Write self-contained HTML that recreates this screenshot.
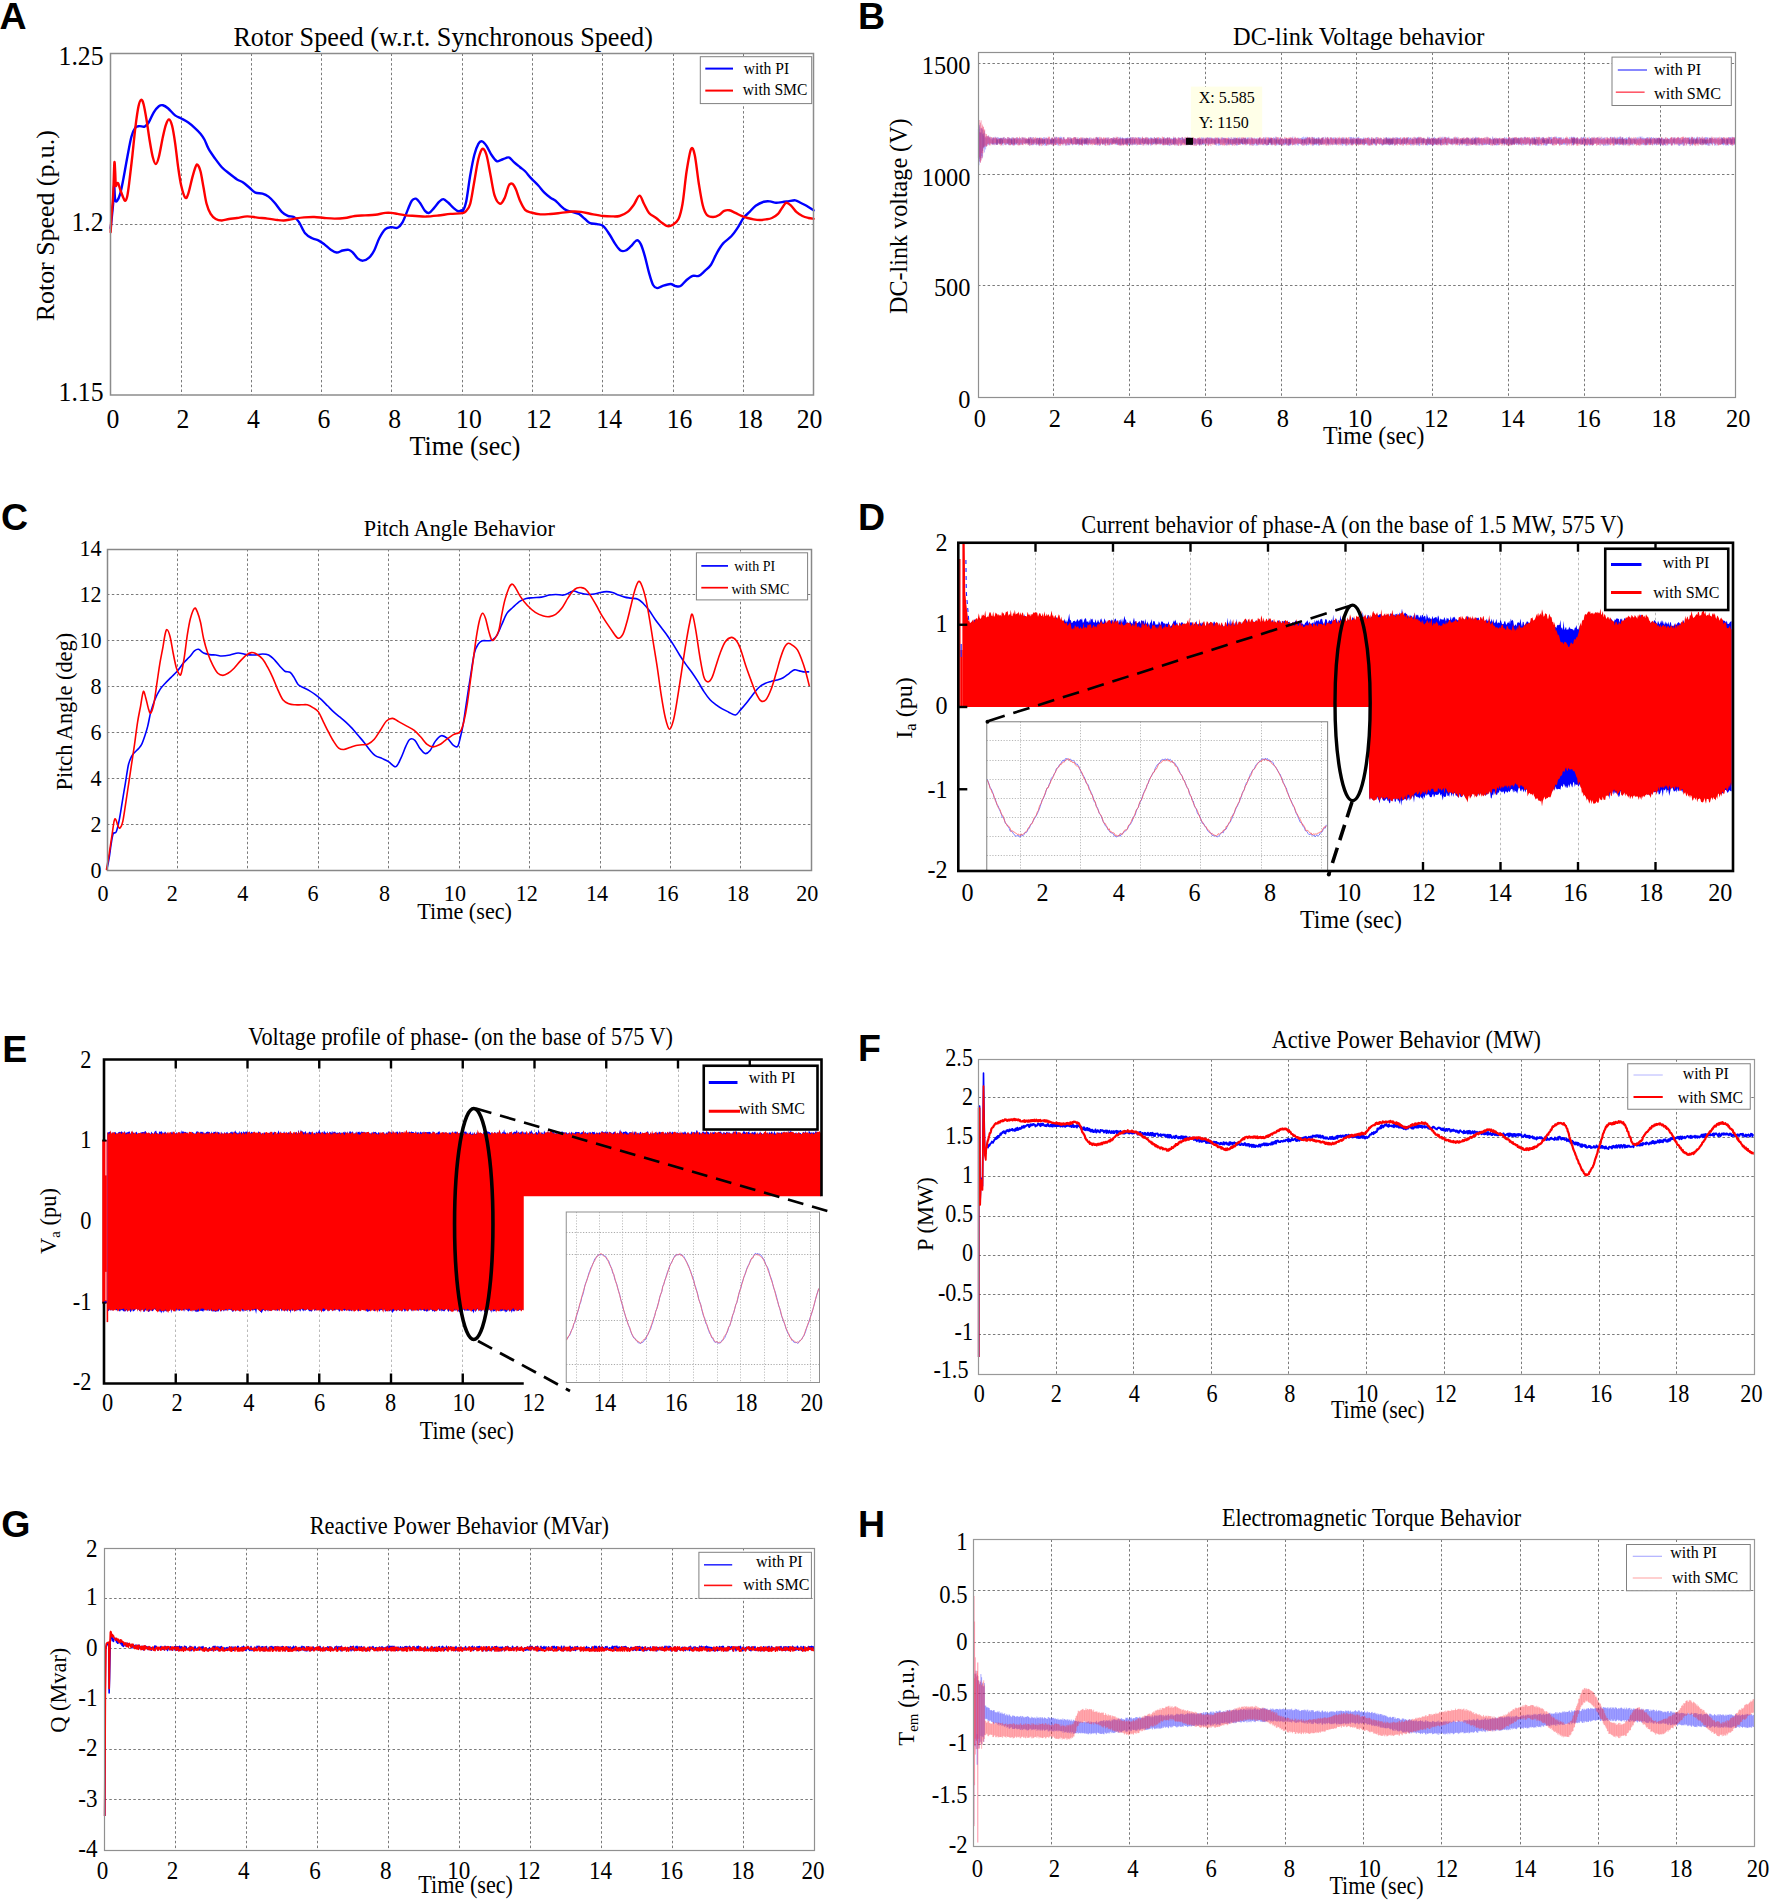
<!DOCTYPE html>
<html><head><meta charset="utf-8"><title>Figure</title><style>html,body{margin:0;padding:0;background:#fff;}svg{display:block;}</style></head><body>
<svg width="1772" height="1902" viewBox="0 0 1772 1902" font-family="Liberation Serif,Times New Roman,serif">
<rect width="1772" height="1902" fill="#fff"/>
<line x1="181.5" y1="53.5" x2="181.5" y2="395" stroke="#7a7a7a" stroke-width="1" stroke-dasharray="2.5,2.3"/>
<line x1="251.5" y1="53.5" x2="251.5" y2="395" stroke="#7a7a7a" stroke-width="1" stroke-dasharray="2.5,2.3"/>
<line x1="321.5" y1="53.5" x2="321.5" y2="395" stroke="#7a7a7a" stroke-width="1" stroke-dasharray="2.5,2.3"/>
<line x1="391.5" y1="53.5" x2="391.5" y2="395" stroke="#7a7a7a" stroke-width="1" stroke-dasharray="2.5,2.3"/>
<line x1="462.5" y1="53.5" x2="462.5" y2="395" stroke="#7a7a7a" stroke-width="1" stroke-dasharray="2.5,2.3"/>
<line x1="532.5" y1="53.5" x2="532.5" y2="395" stroke="#7a7a7a" stroke-width="1" stroke-dasharray="2.5,2.3"/>
<line x1="602.5" y1="53.5" x2="602.5" y2="395" stroke="#7a7a7a" stroke-width="1" stroke-dasharray="2.5,2.3"/>
<line x1="673.5" y1="53.5" x2="673.5" y2="395" stroke="#7a7a7a" stroke-width="1" stroke-dasharray="2.5,2.3"/>
<line x1="743.5" y1="53.5" x2="743.5" y2="395" stroke="#7a7a7a" stroke-width="1" stroke-dasharray="2.5,2.3"/>
<line x1="110.8" y1="224.5" x2="813.7" y2="224.5" stroke="#7a7a7a" stroke-width="1" stroke-dasharray="2.5,2.3"/>
<path d="M110.69 228.16C111.1 224.09 112.55 210.89 113.13 203.77C113.7 196.66 113.8 186.17 114.14 185.49C114.48 184.81 114.65 197.17 115.16 199.71C115.67 202.25 116.34 201.74 117.19 200.73C118.04 199.71 119.22 197.17 120.24 193.62C121.25 190.06 122.1 185.49 123.29 179.39C124.47 173.3 125.99 164.16 127.35 157.05C128.7 149.93 130.06 141.64 131.41 136.73C132.77 131.82 134.12 129.35 135.48 127.59C136.83 125.83 138.02 126.33 139.54 126.16C141.06 125.99 143.09 127.18 144.62 126.57C146.14 125.96 147.16 124.88 148.68 122.51C150.21 120.14 152.07 115.06 153.76 112.35C155.45 109.64 157.32 107.44 158.84 106.25C160.36 105.07 161.38 104.9 162.9 105.24C164.43 105.58 165.95 106.59 167.98 108.29C170.01 109.98 172.89 113.7 175.09 115.4C177.29 117.09 178.99 117.26 181.19 118.44C183.39 119.63 186.1 120.98 188.3 122.51C190.5 124.03 192.36 125.72 194.39 127.59C196.43 129.45 198.8 131.65 200.49 133.68C202.18 135.71 203.2 137.24 204.55 139.78C205.91 142.32 206.92 145.87 208.62 148.92C210.31 151.97 212.51 155.01 214.71 158.06C216.91 161.11 219.45 164.66 221.82 167.2C224.19 169.74 226.39 171.27 228.93 173.3C231.47 175.33 234.69 177.87 237.06 179.39C239.43 180.92 241.12 181.09 243.16 182.44C245.19 183.8 247.22 185.83 249.25 187.52C251.28 189.21 253.14 191.58 255.35 192.6C257.55 193.62 260.26 192.94 262.46 193.62C264.66 194.29 266.52 195.14 268.55 196.66C270.58 198.19 272.45 200.22 274.65 202.76C276.85 205.3 279.56 209.7 281.76 211.9C283.96 214.1 285.82 215.12 287.85 215.97C289.88 216.81 292.09 215.97 293.95 216.98C295.81 218 297.16 219.35 299.03 222.06C300.89 224.77 302.92 230.53 305.12 233.23C307.32 235.94 310.03 237.13 312.23 238.31C314.43 239.5 316.3 239.33 318.33 240.35C320.36 241.36 322.39 242.89 324.42 244.41C326.45 245.93 328.49 248.13 330.52 249.49C332.55 250.84 334.58 252.37 336.61 252.54C338.64 252.7 340.68 250.94 342.71 250.5C344.74 250.06 347.11 249.56 348.8 249.89C350.5 250.23 351.34 251.08 352.87 252.54C354.39 253.99 356.25 257.28 357.95 258.63C359.64 259.99 361.16 260.83 363.03 260.66C364.89 260.49 367.26 259.31 369.12 257.61C370.98 255.92 372.51 253.72 374.2 250.5C375.89 247.29 377.42 241.87 379.28 238.31C381.14 234.76 383.34 231.03 385.37 229.17C387.41 227.31 389.44 227.38 391.47 227.14C393.5 226.9 395.7 228.6 397.56 227.75C399.43 226.9 400.95 225.04 402.64 222.06C404.34 219.08 406.2 213.43 407.72 209.87C409.25 206.31 410.43 202.59 411.79 200.73C413.14 198.86 414.49 198.36 415.85 198.7C417.2 199.03 418.39 200.73 419.91 202.76C421.44 204.79 423.47 209.19 424.99 210.89C426.52 212.58 427.53 213.43 429.06 212.92C430.58 212.41 432.44 209.7 434.13 207.84C435.83 205.98 437.69 203.2 439.21 201.74C440.74 200.29 441.75 198.93 443.28 199.1C444.8 199.27 446.66 201.3 448.36 202.76C450.05 204.22 451.74 206.42 453.44 207.84C455.13 209.26 456.99 210.95 458.51 211.29C460.04 211.63 461.88 209.84 462.58 209.87C463.28 209.9 462.12 212.85 462.72 211.5C463.32 210.14 464.92 207.77 466.17 201.74C467.43 195.72 468.88 183.12 470.24 175.33C471.59 167.54 472.95 160.26 474.3 155.01C475.66 149.77 477.08 146.11 478.36 143.84C479.65 141.57 480.67 141.06 482.02 141.4C483.38 141.74 484.9 143.6 486.49 145.87C488.08 148.14 489.88 152.47 491.57 155.01C493.26 157.55 495.13 160.26 496.65 161.11C498.17 161.96 499.19 160.6 500.71 160.09C502.24 159.59 504.34 158.47 505.79 158.06C507.25 157.66 508.09 156.98 509.45 157.66C510.8 158.33 512.16 160.53 513.92 162.13C515.68 163.72 518.15 165.68 520.01 167.2C521.88 168.73 523.23 169.41 525.09 171.27C526.96 173.13 528.99 176.01 531.19 178.38C533.39 180.75 536.1 183.12 538.3 185.49C540.5 187.86 542.36 190.57 544.39 192.6C546.43 194.63 548.63 196.33 550.49 197.68C552.35 199.03 553.88 199.37 555.57 200.73C557.26 202.08 558.96 204.28 560.65 205.81C562.34 207.33 563.86 208.85 565.73 209.87C567.59 210.89 569.62 211.22 571.82 211.9C574.02 212.58 576.73 212.75 578.93 213.93C581.13 215.12 583.17 217.49 585.03 219.01C586.89 220.54 588.08 222.23 590.11 223.08C592.14 223.92 595.02 223.58 597.22 224.09C599.42 224.6 601.28 224.43 603.31 226.12C605.35 227.82 607.38 231.2 609.41 234.25C611.44 237.3 613.64 241.7 615.5 244.41C617.37 247.12 618.89 249.49 620.58 250.5C622.28 251.52 623.97 251.18 625.66 250.5C627.36 249.83 628.88 248.13 630.74 246.44C632.6 244.75 635.14 240.68 636.84 240.35C638.53 240.01 639.55 241.7 640.9 244.41C642.25 247.12 643.61 251.86 644.96 256.6C646.32 261.34 647.67 268.11 649.03 272.85C650.38 277.59 651.74 282.5 653.09 285.04C654.44 287.58 655.63 287.92 657.15 288.09C658.68 288.26 660.03 286.74 662.23 286.06C664.43 285.38 668.16 284.03 670.36 284.03C672.56 284.03 673.75 285.72 675.44 286.06C677.13 286.4 678.66 287.07 680.52 286.06C682.38 285.04 684.58 281.66 686.61 279.96C688.64 278.27 690.68 276.58 692.71 275.9C694.74 275.22 696.77 276.75 698.8 275.9C700.84 275.05 702.87 272.68 704.9 270.82C706.93 268.96 708.96 267.77 710.99 264.73C713.03 261.68 715.06 256.09 717.09 252.54C719.12 248.98 720.81 246.1 723.18 243.39C725.55 240.68 728.94 238.82 731.31 236.28C733.68 233.74 735.37 231.2 737.41 228.16C739.44 225.11 741.47 220.71 743.5 218C745.53 215.29 747.56 213.93 749.6 211.9C751.63 209.87 753.32 207.5 755.69 205.81C758.06 204.11 761.45 202.49 763.82 201.74C766.19 201 767.88 201.17 769.91 201.34C771.94 201.51 773.98 202.62 776.01 202.76C778.04 202.89 780.07 202.39 782.1 202.15C784.13 201.91 786 201.64 788.2 201.34C790.4 201.03 793.28 200.08 795.31 200.32C797.34 200.56 798.53 201.84 800.39 202.76C802.25 203.67 804.28 204.55 806.48 205.81C808.68 207.06 812.41 209.53 813.59 210.28" fill="none" stroke="#0000ff" stroke-width="2.4" stroke-linejoin="round" stroke-linecap="round"/>
<path d="M110.69 232.22C110.82 229.51 111.1 222.06 111.5 215.97C111.91 209.87 112.65 204.45 113.13 195.65C113.6 186.84 114.01 167.2 114.35 163.14C114.68 159.08 114.92 167.54 115.16 171.27C115.4 174.99 115.5 183.46 115.77 185.49C116.04 187.52 116.38 183.8 116.78 183.46C117.19 183.12 117.63 182.44 118.21 183.46C118.78 184.47 119.39 187.18 120.24 189.55C121.08 191.92 122.44 195.82 123.29 197.68C124.13 199.54 124.64 201.07 125.32 200.73C125.99 200.39 126.67 198.86 127.35 195.65C128.03 192.43 128.53 188.2 129.38 181.43C130.23 174.65 131.41 164.16 132.43 155.01C133.44 145.87 134.46 134.7 135.48 126.57C136.49 118.44 137.57 110.72 138.52 106.25C139.47 101.78 140.32 100.09 141.16 99.75C142.01 99.41 142.69 100.77 143.6 104.22C144.52 107.68 145.63 114.38 146.65 120.48C147.67 126.57 148.68 134.7 149.7 140.79C150.71 146.89 151.73 153.15 152.74 157.05C153.76 160.94 154.78 164.16 155.79 164.16C156.81 164.16 157.65 161.62 158.84 157.05C160.03 152.47 161.72 142.15 162.9 136.73C164.09 131.31 164.93 127.42 165.95 124.54C166.97 121.66 167.98 119.29 169 119.46C170.01 119.63 171.03 121.66 172.05 125.55C173.06 129.45 174.08 135.88 175.09 142.82C176.11 149.77 177.13 160.09 178.14 167.2C179.16 174.32 180 180.41 181.19 185.49C182.37 190.57 184.07 196.33 185.25 197.68C186.44 199.03 187.11 197 188.3 193.62C189.48 190.23 191.18 181.76 192.36 177.36C193.55 172.96 194.56 169.3 195.41 167.2C196.26 165.1 196.6 164.09 197.44 164.77C198.29 165.44 199.47 167.48 200.49 171.27C201.51 175.06 202.52 182.1 203.54 187.52C204.55 192.94 205.4 199.37 206.58 203.77C207.77 208.18 209.12 211.39 210.65 213.93C212.17 216.47 213.86 217.93 215.73 219.01C217.59 220.1 219.62 220.43 221.82 220.43C224.02 220.43 226.39 219.42 228.93 219.01C231.47 218.61 234.01 218.44 237.06 218C240.11 217.56 243.83 216.44 247.22 216.37C250.6 216.3 253.99 217.22 257.38 217.59C260.76 217.96 264.15 218.2 267.54 218.61C270.92 219.01 274.99 219.72 277.69 220.03C280.4 220.33 281.76 220.5 283.79 220.43C285.82 220.37 287.85 219.96 289.88 219.62C291.92 219.28 293.61 218.78 295.98 218.4C298.35 218.03 301.06 217.62 304.11 217.39C307.15 217.15 310.88 216.88 314.26 216.98C317.65 217.08 321.04 217.73 324.42 218C327.81 218.27 331.2 218.61 334.58 218.61C337.97 218.61 341.35 218.44 344.74 218C348.13 217.56 351.51 216.41 354.9 215.97C358.28 215.52 361.67 215.56 365.06 215.36C368.44 215.15 371.83 215.15 375.22 214.75C378.6 214.34 382.66 213.22 385.37 212.92C388.08 212.61 389.44 212.75 391.47 212.92C393.5 213.09 395.19 213.53 397.56 213.93C399.93 214.34 402.64 215.02 405.69 215.36C408.74 215.69 412.46 215.76 415.85 215.97C419.24 216.17 422.28 216.64 426.01 216.57C429.73 216.51 434.13 216 438.2 215.56C442.26 215.12 446.32 214.34 450.39 213.93C454.45 213.53 459.95 213.63 462.58 213.12C465.21 212.61 464.9 212.44 466.17 210.89C467.45 209.33 468.88 208.68 470.24 203.77C471.59 198.86 472.95 188.88 474.3 181.43C475.66 173.98 477.01 164.5 478.36 159.08C479.72 153.66 481.07 149.6 482.43 148.92C483.78 148.24 485.14 150.61 486.49 155.01C487.85 159.42 489.2 168.56 490.55 175.33C491.91 182.1 493.03 190.91 494.62 195.65C496.21 200.39 498.41 203.44 500.1 203.77C501.8 204.11 503.32 200.73 504.78 197.68C506.23 194.63 507.55 187.79 508.84 185.49C510.13 183.19 511.31 183.19 512.5 183.86C513.68 184.54 514.7 186.74 515.95 189.55C517.2 192.36 518.49 197.34 520.01 200.73C521.54 204.11 523.23 207.91 525.09 209.87C526.96 211.83 528.65 211.77 531.19 212.51C533.73 213.26 537.11 214.1 540.33 214.34C543.55 214.58 547.1 214.17 550.49 213.93C553.88 213.7 556.92 213.32 560.65 212.92C564.37 212.51 569.45 211.66 572.84 211.5C576.22 211.33 577.58 211.43 580.97 211.9C584.35 212.38 589.43 213.66 593.16 214.34C596.88 215.02 600.27 215.63 603.31 215.97C606.36 216.3 608.73 216.37 611.44 216.37C614.15 216.37 616.86 216.71 619.57 215.97C622.28 215.22 625.32 213.76 627.69 211.9C630.06 210.04 631.83 207.5 633.79 204.79C635.75 202.08 637.78 195.82 639.48 195.65C641.17 195.48 642.36 200.9 643.95 203.77C645.54 206.65 647 210.55 649.03 212.92C651.06 215.29 653.94 216.3 656.14 218C658.34 219.69 660.37 221.72 662.23 223.08C664.1 224.43 665.62 225.78 667.31 226.12C669.01 226.46 670.53 226.29 672.39 225.11C674.25 223.92 676.79 222.57 678.49 219.01C680.18 215.46 681.2 211.73 682.55 203.77C683.9 195.82 685.19 180.41 686.61 171.27C688.04 162.13 689.73 151.63 691.08 148.92C692.44 146.21 693.45 149.26 694.74 155.01C696.03 160.77 697.45 174.99 698.8 183.46C700.16 191.92 701.51 200.56 702.87 205.81C704.22 211.06 705.24 213.09 706.93 214.95C708.62 216.81 710.99 216.98 713.03 216.98C715.06 216.98 717.26 215.97 719.12 214.95C720.98 213.93 722.51 211.66 724.2 210.89C725.89 210.11 727.42 209.94 729.28 210.28C731.14 210.61 733.34 211.97 735.37 212.92C737.41 213.87 739.44 215.12 741.47 215.97C743.5 216.81 745.53 217.42 747.56 218C749.6 218.57 751.63 219.08 753.66 219.42C755.69 219.76 757.72 220.03 759.75 220.03C761.79 220.03 763.82 219.76 765.85 219.42C767.88 219.08 769.91 218.91 771.94 218C773.98 217.08 776.35 215.63 778.04 213.93C779.73 212.24 780.75 209.7 782.1 207.84C783.46 205.98 784.64 203.1 786.17 202.76C787.69 202.42 789.55 204.28 791.25 205.81C792.94 207.33 794.46 210.21 796.32 211.9C798.19 213.59 800.39 214.95 802.42 215.97C804.45 216.98 806.65 217.52 808.51 218C810.38 218.47 812.75 218.67 813.59 218.81" fill="none" stroke="#ff0000" stroke-width="2.4" stroke-linejoin="round" stroke-linecap="round"/>
<rect x="110.5" y="53.5" width="703" height="341.5" fill="none" stroke="#8c8c8c" stroke-width="1.5"/>
<rect x="700.3" y="56.7" width="111.4" height="46.9" fill="#fff" stroke="#808080" stroke-width="1"/>
<line x1="705.3" y1="68.6" x2="733" y2="68.6" stroke="#0000ff" stroke-width="2"/>
<line x1="705.3" y1="90.6" x2="733" y2="90.6" stroke="#ff0000" stroke-width="2"/>
<text transform="translate(743.7 74) scale(1 1.07)" font-size="15.6">with PI</text>
<text transform="translate(742.8 94.8) scale(1 1.07)" font-size="15.6">with SMC</text>
<text transform="translate(103.5 65) scale(1 1.06)" font-size="25.7" text-anchor="end">1.25</text>
<text transform="translate(103.5 231) scale(1 1.06)" font-size="25.7" text-anchor="end">1.2</text>
<text transform="translate(103.5 401.3) scale(1 1.06)" font-size="25.7" text-anchor="end">1.15</text>
<text transform="translate(113 427.5) scale(1 1.06)" font-size="25.7" text-anchor="middle">0</text>
<text transform="translate(183 427.5) scale(1 1.06)" font-size="25.7" text-anchor="middle">2</text>
<text transform="translate(253.4 427.5) scale(1 1.06)" font-size="25.7" text-anchor="middle">4</text>
<text transform="translate(323.8 427.5) scale(1 1.06)" font-size="25.7" text-anchor="middle">6</text>
<text transform="translate(394.6 427.5) scale(1 1.06)" font-size="25.7" text-anchor="middle">8</text>
<text transform="translate(468.9 427.5) scale(1 1.06)" font-size="25.7" text-anchor="middle">10</text>
<text transform="translate(538.8 427.5) scale(1 1.06)" font-size="25.7" text-anchor="middle">12</text>
<text transform="translate(609.2 427.5) scale(1 1.06)" font-size="25.7" text-anchor="middle">14</text>
<text transform="translate(679.6 427.5) scale(1 1.06)" font-size="25.7" text-anchor="middle">16</text>
<text transform="translate(750 427.5) scale(1 1.06)" font-size="25.7" text-anchor="middle">18</text>
<text transform="translate(809.5 427.5) scale(1 1.06)" font-size="25.7" text-anchor="middle">20</text>
<text transform="translate(409.5 455.4) scale(1 1.06)" font-size="25.7" textLength="111" lengthAdjust="spacingAndGlyphs">Time (sec)</text>
<text transform="translate(233.4 45.8) scale(1 1.06)" font-size="25.7" textLength="419.5" lengthAdjust="spacingAndGlyphs">Rotor Speed (w.r.t. Synchronous Speed)</text>
<text transform="translate(53.8,225.7) rotate(-90)" text-anchor="middle" font-size="25.7" textLength="191" lengthAdjust="spacingAndGlyphs">Rotor Speed (p.u.)</text>
<line x1="1053.5" y1="52.5" x2="1053.5" y2="397" stroke="#7a7a7a" stroke-width="1" stroke-dasharray="2.5,2.3"/>
<line x1="1129.5" y1="52.5" x2="1129.5" y2="397" stroke="#7a7a7a" stroke-width="1" stroke-dasharray="2.5,2.3"/>
<line x1="1205.5" y1="52.5" x2="1205.5" y2="397" stroke="#7a7a7a" stroke-width="1" stroke-dasharray="2.5,2.3"/>
<line x1="1281.5" y1="52.5" x2="1281.5" y2="397" stroke="#7a7a7a" stroke-width="1" stroke-dasharray="2.5,2.3"/>
<line x1="1356.5" y1="52.5" x2="1356.5" y2="397" stroke="#7a7a7a" stroke-width="1" stroke-dasharray="2.5,2.3"/>
<line x1="1432.5" y1="52.5" x2="1432.5" y2="397" stroke="#7a7a7a" stroke-width="1" stroke-dasharray="2.5,2.3"/>
<line x1="1508.5" y1="52.5" x2="1508.5" y2="397" stroke="#7a7a7a" stroke-width="1" stroke-dasharray="2.5,2.3"/>
<line x1="1584.5" y1="52.5" x2="1584.5" y2="397" stroke="#7a7a7a" stroke-width="1" stroke-dasharray="2.5,2.3"/>
<line x1="1660.5" y1="52.5" x2="1660.5" y2="397" stroke="#7a7a7a" stroke-width="1" stroke-dasharray="2.5,2.3"/>
<line x1="978" y1="63.5" x2="1735.8" y2="63.5" stroke="#7a7a7a" stroke-width="1" stroke-dasharray="2.5,2.3"/>
<line x1="978" y1="174.5" x2="1735.8" y2="174.5" stroke="#7a7a7a" stroke-width="1" stroke-dasharray="2.5,2.3"/>
<line x1="978" y1="285.5" x2="1735.8" y2="285.5" stroke="#7a7a7a" stroke-width="1" stroke-dasharray="2.5,2.3"/>
<path d="M978.4 129.06 V158.06 M979 129.21 V165.2 M979.6 124.91 V161.43 M980.2 132.71 V162.39 M980.8 128.23 V159.92 M981.4 128.58 V156.07 M982 128.29 V158.43 M982.6 134.29 V156.66 M983.2 133.79 V147.4 M983.8 135.74 V148.61 M984.4 130.87 V152.48 M985 137.64 V145.81 M985.6 137.27 V149.47 M986.2 135.85 V146.82 M986.8 138.18 V145.67 M987.4 136.53 V143.85 M988 136.52 V145.15 M988.6 135.52 V144.27 M989.2 137.88 V145.12 M989.8 136.86 V143.8 M990.4 137.42 V143.04 M991 139.53 V143.83 M991.6 138.55 V143.69 M992.2 137.77 V144.99 M992.8 138.69 V143.95 M993.4 137.39 V144.53 M994 137.65 V144.11 M994.6 138.48 V144.7 M995.2 136.7 V144 M995.8 138.7 V144.46 M996.4 138.25 V144.93 M997 136.96 V144.7 M997.6 138.83 V144.47 M998.2 137.32 V143.09 M998.8 137.77 V143.56 M999.4 138.35 V142.75 M1000 138.52 V143.9 M1000.6 137.7 V142.97 M1001.2 138.63 V143.79 M1001.8 137.91 V145 M1002.4 139.88 V143.5 M1003 137.45 V145.64 M1003.6 137.96 V143.39 M1004.2 137.07 V143.21 M1004.8 138.56 V143.82 M1005.4 138.24 V144.64 M1006 138.77 V145.08 M1006.6 138.5 V144.33 M1007.2 139.05 V143.7 M1007.8 137.09 V144.28 M1008.4 138.48 V144.7 M1009 137.43 V145.25 M1009.6 138.16 V143.23 M1010.2 138.83 V143.14 M1010.8 138.84 V145.13 M1011.4 138.92 V144.68 M1012 137.07 V144 M1012.6 139.36 V145.41 M1013.2 137.65 V144.91 M1013.8 139.29 V144.1 M1014.4 139.4 V145.54 M1015 138.13 V144.65 M1015.6 137.84 V144.63 M1016.2 139.39 V144.03 M1016.8 138.06 V144.9 M1017.4 137.37 V143.06 M1018 137.97 V143.16 M1018.6 138.57 V144.61 M1019.2 138.31 V144.64 M1019.8 138.6 V144.79 M1020.4 137.96 V143.85 M1021 138.95 V144.92 M1021.6 139.35 V143.6 M1022.2 136.9 V144.46 M1022.8 137.95 V144.13 M1023.4 137.92 V142.69 M1024 137.68 V144.3 M1024.6 139.01 V143.76 M1025.2 137.56 V142.98 M1025.8 138.87 V143.11 M1026.4 139.54 V142.85 M1027 139.09 V143.38 M1027.6 139.63 V143.22 M1028.2 138.67 V143.32 M1028.8 137.6 V142.38 M1029.4 139.16 V145.6 M1030 136.85 V142.88 M1030.6 137.49 V145.17 M1031.2 137.03 V143.79 M1031.8 139.38 V145.01 M1032.4 138.6 V145.19 M1033 137.2 V145.28 M1033.6 140.01 V144.44 M1034.2 139.76 V143.42 M1034.8 139.05 V144.37 M1035.4 138.8 V142.93 M1036 138.78 V144.98 M1036.6 138.3 V145.39 M1037.2 137.47 V143.47 M1037.8 138.43 V143.1 M1038.4 139.64 V144.34 M1039 138.17 V145.83 M1039.6 137.32 V144.5 M1040.2 139.28 V144.7 M1040.8 138.82 V143.92 M1041.4 139.8 V143.54 M1042 138.51 V143.11 M1042.6 138.74 V145.68 M1043.2 137.78 V142.86 M1043.8 137.05 V145.18 M1044.4 139.24 V143.48 M1045 138.14 V145.76 M1045.6 138.36 V145.27 M1046.2 137.16 V145.4 M1046.8 138.25 V143.99 M1047.4 138.55 V143.8 M1048 138.91 V145.6 M1048.6 137.97 V144.01 M1049.2 139.09 V144.71 M1049.8 139.57 V144.26 M1050.4 138.63 V143.74 M1051 139.78 V144.59 M1051.6 139.54 V143.59 M1052.2 137.66 V143.84 M1052.8 139.59 V145.57 M1053.4 139.94 V144.44 M1054 139.98 V143.83 M1054.6 137.27 V143.26 M1055.2 138.38 V144.32 M1055.8 136.77 V144.95 M1056.4 137.33 V144.38 M1057 136.95 V144.83 M1057.6 139.16 V144.38 M1058.2 138.48 V146.08 M1058.8 138.99 V143.19 M1059.4 136.97 V144.11 M1060 138.07 V144.18 M1060.6 136.67 V143.6 M1061.2 137.53 V143.67 M1061.8 136.9 V144.16 M1062.4 139.31 V143.54 M1063 137.99 V145.55 M1063.6 137.22 V143.9 M1064.2 137.58 V142.61 M1064.8 138.99 V143.96 M1065.4 139.67 V145.83 M1066 139.55 V142.85 M1066.6 138.95 V144.89 M1067.2 139.71 V145.54 M1067.8 137.09 V144.17 M1068.4 138.54 V145.05 M1069 137.4 V145.53 M1069.6 138.92 V145.05 M1070.2 138.31 V143.13 M1070.8 137.28 V142.9 M1071.4 139.38 V143.41 M1072 139.15 V144.88 M1072.6 139.96 V145.45 M1073.2 138.12 V143.79 M1073.8 139.09 V144.73 M1074.4 137.37 V144.25 M1075 137 V143.01 M1075.6 137.72 V144.88 M1076.2 138.82 V144.28 M1076.8 139.27 V144.24 M1077.4 139.44 V142.98 M1078 137.17 V144.21 M1078.6 139.4 V145.53 M1079.2 139.67 V143.96 M1079.8 139.59 V144.62 M1080.4 138.86 V144.17 M1081 138.29 V144.9 M1081.6 139.16 V145.01 M1082.2 137.33 V145.18 M1082.8 138.31 V144.86 M1083.4 138.95 V142.44 M1084 138.21 V143.79 M1084.6 138.42 V145.22 M1085.2 139.42 V144.43 M1085.8 137.99 V144.34 M1086.4 137.74 V144.72 M1087 138.76 V143.55 M1087.6 138.33 V145.32 M1088.2 138.55 V142.85 M1088.8 139.43 V144.58 M1089.4 137.47 V143.43 M1090 137.69 V144.42 M1090.6 139.92 V143.21 M1091.2 138.74 V144.27 M1091.8 138.26 V143.43 M1092.4 138.74 V143.36 M1093 138.92 V142.8 M1093.6 138.33 V143.61 M1094.2 138.71 V143.2 M1094.8 139.44 V145.01 M1095.4 138.85 V144.9 M1096 137.36 V145.28 M1096.6 137.41 V144.03 M1097.2 137.2 V143.86 M1097.8 138.44 V145.41 M1098.4 136.99 V143.6 M1099 138.65 V144.03 M1099.6 139.72 V146.01 M1100.2 139.36 V145.19 M1100.8 138.48 V144.35 M1101.4 137.69 V143.18 M1102 138.89 V143.39 M1102.6 139.21 V144.51 M1103.2 138.4 V143.95 M1103.8 139.71 V144.38 M1104.4 138.84 V145.26 M1105 139.88 V144.73 M1105.6 137.84 V144.38 M1106.2 138.58 V143.46 M1106.8 137.58 V142.63 M1107.4 139.39 V145.1 M1108 137.07 V143.55 M1108.6 138.07 V143.46 M1109.2 139.23 V145.35 M1109.8 139.07 V145.31 M1110.4 138.52 V144.46 M1111 138.49 V144.33 M1111.6 138.02 V144.28 M1112.2 138.48 V144.84 M1112.8 137.65 V143.99 M1113.4 138.3 V143.83 M1114 137.29 V143.55 M1114.6 137.84 V143.39 M1115.2 139.66 V143.46 M1115.8 139.31 V144.72 M1116.4 138.03 V143.19 M1117 137.21 V144.96 M1117.6 139.38 V144.86 M1118.2 139.51 V143.47 M1118.8 136.96 V144.69 M1119.4 138.61 V144.87 M1120 138.79 V145.98 M1120.6 136.82 V144.9 M1121.2 137.97 V145.06 M1121.8 138.3 V144.23 M1122.4 137.28 V143.33 M1123 138.64 V144.47 M1123.6 138.23 V144.85 M1124.2 138.5 V144.24 M1124.8 138.29 V144.88 M1125.4 137.91 V143.4 M1126 138.29 V144.05 M1126.6 138.65 V144.66 M1127.2 137.93 V144.46 M1127.8 137.16 V143.08 M1128.4 139.08 V145 M1129 138.59 V144.92 M1129.6 138.07 V143.02 M1130.2 136.98 V143.42 M1130.8 137.37 V145.29 M1131.4 139.44 V142.85 M1132 137.37 V145.12 M1132.6 137.58 V144.11 M1133.2 139.04 V145.02 M1133.8 137.23 V144.38 M1134.4 138.51 V143.46 M1135 137.29 V145 M1135.6 139.02 V144.11 M1136.2 137.72 V143.04 M1136.8 138.76 V145.7 M1137.4 139.28 V144.4 M1138 137.64 V143.45 M1138.6 137.18 V144.11 M1139.2 137.23 V144.66 M1139.8 137.71 V143.54 M1140.4 137.39 V144.98 M1141 138.99 V145.03 M1141.6 139.2 V142.94 M1142.2 137.02 V142.79 M1142.8 138.55 V144.63 M1143.4 138.11 V143.87 M1144 139.65 V145.36 M1144.6 139.07 V144.15 M1145.2 139.02 V143.65 M1145.8 138.89 V144.17 M1146.4 136.97 V143.21 M1147 138.29 V143.39 M1147.6 139.51 V144.55 M1148.2 137.48 V145.47 M1148.8 138.6 V143.63 M1149.4 137.95 V143.41 M1150 140.03 V144.54 M1150.6 137.26 V145.65 M1151.2 138.18 V144.27 M1151.8 137.48 V143.46 M1152.4 138.57 V145.08 M1153 138.43 V144.09 M1153.6 138.62 V144.07 M1154.2 137.09 V143.43 M1154.8 139.15 V143.99 M1155.4 139.47 V143.4 M1156 138.75 V142.69 M1156.6 137.4 V143.35 M1157.2 138.01 V144.09 M1157.8 138.9 V144.28 M1158.4 139.24 V144.24 M1159 138.26 V142.86 M1159.6 137.63 V143.02 M1160.2 137.77 V145.1 M1160.8 139.61 V144.31 M1161.4 138.12 V143.83 M1162 139.31 V144.34 M1162.6 139.15 V143.53 M1163.2 138.32 V144.93 M1163.8 139.1 V145.65 M1164.4 136.95 V144.41 M1165 139.41 V145.27 M1165.6 138.45 V143.7 M1166.2 138.46 V144.74 M1166.8 138.68 V144.43 M1167.4 137.08 V144.76 M1168 139.82 V145.49 M1168.6 137.93 V143.82 M1169.2 137.31 V145.36 M1169.8 137.64 V146 M1170.4 139.18 V143.25 M1171 138.73 V144.97 M1171.6 138.27 V145.03 M1172.2 138.41 V144.77 M1172.8 139.38 V143.92 M1173.4 137.84 V144.08 M1174 137.73 V144.33 M1174.6 137.64 V143.58 M1175.2 137.51 V145.04 M1175.8 139.46 V142.84 M1176.4 138.54 V144.19 M1177 139.48 V145.82 M1177.6 139.95 V144.8 M1178.2 137.27 V143.33 M1178.8 138.53 V145.4 M1179.4 137.81 V142.56 M1180 137.78 V143.3 M1180.6 137.92 V145.23 M1181.2 138.04 V145.51 M1181.8 137.4 V145.29 M1182.4 137.06 V143.77 M1183 138.01 V142.76 M1183.6 138.63 V142.89 M1184.2 138.84 V144.12 M1184.8 137.7 V142.94 M1185.4 139.01 V145.16 M1186 137.99 V143.64 M1186.6 138.07 V145.15 M1187.2 138.74 V144.19 M1187.8 139.96 V143.49 M1188.4 137.33 V145.22 M1189 140.02 V143.35 M1189.6 138.01 V144.9 M1190.2 137.36 V143.47 M1190.8 139 V145.35 M1191.4 138.31 V144.7 M1192 138.25 V145.22 M1192.6 138.43 V144.33 M1193.2 137.95 V143.82 M1193.8 138.8 V144.22 M1194.4 138.03 V145.16 M1195 138.32 V144.31 M1195.6 139.05 V144.27 M1196.2 138.55 V145.59 M1196.8 138.74 V143.28 M1197.4 139.02 V143.33 M1198 137.84 V144.35 M1198.6 138.47 V143.96 M1199.2 139.28 V145.27 M1199.8 137.9 V145.91 M1200.4 138.92 V144.51 M1201 138.99 V142.89 M1201.6 136.88 V144.98 M1202.2 139.76 V144.18 M1202.8 137.21 V144.35 M1203.4 138.64 V144.92 M1204 137.56 V143.23 M1204.6 139.42 V144.59 M1205.2 138.18 V144.01 M1205.8 139.43 V143.77 M1206.4 138.38 V143.28 M1207 137.31 V144.48 M1207.6 136.94 V143.61 M1208.2 137.33 V144.66 M1208.8 138.12 V144.19 M1209.4 137.49 V144.55 M1210 137.31 V143.71 M1210.6 137.27 V143.96 M1211.2 138.71 V143.4 M1211.8 137.5 V143.37 M1212.4 138.41 V142.63 M1213 138.45 V142.87 M1213.6 138.63 V143.42 M1214.2 137.64 V143.5 M1214.8 138.22 V143.72 M1215.4 138.98 V145.14 M1216 138.08 V144.07 M1216.6 137.65 V145.63 M1217.2 138.45 V144.19 M1217.8 139.43 V142.78 M1218.4 137.53 V145.77 M1219 137.3 V144.54 M1219.6 139.27 V145.33 M1220.2 139.88 V145.4 M1220.8 138.29 V142.81 M1221.4 139.09 V144.85 M1222 137.43 V142.51 M1222.6 137.08 V144.64 M1223.2 137.66 V143.22 M1223.8 138.01 V143.76 M1224.4 138.57 V144.01 M1225 137.73 V142.71 M1225.6 139.05 V144.79 M1226.2 139.36 V145.43 M1226.8 138.89 V145.36 M1227.4 139.05 V144.51 M1228 139.1 V143.32 M1228.6 136.92 V144.2 M1229.2 137.68 V143.65 M1229.8 138.85 V144.4 M1230.4 139.03 V143.09 M1231 136.81 V144.86 M1231.6 138.94 V145.19 M1232.2 137.65 V143.38 M1232.8 139.17 V145.24 M1233.4 138.96 V143.09 M1234 137.05 V144.53 M1234.6 138.13 V144.03 M1235.2 136.87 V143.25 M1235.8 139.57 V144.98 M1236.4 138.66 V145.15 M1237 138.46 V145.58 M1237.6 138.8 V145.22 M1238.2 138.11 V143.35 M1238.8 137.03 V144.94 M1239.4 138.89 V144.56 M1240 136.89 V142.9 M1240.6 139.67 V143.51 M1241.2 138.8 V144.11 M1241.8 138.08 V144.03 M1242.4 138.94 V144.32 M1243 137.73 V144.87 M1243.6 137.8 V144.49 M1244.2 138.73 V143.88 M1244.8 138.69 V144.13 M1245.4 137.79 V142.52 M1246 138.48 V144.51 M1246.6 139.38 V145.19 M1247.2 136.93 V143.42 M1247.8 138.73 V143.51 M1248.4 137.15 V143.54 M1249 139.2 V143.49 M1249.6 138.82 V145.51 M1250.2 137.13 V143.43 M1250.8 139.4 V144.83 M1251.4 137.41 V144.97 M1252 138.47 V142.66 M1252.6 138.17 V145.37 M1253.2 138.34 V144.08 M1253.8 139.35 V145.48 M1254.4 137.51 V145 M1255 139.66 V143.75 M1255.6 138.31 V143.35 M1256.2 139.6 V145.88 M1256.8 139.83 V144.43 M1257.4 137.69 V145.65 M1258 139.11 V144.11 M1258.6 139.29 V144.76 M1259.2 137.47 V144.95 M1259.8 136.86 V143.65 M1260.4 139.15 V143.93 M1261 138.35 V144.89 M1261.6 138.78 V143.32 M1262.2 138.54 V143.74 M1262.8 139.07 V145.25 M1263.4 137.37 V144.9 M1264 139.25 V145.54 M1264.6 139.3 V144 M1265.2 137.88 V142.87 M1265.8 136.86 V144.7 M1266.4 139.56 V145.14 M1267 140.06 V145.89 M1267.6 139.55 V145.18 M1268.2 139.36 V144.85 M1268.8 137.35 V144.89 M1269.4 137.7 V143.06 M1270 137.61 V142.84 M1270.6 138.78 V145.1 M1271.2 138.11 V143.91 M1271.8 138.14 V144.44 M1272.4 138.33 V145.38 M1273 138.19 V142.92 M1273.6 137.18 V144.62 M1274.2 138.77 V144.69 M1274.8 138.45 V144.48 M1275.4 136.7 V144.14 M1276 138.59 V143.52 M1276.6 137.27 V145.42 M1277.2 137.56 V145.17 M1277.8 140 V143.55 M1278.4 138.33 V144.77 M1279 139.93 V145.23 M1279.6 137.87 V144.55 M1280.2 137.94 V144.26 M1280.8 137.54 V145.28 M1281.4 139.22 V145.08 M1282 139.53 V144.37 M1282.6 138.34 V145.25 M1283.2 138.95 V143.06 M1283.8 139.23 V145.27 M1284.4 138.62 V144.85 M1285 138.63 V144.36 M1285.6 138.74 V144.69 M1286.2 138.75 V144.25 M1286.8 140.22 V143.67 M1287.4 139.3 V145.34 M1288 138.85 V145.1 M1288.6 139.17 V145.86 M1289.2 138.57 V145.51 M1289.8 138.98 V145.69 M1290.4 138.59 V145.09 M1291 137.44 V144.78 M1291.6 138.83 V142.68 M1292.2 138.33 V144.67 M1292.8 136.55 V142.85 M1293.4 138.9 V144.53 M1294 138.83 V144.94 M1294.6 138.05 V144.03 M1295.2 137.8 V145.51 M1295.8 139.07 V143.03 M1296.4 138.69 V143.45 M1297 138.03 V143.45 M1297.6 139.73 V145.03 M1298.2 138.17 V145.7 M1298.8 137.57 V144.05 M1299.4 138.82 V143.87 M1300 138.5 V143.44 M1300.6 139.97 V144.08 M1301.2 138.06 V144.2 M1301.8 137.78 V144.85 M1302.4 137.14 V145.74 M1303 138.62 V143.3 M1303.6 136.62 V145.12 M1304.2 139.98 V145.13 M1304.8 137.72 V143.43 M1305.4 136.91 V144.02 M1306 139.14 V145.27 M1306.6 137.49 V145.97 M1307.2 136.66 V142.77 M1307.8 137.41 V144.67 M1308.4 138.44 V145.3 M1309 138.43 V144.9 M1309.6 137.13 V143.08 M1310.2 139.65 V143.36 M1310.8 139.42 V143.21 M1311.4 138.99 V143.68 M1312 136.81 V144.46 M1312.6 137.46 V146.07 M1313.2 137.21 V143.77 M1313.8 138.3 V145.36 M1314.4 137.06 V144.92 M1315 138.81 V144.13 M1315.6 139.2 V144.39 M1316.2 138.37 V144.68 M1316.8 137.69 V145.49 M1317.4 139.57 V144.22 M1318 137.57 V143.11 M1318.6 137.32 V145.78 M1319.2 137.85 V145.23 M1319.8 138.76 V143.06 M1320.4 139.98 V143.3 M1321 139.38 V143.87 M1321.6 137.79 V145.12 M1322.2 138.7 V144.71 M1322.8 137.28 V143.88 M1323.4 137.41 V144.26 M1324 138.8 V143.93 M1324.6 139.89 V144.62 M1325.2 136.72 V143.42 M1325.8 139.6 V143.07 M1326.4 138.18 V145.21 M1327 137.72 V143.62 M1327.6 136.86 V143.53 M1328.2 139.56 V144.16 M1328.8 139.16 V145.16 M1329.4 139.24 V144.06 M1330 137.34 V145.28 M1330.6 137.38 V143.56 M1331.2 138.77 V144.11 M1331.8 137.79 V144.5 M1332.4 138.58 V145.39 M1333 137.59 V143.62 M1333.6 137.65 V142.53 M1334.2 137.65 V144.91 M1334.8 139.17 V143.43 M1335.4 138.45 V143.65 M1336 137.75 V144.76 M1336.6 138.45 V145.36 M1337.2 139.11 V143.11 M1337.8 137.38 V143.75 M1338.4 138.53 V143.97 M1339 138.72 V143.81 M1339.6 138.06 V144.54 M1340.2 138.96 V142.71 M1340.8 139.46 V145.24 M1341.4 137.49 V143.64 M1342 138.47 V144.69 M1342.6 138.67 V145.86 M1343.2 137.36 V143.83 M1343.8 138.37 V144.9 M1344.4 137.49 V143.34 M1345 138.95 V144.24 M1345.6 138.82 V145.5 M1346.2 139.5 V146.13 M1346.8 137.84 V143.46 M1347.4 139.19 V143.08 M1348 139.12 V144.63 M1348.6 139.78 V144.39 M1349.2 139.96 V145.32 M1349.8 136.92 V143.26 M1350.4 137.29 V143.53 M1351 137.11 V145.07 M1351.6 137.06 V144.73 M1352.2 140.06 V144.12 M1352.8 137.87 V144.88 M1353.4 136.95 V143.7 M1354 138.07 V144.56 M1354.6 137.77 V143.56 M1355.2 139.41 V143.77 M1355.8 137.48 V143.16 M1356.4 139.18 V143.61 M1357 137.35 V144.09 M1357.6 138.6 V144.44 M1358.2 137.33 V143.21 M1358.8 136.62 V144.45 M1359.4 138.83 V144.47 M1360 139.83 V143.23 M1360.6 138.19 V144 M1361.2 138.16 V143.06 M1361.8 138.93 V144.15 M1362.4 138.43 V144.02 M1363 138.99 V143.88 M1363.6 137.37 V145.36 M1364.2 138.52 V145.04 M1364.8 139.52 V143.72 M1365.4 138.1 V144 M1366 139.24 V144.2 M1366.6 139.78 V144.14 M1367.2 137.56 V145.41 M1367.8 137.41 V143.5 M1368.4 139.14 V144.17 M1369 138.05 V145.5 M1369.6 137.9 V145.07 M1370.2 139.59 V144.9 M1370.8 138.65 V145.63 M1371.4 137.37 V144.37 M1372 139.18 V143.95 M1372.6 139.29 V143.17 M1373.2 137.81 V143.39 M1373.8 138.65 V143.88 M1374.4 139.55 V144.45 M1375 139.26 V144.75 M1375.6 139.43 V145.69 M1376.2 137.17 V145.23 M1376.8 136.94 V144.74 M1377.4 139.43 V143.53 M1378 138.21 V142.88 M1378.6 138.64 V143.79 M1379.2 138.81 V143.83 M1379.8 138.03 V144.08 M1380.4 138.66 V144.41 M1381 138.49 V143.94 M1381.6 137.9 V145.17 M1382.2 139.23 V145.4 M1382.8 139.98 V145.58 M1383.4 139.44 V144.58 M1384 139.71 V143.47 M1384.6 137.82 V144.37 M1385.2 139.42 V144.45 M1385.8 137.16 V144.11 M1386.4 137.05 V144.37 M1387 138.65 V143.14 M1387.6 138.4 V144.84 M1388.2 139.09 V144.05 M1388.8 137.25 V145.09 M1389.4 138.45 V145.56 M1390 137.96 V145.27 M1390.6 139.38 V144.49 M1391.2 139.76 V143.83 M1391.8 139.11 V144.67 M1392.4 138.95 V145.19 M1393 136.94 V143.08 M1393.6 138.5 V144.04 M1394.2 137.96 V145.51 M1394.8 137.64 V144.29 M1395.4 138.73 V145.49 M1396 138.38 V144.26 M1396.6 137.29 V144.31 M1397.2 137.19 V143.5 M1397.8 138.94 V143.87 M1398.4 138.02 V143.94 M1399 137.56 V143.93 M1399.6 137.91 V145.04 M1400.2 138.22 V144.11 M1400.8 139.55 V144.56 M1401.4 139.43 V143.57 M1402 137.43 V144.71 M1402.6 138.19 V143.47 M1403.2 139.24 V144.34 M1403.8 138.42 V144.45 M1404.4 137.84 V143.42 M1405 137.84 V144.15 M1405.6 139.23 V145.06 M1406.2 138.43 V143.36 M1406.8 137.76 V144.45 M1407.4 138.49 V142.89 M1408 137.47 V143.91 M1408.6 137.08 V143.19 M1409.2 139.41 V144.31 M1409.8 137.75 V144.04 M1410.4 137.97 V144.91 M1411 137.49 V145.89 M1411.6 138.79 V143.81 M1412.2 138.72 V144.98 M1412.8 139.51 V144.29 M1413.4 138.86 V144.34 M1414 137.36 V145.02 M1414.6 138.31 V144.25 M1415.2 137.65 V143.14 M1415.8 138.24 V143.38 M1416.4 138.61 V145.41 M1417 137.31 V143.62 M1417.6 137.12 V145.19 M1418.2 138.02 V144.78 M1418.8 136.61 V143.79 M1419.4 138.58 V146.06 M1420 137.65 V145.35 M1420.6 137.4 V143.2 M1421.2 138.45 V142.85 M1421.8 138.33 V142.6 M1422.4 137.93 V144.74 M1423 139.79 V145.33 M1423.6 138.78 V143.5 M1424.2 137.99 V142.69 M1424.8 139.28 V143.74 M1425.4 138.85 V145.1 M1426 139.06 V145.02 M1426.6 139.28 V144.16 M1427.2 139.76 V145.78 M1427.8 136.67 V145.19 M1428.4 138.82 V144.37 M1429 137.78 V144.79 M1429.6 137.14 V144.74 M1430.2 139.51 V144.79 M1430.8 138.72 V144.15 M1431.4 138.32 V144.86 M1432 137.66 V145.07 M1432.6 139.14 V145.54 M1433.2 137.73 V145.61 M1433.8 138.69 V144.03 M1434.4 136.88 V144.82 M1435 137.79 V144.93 M1435.6 139.39 V143.66 M1436.2 139.38 V143.86 M1436.8 138.66 V144.38 M1437.4 139.27 V144.81 M1438 137.6 V144.71 M1438.6 138.11 V144.07 M1439.2 137.78 V143.54 M1439.8 138.66 V144.72 M1440.4 138.29 V144.16 M1441 137.52 V145.06 M1441.6 138.07 V145.66 M1442.2 136.67 V143.21 M1442.8 139.14 V144.41 M1443.4 138.62 V144.44 M1444 136.68 V144.32 M1444.6 137.74 V144.07 M1445.2 137.39 V143.43 M1445.8 138.57 V144.61 M1446.4 137.04 V143.11 M1447 138.19 V145.06 M1447.6 137.74 V143.44 M1448.2 138.18 V143.3 M1448.8 136.59 V144.45 M1449.4 138.89 V143.42 M1450 138.41 V143.95 M1450.6 138.67 V144.58 M1451.2 138.84 V143.59 M1451.8 138.54 V144.01 M1452.4 138.72 V145.33 M1453 139.2 V142.64 M1453.6 137.34 V144.57 M1454.2 139.17 V144.38 M1454.8 139.14 V144.13 M1455.4 137.49 V143.77 M1456 139.68 V143.94 M1456.6 137.59 V144.2 M1457.2 136.77 V143.9 M1457.8 138.56 V143.84 M1458.4 139.05 V143.01 M1459 138.28 V145.15 M1459.6 139.5 V145.79 M1460.2 139.09 V143.71 M1460.8 138.33 V143.99 M1461.4 139.89 V143.5 M1462 139.66 V145.44 M1462.6 138.41 V144.61 M1463.2 137.4 V143.36 M1463.8 139.23 V144.04 M1464.4 139.39 V143.81 M1465 139.13 V145.29 M1465.6 138.49 V142.43 M1466.2 139.24 V146.11 M1466.8 137.4 V145.54 M1467.4 137.58 V143.8 M1468 138.46 V145.87 M1468.6 137.99 V143.89 M1469.2 138.82 V142.95 M1469.8 139.98 V145.28 M1470.4 139.92 V143.71 M1471 139.43 V144.08 M1471.6 137.99 V144.25 M1472.2 137.64 V144.79 M1472.8 138.01 V144.69 M1473.4 138.76 V144 M1474 138.84 V145.17 M1474.6 138.64 V143.52 M1475.2 137.29 V144.24 M1475.8 136.73 V144.57 M1476.4 138.37 V145.3 M1477 137.57 V145.03 M1477.6 137.31 V143.59 M1478.2 138.06 V143.16 M1478.8 138.18 V145.25 M1479.4 139.14 V145.63 M1480 138.17 V143.71 M1480.6 138.48 V143.75 M1481.2 139.32 V145.59 M1481.8 138.04 V144.17 M1482.4 139.51 V144.58 M1483 139.28 V145.14 M1483.6 138.03 V144.67 M1484.2 138.84 V144.79 M1484.8 138.68 V145.08 M1485.4 139.71 V144.51 M1486 137.55 V145.17 M1486.6 139.86 V144.14 M1487.2 136.73 V144.85 M1487.8 138.4 V143.85 M1488.4 139.36 V144.4 M1489 139.36 V145 M1489.6 138.25 V145.01 M1490.2 137.69 V143.09 M1490.8 138.44 V143.52 M1491.4 139.43 V143.92 M1492 139.32 V145.75 M1492.6 136.5 V143.92 M1493.2 138.25 V143.53 M1493.8 139.03 V144.47 M1494.4 137.94 V145.38 M1495 138.43 V145.09 M1495.6 138.92 V144.84 M1496.2 138.41 V145.36 M1496.8 138.03 V145.29 M1497.4 138.38 V145.19 M1498 138.51 V144.59 M1498.6 139.14 V145.1 M1499.2 138.53 V144.46 M1499.8 137.51 V143.55 M1500.4 138.91 V143.06 M1501 139.63 V142.88 M1501.6 139.15 V142.58 M1502.2 139.8 V143.32 M1502.8 138.4 V144.37 M1503.4 139.23 V142.53 M1504 139.23 V145.14 M1504.6 136.94 V143.96 M1505.2 139.14 V144.39 M1505.8 137.95 V143.95 M1506.4 137.32 V144.22 M1507 139.73 V145.5 M1507.6 138.26 V143.08 M1508.2 138.3 V144.21 M1508.8 137.92 V145 M1509.4 137.01 V144.69 M1510 138.58 V144.29 M1510.6 138.77 V143.51 M1511.2 138.24 V144.45 M1511.8 140.19 V145.24 M1512.4 137.94 V145.11 M1513 137.44 V144.79 M1513.6 138 V143.76 M1514.2 137.96 V144.32 M1514.8 138.8 V144.49 M1515.4 137.57 V143.96 M1516 137.17 V143.05 M1516.6 139.27 V144.94 M1517.2 138.11 V144.72 M1517.8 139.67 V143.28 M1518.4 138.11 V144.84 M1519 137.34 V143.99 M1519.6 139.93 V143.6 M1520.2 138.55 V144.44 M1520.8 137.38 V144.87 M1521.4 138.67 V143.57 M1522 137.47 V145.48 M1522.6 138.46 V143.14 M1523.2 137.7 V145.35 M1523.8 139.52 V144.8 M1524.4 137.25 V143.21 M1525 136.96 V144.44 M1525.6 136.89 V144.99 M1526.2 138.34 V143.81 M1526.8 138.79 V144.39 M1527.4 137.55 V143.64 M1528 137.6 V144.7 M1528.6 138.02 V143.19 M1529.2 138.5 V143.84 M1529.8 138.75 V145.66 M1530.4 139.49 V145.69 M1531 137.73 V143.48 M1531.6 138.79 V144.51 M1532.2 137.67 V143.68 M1532.8 137.62 V143.52 M1533.4 138.9 V143.92 M1534 136.77 V143.46 M1534.6 137.01 V144.39 M1535.2 139.54 V143.92 M1535.8 139.18 V145.67 M1536.4 136.89 V143.4 M1537 139.3 V144.69 M1537.6 140.01 V145.75 M1538.2 136.97 V145.22 M1538.8 140.1 V145.57 M1539.4 137.74 V143.19 M1540 138.95 V145.83 M1540.6 137.85 V144.07 M1541.2 138.81 V144.29 M1541.8 137.49 V143.91 M1542.4 137.35 V142.5 M1543 137.67 V142.69 M1543.6 136.91 V145.47 M1544.2 137.99 V144.42 M1544.8 138.69 V145.13 M1545.4 139.87 V145.77 M1546 138.16 V144.33 M1546.6 139.9 V145.79 M1547.2 138.21 V145.2 M1547.8 137.75 V144.02 M1548.4 139.46 V143.48 M1549 136.95 V143.16 M1549.6 137.53 V143.43 M1550.2 137.32 V144.43 M1550.8 137.27 V143.95 M1551.4 136.83 V143.64 M1552 139.49 V144.79 M1552.6 138.95 V145.15 M1553.2 137.7 V145.04 M1553.8 137.06 V144.03 M1554.4 137.7 V143.04 M1555 136.75 V143.79 M1555.6 139.92 V143.47 M1556.2 136.55 V144.4 M1556.8 136.86 V143.99 M1557.4 139.39 V142.93 M1558 139.74 V143.31 M1558.6 137.21 V144.26 M1559.2 137.16 V144.53 M1559.8 137.39 V144.39 M1560.4 137.84 V144.41 M1561 137.75 V145 M1561.6 137.45 V144.94 M1562.2 139.35 V143.31 M1562.8 139.59 V144.45 M1563.4 137.51 V144.42 M1564 139.22 V144.48 M1564.6 140.17 V144.73 M1565.2 138.36 V144.1 M1565.8 138.2 V142.96 M1566.4 138.01 V145.55 M1567 138.82 V144.58 M1567.6 138.49 V143.17 M1568.2 139.21 V144.28 M1568.8 139.86 V144.61 M1569.4 137.11 V143.54 M1570 138.59 V143.51 M1570.6 139.79 V143.38 M1571.2 136.76 V142.68 M1571.8 136.8 V143.45 M1572.4 137.07 V145.1 M1573 138.4 V145.15 M1573.6 136.78 V145.24 M1574.2 136.92 V144.74 M1574.8 137.41 V142.73 M1575.4 138.8 V142.89 M1576 139.11 V144.56 M1576.6 137.81 V143.65 M1577.2 137.25 V143.1 M1577.8 138.3 V144.09 M1578.4 139.25 V144.25 M1579 138.54 V143.14 M1579.6 138.65 V143.41 M1580.2 139.14 V143.45 M1580.8 138.3 V144.68 M1581.4 136.92 V144.72 M1582 138.12 V144.2 M1582.6 137.73 V144.25 M1583.2 137.04 V143.51 M1583.8 136.52 V142.46 M1584.4 139.23 V146.13 M1585 139.96 V145.17 M1585.6 137.08 V143.35 M1586.2 138.38 V144.69 M1586.8 139.1 V143.83 M1587.4 138.28 V144.98 M1588 138.93 V144.54 M1588.6 140.01 V144.45 M1589.2 136.82 V144.98 M1589.8 138.95 V145.98 M1590.4 137.96 V144.79 M1591 138.12 V143.8 M1591.6 139.98 V144.1 M1592.2 137.43 V145.66 M1592.8 139.55 V145.53 M1593.4 137.96 V145.04 M1594 136.78 V143.16 M1594.6 138.16 V143.68 M1595.2 139.39 V143.01 M1595.8 139.5 V143.76 M1596.4 138.01 V143.01 M1597 137.62 V144.61 M1597.6 137.21 V142.83 M1598.2 137.6 V144.84 M1598.8 138.36 V144.01 M1599.4 138.64 V143.21 M1600 137.99 V145.61 M1600.6 138.11 V143.75 M1601.2 139.26 V142.99 M1601.8 136.8 V144.8 M1602.4 139.42 V144.51 M1603 138.48 V142.82 M1603.6 137.8 V145.98 M1604.2 137.64 V145.57 M1604.8 137.59 V142.88 M1605.4 139.49 V145.12 M1606 140.17 V146.01 M1606.6 139.85 V143.29 M1607.2 136.86 V143.97 M1607.8 139.56 V145.82 M1608.4 138.4 V144.62 M1609 139.06 V145.31 M1609.6 139.07 V143.82 M1610.2 137.28 V142.77 M1610.8 136.69 V143.53 M1611.4 139.11 V142.99 M1612 136.95 V142.54 M1612.6 137.35 V144.03 M1613.2 138.37 V142.98 M1613.8 139.13 V145.68 M1614.4 136.66 V144.54 M1615 137.02 V144.13 M1615.6 138.83 V145.03 M1616.2 138.28 V143.98 M1616.8 138.48 V143.79 M1617.4 137.87 V143.1 M1618 137.52 V144.33 M1618.6 137.52 V144.67 M1619.2 137.37 V145.52 M1619.8 136.59 V144.19 M1620.4 136.62 V145.03 M1621 138.44 V143.9 M1621.6 137.6 V144.47 M1622.2 137.29 V144.03 M1622.8 137.08 V144.71 M1623.4 139.06 V145.61 M1624 139.11 V143.58 M1624.6 138.57 V144.34 M1625.2 138.16 V144.69 M1625.8 138.22 V145.54 M1626.4 137.28 V143.94 M1627 138.58 V144.19 M1627.6 138.87 V144.39 M1628.2 137.33 V144.19 M1628.8 137.97 V144.95 M1629.4 136.56 V144.18 M1630 137.73 V145.49 M1630.6 139.2 V144.7 M1631.2 139.66 V145.15 M1631.8 139.19 V143.77 M1632.4 138.56 V144.61 M1633 138.99 V145.58 M1633.6 138.66 V142.95 M1634.2 137.98 V144.59 M1634.8 138.28 V143.19 M1635.4 139.42 V143.75 M1636 137.97 V143.98 M1636.6 139.08 V144.37 M1637.2 136.96 V142.88 M1637.8 138.09 V143.41 M1638.4 139.81 V144.7 M1639 136.76 V145.47 M1639.6 139.36 V143.28 M1640.2 136.48 V143.82 M1640.8 136.93 V144.09 M1641.4 138.39 V145.16 M1642 136.5 V142.63 M1642.6 138.11 V144.09 M1643.2 138.24 V145.1 M1643.8 137.51 V144.86 M1644.4 138.27 V143.82 M1645 138.44 V145.58 M1645.6 138.66 V145.06 M1646.2 138.23 V145.23 M1646.8 137.42 V144.95 M1647.4 137.09 V145.19 M1648 139.96 V143.15 M1648.6 137.34 V142.89 M1649.2 140.06 V143.94 M1649.8 138.82 V143.21 M1650.4 138.45 V143.84 M1651 137.07 V143.16 M1651.6 137.12 V144.97 M1652.2 138.38 V143.11 M1652.8 139.39 V145.46 M1653.4 137.14 V143.6 M1654 138.35 V143.68 M1654.6 138.04 V145.1 M1655.2 137.88 V143.35 M1655.8 139.67 V144.21 M1656.4 138.05 V145.27 M1657 138.13 V145.15 M1657.6 138.34 V142.86 M1658.2 137.7 V143.34 M1658.8 137.92 V143.43 M1659.4 138.23 V144.1 M1660 137.85 V144.23 M1660.6 139.93 V145.6 M1661.2 138.26 V143.76 M1661.8 138.45 V144.4 M1662.4 137.93 V145.05 M1663 139.55 V145.66 M1663.6 139.11 V144.5 M1664.2 138.99 V144.89 M1664.8 139.31 V144.82 M1665.4 137.63 V145.72 M1666 139.02 V143.13 M1666.6 139.51 V143.85 M1667.2 139.38 V142.83 M1667.8 137.73 V145.4 M1668.4 138.72 V144.48 M1669 139.43 V143.55 M1669.6 138.31 V144.31 M1670.2 139.73 V143.69 M1670.8 138.22 V143.61 M1671.4 138.02 V145.65 M1672 137.25 V145.09 M1672.6 139.19 V144.59 M1673.2 139.03 V143.45 M1673.8 137.09 V142.92 M1674.4 138.34 V145.22 M1675 137.19 V144.23 M1675.6 138.83 V142.65 M1676.2 138.65 V144.02 M1676.8 139.22 V143.63 M1677.4 137.69 V143.84 M1678 137.91 V144.64 M1678.6 137.33 V145.33 M1679.2 138.15 V145.93 M1679.8 138.03 V145.62 M1680.4 138.24 V144.43 M1681 139.99 V144.99 M1681.6 139.77 V143.89 M1682.2 139.24 V144.67 M1682.8 138.2 V144.08 M1683.4 138.57 V146.08 M1684 137.61 V145.69 M1684.6 137.95 V144.48 M1685.2 138.3 V142.92 M1685.8 137.73 V143.14 M1686.4 139.69 V144.95 M1687 137.29 V143.82 M1687.6 137.87 V143.35 M1688.2 139.64 V143.75 M1688.8 137.64 V144.4 M1689.4 137.1 V144.16 M1690 139.31 V146.07 M1690.6 138.47 V143.91 M1691.2 136.75 V143.34 M1691.8 139.78 V145 M1692.4 137.05 V145.73 M1693 138.86 V144.61 M1693.6 138.37 V143.51 M1694.2 137.05 V142.98 M1694.8 138.21 V143.74 M1695.4 139.56 V143.96 M1696 138.04 V143.64 M1696.6 136.9 V143.01 M1697.2 138.91 V143.77 M1697.8 137.47 V144.57 M1698.4 137.31 V142.83 M1699 139.57 V143.38 M1699.6 136.96 V144.25 M1700.2 138.95 V144.17 M1700.8 139.05 V144.38 M1701.4 138.09 V143.48 M1702 137 V145.38 M1702.6 138.97 V143 M1703.2 139.49 V144.5 M1703.8 137.48 V143.6 M1704.4 138.34 V143.49 M1705 138.1 V142.84 M1705.6 136.95 V145.15 M1706.2 137.56 V143.44 M1706.8 137.02 V144.78 M1707.4 138.24 V145.52 M1708 137.19 V144.78 M1708.6 139.79 V145.69 M1709.2 138.38 V144.06 M1709.8 138.01 V145.79 M1710.4 138.41 V143.65 M1711 136.89 V143.35 M1711.6 139.28 V143.97 M1712.2 138.22 V145.1 M1712.8 138.3 V142.84 M1713.4 139.4 V143.71 M1714 138.89 V143.71 M1714.6 137.6 V145.61 M1715.2 138.58 V145.38 M1715.8 138.59 V143.37 M1716.4 137.29 V142.74 M1717 139.24 V145.75 M1717.6 139.43 V144.22 M1718.2 137.19 V142.87 M1718.8 139.69 V144.82 M1719.4 138.36 V144.49 M1720 138.61 V144.15 M1720.6 139.2 V144.67 M1721.2 137.26 V143.71 M1721.8 137.47 V143.84 M1722.4 137.86 V144.58 M1723 138.49 V144.6 M1723.6 139.15 V145.4 M1724.2 137.66 V144.99 M1724.8 139.07 V143.92 M1725.4 139.84 V143.84 M1726 137.74 V145.85 M1726.6 138.08 V144.53 M1727.2 139.06 V145.26 M1727.8 138.79 V144.49 M1728.4 137.59 V145.63 M1729 137.18 V142.85 M1729.6 137.37 V143.02 M1730.2 137.59 V144.66 M1730.8 137.2 V145.07 M1731.4 139.51 V144.72 M1732 136.84 V144.1 M1732.6 137.46 V145.9 M1733.2 138.32 V143.02 M1733.8 137.59 V143.79 M1734.4 137.43 V144.72 M1735 138.57 V144.93" fill="none" stroke="#4848ff" stroke-width="0.7" stroke-opacity="0.55"/>
<path d="M978.7 123.04 V159.03 M979.3 119.99 V157.27 M979.9 131.99 V161.62 M980.5 122.6 V162.83 M981.1 120.34 V160.66 M981.7 127.72 V153.02 M982.3 124.55 V158.18 M982.9 126.15 V153.31 M983.5 127 V147.59 M984.1 129.48 V146.34 M984.7 129.57 V147.12 M985.3 133.65 V145.19 M985.9 136.56 V146.5 M986.5 133.96 V146.37 M987.1 135.89 V145.86 M987.7 136.32 V144.04 M988.3 135.64 V143.15 M988.9 136.85 V144.44 M989.5 137.58 V145.47 M990.1 136.6 V143.53 M990.7 138.63 V145.35 M991.3 137.15 V143.72 M991.9 137.14 V143.14 M992.5 139.68 V143.97 M993.1 138.24 V145.13 M993.7 137.35 V143.72 M994.3 138.35 V143.06 M994.9 137.6 V145.25 M995.5 137.43 V143.13 M996.1 137.76 V143.57 M996.7 139.51 V144.69 M997.3 137.51 V144.86 M997.9 139.38 V142.62 M998.5 138.71 V143.59 M999.1 138.88 V143.25 M999.7 138.98 V144.85 M1000.3 137.94 V144.24 M1000.9 138.98 V145.79 M1001.5 137.82 V145.12 M1002.1 138.97 V144.03 M1002.7 139.59 V143.25 M1003.3 137.74 V143.21 M1003.9 136.91 V142.84 M1004.5 139.3 V144.86 M1005.1 138.56 V143.08 M1005.7 137.96 V145.18 M1006.3 139.58 V143.36 M1006.9 138.93 V143.3 M1007.5 137.24 V143.89 M1008.1 139.12 V142.89 M1008.7 137.02 V144.31 M1009.3 138.74 V145.26 M1009.9 138.17 V145.23 M1010.5 139.58 V145.21 M1011.1 138.14 V144.51 M1011.7 139.68 V143.73 M1012.3 139.58 V143.79 M1012.9 137.35 V144.8 M1013.5 137.78 V145.76 M1014.1 137.77 V144.85 M1014.7 139.05 V145.15 M1015.3 138.44 V142.91 M1015.9 138.62 V143.48 M1016.5 137.39 V143.69 M1017.1 137.11 V142.93 M1017.7 138.88 V145.28 M1018.3 139.27 V144.42 M1018.9 137.91 V145.84 M1019.5 136.77 V144.6 M1020.1 139.92 V145.21 M1020.7 138.25 V142.95 M1021.3 137.5 V143.52 M1021.9 139.97 V144.81 M1022.5 137.73 V144.99 M1023.1 137.03 V145.24 M1023.7 139.2 V143.07 M1024.3 137.87 V143.68 M1024.9 137.57 V143.76 M1025.5 138.81 V144.72 M1026.1 138.13 V142.85 M1026.7 138.14 V144.4 M1027.3 139.11 V143.08 M1027.9 138.94 V145.06 M1028.5 137.27 V144.48 M1029.1 139.04 V142.86 M1029.7 137.9 V145.9 M1030.3 137.22 V143.06 M1030.9 137.98 V145.27 M1031.5 139.08 V145.05 M1032.1 137.71 V143.93 M1032.7 139.83 V143.86 M1033.3 137.03 V144.77 M1033.9 139.07 V144.08 M1034.5 137.82 V142.6 M1035.1 137.81 V144.86 M1035.7 136.92 V142.69 M1036.3 138.76 V143.81 M1036.9 138.72 V144.51 M1037.5 138.01 V144.5 M1038.1 137.81 V144.2 M1038.7 138.39 V143.66 M1039.3 138.04 V145.54 M1039.9 139.02 V146.11 M1040.5 137.81 V144.21 M1041.1 137.42 V144.76 M1041.7 138.24 V146.11 M1042.3 138.48 V144.39 M1042.9 139.22 V143.84 M1043.5 139.14 V145.01 M1044.1 139.16 V142.81 M1044.7 137.23 V143.8 M1045.3 139.31 V143.49 M1045.9 138.48 V142.84 M1046.5 138.17 V145.81 M1047.1 139.73 V145.29 M1047.7 137.92 V144.59 M1048.3 136.63 V144.12 M1048.9 137.33 V145.05 M1049.5 136.71 V144.38 M1050.1 139.31 V144.06 M1050.7 139.86 V144.04 M1051.3 137.68 V144.96 M1051.9 138.54 V143.95 M1052.5 137.47 V144.33 M1053.1 139.66 V145.62 M1053.7 138.6 V142.86 M1054.3 136.65 V145.39 M1054.9 139.05 V145.26 M1055.5 137.93 V144.92 M1056.1 136.67 V144.91 M1056.7 139.8 V143.25 M1057.3 137.61 V143.15 M1057.9 138.13 V143.73 M1058.5 137.08 V145.02 M1059.1 137.81 V143.96 M1059.7 138.73 V145.83 M1060.3 138.82 V145.54 M1060.9 138.12 V145.3 M1061.5 138.19 V143.85 M1062.1 139.25 V144.02 M1062.7 140.1 V144.8 M1063.3 137.33 V144.28 M1063.9 136.9 V143.35 M1064.5 139.09 V143.19 M1065.1 138.68 V144.8 M1065.7 139.77 V144.36 M1066.3 138.88 V145.72 M1066.9 138.77 V143.55 M1067.5 137.85 V142.82 M1068.1 136.98 V144.76 M1068.7 138.09 V144.47 M1069.3 139.11 V142.94 M1069.9 137.03 V145.14 M1070.5 139.54 V144.15 M1071.1 138.4 V143.1 M1071.7 138.34 V143.74 M1072.3 138.35 V144.68 M1072.9 138.13 V144.26 M1073.5 137.44 V144.32 M1074.1 137.27 V144.12 M1074.7 137.28 V144.11 M1075.3 137.39 V144.22 M1075.9 137.16 V144.77 M1076.5 139.11 V144.9 M1077.1 137.58 V143.23 M1077.7 138.85 V143.95 M1078.3 139.39 V143.44 M1078.9 138.98 V144.05 M1079.5 137.9 V145.34 M1080.1 138.49 V144.69 M1080.7 137.28 V144.97 M1081.3 138.09 V144.4 M1081.9 137.26 V145.49 M1082.5 139.55 V145.88 M1083.1 139.42 V143.36 M1083.7 137.47 V143.91 M1084.3 139.95 V143.84 M1084.9 137.77 V144.26 M1085.5 138.69 V143.41 M1086.1 139.53 V142.75 M1086.7 137.58 V144.26 M1087.3 138.03 V144.56 M1087.9 138.08 V143.96 M1088.5 140.12 V145.24 M1089.1 138.21 V143.5 M1089.7 139.46 V143.32 M1090.3 139.54 V144.78 M1090.9 137.32 V144.26 M1091.5 139.92 V143.95 M1092.1 138.36 V145.42 M1092.7 139.19 V144.62 M1093.3 138.71 V143.95 M1093.9 137.53 V144.85 M1094.5 139.34 V144.71 M1095.1 138.61 V144.21 M1095.7 137.53 V143.79 M1096.3 137.16 V145.03 M1096.9 136.81 V143.73 M1097.5 138.25 V145.25 M1098.1 139.26 V145.12 M1098.7 139.2 V144.45 M1099.3 137.41 V145.31 M1099.9 136.76 V144.05 M1100.5 138.64 V145.25 M1101.1 137.04 V143.83 M1101.7 138.49 V143.28 M1102.3 138.76 V144.3 M1102.9 138.49 V145.02 M1103.5 137.2 V143.78 M1104.1 138.31 V144.1 M1104.7 137.58 V143.64 M1105.3 137.82 V145.83 M1105.9 137.66 V145.87 M1106.5 139.83 V143.42 M1107.1 137.72 V142.96 M1107.7 138.19 V145.23 M1108.3 139.34 V145.21 M1108.9 137.25 V145.08 M1109.5 138.84 V144.53 M1110.1 139.34 V143.48 M1110.7 138.13 V143.06 M1111.3 138.06 V144.31 M1111.9 138.05 V144.91 M1112.5 138.58 V144.32 M1113.1 139.71 V143.87 M1113.7 136.94 V144.26 M1114.3 137.97 V144.51 M1114.9 138.22 V143.92 M1115.5 138.31 V143.73 M1116.1 136.69 V143.03 M1116.7 138.17 V143.43 M1117.3 136.78 V143.41 M1117.9 137.44 V145.2 M1118.5 138.91 V145.14 M1119.1 138.62 V145.3 M1119.7 137.6 V143.92 M1120.3 138.47 V145.72 M1120.9 138.88 V144.42 M1121.5 139.06 V145.59 M1122.1 138.76 V144.14 M1122.7 137.82 V145.34 M1123.3 138.39 V145.47 M1123.9 139.79 V145.23 M1124.5 138.69 V144.01 M1125.1 138.62 V143.66 M1125.7 139.71 V144.44 M1126.3 138.64 V145.31 M1126.9 138.29 V145.39 M1127.5 139.07 V146.15 M1128.1 138.05 V143.8 M1128.7 139.33 V143.17 M1129.3 138.34 V142.94 M1129.9 138.3 V144.02 M1130.5 138.79 V144.16 M1131.1 137.31 V144.89 M1131.7 138.91 V143.66 M1132.3 136.99 V145.35 M1132.9 139.35 V143.43 M1133.5 137.31 V143.84 M1134.1 138.53 V144.83 M1134.7 138.62 V142.79 M1135.3 137.29 V144.77 M1135.9 137.72 V143.84 M1136.5 137.96 V143.62 M1137.1 137.31 V144.6 M1137.7 138.84 V145.14 M1138.3 137.47 V145.03 M1138.9 138.01 V143.92 M1139.5 139 V144.98 M1140.1 137.98 V143.55 M1140.7 139.45 V143.92 M1141.3 138.51 V144.67 M1141.9 138.15 V144.47 M1142.5 136.62 V143.62 M1143.1 138.18 V145.85 M1143.7 137.89 V144.51 M1144.3 140.14 V144.05 M1144.9 137.75 V144.13 M1145.5 137.17 V142.69 M1146.1 138.42 V145.39 M1146.7 137.76 V144.14 M1147.3 137.1 V143.95 M1147.9 138.17 V144.17 M1148.5 138.74 V145.15 M1149.1 139.8 V144.31 M1149.7 138.9 V143.16 M1150.3 139.09 V143.99 M1150.9 137.93 V143.58 M1151.5 139.06 V145.32 M1152.1 138.58 V145 M1152.7 138.14 V142.86 M1153.3 139.27 V144.16 M1153.9 138.97 V142.75 M1154.5 136.99 V142.58 M1155.1 137.99 V145.23 M1155.7 138.47 V143.78 M1156.3 139.06 V145.28 M1156.9 138.16 V143.43 M1157.5 137.53 V144.32 M1158.1 137.12 V143.37 M1158.7 137.37 V144.14 M1159.3 140.02 V144.48 M1159.9 139.32 V144.04 M1160.5 137.99 V143.57 M1161.1 139.56 V143.88 M1161.7 138.84 V143.46 M1162.3 136.59 V145.15 M1162.9 137.3 V145.23 M1163.5 137.11 V145.09 M1164.1 137.99 V144.57 M1164.7 139.18 V144.52 M1165.3 138.61 V145.06 M1165.9 138.65 V144.82 M1166.5 138.35 V144.54 M1167.1 137.72 V144.02 M1167.7 137.33 V145.27 M1168.3 138.8 V144.87 M1168.9 137.68 V144.63 M1169.5 137.5 V143.11 M1170.1 138.14 V145.44 M1170.7 138.76 V144.3 M1171.3 139.14 V143.15 M1171.9 139.59 V145.26 M1172.5 139.19 V143.78 M1173.1 139.04 V144.88 M1173.7 136.59 V143.88 M1174.3 139.93 V145.05 M1174.9 138.04 V145.87 M1175.5 137.3 V143.64 M1176.1 138.85 V144.62 M1176.7 138.68 V144.47 M1177.3 138.32 V144.38 M1177.9 139.35 V145.52 M1178.5 137.52 V145.95 M1179.1 137.7 V143.99 M1179.7 138.32 V144.47 M1180.3 138.13 V145.86 M1180.9 139.79 V143.59 M1181.5 139.94 V145.11 M1182.1 136.89 V144.01 M1182.7 137.55 V145.09 M1183.3 139.33 V144.4 M1183.9 139.21 V145.39 M1184.5 139.11 V144.45 M1185.1 136.91 V145.15 M1185.7 137.53 V144.57 M1186.3 137.75 V145.36 M1186.9 138 V143.89 M1187.5 136.66 V145.33 M1188.1 137.91 V143.68 M1188.7 137.81 V143.41 M1189.3 137.19 V145.02 M1189.9 138.64 V144.75 M1190.5 139.51 V143.74 M1191.1 139.22 V145.27 M1191.7 137.93 V143.77 M1192.3 138.29 V144.57 M1192.9 137.04 V145.39 M1193.5 137.08 V143.27 M1194.1 138.03 V145.94 M1194.7 138.88 V143.65 M1195.3 137.99 V145.88 M1195.9 138.92 V142.7 M1196.5 139.72 V145.66 M1197.1 138.87 V143.76 M1197.7 137.87 V144.88 M1198.3 137.53 V143.48 M1198.9 138.32 V144.39 M1199.5 136.73 V145.38 M1200.1 138.59 V144.91 M1200.7 137.41 V144.11 M1201.3 138.68 V145.37 M1201.9 138.85 V144.11 M1202.5 139.28 V143.52 M1203.1 139.48 V143.46 M1203.7 137.45 V143.36 M1204.3 138.61 V143.31 M1204.9 139.8 V144.36 M1205.5 137.36 V143.95 M1206.1 138.71 V143.36 M1206.7 137.5 V145.36 M1207.3 137.14 V142.82 M1207.9 139.89 V145.33 M1208.5 138 V146.01 M1209.1 137.4 V144.63 M1209.7 138.96 V143.3 M1210.3 138.19 V144.5 M1210.9 138.91 V146.11 M1211.5 137.68 V143.69 M1212.1 137.8 V143.77 M1212.7 138.93 V144.75 M1213.3 138.64 V144.6 M1213.9 138.72 V143.18 M1214.5 139.94 V144.75 M1215.1 137.53 V144.71 M1215.7 137 V142.97 M1216.3 138.56 V144.32 M1216.9 137.54 V143.25 M1217.5 137.26 V143.66 M1218.1 138.38 V143.05 M1218.7 139.5 V143.83 M1219.3 138.48 V143.82 M1219.9 138.85 V143.17 M1220.5 139.42 V144.79 M1221.1 136.89 V144.84 M1221.7 137.35 V143.95 M1222.3 139.47 V145.38 M1222.9 138.47 V145.24 M1223.5 138.47 V144.66 M1224.1 137.57 V145.64 M1224.7 138.85 V145.42 M1225.3 137.96 V144.99 M1225.9 138.53 V143.32 M1226.5 137.83 V143.8 M1227.1 137.67 V145.5 M1227.7 137.69 V142.64 M1228.3 138.69 V145.29 M1228.9 138.11 V143.45 M1229.5 139.76 V145.32 M1230.1 138.47 V142.68 M1230.7 139.66 V144.33 M1231.3 136.63 V144.09 M1231.9 139.65 V144.3 M1232.5 138.97 V145.7 M1233.1 139.45 V144.32 M1233.7 137.43 V144.49 M1234.3 139.85 V145.87 M1234.9 138.49 V143.76 M1235.5 138.89 V144.86 M1236.1 137.66 V145.55 M1236.7 138.02 V143.59 M1237.3 136.88 V143.63 M1237.9 138.54 V144.43 M1238.5 139.17 V144.96 M1239.1 138.54 V144.96 M1239.7 137.49 V144.15 M1240.3 138.58 V145.03 M1240.9 139.45 V142.76 M1241.5 136.9 V142.65 M1242.1 139.22 V143.42 M1242.7 136.78 V144.32 M1243.3 137.13 V144.03 M1243.9 137.45 V143.58 M1244.5 140.03 V144.07 M1245.1 136.86 V145.38 M1245.7 137.76 V144.77 M1246.3 138.95 V143.64 M1246.9 139.43 V143.56 M1247.5 138.93 V144.3 M1248.1 139.47 V144.36 M1248.7 138.26 V143.75 M1249.3 137.34 V143.81 M1249.9 139.17 V145.08 M1250.5 139.41 V144.37 M1251.1 137.62 V145.71 M1251.7 137.04 V143.63 M1252.3 138.62 V144.16 M1252.9 137.63 V145.97 M1253.5 138.97 V144.26 M1254.1 138.44 V143.89 M1254.7 138.55 V144.03 M1255.3 138.95 V142.9 M1255.9 138.95 V143.35 M1256.5 138.27 V143.95 M1257.1 139.49 V144.28 M1257.7 139.57 V144.78 M1258.3 138.33 V145.3 M1258.9 138.27 V143.84 M1259.5 137.28 V142.82 M1260.1 137.83 V145.19 M1260.7 136.81 V143.73 M1261.3 139.14 V144.58 M1261.9 138.72 V144.29 M1262.5 138.25 V144.71 M1263.1 138.76 V144.62 M1263.7 137.49 V143.63 M1264.3 137.38 V144.19 M1264.9 139.74 V144.31 M1265.5 140.21 V144.25 M1266.1 138.96 V145.37 M1266.7 137.36 V144.36 M1267.3 138.14 V144.93 M1267.9 136.94 V144.79 M1268.5 137.91 V144.44 M1269.1 138.64 V142.43 M1269.7 139.35 V142.51 M1270.3 137.68 V143.77 M1270.9 137.55 V143.05 M1271.5 137.5 V145.29 M1272.1 138.05 V144.85 M1272.7 137.92 V144.24 M1273.3 138.93 V143.59 M1273.9 139.76 V144.87 M1274.5 137.85 V144.41 M1275.1 138.71 V146.05 M1275.7 140.01 V145.54 M1276.3 136.71 V144.19 M1276.9 138.61 V142.77 M1277.5 137.19 V143.44 M1278.1 138.68 V144.28 M1278.7 137.1 V143.91 M1279.3 139.02 V145.08 M1279.9 139.33 V144.82 M1280.5 137.05 V144.37 M1281.1 138.31 V144.24 M1281.7 139.31 V145.09 M1282.3 137.8 V145.95 M1282.9 138.72 V144.32 M1283.5 138.85 V143.84 M1284.1 139.85 V145.34 M1284.7 136.82 V142.9 M1285.3 140.12 V143.35 M1285.9 137.34 V143.21 M1286.5 137.82 V145.5 M1287.1 138.17 V143.19 M1287.7 138.3 V144.86 M1288.3 137.55 V145.97 M1288.9 138.75 V144.94 M1289.5 137.89 V144.1 M1290.1 136.94 V144.46 M1290.7 137.93 V143.85 M1291.3 137.55 V143.25 M1291.9 138.05 V144.41 M1292.5 137.63 V145.49 M1293.1 138.34 V144.94 M1293.7 139.15 V144.31 M1294.3 138.4 V144.75 M1294.9 136.72 V143.47 M1295.5 137.41 V143.87 M1296.1 138.78 V144.46 M1296.7 138.27 V144.33 M1297.3 137.51 V143 M1297.9 138.02 V143.65 M1298.5 139.21 V143.44 M1299.1 138.56 V144.06 M1299.7 139.08 V143.11 M1300.3 138.07 V143.64 M1300.9 138.73 V144.56 M1301.5 139.83 V144.41 M1302.1 139.29 V145.08 M1302.7 139 V143.45 M1303.3 139.21 V145.9 M1303.9 139.66 V143.83 M1304.5 139.38 V145.4 M1305.1 139.66 V142.87 M1305.7 138.4 V145.02 M1306.3 138.36 V143.83 M1306.9 138.87 V144.78 M1307.5 137.62 V144.02 M1308.1 137.02 V144.92 M1308.7 137.98 V142.55 M1309.3 137.33 V143.98 M1309.9 136.91 V144.58 M1310.5 140.13 V144.11 M1311.1 138.45 V145.35 M1311.7 137.44 V143.88 M1312.3 136.98 V144.97 M1312.9 138.76 V143.7 M1313.5 137.83 V145.42 M1314.1 139.37 V143.95 M1314.7 138.63 V143.89 M1315.3 139.19 V143.23 M1315.9 138.73 V143.6 M1316.5 138.61 V143.4 M1317.1 138.88 V143.52 M1317.7 139.38 V143.88 M1318.3 138.75 V143.45 M1318.9 137.35 V144.71 M1319.5 139.17 V145.53 M1320.1 138.95 V143.42 M1320.7 138.49 V144.8 M1321.3 138.23 V144.23 M1321.9 137.74 V144.45 M1322.5 137.92 V144.62 M1323.1 137.06 V143.67 M1323.7 139.53 V145.19 M1324.3 138.72 V144.23 M1324.9 139.49 V144.03 M1325.5 137.66 V145.35 M1326.1 137.62 V143.71 M1326.7 139.19 V145.75 M1327.3 137.5 V145.24 M1327.9 137.02 V142.96 M1328.5 138.02 V145.58 M1329.1 138.77 V143.49 M1329.7 139.72 V144.11 M1330.3 138.08 V145.2 M1330.9 137.17 V142.8 M1331.5 137.49 V144.77 M1332.1 138.66 V143.96 M1332.7 138.58 V144.85 M1333.3 139.21 V144.63 M1333.9 138.83 V144.48 M1334.5 139.1 V143.17 M1335.1 137.12 V144.69 M1335.7 137.8 V142.93 M1336.3 137.84 V144.49 M1336.9 139.38 V143.88 M1337.5 139.37 V144.96 M1338.1 137.71 V144.06 M1338.7 138.03 V145.51 M1339.3 136.79 V143.32 M1339.9 138.66 V144.64 M1340.5 137.79 V143.93 M1341.1 139.82 V145.27 M1341.7 139.04 V143.05 M1342.3 137.78 V143.84 M1342.9 136.95 V143.6 M1343.5 138.52 V143.66 M1344.1 138.72 V144.08 M1344.7 139.39 V144.31 M1345.3 139.34 V143.31 M1345.9 137.23 V144.63 M1346.5 137.44 V144.77 M1347.1 138.07 V145.7 M1347.7 138.99 V143.8 M1348.3 137.33 V144.99 M1348.9 137.37 V144.01 M1349.5 139.29 V143.69 M1350.1 139.12 V142.71 M1350.7 138.28 V144.47 M1351.3 139.79 V145.56 M1351.9 137.81 V143.57 M1352.5 138.83 V145.64 M1353.1 139.22 V144.98 M1353.7 137.86 V142.79 M1354.3 139.37 V143.61 M1354.9 138.22 V143.37 M1355.5 138.86 V145.15 M1356.1 139.21 V145.25 M1356.7 138.07 V142.62 M1357.3 137.55 V144.41 M1357.9 139.5 V143.83 M1358.5 137.93 V145.7 M1359.1 138.49 V144.05 M1359.7 138.29 V144.64 M1360.3 139.49 V145.02 M1360.9 138.31 V144.35 M1361.5 139.67 V144.27 M1362.1 139.62 V145.16 M1362.7 139.09 V142.96 M1363.3 138.74 V142.97 M1363.9 138.91 V145.09 M1364.5 138.74 V145.25 M1365.1 137.38 V143.39 M1365.7 138.25 V143.7 M1366.3 138.36 V142.61 M1366.9 138.05 V143.05 M1367.5 137.99 V144.5 M1368.1 138.24 V145.22 M1368.7 136.97 V145.43 M1369.3 138.94 V145.44 M1369.9 139.46 V145.81 M1370.5 139.82 V144.22 M1371.1 138.74 V143.84 M1371.7 137.26 V145.13 M1372.3 137.54 V145.11 M1372.9 138.91 V145.17 M1373.5 138.66 V142.79 M1374.1 139.11 V142.91 M1374.7 139.1 V143.86 M1375.3 137.82 V144.27 M1375.9 137.59 V144.23 M1376.5 139.59 V145.75 M1377.1 139.42 V144.27 M1377.7 137.09 V142.73 M1378.3 137.41 V143.7 M1378.9 138.61 V144.12 M1379.5 139.16 V144.86 M1380.1 137.71 V143.08 M1380.7 137.62 V143.87 M1381.3 138.33 V144.25 M1381.9 139.63 V143.71 M1382.5 139.23 V145.22 M1383.1 139.46 V144.93 M1383.7 137.35 V144.3 M1384.3 139.96 V143.61 M1384.9 138.23 V144.34 M1385.5 138.16 V143.98 M1386.1 138.54 V143.67 M1386.7 137.33 V144.56 M1387.3 139.32 V143.73 M1387.9 139.23 V144.15 M1388.5 139.2 V144.63 M1389.1 138.33 V144.32 M1389.7 139.27 V144.92 M1390.3 137.64 V143.8 M1390.9 138.88 V144.65 M1391.5 138.32 V143.48 M1392.1 137.82 V144.17 M1392.7 139.63 V144.4 M1393.3 137.74 V143.45 M1393.9 137.78 V143.53 M1394.5 138.66 V145.53 M1395.1 139.13 V144.78 M1395.7 137.07 V144.54 M1396.3 139.34 V144.82 M1396.9 138.54 V143.5 M1397.5 137.77 V145.65 M1398.1 138.79 V143.98 M1398.7 138.62 V143.31 M1399.3 138.99 V144.41 M1399.9 138.5 V143.7 M1400.5 137.14 V145.17 M1401.1 138.7 V144.67 M1401.7 139.54 V143.35 M1402.3 139.24 V145.73 M1402.9 138.3 V144.26 M1403.5 137.46 V145.71 M1404.1 137.01 V144.04 M1404.7 137.4 V144.06 M1405.3 138.43 V143.13 M1405.9 138.52 V143.71 M1406.5 137.32 V145.53 M1407.1 138.53 V142.58 M1407.7 136.97 V145.09 M1408.3 140.09 V145.11 M1408.9 139.02 V143.86 M1409.5 138.59 V145.02 M1410.1 140.16 V143.53 M1410.7 137.64 V144 M1411.3 139.76 V144.57 M1411.9 139.05 V144.03 M1412.5 138.17 V144.33 M1413.1 137.36 V145.86 M1413.7 139.3 V144.09 M1414.3 136.74 V145.25 M1414.9 139.24 V143.32 M1415.5 137.4 V144.8 M1416.1 138.81 V143.37 M1416.7 138.51 V145.06 M1417.3 137.92 V144.26 M1417.9 139.05 V143.1 M1418.5 137.36 V145.53 M1419.1 137.08 V142.96 M1419.7 137.65 V143.8 M1420.3 136.82 V142.84 M1420.9 139.32 V144.84 M1421.5 137.21 V145.04 M1422.1 138.72 V142.73 M1422.7 138.09 V143.71 M1423.3 138.01 V145.14 M1423.9 137.65 V143 M1424.5 138.97 V143.28 M1425.1 138.26 V144.75 M1425.7 139.68 V145.34 M1426.3 139.3 V145.07 M1426.9 139.47 V144.96 M1427.5 137.73 V142.74 M1428.1 137.44 V144.07 M1428.7 138.73 V143.36 M1429.3 138.71 V143.64 M1429.9 139.13 V144.66 M1430.5 138.78 V144.12 M1431.1 138.23 V144.79 M1431.7 138.07 V143.94 M1432.3 139.36 V145.3 M1432.9 137.51 V145.37 M1433.5 138.08 V145.13 M1434.1 139.05 V143.89 M1434.7 138.88 V143.16 M1435.3 138.04 V144.47 M1435.9 138.72 V144.32 M1436.5 138.49 V144.93 M1437.1 139.65 V145.42 M1437.7 138.07 V144.04 M1438.3 138.1 V145.4 M1438.9 137.18 V143.88 M1439.5 139.63 V143.42 M1440.1 136.61 V145.27 M1440.7 140.03 V145.54 M1441.3 139.87 V144.37 M1441.9 137.31 V142.95 M1442.5 138.61 V145.13 M1443.1 138.26 V145.09 M1443.7 138.94 V143.71 M1444.3 137.3 V145.36 M1444.9 137.1 V142.9 M1445.5 136.84 V142.53 M1446.1 138.57 V144.97 M1446.7 138.95 V145.44 M1447.3 138.17 V144.46 M1447.9 137.37 V145.34 M1448.5 137.76 V142.49 M1449.1 139.53 V143.11 M1449.7 137.89 V143.7 M1450.3 139.2 V143.85 M1450.9 139.9 V144.35 M1451.5 138.62 V144.8 M1452.1 138.96 V143.08 M1452.7 138.48 V144.82 M1453.3 139.51 V143.95 M1453.9 138.19 V143.17 M1454.5 137.26 V144.05 M1455.1 136.52 V142.85 M1455.7 138.72 V145.39 M1456.3 137.44 V144.67 M1456.9 137.99 V144.79 M1457.5 138.73 V145.32 M1458.1 139.1 V144.83 M1458.7 137.16 V142.81 M1459.3 139.53 V144.77 M1459.9 138.68 V143.5 M1460.5 138.14 V144.33 M1461.1 139.12 V144.92 M1461.7 137.81 V143.22 M1462.3 138.32 V145.28 M1462.9 138.11 V143.31 M1463.5 138.26 V144.24 M1464.1 137.24 V144.56 M1464.7 138.76 V144.03 M1465.3 138.83 V143.92 M1465.9 138.19 V143.95 M1466.5 137.6 V144.41 M1467.1 137.66 V145.63 M1467.7 137.61 V144.42 M1468.3 137.56 V145.61 M1468.9 139.2 V143.53 M1469.5 139.43 V144.17 M1470.1 137.6 V145.45 M1470.7 138.84 V144.39 M1471.3 138.64 V145.16 M1471.9 138.27 V144.75 M1472.5 139.73 V145.02 M1473.1 136.93 V144.26 M1473.7 140.02 V144.12 M1474.3 138.39 V144.76 M1474.9 138.09 V144.31 M1475.5 139.38 V145.48 M1476.1 137.38 V144.08 M1476.7 138.38 V145.55 M1477.3 137.94 V143.54 M1477.9 138.48 V145.55 M1478.5 137.37 V142.86 M1479.1 137.21 V144.47 M1479.7 138.24 V144.22 M1480.3 138.58 V144.5 M1480.9 138.4 V143.12 M1481.5 137.81 V144.52 M1482.1 137.92 V145.08 M1482.7 138.58 V145.51 M1483.3 137.98 V142.66 M1483.9 137.79 V144.55 M1484.5 137.41 V143.95 M1485.1 139.3 V143.43 M1485.7 137.32 V143.41 M1486.3 138.6 V145.09 M1486.9 136.82 V143.87 M1487.5 138.57 V143.79 M1488.1 137.06 V143.62 M1488.7 137.75 V144.89 M1489.3 138.25 V144.31 M1489.9 138.21 V143.4 M1490.5 138.75 V145.36 M1491.1 138.88 V143.33 M1491.7 139.49 V144.97 M1492.3 139.75 V145.7 M1492.9 137.65 V145.27 M1493.5 139.44 V143.95 M1494.1 139.1 V145.24 M1494.7 137.86 V144.87 M1495.3 138.8 V144.53 M1495.9 137.42 V145.18 M1496.5 138.9 V143.16 M1497.1 138.4 V143.97 M1497.7 139.45 V143.78 M1498.3 138.12 V145.27 M1498.9 138.54 V143.05 M1499.5 138.01 V145.12 M1500.1 138.58 V144.54 M1500.7 138.63 V144.24 M1501.3 139.01 V144.17 M1501.9 137.95 V145.87 M1502.5 138.16 V144.57 M1503.1 138.04 V143.48 M1503.7 138.47 V143.37 M1504.3 137.73 V145.81 M1504.9 139.15 V143.02 M1505.5 138.84 V143.31 M1506.1 138.43 V144.82 M1506.7 139.25 V144.96 M1507.3 139.02 V145.34 M1507.9 139.78 V145.32 M1508.5 136.59 V142.86 M1509.1 137.63 V146.06 M1509.7 137.06 V145.29 M1510.3 138.82 V143.92 M1510.9 137.9 V145.62 M1511.5 139.23 V144.91 M1512.1 137.59 V144.8 M1512.7 139.56 V144.31 M1513.3 139.12 V143.53 M1513.9 137.39 V145.03 M1514.5 137.42 V145.05 M1515.1 137.12 V143.47 M1515.7 138.42 V142.99 M1516.3 136.93 V144.42 M1516.9 137.76 V142.82 M1517.5 138.03 V143.3 M1518.1 137.62 V143.9 M1518.7 138.79 V145.35 M1519.3 138.6 V143.78 M1519.9 138.62 V143.81 M1520.5 137.97 V143.06 M1521.1 137.06 V144.87 M1521.7 137.75 V145.33 M1522.3 138.75 V143.66 M1522.9 137.83 V143.59 M1523.5 139.77 V143.91 M1524.1 137.65 V143.43 M1524.7 136.79 V144.92 M1525.3 138.22 V143.82 M1525.9 137.51 V145.12 M1526.5 137.9 V144.27 M1527.1 137.61 V142.86 M1527.7 137.16 V144.18 M1528.3 137.37 V142.93 M1528.9 138.73 V144.58 M1529.5 137.05 V145.58 M1530.1 138.62 V144.31 M1530.7 138.85 V144.3 M1531.3 138.67 V143.58 M1531.9 137.3 V143.34 M1532.5 137.75 V145.33 M1533.1 139.73 V144.98 M1533.7 137.87 V143.86 M1534.3 138.64 V144.56 M1534.9 138.71 V144.85 M1535.5 139.53 V145.18 M1536.1 136.89 V144.61 M1536.7 139.03 V145.2 M1537.3 137.27 V143.65 M1537.9 137.31 V143.89 M1538.5 137.82 V145.67 M1539.1 136.75 V144.5 M1539.7 137.1 V144.41 M1540.3 139.39 V144.03 M1540.9 139.41 V144.05 M1541.5 138.14 V145.4 M1542.1 138.86 V145.16 M1542.7 137.35 V143.42 M1543.3 137.51 V144.95 M1543.9 138.18 V144.41 M1544.5 139.27 V143.31 M1545.1 137.92 V143.48 M1545.7 138.1 V143.62 M1546.3 137.94 V145.23 M1546.9 137.32 V143.56 M1547.5 139.11 V143.67 M1548.1 139.6 V143.88 M1548.7 136.68 V143.11 M1549.3 137.6 V143.62 M1549.9 137.28 V144.03 M1550.5 139.77 V143.94 M1551.1 139.18 V143.03 M1551.7 139.28 V143.32 M1552.3 138.43 V145.13 M1552.9 137.12 V145.52 M1553.5 137.27 V143.58 M1554.1 138.34 V145.76 M1554.7 136.67 V144.38 M1555.3 136.89 V144.78 M1555.9 138.04 V145.27 M1556.5 138.41 V145.03 M1557.1 138.03 V143.56 M1557.7 138.47 V143.76 M1558.3 138.82 V143.63 M1558.9 138.05 V143.14 M1559.5 138.28 V145.63 M1560.1 138.13 V145.69 M1560.7 137.18 V143.45 M1561.3 140.01 V144.15 M1561.9 138.94 V144.71 M1562.5 139.33 V144.34 M1563.1 138.69 V143.08 M1563.7 139.17 V143.37 M1564.3 139.31 V143.15 M1564.9 138.2 V143.17 M1565.5 137.43 V144.66 M1566.1 138.04 V143.26 M1566.7 136.51 V143.43 M1567.3 137.22 V145.92 M1567.9 138.31 V144.75 M1568.5 138.79 V143.01 M1569.1 139.15 V143.96 M1569.7 139.14 V145.56 M1570.3 139.54 V143.35 M1570.9 137.7 V144.16 M1571.5 137.58 V145.57 M1572.1 138 V142.95 M1572.7 138.13 V142.81 M1573.3 137.36 V145.58 M1573.9 137.33 V144.65 M1574.5 138.07 V144.26 M1575.1 139.2 V143.7 M1575.7 138.41 V143.76 M1576.3 137.75 V144.52 M1576.9 138.8 V145.96 M1577.5 137.13 V145.43 M1578.1 138.02 V145.66 M1578.7 139.77 V144.04 M1579.3 138.93 V143.68 M1579.9 139.4 V145.36 M1580.5 138.4 V144.33 M1581.1 137.07 V143.37 M1581.7 139.15 V144.97 M1582.3 139.79 V144.17 M1582.9 137.98 V144.58 M1583.5 138.12 V144.75 M1584.1 137.92 V143.49 M1584.7 137.49 V144.32 M1585.3 139.49 V144.97 M1585.9 139.17 V145.61 M1586.5 139.14 V144.87 M1587.1 137.45 V145.59 M1587.7 137.77 V145.49 M1588.3 137.74 V143.74 M1588.9 139.46 V143.58 M1589.5 139.32 V143.97 M1590.1 138.7 V144.84 M1590.7 139.07 V145.01 M1591.3 138.56 V145.13 M1591.9 137.03 V144.74 M1592.5 138.13 V145.49 M1593.1 137.41 V144.24 M1593.7 137.96 V144.92 M1594.3 138.73 V143.95 M1594.9 137.15 V143.65 M1595.5 138.04 V143.55 M1596.1 138.08 V144.06 M1596.7 137.44 V145.96 M1597.3 137.83 V145.03 M1597.9 137.34 V143.72 M1598.5 139.21 V144.99 M1599.1 136.65 V144.81 M1599.7 138.4 V143.29 M1600.3 139.9 V145.57 M1600.9 136.83 V143.26 M1601.5 139.43 V144.17 M1602.1 139.09 V144.17 M1602.7 138.15 V144.75 M1603.3 138.59 V143.57 M1603.9 140.06 V145.22 M1604.5 138.94 V144.19 M1605.1 137.43 V144.66 M1605.7 138.94 V143.63 M1606.3 137.34 V144.54 M1606.9 138.63 V143.1 M1607.5 137.51 V144.78 M1608.1 137.97 V143.4 M1608.7 138.61 V144.45 M1609.3 137.92 V144.12 M1609.9 139.72 V145.11 M1610.5 136.99 V145.17 M1611.1 137.77 V144.73 M1611.7 138.65 V144.03 M1612.3 139.11 V143.73 M1612.9 137.23 V145.58 M1613.5 137.39 V145 M1614.1 137.91 V145.69 M1614.7 138.96 V143.54 M1615.3 139.15 V142.67 M1615.9 137.71 V143.58 M1616.5 139.73 V144.86 M1617.1 136.75 V143.61 M1617.7 138.88 V144.27 M1618.3 139.06 V143.42 M1618.9 139.1 V143.02 M1619.5 138.6 V143.99 M1620.1 138.88 V144.99 M1620.7 136.62 V144.07 M1621.3 138.77 V144.11 M1621.9 139.21 V145.05 M1622.5 137.41 V145.14 M1623.1 139.67 V144.13 M1623.7 138.76 V142.73 M1624.3 138.81 V145.29 M1624.9 138.5 V143.34 M1625.5 139.89 V144.46 M1626.1 139.37 V145.08 M1626.7 139.81 V143.17 M1627.3 139.61 V143.16 M1627.9 139.34 V145.7 M1628.5 137.2 V143.29 M1629.1 137.84 V146.11 M1629.7 137.74 V144.35 M1630.3 138.53 V144.8 M1630.9 139.16 V143.4 M1631.5 137.56 V143.83 M1632.1 139.71 V144.9 M1632.7 137.91 V143.87 M1633.3 138.78 V143.45 M1633.9 136.95 V143.47 M1634.5 139.21 V144.42 M1635.1 139.76 V144.51 M1635.7 137.03 V144.22 M1636.3 138.54 V145.63 M1636.9 138.41 V145.41 M1637.5 139.56 V144.77 M1638.1 139.28 V144.83 M1638.7 137.84 V145.13 M1639.3 138.48 V145.78 M1639.9 138.77 V144.4 M1640.5 137.57 V145.4 M1641.1 137.97 V144.42 M1641.7 138.98 V144.02 M1642.3 139.42 V144.79 M1642.9 138.31 V142.61 M1643.5 139.26 V143.14 M1644.1 139.7 V144.17 M1644.7 138.96 V144.77 M1645.3 138.24 V145.02 M1645.9 138.94 V145.43 M1646.5 138.43 V145.17 M1647.1 137.7 V143.54 M1647.7 137.9 V142.73 M1648.3 138.71 V143.97 M1648.9 139.2 V145.25 M1649.5 137.32 V145.07 M1650.1 138.69 V144.75 M1650.7 137.81 V145.17 M1651.3 139.35 V143.48 M1651.9 139.39 V144.13 M1652.5 138.15 V145.3 M1653.1 138.21 V144.53 M1653.7 138.89 V143.56 M1654.3 137.9 V143.7 M1654.9 138.72 V143.59 M1655.5 139.21 V143.55 M1656.1 137.35 V143.41 M1656.7 139.16 V144.67 M1657.3 139.18 V143.32 M1657.9 137.96 V144.99 M1658.5 137.98 V144.36 M1659.1 137.51 V144.6 M1659.7 138.35 V143.23 M1660.3 139.24 V143.12 M1660.9 139.17 V144.38 M1661.5 137.01 V143.52 M1662.1 137.53 V145.2 M1662.7 139.21 V145.14 M1663.3 139.3 V145.45 M1663.9 139.72 V144.28 M1664.5 138.75 V143.89 M1665.1 139.24 V143.14 M1665.7 137.32 V144.46 M1666.3 137.46 V145.6 M1666.9 138.82 V143.73 M1667.5 138.02 V145.11 M1668.1 139.01 V143.63 M1668.7 139.04 V143.44 M1669.3 139.47 V143.26 M1669.9 138.83 V144.04 M1670.5 138.02 V142.73 M1671.1 136.94 V145.02 M1671.7 137.06 V145.64 M1672.3 137.71 V145.48 M1672.9 139.48 V143.45 M1673.5 137.8 V142.71 M1674.1 138.25 V144.17 M1674.7 137.32 V143.38 M1675.3 138.54 V144.11 M1675.9 138.59 V144.92 M1676.5 138.01 V143.49 M1677.1 137.68 V145.14 M1677.7 137.17 V143.54 M1678.3 136.9 V143.22 M1678.9 138.18 V145.47 M1679.5 139.64 V143.78 M1680.1 137.59 V143.73 M1680.7 138.58 V143.9 M1681.3 137.1 V144.34 M1681.9 137.46 V143.46 M1682.5 136.79 V142.39 M1683.1 136.83 V145.19 M1683.7 136.65 V142.62 M1684.3 138.11 V144.7 M1684.9 139.64 V145.77 M1685.5 136.94 V143.15 M1686.1 138.05 V143.99 M1686.7 137.77 V145.57 M1687.3 138.16 V143.85 M1687.9 137.56 V142.87 M1688.5 137.65 V142.35 M1689.1 139.55 V143.92 M1689.7 139.88 V143.94 M1690.3 139.72 V145.77 M1690.9 138.65 V144.32 M1691.5 137.44 V144.41 M1692.1 136.7 V144.18 M1692.7 137.14 V143.02 M1693.3 138.66 V144.14 M1693.9 139.84 V143.97 M1694.5 138.61 V145.36 M1695.1 139.68 V145.05 M1695.7 139.65 V146.13 M1696.3 138.67 V144.42 M1696.9 138.13 V144.41 M1697.5 136.61 V144.13 M1698.1 138.75 V145.88 M1698.7 140.18 V144.38 M1699.3 138.32 V144.1 M1699.9 137.1 V143.01 M1700.5 137.85 V144.84 M1701.1 138.99 V143.25 M1701.7 138.11 V145.15 M1702.3 136.49 V143.37 M1702.9 138.24 V145.25 M1703.5 138.43 V144.46 M1704.1 138.5 V143.46 M1704.7 137.14 V143.24 M1705.3 139.77 V144.53 M1705.9 138.96 V143.05 M1706.5 139.6 V144.15 M1707.1 138.39 V143.31 M1707.7 137.74 V143.13 M1708.3 139.68 V143.61 M1708.9 139.09 V145.77 M1709.5 137.51 V143.15 M1710.1 138.73 V142.96 M1710.7 138.15 V142.72 M1711.3 138.35 V143.75 M1711.9 136.62 V142.84 M1712.5 138.2 V145.49 M1713.1 137.1 V142.48 M1713.7 138.99 V142.71 M1714.3 137.58 V143.94 M1714.9 139.08 V143.7 M1715.5 137.44 V145.1 M1716.1 139.51 V142.71 M1716.7 138.58 V144.18 M1717.3 137.74 V143.85 M1717.9 137.79 V145.07 M1718.5 137.81 V145.46 M1719.1 139.66 V145.25 M1719.7 136.75 V144.24 M1720.3 139.05 V145.03 M1720.9 137.69 V144.9 M1721.5 139.18 V143.9 M1722.1 137.82 V143.88 M1722.7 139.07 V143.43 M1723.3 137.14 V142.71 M1723.9 137.08 V143.05 M1724.5 137.76 V143.44 M1725.1 137.73 V144.24 M1725.7 138.44 V145.09 M1726.3 138.91 V144.11 M1726.9 137.26 V145.07 M1727.5 137.82 V145.13 M1728.1 138.18 V143.61 M1728.7 137.06 V143.95 M1729.3 138.32 V144.1 M1729.9 138.49 V144.46 M1730.5 137.8 V144.39 M1731.1 137.93 V144.74 M1731.7 138.55 V145.63 M1732.3 136.89 V144.3 M1732.9 137.61 V144.9 M1733.5 137.08 V145.15 M1734.1 138.39 V144 M1734.7 137.3 V143.5 M1735.3 136.89 V145.3" fill="none" stroke="#f03060" stroke-width="0.7" stroke-opacity="0.6"/>
<path d="M978.55 124.05 V151.61 M979.15 126.48 V158.92 M980.95 132.54 V158.09 M982.75 129.57 V150.91 M983.95 132.73 V147.35 M992.95 137.9 V144.56 M996.55 138.24 V144.65 M997.15 139.39 V143.78 M997.75 139.83 V144.76 M999.55 138.22 V143.99 M1000.15 139.44 V143.8 M1000.75 138 V144.36 M1001.95 138.28 V142.72 M1002.55 138.12 V144.1 M1007.95 139.6 V143.41 M1009.15 138.37 V144.73 M1010.95 138.15 V143.26 M1011.55 139.52 V143.91 M1012.15 138.03 V144.62 M1013.95 138.56 V144.01 M1014.55 138.39 V143.93 M1016.95 139.73 V144.33 M1025.95 139.61 V143.7 M1027.15 138.61 V143.38 M1028.35 138.48 V144.75 M1028.95 138.54 V144.6 M1029.55 139.31 V143.96 M1031.95 138.42 V142.67 M1033.75 138.55 V143.15 M1036.75 138.14 V143.93 M1038.55 139.62 V144.67 M1039.15 137.89 V144.61 M1039.75 137.92 V143.03 M1040.95 139.32 V143.52 M1042.15 138.1 V143.25 M1042.75 139.69 V143.79 M1043.95 139.87 V143.82 M1044.55 139.03 V144 M1047.55 139.29 V143.77 M1050.55 139.47 V143.06 M1051.15 139.36 V144.73 M1051.75 137.87 V142.94 M1052.35 138.31 V143.01 M1053.55 139.2 V144.63 M1054.15 137.89 V143.69 M1055.95 139.53 V142.74 M1060.15 138.1 V143.46 M1070.95 138.45 V143.37 M1071.55 138.5 V143.96 M1075.75 138.49 V144.24 M1076.95 139.08 V143.89 M1077.55 138.8 V144.65 M1078.75 138.72 V143.74 M1079.35 138.43 V144.27 M1081.15 139.61 V144.03 M1081.75 139.88 V143.84 M1082.35 138.36 V142.95 M1084.15 139.91 V143.76 M1084.75 138.51 V143.34 M1085.35 139.29 V143.88 M1085.95 138.73 V143.2 M1086.55 139.84 V144.37 M1087.15 137.78 V142.99 M1088.95 138.6 V142.81 M1097.35 137.89 V143.32 M1097.95 137.92 V143.12 M1099.15 139.43 V143.07 M1102.75 139.61 V144.48 M1105.15 139.15 V142.86 M1107.55 139.56 V143.8 M1112.35 139.4 V142.91 M1113.55 138.9 V142.72 M1114.75 139.96 V142.7 M1115.95 138.08 V144.42 M1117.15 139.58 V144.38 M1118.95 139.2 V143.97 M1120.15 138.16 V144.45 M1122.55 138.4 V143.77 M1123.15 138.72 V144.7 M1125.55 139.05 V144.57 M1126.15 137.84 V142.78 M1126.75 138.31 V144.44 M1127.35 139.55 V143.12 M1127.95 138 V144.42 M1129.75 138.07 V143.99 M1130.35 138.26 V144.55 M1132.15 138.22 V144.58 M1134.55 139.36 V144.18 M1139.95 139.47 V144.46 M1142.35 138.44 V143.01 M1144.15 138.18 V143.9 M1145.35 138.09 V143.16 M1147.15 139.48 V144.54 M1148.35 138.6 V144.45 M1151.35 137.83 V143.74 M1153.15 139.06 V144.5 M1154.95 138.61 V144.16 M1155.55 137.99 V143.39 M1156.15 137.87 V144.75 M1156.75 139.45 V144.27 M1157.95 139.01 V143.44 M1159.75 138.9 V143.56 M1160.95 139.56 V143.25 M1163.35 138.78 V143.92 M1163.95 138.2 V142.9 M1165.75 138.11 V143.44 M1167.55 137.93 V144.74 M1168.75 139.78 V143.19 M1170.55 139.77 V143.41 M1173.55 138.31 V144.53 M1174.15 138.64 V144.49 M1175.35 138.39 V144.28 M1183.15 138.58 V142.84 M1184.95 139.39 V144.29 M1186.15 138.86 V143.93 M1187.35 137.89 V142.8 M1188.55 139.65 V143.43 M1189.75 139.97 V143.51 M1190.35 138.98 V143.91 M1192.15 138.51 V142.88 M1193.35 139.47 V143.26 M1195.15 138.46 V144.34 M1198.15 138.4 V144.27 M1199.35 139.66 V144.62 M1199.95 139.04 V144.16 M1200.55 138.97 V144.23 M1202.35 138 V143.97 M1202.95 139.8 V144.67 M1206.55 138.53 V143.15 M1208.95 139.59 V143.5 M1211.95 139.16 V144.18 M1214.35 139.45 V144.27 M1215.55 139.72 V144.57 M1218.55 138.26 V143.23 M1219.15 139.05 V143.12 M1225.15 137.85 V142.65 M1228.15 139.05 V144.44 M1228.75 139.94 V144.67 M1230.55 139.05 V144.67 M1232.95 138.94 V143.95 M1234.15 138.35 V143.9 M1235.35 138.12 V143.58 M1236.55 138.09 V143.01 M1238.35 138.68 V143.37 M1239.55 139.34 V143.13 M1240.15 139.12 V144.2 M1241.35 138.57 V142.91 M1241.95 139.63 V143.97 M1242.55 138.92 V144.32 M1244.35 138.21 V142.63 M1244.95 137.96 V144.37 M1245.55 139.37 V143.44 M1246.75 139.72 V142.82 M1247.35 138.11 V144.15 M1252.15 139.1 V144.19 M1256.35 138.85 V144.7 M1258.75 139.07 V143.04 M1259.35 138.04 V143.69 M1261.75 139.85 V142.65 M1264.75 139.27 V143.68 M1265.35 138.32 V144.05 M1268.35 139.4 V144.78 M1268.95 139.53 V144.78 M1269.55 139.64 V143.12 M1270.15 138.45 V142.64 M1270.75 138.97 V142.7 M1271.35 138.28 V144.29 M1271.95 139.83 V144.52 M1274.95 138.47 V142.85 M1276.15 139.79 V144.52 M1276.75 139.12 V143.37 M1278.55 139.83 V143.48 M1279.75 139.48 V144.71 M1283.35 139.56 V144.2 M1285.75 138.78 V144.42 M1286.35 138.46 V143.69 M1288.75 138.94 V144.6 M1289.35 138.87 V142.8 M1289.95 138.91 V144.62 M1290.55 139.8 V143.88 M1301.95 138.82 V143.54 M1302.55 139.5 V143.07 M1304.35 138.53 V143.66 M1304.95 139.03 V143.08 M1306.15 138.25 V144.07 M1309.15 138.58 V142.96 M1309.75 138.43 V143.52 M1310.35 138.11 V142.68 M1312.75 138.65 V143.48 M1313.35 139.69 V144.11 M1314.55 138.55 V144.2 M1315.15 138.49 V144.66 M1316.35 139.11 V144.41 M1316.95 138.21 V143.55 M1318.15 139.36 V142.98 M1318.75 138.52 V144.48 M1319.35 139.62 V142.64 M1320.55 139.9 V144.65 M1321.15 138.79 V144.78 M1322.35 138.13 V143.04 M1327.75 138.8 V144.34 M1328.35 139.2 V143.64 M1335.55 139.67 V144.29 M1336.15 139.77 V144.27 M1341.55 138.31 V143.39 M1342.75 139 V143.84 M1343.95 139.55 V143.74 M1345.75 138.23 V143.27 M1346.95 138.69 V143.36 M1350.55 139.38 V142.87 M1351.75 139.01 V144.54 M1352.35 138.9 V143.4 M1353.55 139.6 V143.89 M1355.95 139.2 V143.36 M1356.55 138.95 V144.04 M1357.15 138.48 V144.22 M1357.75 139.43 V144.74 M1358.95 138.6 V144.17 M1360.15 139.08 V144.48 M1360.75 139.35 V142.88 M1362.55 139.69 V144.6 M1363.75 138.54 V143.51 M1364.95 139.84 V144.12 M1371.55 138.98 V144.52 M1373.35 139.43 V143.72 M1373.95 138.05 V142.96 M1374.55 138.86 V143.15 M1377.55 139.03 V142.66 M1383.55 139.11 V144.39 M1384.15 138.89 V144.68 M1385.95 139.39 V144.82 M1386.55 138.22 V142.76 M1387.15 137.84 V143.13 M1387.75 139.42 V142.76 M1388.35 138.4 V144.29 M1388.95 139.18 V142.9 M1389.55 138.93 V142.67 M1390.15 138.6 V144.45 M1390.75 139.53 V144.71 M1391.35 138.78 V143.6 M1391.95 138.56 V144.76 M1392.55 138.21 V144.15 M1393.15 139.03 V143.7 M1396.15 139.05 V144.64 M1397.35 138.48 V143.38 M1401.55 139.69 V144.17 M1402.75 138.77 V142.92 M1404.55 139.22 V144.22 M1406.35 138.61 V143.89 M1407.55 138.22 V142.63 M1412.95 139.04 V143.43 M1416.55 138.74 V143.37 M1417.15 138.3 V143.17 M1418.95 138.1 V143.94 M1421.95 139.08 V143.53 M1423.15 138.75 V143.47 M1423.75 137.79 V143.14 M1426.75 138.63 V144.69 M1427.35 138.85 V143.07 M1428.55 138.59 V143.83 M1429.75 138.69 V142.79 M1430.35 139.34 V144.12 M1432.75 138.53 V142.89 M1433.35 138.14 V144.36 M1434.55 138.74 V143.54 M1435.75 138.21 V144.22 M1436.35 139.58 V144.8 M1437.55 139.24 V143.11 M1438.75 138.09 V143.87 M1440.55 139.39 V144.78 M1441.15 139.25 V142.94 M1445.95 138.69 V144.77 M1451.95 138.82 V144 M1454.95 138.1 V142.77 M1456.75 139.62 V143.54 M1457.35 138.96 V142.73 M1460.95 139.98 V143.16 M1461.55 139.73 V143.2 M1462.15 138.39 V143.78 M1462.75 138.83 V143.39 M1463.95 139.87 V143.29 M1465.15 138.24 V142.74 M1466.95 138.48 V143.15 M1468.75 138.12 V143.39 M1471.15 139.09 V143.72 M1472.35 139.59 V144.59 M1474.15 139.09 V143.73 M1474.75 138.28 V144.01 M1475.35 138.33 V143.11 M1475.95 139.62 V143.76 M1478.95 139.36 V143 M1489.75 138.96 V144.8 M1493.35 139.27 V144.21 M1493.95 138.62 V143.76 M1495.75 139.3 V142.72 M1497.55 139.29 V143.11 M1498.15 139.44 V142.89 M1501.75 138.29 V143.89 M1502.35 139.5 V143.73 M1502.95 139.07 V143.21 M1503.55 138.05 V143.15 M1504.15 138.87 V144.09 M1504.75 139.67 V144.46 M1506.55 139.25 V144.41 M1507.75 139.54 V143.59 M1508.95 137.81 V143.89 M1510.75 139.71 V144.69 M1511.35 138.14 V144.49 M1512.55 139.3 V143.71 M1513.15 138.06 V143.37 M1513.75 138.62 V144.34 M1514.35 138.66 V144.09 M1516.15 138.21 V143.33 M1517.35 138.97 V143.14 M1518.55 137.99 V143.61 M1519.75 138.03 V144.78 M1530.55 139.79 V143.68 M1532.95 138.74 V144.6 M1534.15 138.12 V144.4 M1534.75 138.2 V144.5 M1535.35 139.62 V143.84 M1535.95 138.82 V143.62 M1537.75 138.65 V142.95 M1542.55 138.96 V143.15 M1543.15 139.96 V142.9 M1543.75 138.08 V142.69 M1544.35 139.58 V142.95 M1544.95 139.97 V142.73 M1546.75 138.99 V144.14 M1547.95 138.52 V143.14 M1548.55 139.12 V143.81 M1551.55 138.71 V143.52 M1558.15 139.47 V143.69 M1571.95 138.22 V142.69 M1572.55 139.04 V142.95 M1573.15 138.37 V144.48 M1573.75 138.68 V144.17 M1574.35 137.78 V143.13 M1574.95 137.91 V143.42 M1576.75 138.13 V143.8 M1577.35 139.43 V143.44 M1579.75 139.73 V143.86 M1582.15 139.43 V143.86 M1582.75 139.87 V144.44 M1585.15 139.19 V144.46 M1585.75 138.82 V143.47 M1588.15 139.08 V142.73 M1590.55 138.4 V144.13 M1591.15 138.48 V144.42 M1592.95 138.92 V144.65 M1607.35 139.24 V143.22 M1612.75 138 V142.83 M1615.15 138.1 V143.3 M1615.75 139.49 V144.29 M1616.95 139.24 V144.3 M1617.55 139.12 V144.36 M1619.95 139 V143.4 M1621.15 139.16 V143.56 M1622.35 138.17 V142.95 M1622.95 137.79 V143.86 M1623.55 139.05 V144.82 M1625.95 139.45 V143.09 M1626.55 138.95 V144.01 M1630.75 137.91 V143.34 M1634.95 139.27 V143.94 M1645.75 138.81 V143.9 M1646.95 139.6 V144.28 M1648.15 138.86 V144.66 M1649.35 138.53 V142.63 M1650.55 138.32 V144.81 M1651.15 139.78 V143.11 M1654.75 138.44 V144.54 M1655.95 139.7 V142.86 M1657.15 138.79 V144.13 M1657.75 137.85 V142.62 M1658.95 139.02 V144.58 M1659.55 137.83 V143.11 M1660.15 138.42 V144.67 M1660.75 139.22 V144.72 M1661.35 138.11 V142.93 M1663.75 137.89 V143.53 M1664.35 139.38 V144.67 M1666.15 139.8 V142.93 M1667.95 139.13 V143.5 M1673.95 138.49 V143.23 M1682.95 139.65 V143.1 M1688.95 137.99 V144.32 M1689.55 138.85 V143.52 M1691.35 138.11 V143.11 M1692.55 139.57 V144.38 M1693.15 138.21 V142.87 M1693.75 139.58 V144.59 M1695.55 139.09 V143.74 M1696.15 138.85 V142.94 M1696.75 138.51 V143.56 M1697.95 139.72 V143.17 M1700.35 138.71 V144.61 M1702.15 139.22 V144.65 M1702.75 139.43 V143.07 M1703.35 139.8 V144.61 M1704.55 139.39 V144.68 M1705.15 139.8 V143.11 M1705.75 139.84 V143.97 M1706.35 139.74 V144.67 M1707.55 139.91 V143.26 M1709.95 137.95 V143.19 M1711.15 137.93 V144.52 M1721.95 138.11 V144.66 M1722.55 138.4 V143.98 M1723.75 138.61 V144.12 M1724.35 139.66 V142.64 M1726.75 138.94 V143.3 M1727.35 139.82 V144.79 M1727.95 138.89 V143.34 M1730.35 138.95 V143.09 M1731.55 139.42 V143.96 M1732.15 138.68 V144.29 M1734.55 138.51 V143.5 M1735.15 139.04 V143.16" fill="none" stroke="#602090" stroke-width="0.7" stroke-opacity="0.45"/>
<rect x="978.5" y="52.5" width="757" height="345" fill="none" stroke="#909090" stroke-width="1.2"/>
<rect x="1612" y="57.1" width="119.3" height="48.4" fill="#fff" stroke="#808080" stroke-width="1"/>
<line x1="1617.8" y1="70" x2="1647" y2="70" stroke="#6a6aff" stroke-width="1.6"/>
<line x1="1615.8" y1="92.2" x2="1644.6" y2="92.2" stroke="#ff5a6a" stroke-width="1.6"/>
<text transform="translate(1654 74.8) scale(1 1.04)" font-size="16.2">with PI</text>
<text transform="translate(1654 98.8) scale(1 1.04)" font-size="16.2">with SMC</text>
<rect x="1190.9" y="86.6" width="71.3" height="50.7" fill="#ffffe8" stroke="none" stroke-width="0"/>
<text x="1198.7" y="102.8" font-size="16">X: 5.585</text>
<text x="1198.7" y="128.2" font-size="16">Y: 1150</text>
<rect x="1186" y="137.8" width="7" height="7" fill="#000" stroke="none" stroke-width="0"/>
<text transform="translate(970.5 74.3) scale(1 1.07)" font-size="24.4" text-anchor="end">1500</text>
<text transform="translate(970.5 185.5) scale(1 1.07)" font-size="24.4" text-anchor="end">1000</text>
<text transform="translate(970.5 296) scale(1 1.07)" font-size="24.4" text-anchor="end">500</text>
<text transform="translate(970.5 407.5) scale(1 1.07)" font-size="24.4" text-anchor="end">0</text>
<text transform="translate(979.8 427.4) scale(1 1.07)" font-size="24.4" text-anchor="middle">0</text>
<text transform="translate(1054.8 427.4) scale(1 1.07)" font-size="24.4" text-anchor="middle">2</text>
<text transform="translate(1129.5 427.4) scale(1 1.07)" font-size="24.4" text-anchor="middle">4</text>
<text transform="translate(1206.7 427.4) scale(1 1.07)" font-size="24.4" text-anchor="middle">6</text>
<text transform="translate(1282.8 427.4) scale(1 1.07)" font-size="24.4" text-anchor="middle">8</text>
<text transform="translate(1360 427.4) scale(1 1.07)" font-size="24.4" text-anchor="middle">10</text>
<text transform="translate(1436.2 427.4) scale(1 1.07)" font-size="24.4" text-anchor="middle">12</text>
<text transform="translate(1512.4 427.4) scale(1 1.07)" font-size="24.4" text-anchor="middle">14</text>
<text transform="translate(1588.5 427.4) scale(1 1.07)" font-size="24.4" text-anchor="middle">16</text>
<text transform="translate(1663.7 427.4) scale(1 1.07)" font-size="24.4" text-anchor="middle">18</text>
<text transform="translate(1738.3 427.4) scale(1 1.07)" font-size="24.4" text-anchor="middle">20</text>
<text transform="translate(1323 444.4) scale(1 1.07)" font-size="24.4" textLength="101.5" lengthAdjust="spacingAndGlyphs">Time (sec)</text>
<text transform="translate(1233.1 44.5) scale(1 1.07)" font-size="24.4" textLength="251.2" lengthAdjust="spacingAndGlyphs">DC-link Voltage behavior</text>
<text transform="translate(906.5,216.2) rotate(-90)" text-anchor="middle" font-size="24.4" textLength="195.6" lengthAdjust="spacingAndGlyphs">DC-link voltage (V)</text>
<line x1="177.5" y1="549" x2="177.5" y2="870" stroke="#7a7a7a" stroke-width="1" stroke-dasharray="2.5,2.3"/>
<line x1="247.5" y1="549" x2="247.5" y2="870" stroke="#7a7a7a" stroke-width="1" stroke-dasharray="2.5,2.3"/>
<line x1="318.5" y1="549" x2="318.5" y2="870" stroke="#7a7a7a" stroke-width="1" stroke-dasharray="2.5,2.3"/>
<line x1="388.5" y1="549" x2="388.5" y2="870" stroke="#7a7a7a" stroke-width="1" stroke-dasharray="2.5,2.3"/>
<line x1="459.5" y1="549" x2="459.5" y2="870" stroke="#7a7a7a" stroke-width="1" stroke-dasharray="2.5,2.3"/>
<line x1="529.5" y1="549" x2="529.5" y2="870" stroke="#7a7a7a" stroke-width="1" stroke-dasharray="2.5,2.3"/>
<line x1="600.5" y1="549" x2="600.5" y2="870" stroke="#7a7a7a" stroke-width="1" stroke-dasharray="2.5,2.3"/>
<line x1="670.5" y1="549" x2="670.5" y2="870" stroke="#7a7a7a" stroke-width="1" stroke-dasharray="2.5,2.3"/>
<line x1="740.5" y1="549" x2="740.5" y2="870" stroke="#7a7a7a" stroke-width="1" stroke-dasharray="2.5,2.3"/>
<line x1="107" y1="824.5" x2="811.3" y2="824.5" stroke="#7a7a7a" stroke-width="1" stroke-dasharray="2.5,2.3"/>
<line x1="107" y1="778.5" x2="811.3" y2="778.5" stroke="#7a7a7a" stroke-width="1" stroke-dasharray="2.5,2.3"/>
<line x1="107" y1="732.5" x2="811.3" y2="732.5" stroke="#7a7a7a" stroke-width="1" stroke-dasharray="2.5,2.3"/>
<line x1="107" y1="686.5" x2="811.3" y2="686.5" stroke="#7a7a7a" stroke-width="1" stroke-dasharray="2.5,2.3"/>
<line x1="107" y1="640.5" x2="811.3" y2="640.5" stroke="#7a7a7a" stroke-width="1" stroke-dasharray="2.5,2.3"/>
<line x1="107" y1="594.5" x2="811.3" y2="594.5" stroke="#7a7a7a" stroke-width="1" stroke-dasharray="2.5,2.3"/>
<path d="M107.11 868.34C107.45 866.65 108.47 862.25 109.14 858.18C109.82 854.12 110.5 848.03 111.17 843.96C111.85 839.9 112.36 835.84 113.21 833.8C114.05 831.77 115.24 834.14 116.25 831.77C117.27 829.4 118.29 824.66 119.3 819.58C120.32 814.5 121.33 807.39 122.35 801.3C123.36 795.2 124.38 789.11 125.4 783.01C126.41 776.92 127.43 769.13 128.44 764.73C129.46 760.32 130.48 758.63 131.49 756.6C132.51 754.57 133.35 753.89 134.54 752.54C135.72 751.18 137.42 749.83 138.6 748.47C139.79 747.12 140.63 746.44 141.65 744.41C142.67 742.38 143.68 739.33 144.7 736.28C145.71 733.23 146.73 730.19 147.74 726.12C148.76 722.06 149.61 716.3 150.79 711.9C151.98 707.5 153.33 703.44 154.86 699.71C156.38 695.99 158.24 692.26 159.93 689.55C161.63 686.84 163.15 685.49 165.01 683.46C166.88 681.43 169.08 679.39 171.11 677.36C173.14 675.33 175.17 673.64 177.2 671.27C179.24 668.9 181.27 665.51 183.3 663.14C185.33 660.77 187.53 659.08 189.39 657.05C191.26 655.01 192.95 652.24 194.47 650.95C196 649.66 197.01 648.99 198.54 649.33C200.06 649.66 201.75 652.1 203.62 652.98C205.48 653.86 207.68 654.27 209.71 654.61C211.74 654.95 213.77 654.78 215.81 655.01C217.84 655.25 219.53 656.03 221.9 656.03C224.27 656.03 227.32 655.52 230.03 655.01C232.74 654.51 235.45 653.05 238.16 652.98C240.86 652.91 243.57 654.27 246.28 654.61C248.99 654.95 251.7 655.12 254.41 655.01C257.12 654.91 260.17 654 262.54 654C264.91 654 266.6 654 268.63 655.01C270.66 656.03 272.69 658.06 274.73 660.09C276.76 662.13 279.13 665.34 280.82 667.2C282.51 669.07 283.36 670.42 284.88 671.27C286.41 672.11 288.44 671.27 289.96 672.28C291.49 673.3 292.67 675.33 294.03 677.36C295.38 679.39 296.57 682.78 298.09 684.47C299.61 686.17 301.31 686.51 303.17 687.52C305.03 688.54 307.23 689.38 309.26 690.57C311.3 691.75 313.33 693.11 315.36 694.63C317.39 696.16 319.42 697.85 321.45 699.71C323.49 701.57 325.52 703.77 327.55 705.81C329.58 707.84 331.61 710.04 333.64 711.9C335.68 713.76 337.71 715.29 339.74 716.98C341.77 718.67 343.8 720.2 345.84 722.06C347.87 723.92 349.9 725.95 351.93 728.16C353.96 730.36 355.99 732.9 358.03 735.27C360.06 737.64 362.09 739.84 364.12 742.38C366.15 744.92 368.35 748.3 370.22 750.5C372.08 752.7 373.26 754.23 375.29 755.58C377.33 756.94 380.2 757.61 382.41 758.63C384.61 759.65 386.3 760.32 388.5 761.68C390.7 763.03 393.58 767.27 395.61 766.76C397.64 766.25 399 762.02 400.69 758.63C402.38 755.24 404.25 749.66 405.77 746.44C407.29 743.22 408.31 740.35 409.83 739.33C411.36 738.31 413.22 738.82 414.91 740.35C416.61 741.87 418.3 746.27 419.99 748.47C421.68 750.67 423.38 753.21 425.07 753.55C426.76 753.89 428.46 752.54 430.15 750.5C431.84 748.47 433.37 743.83 435.23 741.36C437.09 738.89 439.29 736.18 441.32 735.67C443.36 735.16 445.39 736.69 447.42 738.31C449.45 739.94 451.82 744.07 453.51 745.42C455.21 746.78 456.47 747.63 457.58 746.44C458.69 745.26 459.22 742.04 460.16 738.31C461.1 734.59 462.19 729.85 463.21 724.09C464.22 718.34 465.07 711.56 466.25 703.77C467.44 695.99 468.96 685.83 470.32 677.36C471.67 668.9 473.03 658.57 474.38 652.98C475.73 647.4 477.09 645.87 478.44 643.84C479.8 641.81 480.81 641.3 482.51 640.79C484.2 640.28 486.91 640.96 488.6 640.79C490.3 640.62 491.31 640.62 492.67 639.78C494.02 638.93 495.21 638.25 496.73 635.71C498.25 633.17 500.12 628.26 501.81 624.54C503.5 620.81 505.03 616.24 506.89 613.36C508.75 610.49 510.78 609.3 512.98 607.27C515.18 605.24 517.89 602.63 520.09 601.17C522.29 599.72 523.99 599.11 526.19 598.53C528.39 597.96 530.76 597.96 533.3 597.72C535.84 597.48 538.72 597.55 541.43 597.11C544.14 596.67 547.18 595.52 549.55 595.08C551.92 594.64 553.28 594.47 555.65 594.47C558.02 594.47 561.4 595.42 563.77 595.08C566.15 594.74 568.18 593.12 569.87 592.44C571.56 591.76 572.24 590.91 573.93 591.02C575.63 591.12 577.66 592.47 580.03 593.05C582.4 593.62 585.78 594.3 588.16 594.47C590.53 594.64 592.22 594.4 594.25 594.06C596.28 593.72 598.31 592.84 600.35 592.44C602.38 592.03 604.41 591.63 606.44 591.63C608.47 591.63 610.5 591.86 612.54 592.44C614.57 593.01 616.6 594.3 618.63 595.08C620.66 595.86 622.69 596.6 624.73 597.11C626.76 597.62 628.62 597.79 630.82 598.13C633.02 598.47 635.9 598.3 637.93 599.14C639.96 599.99 641.15 601.34 643.01 603.21C644.87 605.07 647.07 607.61 649.11 610.32C651.14 613.03 653.17 616.58 655.2 619.46C657.23 622.34 659.26 624.88 661.3 627.59C663.33 630.3 665.36 632.83 667.39 635.71C669.42 638.59 671.45 641.64 673.49 644.86C675.52 648.07 677.55 651.8 679.58 655.01C681.61 658.23 683.64 661.28 685.68 664.16C687.71 667.04 689.74 669.41 691.77 672.28C693.8 675.16 695.84 678.21 697.87 681.43C699.9 684.64 701.93 688.54 703.96 691.58C705.99 694.63 708.03 697.51 710.06 699.71C712.09 701.91 714.12 703.27 716.15 704.79C718.18 706.31 720.22 707.67 722.25 708.85C724.28 710.04 726.14 710.89 728.34 711.9C730.54 712.92 733.42 715.29 735.45 714.95C737.48 714.61 738.67 711.9 740.53 709.87C742.39 707.84 744.6 705.3 746.63 702.76C748.66 700.22 750.69 697.17 752.72 694.63C754.75 692.09 756.79 689.38 758.82 687.52C760.85 685.66 762.88 684.47 764.91 683.46C766.94 682.44 768.98 682 771.01 681.43C773.04 680.85 775.07 680.61 777.1 680C779.13 679.39 781.17 678.89 783.2 677.77C785.23 676.65 787.43 674.62 789.29 673.3C791.16 671.98 792.68 670.25 794.37 669.85C796.07 669.44 797.93 670.52 799.45 670.86C800.98 671.2 801.99 671.71 803.51 671.88C805.04 672.05 807.75 671.88 808.59 671.88" fill="none" stroke="#0000ff" stroke-width="1.6" stroke-linejoin="round" stroke-linecap="round"/>
<path d="M106.5 869.36C106.94 866.82 108.19 860.05 109.14 854.12C110.09 848.19 111.34 839.39 112.19 833.8C113.04 828.22 113.61 822.97 114.22 820.6C114.83 818.23 115.17 818.57 115.85 819.58C116.52 820.6 117.54 825.34 118.29 826.69C119.03 828.05 119.57 828.55 120.32 827.71C121.06 826.86 121.91 825.34 122.75 821.61C123.6 817.89 124.45 811.45 125.4 805.36C126.34 799.26 127.43 791.81 128.44 785.04C129.46 778.27 130.48 771.5 131.49 764.73C132.51 757.95 133.52 751.52 134.54 744.41C135.55 737.3 136.57 728.49 137.59 722.06C138.6 715.63 139.69 710.89 140.63 705.81C141.58 700.73 142.43 692.94 143.28 691.58C144.12 690.23 144.8 694.63 145.71 697.68C146.63 700.73 147.91 707.33 148.76 709.87C149.61 712.41 149.95 713.93 150.79 712.92C151.64 711.9 152.82 708.68 153.84 703.77C154.86 698.86 155.87 690.23 156.89 683.46C157.9 676.69 158.92 669.24 159.93 663.14C160.95 657.05 162.14 651.63 162.98 646.89C163.83 642.15 164.34 637.58 165.01 634.7C165.69 631.82 166.2 629.28 167.05 629.62C167.89 629.96 169.08 632.83 170.09 636.73C171.11 640.62 172.13 647.9 173.14 652.98C174.16 658.06 175.17 663.65 176.19 667.2C177.2 670.76 178.39 673.3 179.24 674.32C180.08 675.33 180.42 676.18 181.27 673.3C182.11 670.42 183.3 663.48 184.32 657.05C185.33 650.61 186.35 641.13 187.36 634.7C188.38 628.26 189.23 622.85 190.41 618.44C191.6 614.04 193.29 609.3 194.47 608.29C195.66 607.27 196.51 609.98 197.52 612.35C198.54 614.72 199.55 618.11 200.57 622.51C201.58 626.91 202.43 633.68 203.62 638.76C204.8 643.84 206.16 648.58 207.68 652.98C209.2 657.38 211.07 661.79 212.76 665.17C214.45 668.56 216.15 671.61 217.84 673.3C219.53 674.99 221.22 675.33 222.92 675.33C224.61 675.33 226.13 674.48 228 673.3C229.86 672.11 232.06 670.25 234.09 668.22C236.12 666.19 238.16 663.31 240.19 661.11C242.22 658.91 244.42 656.44 246.28 655.01C248.14 653.59 249.67 652.75 251.36 652.58C253.05 652.41 254.58 652.91 256.44 654C258.3 655.08 260.67 656.88 262.54 659.08C264.4 661.28 265.92 664.16 267.61 667.2C269.31 670.25 271 673.64 272.69 677.36C274.39 681.09 276.08 685.83 277.77 689.55C279.47 693.28 280.99 697.34 282.85 699.71C284.71 702.08 286.92 702.93 288.95 703.77C290.98 704.62 293.01 704.62 295.04 704.79C297.07 704.96 299.11 704.79 301.14 704.79C303.17 704.79 305.2 704.28 307.23 704.79C309.26 705.3 311.47 706.65 313.33 707.84C315.19 709.02 316.71 709.53 318.41 711.9C320.1 714.27 321.79 718.67 323.49 722.06C325.18 725.45 326.87 729 328.57 732.22C330.26 735.44 331.95 738.72 333.64 741.36C335.34 744 337.03 746.71 338.72 748.07C340.42 749.42 341.94 749.59 343.8 749.49C345.67 749.39 347.87 748.13 349.9 747.46C351.93 746.78 353.96 745.86 355.99 745.42C358.03 744.98 360.06 745.05 362.09 744.82C364.12 744.58 366.15 744.92 368.18 744C370.22 743.09 372.25 741.63 374.28 739.33C376.31 737.03 378.34 733.23 380.37 730.19C382.41 727.14 384.44 723.01 386.47 721.04C388.5 719.08 390.53 718.3 392.56 718.4C394.6 718.5 396.29 720.37 398.66 721.65C401.03 722.94 404.25 724.7 406.79 726.12C409.33 727.55 411.53 728.32 413.9 730.19C416.27 732.05 418.81 734.93 421.01 737.3C423.21 739.67 425.07 742.82 427.1 744.41C429.13 746 431.17 746.78 433.2 746.85C435.23 746.91 437.26 745.9 439.29 744.82C441.32 743.73 443.02 742.04 445.39 740.35C447.76 738.65 451.48 735.84 453.51 734.66C455.55 733.47 456.81 733.47 457.58 733.23C458.35 733 457.53 733.74 458.13 733.23C458.73 732.73 460.16 732.39 461.17 730.19C462.19 727.99 463.21 724.43 464.22 720.03C465.24 715.63 466.25 710.21 467.27 703.77C468.29 697.34 469.3 688.88 470.32 681.43C471.33 673.98 472.35 666.53 473.36 659.08C474.38 651.63 475.4 643.16 476.41 636.73C477.43 630.3 478.44 624.37 479.46 620.48C480.48 616.58 481.49 613.7 482.51 613.36C483.52 613.03 484.54 615.57 485.55 618.44C486.57 621.32 487.59 627.08 488.6 630.63C489.62 634.19 490.63 638.42 491.65 639.78C492.67 641.13 493.51 640.28 494.7 638.76C495.88 637.24 497.58 634.7 498.76 630.63C499.95 626.57 500.79 619.46 501.81 614.38C502.82 609.3 503.67 604.56 504.86 600.16C506.04 595.76 507.73 590.64 508.92 587.97C510.1 585.29 510.95 584.28 511.97 584.11C512.98 583.94 513.66 584.95 515.01 586.95C516.37 588.95 518.06 593.05 520.09 596.1C522.13 599.14 524.66 602.53 527.2 605.24C529.74 607.95 532.62 610.55 535.33 612.35C538.04 614.14 541.09 615.29 543.46 616.01C545.83 616.72 547.52 616.89 549.55 616.62C551.58 616.34 553.62 615.77 555.65 614.38C557.68 612.99 559.71 610.99 561.74 608.29C563.77 605.58 565.98 601.01 567.84 598.13C569.7 595.25 571.39 592.71 572.92 591.02C574.44 589.32 575.63 588.54 576.98 587.97C578.34 587.39 579.69 587.39 581.04 587.56C582.4 587.73 583.58 587.73 585.11 588.98C586.63 590.24 588.32 592.37 590.19 595.08C592.05 597.79 594.25 601.68 596.28 605.24C598.31 608.79 600.01 612.52 602.38 616.41C604.75 620.31 607.96 625.01 610.5 628.6C613.04 632.19 615.58 636.93 617.61 637.95C619.65 638.96 621.17 637.27 622.69 634.7C624.22 632.12 625.4 627.25 626.76 622.51C628.11 617.77 629.47 611.67 630.82 606.25C632.18 600.84 633.6 594.13 634.88 590C636.17 585.87 637.36 582.14 638.54 581.47C639.73 580.79 640.74 582.82 642 585.94C643.25 589.05 644.7 594.06 646.06 600.16C647.41 606.25 648.94 615.57 650.12 622.51C651.31 629.45 651.98 634.36 653.17 641.81C654.35 649.26 655.88 658.23 657.23 667.2C658.59 676.18 659.94 687.18 661.3 695.65C662.65 704.11 664.01 712.41 665.36 718C666.71 723.58 668.07 728.83 669.42 729.17C670.78 729.51 672.13 725.28 673.49 720.03C674.84 714.78 676.2 705.81 677.55 697.68C678.9 689.55 680.26 680.07 681.61 671.27C682.97 662.46 684.32 652.98 685.68 644.86C687.03 636.73 688.62 627.59 689.74 622.51C690.86 617.43 691.37 613.03 692.38 614.38C693.4 615.73 694.58 623.52 695.84 630.63C697.09 637.74 698.54 649.26 699.9 657.05C701.25 664.83 702.61 673.23 703.96 677.36C705.32 681.49 706.67 681.83 708.03 681.83C709.38 681.83 710.73 680.14 712.09 677.36C713.44 674.59 714.8 669.24 716.15 665.17C717.51 661.11 718.69 656.88 720.22 652.98C721.74 649.09 723.43 644.42 725.29 641.81C727.16 639.2 729.53 637.51 731.39 637.34C733.25 637.17 734.95 638.86 736.47 640.79C737.99 642.72 739.01 644.86 740.53 648.92C742.06 652.98 743.92 660.09 745.61 665.17C747.3 670.25 749 674.82 750.69 679.39C752.38 683.97 754.08 689.05 755.77 692.6C757.46 696.16 759.16 699.54 760.85 700.73C762.54 701.91 764.24 701.57 765.93 699.71C767.62 697.85 769.31 693.96 771.01 689.55C772.7 685.15 774.56 678.38 776.09 673.3C777.61 668.22 778.8 663.31 780.15 659.08C781.5 654.84 782.86 650.54 784.21 647.9C785.57 645.26 786.75 643.57 788.28 643.23C789.8 642.89 791.83 644.75 793.36 645.87C794.88 646.99 796.07 647.73 797.42 649.93C798.77 652.14 800.13 655.52 801.48 659.08C802.84 662.63 804.26 666.87 805.55 671.27C806.83 675.67 808.59 683.12 809.2 685.49" fill="none" stroke="#ff0000" stroke-width="1.6" stroke-linejoin="round" stroke-linecap="round"/>
<rect x="107.5" y="549.5" width="704" height="321" fill="none" stroke="#888" stroke-width="1.5"/>
<rect x="696.4" y="552.8" width="111.2" height="47.1" fill="#fff" stroke="#808080" stroke-width="1"/>
<line x1="701.3" y1="565.9" x2="728" y2="565.9" stroke="#0000ff" stroke-width="1.7"/>
<line x1="701.3" y1="587.7" x2="728" y2="587.7" stroke="#ff0000" stroke-width="1.7"/>
<text transform="translate(734.3 571.2) scale(1 1.05)" font-size="14">with PI</text>
<text transform="translate(731.4 594) scale(1 1.05)" font-size="14">with SMC</text>
<text transform="translate(101.5 877.6) scale(1 1.09)" font-size="22.1" text-anchor="end">0</text>
<text transform="translate(101.5 831.74) scale(1 1.09)" font-size="22.1" text-anchor="end">2</text>
<text transform="translate(101.5 785.89) scale(1 1.09)" font-size="22.1" text-anchor="end">4</text>
<text transform="translate(101.5 740.03) scale(1 1.09)" font-size="22.1" text-anchor="end">6</text>
<text transform="translate(101.5 694.17) scale(1 1.09)" font-size="22.1" text-anchor="end">8</text>
<text transform="translate(101.5 648.31) scale(1 1.09)" font-size="22.1" text-anchor="end">10</text>
<text transform="translate(101.5 602.46) scale(1 1.09)" font-size="22.1" text-anchor="end">12</text>
<text transform="translate(101.5 556.3) scale(1 1.09)" font-size="22.1" text-anchor="end">14</text>
<text transform="translate(103 901.3) scale(1 1.09)" font-size="22.1" text-anchor="middle">0</text>
<text transform="translate(172.3 901.3) scale(1 1.09)" font-size="22.1" text-anchor="middle">2</text>
<text transform="translate(242.7 901.3) scale(1 1.09)" font-size="22.1" text-anchor="middle">4</text>
<text transform="translate(313.1 901.3) scale(1 1.09)" font-size="22.1" text-anchor="middle">6</text>
<text transform="translate(384.5 901.3) scale(1 1.09)" font-size="22.1" text-anchor="middle">8</text>
<text transform="translate(454.9 901.3) scale(1 1.09)" font-size="22.1" text-anchor="middle">10</text>
<text transform="translate(526.7 901.3) scale(1 1.09)" font-size="22.1" text-anchor="middle">12</text>
<text transform="translate(597.1 901.3) scale(1 1.09)" font-size="22.1" text-anchor="middle">14</text>
<text transform="translate(667.5 901.3) scale(1 1.09)" font-size="22.1" text-anchor="middle">16</text>
<text transform="translate(737.9 901.3) scale(1 1.09)" font-size="22.1" text-anchor="middle">18</text>
<text transform="translate(807.3 901.3) scale(1 1.09)" font-size="22.1" text-anchor="middle">20</text>
<text transform="translate(417.2 918.6) scale(1 1.09)" font-size="22.1" textLength="94.8" lengthAdjust="spacingAndGlyphs">Time (sec)</text>
<text transform="translate(363.8 535.8) scale(1 1.09)" font-size="22.1" textLength="191" lengthAdjust="spacingAndGlyphs">Pitch Angle Behavior</text>
<text transform="translate(72,711.7) rotate(-90)" text-anchor="middle" font-size="22.1" textLength="157.7" lengthAdjust="spacingAndGlyphs">Pitch Angle (deg)</text>
<line x1="1035.5" y1="542.75" x2="1035.5" y2="871" stroke="#a8a8a8" stroke-width="0.8" stroke-dasharray="2.5,2.5"/>
<line x1="1113.5" y1="542.75" x2="1113.5" y2="871" stroke="#a8a8a8" stroke-width="0.8" stroke-dasharray="2.5,2.5"/>
<line x1="1190.5" y1="542.75" x2="1190.5" y2="871" stroke="#a8a8a8" stroke-width="0.8" stroke-dasharray="2.5,2.5"/>
<line x1="1268.5" y1="542.75" x2="1268.5" y2="871" stroke="#a8a8a8" stroke-width="0.8" stroke-dasharray="2.5,2.5"/>
<line x1="1345.5" y1="542.75" x2="1345.5" y2="871" stroke="#a8a8a8" stroke-width="0.8" stroke-dasharray="2.5,2.5"/>
<line x1="1423.5" y1="542.75" x2="1423.5" y2="871" stroke="#a8a8a8" stroke-width="0.8" stroke-dasharray="2.5,2.5"/>
<line x1="1500.5" y1="542.75" x2="1500.5" y2="871" stroke="#a8a8a8" stroke-width="0.8" stroke-dasharray="2.5,2.5"/>
<line x1="1578.5" y1="542.75" x2="1578.5" y2="871" stroke="#a8a8a8" stroke-width="0.8" stroke-dasharray="2.5,2.5"/>
<line x1="1655.5" y1="542.75" x2="1655.5" y2="871" stroke="#a8a8a8" stroke-width="0.8" stroke-dasharray="2.5,2.5"/>
<path d="M966 626.75 L966.8 626.47 L967.6 624.93 L968.4 620.58 L969.2 627.4 L970 622.46 L970.8 624.82 L971.6 621.2 L972.4 622.91 L973.2 623.59 L974 619.45 L974.8 619.78 L975.6 622.15 L976.4 620.94 L977.2 620.18 L978 620 L978.8 621.41 L979.6 621.58 L980.4 620.65 L981.2 618.1 L982 618.79 L982.8 617.07 L983.6 619.69 L984.4 617.44 L985.2 616.49 L986 619.62 L986.8 618.17 L987.6 619.31 L988.4 617.61 L989.2 619.78 L990 619.17 L990.8 613.96 L991.6 618.84 L992.4 617.09 L993.2 619.52 L994 621.2 L994.8 620.68 L995.6 618.04 L996.4 617.14 L997.2 621.45 L998 620.41 L998.8 620.09 L999.6 618.79 L1000.4 618.99 L1001.2 617.95 L1002 616.46 L1002.8 620.73 L1003.6 619.25 L1004.4 619.27 L1005.2 618.28 L1006 617.25 L1006.8 619.54 L1007.6 621.14 L1008.4 616.83 L1009.2 618.01 L1010 620.26 L1010.8 617.16 L1011.6 619.9 L1012.4 621.13 L1013.2 614.36 L1014 619.76 L1014.8 616.46 L1015.6 620.73 L1016.4 620.06 L1017.2 619.21 L1018 619.49 L1018.8 621.36 L1019.6 621.45 L1020.4 617.8 L1021.2 621.05 L1022 619.58 L1022.8 617.8 L1023.6 620.36 L1024.4 613.97 L1025.2 617.58 L1026 618.33 L1026.8 619.77 L1027.6 618.24 L1028.4 617.97 L1029.2 618.95 L1030 621.05 L1030.8 617.92 L1031.6 618.74 L1032.4 620.7 L1033.2 617.09 L1034 620.48 L1034.8 616.8 L1035.6 616.65 L1036.4 618.39 L1037.2 620.82 L1038 620.58 L1038.8 617.74 L1039.6 620.75 L1040.4 618.93 L1041.2 616.02 L1042 618.99 L1042.8 618.32 L1043.6 620.4 L1044.4 620.34 L1045.2 618.64 L1046 616.47 L1046.8 618.68 L1047.6 620.58 L1048.4 621.51 L1049.2 619.35 L1050 618.12 L1050.8 620.49 L1051.6 620.78 L1052.4 618.46 L1053.2 618.21 L1054 619.2 L1054.8 620.08 L1055.6 617.69 L1056.4 617.2 L1057.2 618.77 L1058 619.99 L1058.8 620.2 L1059.6 619.37 L1060.4 619.76 L1061.2 621.8 L1062 620.6 L1062.8 621.63 L1063.6 621.94 L1064.4 618.56 L1065.2 622.27 L1066 619.73 L1066.8 622.86 L1067.6 621.09 L1068.4 618.32 L1069.2 613.46 L1070 620.41 L1070.8 619.81 L1071.6 622.9 L1072.4 622.63 L1073.2 621.11 L1074 621.24 L1074.8 620.56 L1075.6 621.92 L1076.4 621.29 L1077.2 618.94 L1078 620.11 L1078.8 621.59 L1079.6 619.91 L1080.4 619.09 L1081.2 620 L1082 618.29 L1082.8 622.72 L1083.6 622.19 L1084.4 619.39 L1085.2 618.37 L1086 618.42 L1086.8 622.01 L1087.6 621.32 L1088.4 622.98 L1089.2 619.76 L1090 622.93 L1090.8 618.3 L1091.6 619.78 L1092.4 618.51 L1093.2 622.02 L1094 622.6 L1094.8 622.55 L1095.6 618.94 L1096.4 622.94 L1097.2 622.29 L1098 619.45 L1098.8 621.8 L1099.6 622.97 L1100.4 619.71 L1101.2 618.16 L1102 620.8 L1102.8 622.75 L1103.6 622.64 L1104.4 618.23 L1105.2 620.15 L1106 622.4 L1106.8 623.03 L1107.6 621.73 L1108.4 622.8 L1109.2 622.14 L1110 619.92 L1110.8 621.77 L1111.6 619.45 L1112.4 619.91 L1113.2 623.02 L1114 621.29 L1114.8 618.95 L1115.6 618.44 L1116.4 620.92 L1117.2 622.42 L1118 620.12 L1118.8 623.69 L1119.6 620.23 L1120.4 619.27 L1121.2 623.59 L1122 618.32 L1122.8 623.01 L1123.6 619.94 L1124.4 615.79 L1125.2 619.57 L1126 619.83 L1126.8 623.28 L1127.6 622.18 L1128.4 623.3 L1129.2 623.84 L1130 620.26 L1130.8 622.43 L1131.6 623.3 L1132.4 624.16 L1133.2 620.69 L1134 617.46 L1134.8 622.36 L1135.6 620.77 L1136.4 623.18 L1137.2 623.13 L1138 622.74 L1138.8 621.64 L1139.6 621.02 L1140.4 623.92 L1141.2 620.39 L1142 620.25 L1142.8 621.45 L1143.6 620.35 L1144.4 624.37 L1145.2 618.77 L1146 622.65 L1146.8 624.29 L1147.6 621.32 L1148.4 623.98 L1149.2 625.73 L1150 622.95 L1150.8 622.15 L1151.6 618.95 L1152.4 625.31 L1153.2 621.51 L1154 620.84 L1154.8 621.86 L1155.6 624.79 L1156.4 624.86 L1157.2 623.63 L1158 625.33 L1158.8 621.33 L1159.6 622.74 L1160.4 625.2 L1161.2 621.67 L1162 621.21 L1162.8 621.96 L1163.6 623.42 L1164.4 622.97 L1165.2 624.71 L1166 623.34 L1166.8 624 L1167.6 624.11 L1168.4 621.31 L1169.2 624.19 L1170 626.38 L1170.8 626.13 L1171.6 625.57 L1172.4 623.93 L1173.2 622.18 L1174 620.16 L1174.8 621.96 L1175.6 619.45 L1176.4 623.79 L1177.2 622.33 L1178 626.6 L1178.8 625.71 L1179.6 622.91 L1180.4 624.51 L1181.2 621.88 L1182 622.99 L1182.8 622.13 L1183.6 624.84 L1184.4 623.34 L1185.2 624.8 L1186 623.73 L1186.8 624.41 L1187.6 623.34 L1188.4 622.47 L1189.2 626.3 L1190 622.72 L1190.8 622.28 L1191.6 622.2 L1192.4 624.99 L1193.2 625.8 L1194 623.68 L1194.8 623.9 L1195.6 624.62 L1196.4 620.6 L1197.2 625.25 L1198 624.69 L1198.8 623.54 L1199.6 623.77 L1200.4 622.85 L1201.2 624.75 L1202 622.05 L1202.8 623.59 L1203.6 623.11 L1204.4 624.41 L1205.2 626.11 L1206 625.39 L1206.8 622.42 L1207.6 626.03 L1208.4 625.01 L1209.2 623.04 L1210 623.54 L1210.8 627.29 L1211.6 623.06 L1212.4 626.28 L1213.2 623.42 L1214 621.21 L1214.8 622.32 L1215.6 624.68 L1216.4 622.81 L1217.2 623.87 L1218 622.53 L1218.8 627.46 L1219.6 626.33 L1220.4 627.49 L1221.2 626.04 L1222 625.37 L1222.8 624.37 L1223.6 627.2 L1224.4 627.23 L1225.2 625.59 L1226 625.41 L1226.8 625.24 L1227.6 617.6 L1228.4 627.21 L1229.2 620.48 L1230 626.02 L1230.8 618.71 L1231.6 624.32 L1232.4 622.95 L1233.2 622.72 L1234 625.63 L1234.8 622.66 L1235.6 626.93 L1236.4 618.57 L1237.2 626.02 L1238 621.87 L1238.8 626.2 L1239.6 622.73 L1240.4 622.87 L1241.2 622.31 L1242 626.41 L1242.8 626.78 L1243.6 625.42 L1244.4 623.09 L1245.2 621.05 L1246 621.53 L1246.8 619.24 L1247.6 624.45 L1248.4 623.6 L1249.2 623.79 L1250 624.77 L1250.8 622.17 L1251.6 623.7 L1252.4 621.26 L1253.2 622.46 L1254 620.76 L1254.8 625.47 L1255.6 620.83 L1256.4 620.13 L1257.2 624.85 L1258 624.85 L1258.8 624.83 L1259.6 622.36 L1260.4 623.19 L1261.2 625.32 L1262 621.6 L1262.8 621.18 L1263.6 621.1 L1264.4 623.14 L1265.2 623.36 L1266 620.72 L1266.8 622.33 L1267.6 624.82 L1268.4 621.57 L1269.2 618.55 L1270 620.92 L1270.8 623.01 L1271.6 620.69 L1272.4 619.96 L1273.2 621.14 L1274 624.46 L1274.8 622.27 L1275.6 621.31 L1276.4 623.95 L1277.2 622.58 L1278 620.42 L1278.8 620.43 L1279.6 624.99 L1280.4 621.03 L1281.2 624.75 L1282 620.77 L1282.8 621.29 L1283.6 622.33 L1284.4 620.64 L1285.2 620.83 L1286 623.65 L1286.8 623.61 L1287.6 621.41 L1288.4 622.3 L1289.2 621.41 L1290 624.18 L1290.8 623.54 L1291.6 623.57 L1292.4 622.32 L1293.2 622.28 L1294 624.91 L1294.8 621.86 L1295.6 620.29 L1296.4 622.26 L1297.2 623.08 L1298 622.64 L1298.8 620.64 L1299.6 622.58 L1300.4 620.98 L1301.2 621.99 L1302 624.05 L1302.8 623.49 L1303.6 624.79 L1304.4 624.63 L1305.2 622.78 L1306 622.38 L1306.8 621.35 L1307.6 620.36 L1308.4 623.98 L1309.2 621.62 L1310 622.96 L1310.8 624 L1311.6 623.51 L1312.4 623 L1313.2 622.09 L1314 624.61 L1314.8 619.75 L1315.6 622.75 L1316.4 620.53 L1317.2 620.62 L1318 621.49 L1318.8 619.49 L1319.6 622.82 L1320.4 619.25 L1321.2 619.33 L1322 618.52 L1322.8 621.96 L1323.6 624.01 L1324.4 623.9 L1325.2 619.36 L1326 619.36 L1326.8 619.82 L1327.6 623.89 L1328.4 621.85 L1329.2 620.01 L1330 620.81 L1330.8 621.15 L1331.6 618.99 L1332.4 622.8 L1333.2 614.55 L1334 623.25 L1334.8 620.89 L1335.6 620 L1336.4 618.56 L1337.2 621.72 L1338 622.67 L1338.8 619.78 L1339.6 621.26 L1340.4 615.08 L1341.2 621 L1342 618.59 L1342.8 621.73 L1343.6 621.43 L1344.4 618.29 L1345.2 619.82 L1346 621.49 L1346.8 620.86 L1347.6 622.25 L1348.4 619.82 L1349.2 619.43 L1350 620.72 L1350.8 620.15 L1351.6 620.55 L1352.4 616.95 L1353.2 618.12 L1354 618.7 L1354.8 620.9 L1355.6 619.7 L1356.4 616.98 L1357.2 618.11 L1358 617.06 L1358.8 619.55 L1359.6 620.66 L1360.4 617.94 L1361.2 617.83 L1362 618.98 L1362.8 611.68 L1363.6 618.48 L1364.4 617.27 L1365.2 616.19 L1366 619 L1366.8 618.19 L1367.6 615.09 L1368.4 615.35 L1369.2 615.69 L1370 619 L1370.8 617.48 L1371.6 616.51 L1372.4 617.24 L1373.2 614.76 L1374 618.89 L1374.8 613.95 L1375.6 616.45 L1376.4 615.94 L1377.2 614.06 L1378 615.68 L1378.8 615.07 L1379.6 614.3 L1380.4 614.03 L1381.2 614.8 L1382 616.22 L1382.8 617.18 L1383.6 616.86 L1384.4 614.06 L1385.2 615.86 L1386 615.09 L1386.8 616.85 L1387.6 616.4 L1388.4 614.26 L1389.2 617.41 L1390 613.38 L1390.8 613.82 L1391.6 614.75 L1392.4 612.96 L1393.2 615.51 L1394 613.5 L1394.8 617.34 L1395.6 613.72 L1396.4 614.38 L1397.2 613.28 L1398 617.39 L1398.8 616.43 L1399.6 612.21 L1400.4 615.24 L1401.2 614.17 L1402 608.59 L1402.8 615.37 L1403.6 615.23 L1404.4 613.21 L1405.2 612.61 L1406 613.64 L1406.8 613.95 L1407.6 615.3 L1408.4 618.08 L1409.2 617.19 L1410 614.42 L1410.8 616.19 L1411.6 615.45 L1412.4 618.18 L1413.2 614.68 L1414 617.81 L1414.8 612.28 L1415.6 618.57 L1416.4 614.58 L1417.2 615.49 L1418 614.41 L1418.8 617.38 L1419.6 617.66 L1420.4 614.77 L1421.2 617.64 L1422 614.78 L1422.8 614.96 L1423.6 617.61 L1424.4 615.69 L1425.2 615.9 L1426 620.32 L1426.8 613.44 L1427.6 616.53 L1428.4 618.84 L1429.2 616.7 L1430 619.07 L1430.8 618.17 L1431.6 619.74 L1432.4 615.64 L1433.2 618.68 L1434 618.33 L1434.8 617.56 L1435.6 617.14 L1436.4 617.01 L1437.2 619.44 L1438 615.25 L1438.8 617.11 L1439.6 621.66 L1440.4 618.32 L1441.2 619.67 L1442 618.87 L1442.8 620.08 L1443.6 619.44 L1444.4 617.1 L1445.2 619.21 L1446 621.57 L1446.8 617.44 L1447.6 618.68 L1448.4 618.27 L1449.2 620.88 L1450 619.69 L1450.8 616.25 L1451.6 620.44 L1452.4 618.49 L1453.2 616.75 L1454 618.02 L1454.8 616.59 L1455.6 620.08 L1456.4 618.65 L1457.2 620.5 L1458 619.87 L1458.8 620.66 L1459.6 618.2 L1460.4 620.04 L1461.2 618.47 L1462 621.7 L1462.8 621.75 L1463.6 618.98 L1464.4 619.75 L1465.2 618.62 L1466 620.48 L1466.8 618.66 L1467.6 615.61 L1468.4 618.06 L1469.2 620.41 L1470 620.49 L1470.8 620.34 L1471.6 618.48 L1472.4 617.89 L1473.2 618.53 L1474 619.99 L1474.8 621.79 L1475.6 620.29 L1476.4 617.71 L1477.2 617.8 L1478 618.48 L1478.8 617.37 L1479.6 622.74 L1480.4 620.06 L1481.2 618.46 L1482 618.68 L1482.8 620.57 L1483.6 619.58 L1484.4 620.88 L1485.2 621.65 L1486 621.08 L1486.8 618.48 L1487.6 621.19 L1488.4 620.9 L1489.2 618.5 L1490 620.83 L1490.8 622.06 L1491.6 618.38 L1492.4 622.93 L1493.2 619.03 L1494 622.17 L1494.8 623.21 L1495.6 621.97 L1496.4 618.69 L1497.2 623.79 L1498 622.18 L1498.8 622.67 L1499.6 623.2 L1500.4 619.42 L1501.2 621.56 L1502 623.91 L1502.8 624.33 L1503.6 623.94 L1504.4 621.22 L1505.2 621.17 L1506 624.4 L1506.8 624.57 L1507.6 622.56 L1508.4 623.02 L1509.2 620.82 L1510 624.33 L1510.8 618.6 L1511.6 621.25 L1512.4 619.87 L1513.2 621 L1514 626.33 L1514.8 625.22 L1515.6 624.18 L1516.4 626.51 L1517.2 622.99 L1518 622.28 L1518.8 622.6 L1519.6 623.35 L1520.4 618.6 L1521.2 623.87 L1522 626.64 L1522.8 621.85 L1523.6 621.95 L1524.4 626.39 L1525.2 624.34 L1526 623.23 L1526.8 621.58 L1527.6 621.56 L1528.4 622.37 L1529.2 624.25 L1530 621.91 L1530.8 621.55 L1531.6 618.4 L1532.4 620.58 L1533.2 624.52 L1534 623.3 L1534.8 619.24 L1535.6 623.18 L1536.4 622.91 L1537.2 621.73 L1538 621.91 L1538.8 621.56 L1539.6 622.92 L1540.4 623.04 L1541.2 624.17 L1542 624.41 L1542.8 619.35 L1543.6 620.68 L1544.4 622.06 L1545.2 624.39 L1546 619.04 L1546.8 621.12 L1547.6 625.71 L1548.4 621.27 L1549.2 624.24 L1550 624.01 L1550.8 625.53 L1551.6 621.68 L1552.4 625.19 L1553.2 625.88 L1554 626.82 L1554.8 627.22 L1555.6 626.95 L1556.4 627.89 L1557.2 624.76 L1558 625.61 L1558.8 624.77 L1559.6 624.92 L1560.4 619.7 L1561.2 628.39 L1562 627.21 L1562.8 630.08 L1563.6 620.85 L1564.4 630.1 L1565.2 628.62 L1566 626.72 L1566.8 630.32 L1567.6 629.31 L1568.4 629.49 L1569.2 626.49 L1570 628.6 L1570.8 628.65 L1571.6 629.1 L1572.4 629.21 L1573.2 629.41 L1574 630.82 L1574.8 627.81 L1575.6 627.87 L1576.4 624.89 L1577.2 629.42 L1578 628.74 L1578.8 629.7 L1579.6 626.21 L1580.4 624.46 L1581.2 629.66 L1582 627.22 L1582.8 626.65 L1583.6 625.52 L1584.4 629.94 L1585.2 626.96 L1586 629.69 L1586.8 628.59 L1587.6 628.8 L1588.4 624.8 L1589.2 624.11 L1590 629.32 L1590.8 627.8 L1591.6 628.36 L1592.4 624.94 L1593.2 628.59 L1594 624.9 L1594.8 623.83 L1595.6 625.93 L1596.4 627.02 L1597.2 622.7 L1598 624.81 L1598.8 624.27 L1599.6 625.24 L1600.4 623.98 L1601.2 625.03 L1602 622.98 L1602.8 622.28 L1603.6 621.33 L1604.4 620.56 L1605.2 623.99 L1606 621 L1606.8 624.24 L1607.6 620.6 L1608.4 623.34 L1609.2 623.22 L1610 620.8 L1610.8 618.27 L1611.6 619.46 L1612.4 620.39 L1613.2 623.85 L1614 622.1 L1614.8 619.17 L1615.6 619.94 L1616.4 618.48 L1617.2 618.25 L1618 619.1 L1618.8 618.65 L1619.6 622.66 L1620.4 618.42 L1621.2 619.65 L1622 618.3 L1622.8 622.97 L1623.6 620.72 L1624.4 617.84 L1625.2 619.13 L1626 618.13 L1626.8 620.93 L1627.6 622.4 L1628.4 619.43 L1629.2 616.66 L1630 620.23 L1630.8 618.17 L1631.6 620.93 L1632.4 621.15 L1633.2 622.91 L1634 620.37 L1634.8 620.62 L1635.6 618.87 L1636.4 618.45 L1637.2 620.33 L1638 620.46 L1638.8 619.35 L1639.6 623.04 L1640.4 614.8 L1641.2 614.99 L1642 623.09 L1642.8 619.46 L1643.6 621.02 L1644.4 621.54 L1645.2 619.74 L1646 618.71 L1646.8 623.09 L1647.6 621.35 L1648.4 622.94 L1649.2 622.89 L1650 623.16 L1650.8 622.7 L1651.6 621.83 L1652.4 623.72 L1653.2 622.8 L1654 620.56 L1654.8 620.31 L1655.6 621.39 L1656.4 623.02 L1657.2 624.4 L1658 620.73 L1658.8 622.83 L1659.6 624.55 L1660.4 622.72 L1661.2 620.13 L1662 623.2 L1662.8 620.19 L1663.6 623.78 L1664.4 624.73 L1665.2 621.3 L1666 624.18 L1666.8 622.34 L1667.6 624.73 L1668.4 621.53 L1669.2 626.04 L1670 622.97 L1670.8 621.74 L1671.6 626.42 L1672.4 625.61 L1673.2 626.24 L1674 625.67 L1674.8 623.45 L1675.6 625.24 L1676.4 624.65 L1677.2 623.57 L1678 622.63 L1678.8 621.98 L1679.6 623.44 L1680.4 623.13 L1681.2 625.25 L1682 625.17 L1682.8 622.81 L1683.6 619.71 L1684.4 624.08 L1685.2 625.29 L1686 620.68 L1686.8 620.22 L1687.6 623.94 L1688.4 621.61 L1689.2 618.57 L1690 620.84 L1690.8 620.43 L1691.6 620.15 L1692.4 621.35 L1693.2 624.28 L1694 622.45 L1694.8 620.36 L1695.6 620.88 L1696.4 619.34 L1697.2 621.01 L1698 623.87 L1698.8 621.99 L1699.6 620.22 L1700.4 621.19 L1701.2 623.34 L1702 623.1 L1702.8 623.46 L1703.6 622.09 L1704.4 621.29 L1705.2 620.1 L1706 621.19 L1706.8 622.76 L1707.6 621.82 L1708.4 621.89 L1709.2 619.87 L1710 622.37 L1710.8 619.51 L1711.6 620.5 L1712.4 618.85 L1713.2 623.52 L1714 619.19 L1714.8 620.71 L1715.6 622.24 L1716.4 620.1 L1717.2 621.2 L1718 620.8 L1718.8 619.93 L1719.6 622.56 L1720.4 621.34 L1721.2 620.96 L1722 620.95 L1722.8 619.83 L1723.6 620.76 L1724.4 620.79 L1725.2 621.16 L1726 622.66 L1726.8 620.58 L1727.6 623.99 L1728.4 623.95 L1729.2 623.55 L1730 621.88 L1730.8 621.39 L1731.6 621.24 L1731.6 791.17 L1730.8 791.32 L1730 790.51 L1729.2 790.23 L1728.4 792 L1727.6 792.95 L1726.8 791.36 L1726 790.05 L1725.2 789.99 L1724.4 791.22 L1723.6 792.38 L1722.8 793.57 L1722 792.85 L1721.2 794.68 L1720.4 792.93 L1719.6 795.07 L1718.8 792.27 L1718 793.43 L1717.2 794.72 L1716.4 794.79 L1715.6 790.24 L1714.8 792.42 L1714 790.55 L1713.2 794.18 L1712.4 792.19 L1711.6 794.24 L1710.8 794.16 L1710 795.23 L1709.2 793.16 L1708.4 790.24 L1707.6 790.1 L1706.8 790.66 L1706 795.15 L1705.2 793.29 L1704.4 795.17 L1703.6 793.57 L1702.8 794.43 L1702 790.34 L1701.2 791.66 L1700.4 792.66 L1699.6 795.7 L1698.8 790 L1698 792.08 L1697.2 790.56 L1696.4 795.53 L1695.6 791.94 L1694.8 794.44 L1694 792.4 L1693.2 791.31 L1692.4 793.48 L1691.6 793.19 L1690.8 791.26 L1690 792.06 L1689.2 792.69 L1688.4 789.07 L1687.6 790.01 L1686.8 789.3 L1686 791.11 L1685.2 789.43 L1684.4 790.2 L1683.6 792.39 L1682.8 792.52 L1682 789.62 L1681.2 791.6 L1680.4 789.22 L1679.6 788.69 L1678.8 790.47 L1678 791.55 L1677.2 788.08 L1676.4 792.47 L1675.6 790.28 L1674.8 790.99 L1674 791.65 L1673.2 789.82 L1672.4 787.39 L1671.6 787.82 L1670.8 788.93 L1670 792.46 L1669.2 796.03 L1668.4 790.21 L1667.6 789.94 L1666.8 793.3 L1666 788.29 L1665.2 789.71 L1664.4 790.62 L1663.6 789.23 L1662.8 797.08 L1662 791.18 L1661.2 789.18 L1660.4 792.79 L1659.6 794.2 L1658.8 794.55 L1658 790.16 L1657.2 792.66 L1656.4 791.99 L1655.6 791.8 L1654.8 792.42 L1654 791.76 L1653.2 790.27 L1652.4 792.57 L1651.6 794.77 L1650.8 791.62 L1650 791.37 L1649.2 790.66 L1648.4 794.88 L1647.6 794.66 L1646.8 791.39 L1646 792.32 L1645.2 791.47 L1644.4 794.62 L1643.6 793.01 L1642.8 791.58 L1642 795.57 L1641.2 790.69 L1640.4 793.81 L1639.6 795.7 L1638.8 794.22 L1638 794.34 L1637.2 794.6 L1636.4 792.18 L1635.6 795.27 L1634.8 792.63 L1634 794.08 L1633.2 794.82 L1632.4 792.97 L1631.6 794.29 L1630.8 793.26 L1630 794.52 L1629.2 796.12 L1628.4 796.06 L1627.6 794.34 L1626.8 793.97 L1626 792.61 L1625.2 791.42 L1624.4 792.75 L1623.6 794.34 L1622.8 792.35 L1622 795.94 L1621.2 790.85 L1620.4 791.54 L1619.6 795.73 L1618.8 797.25 L1618 794.38 L1617.2 791.16 L1616.4 794.08 L1615.6 792.03 L1614.8 793.67 L1614 790.67 L1613.2 795.08 L1612.4 790.46 L1611.6 790.08 L1610.8 792.74 L1610 793.17 L1609.2 799.38 L1608.4 791.33 L1607.6 791.14 L1606.8 791.87 L1606 791.01 L1605.2 791.07 L1604.4 788.89 L1603.6 794.37 L1602.8 793.08 L1602 792.47 L1601.2 791.77 L1600.4 787.8 L1599.6 788.47 L1598.8 788.83 L1598 790.65 L1597.2 789.47 L1596.4 790.47 L1595.6 790.74 L1594.8 786.18 L1594 790.78 L1593.2 789.01 L1592.4 790.79 L1591.6 787.07 L1590.8 788.53 L1590 789.23 L1589.2 785.13 L1588.4 789.17 L1587.6 789.1 L1586.8 787.87 L1586 786.63 L1585.2 787.14 L1584.4 783.9 L1583.6 787.17 L1582.8 786.86 L1582 785.79 L1581.2 782.75 L1580.4 786.5 L1579.6 783.94 L1578.8 786.77 L1578 785.54 L1577.2 784.29 L1576.4 784.96 L1575.6 783.99 L1574.8 786.99 L1574 782.23 L1573.2 782.35 L1572.4 787.5 L1571.6 786.35 L1570.8 783.14 L1570 784.74 L1569.2 787.78 L1568.4 784.33 L1567.6 787.69 L1566.8 787.95 L1566 785.59 L1565.2 787.74 L1564.4 784.7 L1563.6 783.82 L1562.8 787.58 L1562 786.08 L1561.2 785.4 L1560.4 789.83 L1559.6 789.1 L1558.8 788.99 L1558 788.69 L1557.2 789.38 L1556.4 789.04 L1555.6 786.28 L1554.8 790.69 L1554 788.19 L1553.2 787.92 L1552.4 791.83 L1551.6 789.41 L1550.8 791.04 L1550 787.5 L1549.2 791.28 L1548.4 789.87 L1547.6 792.21 L1546.8 788.75 L1546 796.46 L1545.2 789.81 L1544.4 790.31 L1543.6 793.78 L1542.8 789.68 L1542 790.63 L1541.2 794.09 L1540.4 792.59 L1539.6 794.91 L1538.8 791.17 L1538 792.86 L1537.2 793.16 L1536.4 793.87 L1535.6 796.14 L1534.8 793.39 L1534 794.42 L1533.2 791.92 L1532.4 794 L1531.6 792.41 L1530.8 789.22 L1530 790.6 L1529.2 789.97 L1528.4 793.37 L1527.6 790.84 L1526.8 789.36 L1526 790.21 L1525.2 792.73 L1524.4 788.59 L1523.6 792.52 L1522.8 789.91 L1522 788.71 L1521.2 791.45 L1520.4 790.65 L1519.6 787.33 L1518.8 787.81 L1518 790.04 L1517.2 793.72 L1516.4 791.68 L1515.6 790.8 L1514.8 792.27 L1514 789.41 L1513.2 792.65 L1512.4 789.28 L1511.6 788.88 L1510.8 789.43 L1510 791.2 L1509.2 792.36 L1508.4 790.44 L1507.6 792.68 L1506.8 792.24 L1506 791.05 L1505.2 791.91 L1504.4 794.5 L1503.6 791.11 L1502.8 792.51 L1502 791.33 L1501.2 792.5 L1500.4 791.11 L1499.6 789.95 L1498.8 793.23 L1498 791.96 L1497.2 794.61 L1496.4 795.21 L1495.6 792.42 L1494.8 794.69 L1494 790.82 L1493.2 795.45 L1492.4 794.31 L1491.6 798.49 L1490.8 797.92 L1490 791.03 L1489.2 791.58 L1488.4 793.76 L1487.6 793.51 L1486.8 795.07 L1486 794.01 L1485.2 796.14 L1484.4 794.34 L1483.6 794.09 L1482.8 794.59 L1482 792.95 L1481.2 793.45 L1480.4 793.46 L1479.6 793.52 L1478.8 795.51 L1478 792.36 L1477.2 796.46 L1476.4 793.39 L1475.6 796.18 L1474.8 793.85 L1474 794.2 L1473.2 792.67 L1472.4 792.87 L1471.6 796.45 L1470.8 796 L1470 794.32 L1469.2 792.08 L1468.4 793.51 L1467.6 796.7 L1466.8 796.43 L1466 793.1 L1465.2 797.04 L1464.4 795.84 L1463.6 794.06 L1462.8 795.05 L1462 797.31 L1461.2 797.04 L1460.4 796.64 L1459.6 793.61 L1458.8 797.88 L1458 796.78 L1457.2 796.14 L1456.4 795.77 L1455.6 793.55 L1454.8 793 L1454 793.47 L1453.2 797.03 L1452.4 792.29 L1451.6 796.76 L1450.8 793.04 L1450 792.1 L1449.2 797.07 L1448.4 795.36 L1447.6 796.2 L1446.8 792.15 L1446 796.25 L1445.2 796.94 L1444.4 797.05 L1443.6 795.52 L1442.8 800.47 L1442 796.45 L1441.2 793.67 L1440.4 795.63 L1439.6 792.36 L1438.8 794.02 L1438 794.65 L1437.2 794.7 L1436.4 794.89 L1435.6 794.25 L1434.8 795.86 L1434 797.46 L1433.2 794.05 L1432.4 794.84 L1431.6 797.34 L1430.8 797.03 L1430 797.22 L1429.2 794.94 L1428.4 794.31 L1427.6 794.32 L1426.8 796.09 L1426 793.79 L1425.2 795.49 L1424.4 798.55 L1423.6 795.56 L1422.8 799.81 L1422 796.95 L1421.2 798.13 L1420.4 796.03 L1419.6 798.82 L1418.8 796.95 L1418 797.68 L1417.2 796.58 L1416.4 797.1 L1415.6 795.86 L1414.8 795.03 L1414 802.72 L1413.2 796.64 L1412.4 795.49 L1411.6 799.19 L1410.8 795.59 L1410 796.05 L1409.2 800.92 L1408.4 797.36 L1407.6 799 L1406.8 801.11 L1406 799.41 L1405.2 798.89 L1404.4 799.39 L1403.6 797.18 L1402.8 801.25 L1402 799.63 L1401.2 805.87 L1400.4 799.1 L1399.6 804.36 L1398.8 800.09 L1398 801.48 L1397.2 797.98 L1396.4 799.01 L1395.6 801.78 L1394.8 801.77 L1394 796.71 L1393.2 799.41 L1392.4 801.35 L1391.6 798.32 L1390.8 799.11 L1390 803.41 L1389.2 802.74 L1388.4 800.3 L1387.6 800.9 L1386.8 798.61 L1386 798.71 L1385.2 800.24 L1384.4 800.72 L1383.6 800.85 L1382.8 799.78 L1382 796.99 L1381.2 797.95 L1380.4 798.77 L1379.6 803.53 L1378.8 800.19 L1378 799.02 L1377.2 796.67 L1376.4 798.91 L1375.6 796.89 L1374.8 798.26 L1374 798.64 L1373.2 800.26 L1372.4 799.8 L1371.6 797.46 L1370.8 796.68 L1370 799.74 L1369.2 798.01 L1368.75 707 L966 707Z" fill="#0000ff"/>
<path d="M966 622.51 L966.8 626.64 L967.6 622.87 L968.4 624.41 L969.2 619.49 L970 626.24 L970.8 622.28 L971.6 622.26 L972.4 620.44 L973.2 619.3 L974 622.67 L974.8 619.85 L975.6 619.33 L976.4 617.84 L977.2 619.83 L978 617.83 L978.8 613.14 L979.6 617.57 L980.4 618.99 L981.2 617.88 L982 614.32 L982.8 615.88 L983.6 614.4 L984.4 616.32 L985.2 610.55 L986 617.01 L986.8 617.58 L987.6 616.33 L988.4 617.07 L989.2 613.57 L990 611.87 L990.8 613.33 L991.6 616.04 L992.4 616.37 L993.2 611.52 L994 617.08 L994.8 615.8 L995.6 612.38 L996.4 613.53 L997.2 613.96 L998 615.86 L998.8 614.1 L999.6 615.77 L1000.4 614.69 L1001.2 616.46 L1002 611.51 L1002.8 613.47 L1003.6 612.98 L1004.4 615.67 L1005.2 614.4 L1006 611.4 L1006.8 612.29 L1007.6 610.71 L1008.4 615.99 L1009.2 613.99 L1010 614.89 L1010.8 609.83 L1011.6 615.83 L1012.4 616.25 L1013.2 612.23 L1014 614.48 L1014.8 609.76 L1015.6 614.59 L1016.4 614.1 L1017.2 613.13 L1018 613.41 L1018.8 611.56 L1019.6 615.63 L1020.4 612.17 L1021.2 615.38 L1022 613.38 L1022.8 612.35 L1023.6 615.41 L1024.4 616.4 L1025.2 615.99 L1026 615.99 L1026.8 616.66 L1027.6 611.69 L1028.4 614.2 L1029.2 615.4 L1030 613.7 L1030.8 616.54 L1031.6 613.93 L1032.4 614.55 L1033.2 613 L1034 612.05 L1034.8 613.23 L1035.6 612.02 L1036.4 612.39 L1037.2 612.75 L1038 616.8 L1038.8 614.62 L1039.6 613.04 L1040.4 613.57 L1041.2 615.98 L1042 615.71 L1042.8 612.93 L1043.6 617.18 L1044.4 611.21 L1045.2 615.55 L1046 616.2 L1046.8 613.48 L1047.6 616.07 L1048.4 613.95 L1049.2 615.71 L1050 617.07 L1050.8 614.38 L1051.6 610.44 L1052.4 615.61 L1053.2 615.57 L1054 618.15 L1054.8 615.88 L1055.6 615.1 L1056.4 618.78 L1057.2 618.6 L1058 616.79 L1058.8 614.27 L1059.6 615.69 L1060.4 620.18 L1061.2 616.4 L1062 620.16 L1062.8 620.73 L1063.6 620.28 L1064.4 622.68 L1065.2 623.86 L1066 622.96 L1066.8 622.55 L1067.6 626.06 L1068.4 624.82 L1069.2 623.84 L1070 621.93 L1070.8 624.96 L1071.6 628.67 L1072.4 629.47 L1073.2 627.28 L1074 629.68 L1074.8 625.49 L1075.6 625.5 L1076.4 627.36 L1077.2 627.02 L1078 625.79 L1078.8 628.13 L1079.6 628.8 L1080.4 626.61 L1081.2 627.75 L1082 629.34 L1082.8 627.38 L1083.6 623.1 L1084.4 628.26 L1085.2 627.28 L1086 627.08 L1086.8 628.5 L1087.6 624.3 L1088.4 625.4 L1089.2 623.83 L1090 625.48 L1090.8 623.6 L1091.6 628.14 L1092.4 627.69 L1093.2 624.68 L1094 625.56 L1094.8 627.4 L1095.6 626.03 L1096.4 627.84 L1097.2 623.9 L1098 625.52 L1098.8 623.02 L1099.6 624.57 L1100.4 622.29 L1101.2 620.85 L1102 622.64 L1102.8 624.02 L1103.6 623.7 L1104.4 623.53 L1105.2 622.68 L1106 620.62 L1106.8 623.67 L1107.6 620.83 L1108.4 620.53 L1109.2 620.06 L1110 620.21 L1110.8 622.72 L1111.6 624.35 L1112.4 621.34 L1113.2 619.85 L1114 624.23 L1114.8 620.65 L1115.6 620.88 L1116.4 622.61 L1117.2 620.41 L1118 620.74 L1118.8 624.39 L1119.6 624.22 L1120.4 624.9 L1121.2 620.86 L1122 623.4 L1122.8 624.45 L1123.6 625.83 L1124.4 625.03 L1125.2 625.08 L1126 622.54 L1126.8 623.97 L1127.6 622.33 L1128.4 623.12 L1129.2 622.81 L1130 623.63 L1130.8 623.89 L1131.6 626.64 L1132.4 623.56 L1133.2 626.37 L1134 623.34 L1134.8 626.49 L1135.6 621.78 L1136.4 620.82 L1137.2 626.23 L1138 627.6 L1138.8 625.34 L1139.6 627.62 L1140.4 627.17 L1141.2 628.29 L1142 620.55 L1142.8 625.44 L1143.6 623.13 L1144.4 625.95 L1145.2 623.68 L1146 623.47 L1146.8 624.67 L1147.6 627.14 L1148.4 624.09 L1149.2 625.62 L1150 628.18 L1150.8 629.09 L1151.6 628.49 L1152.4 624.44 L1153.2 625.6 L1154 625.45 L1154.8 624.96 L1155.6 627.52 L1156.4 627.33 L1157.2 629.23 L1158 625.29 L1158.8 628.35 L1159.6 624.29 L1160.4 625.64 L1161.2 623.96 L1162 628.31 L1162.8 628.88 L1163.6 626.79 L1164.4 627.83 L1165.2 624.1 L1166 626.65 L1166.8 627.04 L1167.6 627.19 L1168.4 623.93 L1169.2 624.6 L1170 625.02 L1170.8 628.14 L1171.6 627.21 L1172.4 625.2 L1173.2 623.14 L1174 624.13 L1174.8 625.71 L1175.6 625.28 L1176.4 624.09 L1177.2 623.93 L1178 625.58 L1178.8 625.66 L1179.6 622.34 L1180.4 623.93 L1181.2 625.96 L1182 624.32 L1182.8 623.5 L1183.6 624.04 L1184.4 623.41 L1185.2 624.51 L1186 622.95 L1186.8 623.73 L1187.6 620.11 L1188.4 623.61 L1189.2 617.44 L1190 626.7 L1190.8 624.47 L1191.6 625.28 L1192.4 622.13 L1193.2 622.34 L1194 626.27 L1194.8 622.73 L1195.6 621.77 L1196.4 624.06 L1197.2 624.38 L1198 623.75 L1198.8 626.63 L1199.6 618.74 L1200.4 624.99 L1201.2 626.01 L1202 625.2 L1202.8 623.62 L1203.6 621.62 L1204.4 621.51 L1205.2 625.74 L1206 625.72 L1206.8 621.3 L1207.6 621.69 L1208.4 623.28 L1209.2 625.04 L1210 622.17 L1210.8 621.84 L1211.6 622.37 L1212.4 622.8 L1213.2 624 L1214 626.83 L1214.8 623.53 L1215.6 623.32 L1216.4 621.95 L1217.2 622.47 L1218 623.5 L1218.8 625.77 L1219.6 622.57 L1220.4 626.01 L1221.2 623.33 L1222 622.26 L1222.8 626.48 L1223.6 626.13 L1224.4 626.25 L1225.2 622.07 L1226 622.45 L1226.8 624.7 L1227.6 626.75 L1228.4 622.18 L1229.2 625.2 L1230 623.48 L1230.8 626.3 L1231.6 623.64 L1232.4 622.17 L1233.2 619.31 L1234 626.15 L1234.8 624.69 L1235.6 622.03 L1236.4 621.09 L1237.2 625.35 L1238 623.68 L1238.8 621.53 L1239.6 621.66 L1240.4 621.76 L1241.2 624 L1242 623.46 L1242.8 621.69 L1243.6 621.31 L1244.4 619.77 L1245.2 618.8 L1246 618.82 L1246.8 623.3 L1247.6 621.18 L1248.4 619.46 L1249.2 618.43 L1250 622.52 L1250.8 620.53 L1251.6 619.27 L1252.4 618.64 L1253.2 621.97 L1254 621.9 L1254.8 621.95 L1255.6 621.01 L1256.4 620.2 L1257.2 621.52 L1258 617.45 L1258.8 619.19 L1259.6 618.64 L1260.4 622.36 L1261.2 615.13 L1262 617.95 L1262.8 622.3 L1263.6 617.51 L1264.4 621.54 L1265.2 621.74 L1266 619.48 L1266.8 618.52 L1267.6 621.19 L1268.4 619.81 L1269.2 619.14 L1270 617.98 L1270.8 619.36 L1271.6 622.22 L1272.4 621.1 L1273.2 622.59 L1274 618.78 L1274.8 621.78 L1275.6 622.18 L1276.4 622.65 L1277.2 620.71 L1278 620.48 L1278.8 622.89 L1279.6 619.74 L1280.4 621.44 L1281.2 623.19 L1282 622.95 L1282.8 621.02 L1283.6 621.21 L1284.4 623.84 L1285.2 619.9 L1286 620.55 L1286.8 621.52 L1287.6 620.34 L1288.4 623.85 L1289.2 622.18 L1290 622.32 L1290.8 626.07 L1291.6 625.08 L1292.4 623.2 L1293.2 621.42 L1294 626.27 L1294.8 625.58 L1295.6 623.17 L1296.4 619.11 L1297.2 622.73 L1298 626.01 L1298.8 625.33 L1299.6 622.97 L1300.4 622.6 L1301.2 626.67 L1302 622.89 L1302.8 626.11 L1303.6 627.36 L1304.4 626.88 L1305.2 624.94 L1306 626.06 L1306.8 624.53 L1307.6 625.47 L1308.4 625.5 L1309.2 622.98 L1310 623.5 L1310.8 624.1 L1311.6 624.84 L1312.4 627.24 L1313.2 623.74 L1314 624.32 L1314.8 624.12 L1315.6 626.34 L1316.4 622.78 L1317.2 626.84 L1318 624.83 L1318.8 623.32 L1319.6 623.9 L1320.4 624.02 L1321.2 623.97 L1322 624.25 L1322.8 625.2 L1323.6 623.82 L1324.4 621.95 L1325.2 626.01 L1326 624.98 L1326.8 623.07 L1327.6 622.71 L1328.4 623.46 L1329.2 622.44 L1330 624.01 L1330.8 624.25 L1331.6 623.86 L1332.4 621.22 L1333.2 620.45 L1334 620.03 L1334.8 619.9 L1335.6 617.8 L1336.4 622.25 L1337.2 623.83 L1338 619.52 L1338.8 621.86 L1339.6 623.26 L1340.4 619.89 L1341.2 620.76 L1342 622.04 L1342.8 615.52 L1343.6 620.3 L1344.4 620.77 L1345.2 618.83 L1346 619.63 L1346.8 622.02 L1347.6 617.17 L1348.4 619.64 L1349.2 620.46 L1350 614.34 L1350.8 617.09 L1351.6 620.85 L1352.4 619.57 L1353.2 620.04 L1354 615.89 L1354.8 619.27 L1355.6 620.11 L1356.4 615.49 L1357.2 616.82 L1358 616.8 L1358.8 616.27 L1359.6 619.28 L1360.4 614.82 L1361.2 610.58 L1362 618.53 L1362.8 616.81 L1363.6 617.04 L1364.4 616.3 L1365.2 614.13 L1366 616.64 L1366.8 618.85 L1367.6 618.86 L1368.4 615.37 L1369.2 616.44 L1370 618.64 L1370.8 614.61 L1371.6 617.99 L1372.4 613.26 L1373.2 610.81 L1374 613.17 L1374.8 613.48 L1375.6 615.18 L1376.4 613.84 L1377.2 612.2 L1378 617.08 L1378.8 617.37 L1379.6 616.9 L1380.4 617.82 L1381.2 609.14 L1382 615.15 L1382.8 615.93 L1383.6 615.55 L1384.4 613.17 L1385.2 616.55 L1386 612.93 L1386.8 615.35 L1387.6 613.85 L1388.4 613.45 L1389.2 616.09 L1390 616.45 L1390.8 613.07 L1391.6 614.22 L1392.4 609.84 L1393.2 615.72 L1394 615.4 L1394.8 614.67 L1395.6 617.33 L1396.4 614.87 L1397.2 614.94 L1398 614.57 L1398.8 613.92 L1399.6 615.98 L1400.4 613.15 L1401.2 613.05 L1402 613.22 L1402.8 611.08 L1403.6 614.42 L1404.4 615.01 L1405.2 617.27 L1406 615.39 L1406.8 614.27 L1407.6 618.9 L1408.4 614.99 L1409.2 616.7 L1410 618.15 L1410.8 616.85 L1411.6 616.03 L1412.4 617.38 L1413.2 619.77 L1414 617.43 L1414.8 612.46 L1415.6 619.62 L1416.4 618.66 L1417.2 619.92 L1418 618.24 L1418.8 620.96 L1419.6 620.28 L1420.4 622.56 L1421.2 620.77 L1422 623.52 L1422.8 619.67 L1423.6 623.91 L1424.4 624.62 L1425.2 623.34 L1426 622.91 L1426.8 620.54 L1427.6 620.36 L1428.4 623.56 L1429.2 620.47 L1430 624.04 L1430.8 621.22 L1431.6 618.17 L1432.4 626.15 L1433.2 624.02 L1434 622.41 L1434.8 624.62 L1435.6 622.9 L1436.4 621.58 L1437.2 622.69 L1438 623.74 L1438.8 626.34 L1439.6 624.77 L1440.4 626.13 L1441.2 624.88 L1442 626.58 L1442.8 623.19 L1443.6 623.44 L1444.4 623.8 L1445.2 624.75 L1446 621.32 L1446.8 624.3 L1447.6 622.84 L1448.4 622.07 L1449.2 620.08 L1450 619.76 L1450.8 622.21 L1451.6 622.38 L1452.4 622.13 L1453.2 622.57 L1454 620.54 L1454.8 621.43 L1455.6 619.03 L1456.4 620.63 L1457.2 621.65 L1458 621.67 L1458.8 617.3 L1459.6 617.32 L1460.4 616.36 L1461.2 619.67 L1462 615.86 L1462.8 617.76 L1463.6 618.41 L1464.4 619.97 L1465.2 618.63 L1466 616.21 L1466.8 616.29 L1467.6 620.34 L1468.4 616.5 L1469.2 616.9 L1470 618.64 L1470.8 616.2 L1471.6 619.94 L1472.4 615.51 L1473.2 620.56 L1474 617.11 L1474.8 618.89 L1475.6 617.04 L1476.4 618.35 L1477.2 620.52 L1478 619.75 L1478.8 619.7 L1479.6 620.42 L1480.4 616.85 L1481.2 617.29 L1482 620.27 L1482.8 617.17 L1483.6 615.66 L1484.4 621 L1485.2 620.56 L1486 619.68 L1486.8 623.57 L1487.6 622.7 L1488.4 621.37 L1489.2 614.95 L1490 622.87 L1490.8 624.7 L1491.6 623.19 L1492.4 621.25 L1493.2 624.93 L1494 625.83 L1494.8 625.9 L1495.6 627.62 L1496.4 627.43 L1497.2 626.96 L1498 628.39 L1498.8 628.19 L1499.6 627.01 L1500.4 628.38 L1501.2 626.07 L1502 624.87 L1502.8 624.67 L1503.6 628.38 L1504.4 628 L1505.2 629.22 L1506 630.17 L1506.8 626.08 L1507.6 626.33 L1508.4 628.3 L1509.2 629.81 L1510 628.79 L1510.8 629.99 L1511.6 630.51 L1512.4 627.61 L1513.2 623.44 L1514 630.86 L1514.8 628.2 L1515.6 630.67 L1516.4 629.59 L1517.2 626.47 L1518 629.74 L1518.8 624.84 L1519.6 625.62 L1520.4 627.52 L1521.2 627.97 L1522 626.67 L1522.8 628.1 L1523.6 626.07 L1524.4 624.56 L1525.2 626.57 L1526 622.29 L1526.8 624.39 L1527.6 623.71 L1528.4 623.11 L1529.2 622.69 L1530 623.15 L1530.8 618.33 L1531.6 618.24 L1532.4 617.22 L1533.2 620.55 L1534 620.21 L1534.8 619.62 L1535.6 617.56 L1536.4 615.31 L1537.2 613.51 L1538 617.11 L1538.8 612.74 L1539.6 616.05 L1540.4 613.11 L1541.2 615.46 L1542 609.35 L1542.8 612.25 L1543.6 616.67 L1544.4 615.98 L1545.2 613.13 L1546 613.84 L1546.8 614.23 L1547.6 618.73 L1548.4 618.43 L1549.2 613.55 L1550 615.81 L1550.8 617.25 L1551.6 617.24 L1552.4 622.19 L1553.2 621.68 L1554 625.59 L1554.8 622.11 L1555.6 630.44 L1556.4 630.27 L1557.2 632.74 L1558 635.51 L1558.8 634.46 L1559.6 637.83 L1560.4 641.87 L1561.2 642.06 L1562 642.63 L1562.8 642.09 L1563.6 644.61 L1564.4 641.84 L1565.2 641.99 L1566 642.27 L1566.8 643.41 L1567.6 644.99 L1568.4 646.98 L1569.2 647.1 L1570 644.92 L1570.8 642.4 L1571.6 642.79 L1572.4 643.91 L1573.2 643.8 L1574 639.76 L1574.8 638.99 L1575.6 639.66 L1576.4 636.98 L1577.2 637.57 L1578 634.78 L1578.8 632.03 L1579.6 627.11 L1580.4 622.51 L1581.2 626.09 L1582 621.21 L1582.8 619.74 L1583.6 620.37 L1584.4 615.74 L1585.2 613.77 L1586 614.8 L1586.8 614.26 L1587.6 612.75 L1588.4 611.33 L1589.2 612.56 L1590 611.09 L1590.8 614.3 L1591.6 613.09 L1592.4 612.72 L1593.2 614.39 L1594 612.57 L1594.8 613.98 L1595.6 611.82 L1596.4 613.02 L1597.2 611.71 L1598 613.55 L1598.8 612.16 L1599.6 613.39 L1600.4 608.55 L1601.2 615 L1602 614.06 L1602.8 610.92 L1603.6 617.52 L1604.4 613.92 L1605.2 615.01 L1606 617.71 L1606.8 619.03 L1607.6 616.65 L1608.4 616.92 L1609.2 619.82 L1610 617.31 L1610.8 618.45 L1611.6 620.72 L1612.4 620.61 L1613.2 621.24 L1614 621.57 L1614.8 625.4 L1615.6 621.86 L1616.4 621.63 L1617.2 623.79 L1618 625.25 L1618.8 621.99 L1619.6 623.11 L1620.4 624.23 L1621.2 621.58 L1622 620.08 L1622.8 621.49 L1623.6 620.27 L1624.4 620.07 L1625.2 619.14 L1626 616.97 L1626.8 617.93 L1627.6 617.34 L1628.4 615.58 L1629.2 617.28 L1630 616.25 L1630.8 618.74 L1631.6 614.7 L1632.4 616.04 L1633.2 616.9 L1634 617.64 L1634.8 615.02 L1635.6 616.29 L1636.4 617.31 L1637.2 618.7 L1638 614.53 L1638.8 617.05 L1639.6 614.11 L1640.4 617.68 L1641.2 614.54 L1642 615.23 L1642.8 614.44 L1643.6 617.27 L1644.4 615.59 L1645.2 618.15 L1646 614.32 L1646.8 615.7 L1647.6 616.74 L1648.4 617.5 L1649.2 620.55 L1650 621.04 L1650.8 623.86 L1651.6 621.69 L1652.4 620.65 L1653.2 621.66 L1654 623.35 L1654.8 621.78 L1655.6 623.91 L1656.4 622.84 L1657.2 624.76 L1658 626.44 L1658.8 624.83 L1659.6 627.46 L1660.4 624.29 L1661.2 627.5 L1662 626.07 L1662.8 625.47 L1663.6 624.39 L1664.4 626.97 L1665.2 625.23 L1666 626.24 L1666.8 628.35 L1667.6 625.71 L1668.4 626.09 L1669.2 627.56 L1670 627.69 L1670.8 625.47 L1671.6 625.82 L1672.4 628.39 L1673.2 624.7 L1674 628.83 L1674.8 627.22 L1675.6 622.84 L1676.4 628.52 L1677.2 624 L1678 626.56 L1678.8 624.97 L1679.6 624.41 L1680.4 625.14 L1681.2 621.44 L1682 622.63 L1682.8 619.93 L1683.6 623.44 L1684.4 622.58 L1685.2 615.79 L1686 619.72 L1686.8 618.02 L1687.6 616.36 L1688.4 619.59 L1689.2 619.44 L1690 614.5 L1690.8 616.01 L1691.6 610.66 L1692.4 615.35 L1693.2 618.1 L1694 617.5 L1694.8 616.79 L1695.6 615.46 L1696.4 613.94 L1697.2 615.31 L1698 611.94 L1698.8 612.11 L1699.6 615.9 L1700.4 615.2 L1701.2 615.37 L1702 611.61 L1702.8 611.68 L1703.6 608.63 L1704.4 614.56 L1705.2 611.21 L1706 615.62 L1706.8 615.7 L1707.6 614.81 L1708.4 615.44 L1709.2 612.16 L1710 615.55 L1710.8 615.91 L1711.6 616.76 L1712.4 613.67 L1713.2 613.24 L1714 615.13 L1714.8 612.96 L1715.6 617.32 L1716.4 619.11 L1717.2 615.49 L1718 616.53 L1718.8 617.94 L1719.6 620.68 L1720.4 618.79 L1721.2 617.39 L1722 619.24 L1722.8 619.69 L1723.6 624.55 L1724.4 622.3 L1725.2 623.23 L1726 622.38 L1726.8 627.83 L1727.6 628.2 L1728.4 628.11 L1729.2 627.04 L1730 625.5 L1730.8 629.04 L1731.6 629.6 L1731.6 786.24 L1730.8 782.56 L1730 788.21 L1729.2 785.23 L1728.4 788.31 L1727.6 790.4 L1726.8 790.49 L1726 787.74 L1725.2 788.87 L1724.4 793.51 L1723.6 794.13 L1722.8 791.54 L1722 792.95 L1721.2 796.62 L1720.4 793.57 L1719.6 797.79 L1718.8 793.81 L1718 793.83 L1717.2 799.24 L1716.4 796.16 L1715.6 800.58 L1714.8 799.03 L1714 798.82 L1713.2 797.07 L1712.4 800.14 L1711.6 797.24 L1710.8 798.92 L1710 802.14 L1709.2 802.5 L1708.4 798.9 L1707.6 799.04 L1706.8 798.66 L1706 803.77 L1705.2 800.9 L1704.4 798.07 L1703.6 801.24 L1702.8 802.69 L1702 801.85 L1701.2 802.16 L1700.4 799.22 L1699.6 798.29 L1698.8 799.12 L1698 799.26 L1697.2 802.31 L1696.4 797.3 L1695.6 799.97 L1694.8 798.21 L1694 797.41 L1693.2 800.02 L1692.4 800.81 L1691.6 796.37 L1690.8 794.9 L1690 797.93 L1689.2 794.95 L1688.4 796.68 L1687.6 793.06 L1686.8 796.41 L1686 794.89 L1685.2 792.15 L1684.4 793.13 L1683.6 794.87 L1682.8 789.14 L1682 789.32 L1681.2 789.87 L1680.4 790.67 L1679.6 791.15 L1678.8 787.56 L1678 786.48 L1677.2 788.57 L1676.4 786.7 L1675.6 786.28 L1674.8 789.9 L1674 788.16 L1673.2 786.63 L1672.4 787.45 L1671.6 788.16 L1670.8 789.22 L1670 787.07 L1669.2 785.34 L1668.4 790.48 L1667.6 788.3 L1666.8 785.33 L1666 787.46 L1665.2 785.23 L1664.4 787.33 L1663.6 788.68 L1662.8 786.25 L1662 788.29 L1661.2 786.97 L1660.4 786.83 L1659.6 791.54 L1658.8 786.83 L1658 791.16 L1657.2 790.4 L1656.4 794.94 L1655.6 791.24 L1654.8 791.48 L1654 791.49 L1653.2 792.8 L1652.4 795.21 L1651.6 792.61 L1650.8 798.02 L1650 795.9 L1649.2 794.88 L1648.4 794.19 L1647.6 794.99 L1646.8 794.04 L1646 795.51 L1645.2 795.05 L1644.4 797.23 L1643.6 795.54 L1642.8 797.92 L1642 795.72 L1641.2 799.93 L1640.4 797.49 L1639.6 796.58 L1638.8 800.06 L1638 797.03 L1637.2 796.15 L1636.4 796.41 L1635.6 797.36 L1634.8 795.35 L1634 796.84 L1633.2 795.59 L1632.4 799.23 L1631.6 795.77 L1630.8 797.16 L1630 799.33 L1629.2 794.43 L1628.4 797.69 L1627.6 795.92 L1626.8 794.98 L1626 793.38 L1625.2 796.56 L1624.4 792.35 L1623.6 794.02 L1622.8 795.74 L1622 795.26 L1621.2 794.58 L1620.4 789.76 L1619.6 791.4 L1618.8 793.33 L1618 793.37 L1617.2 796.12 L1616.4 790.43 L1615.6 792.53 L1614.8 789.28 L1614 791.96 L1613.2 789.43 L1612.4 792.72 L1611.6 796.26 L1610.8 795.62 L1610 791.55 L1609.2 794.67 L1608.4 796.84 L1607.6 795.16 L1606.8 796.23 L1606 795.36 L1605.2 799.93 L1604.4 799.78 L1603.6 799.65 L1602.8 796.55 L1602 800.47 L1601.2 799.81 L1600.4 799.76 L1599.6 797.56 L1598.8 801.63 L1598 803.3 L1597.2 802.15 L1596.4 801.27 L1595.6 803.14 L1594.8 803.31 L1594 803.91 L1593.2 803.2 L1592.4 800.08 L1591.6 804.35 L1590.8 799.57 L1590 801.59 L1589.2 803.86 L1588.4 800.48 L1587.6 798.47 L1586.8 800.85 L1586 797.57 L1585.2 796.04 L1584.4 794.85 L1583.6 796.5 L1582.8 791.8 L1582 794.06 L1581.2 787.98 L1580.4 786.89 L1579.6 782 L1578.8 782.55 L1578 785.95 L1577.2 777.95 L1576.4 776.92 L1575.6 774.27 L1574.8 772.28 L1574 770.47 L1573.2 771.48 L1572.4 769.36 L1571.6 769.17 L1570.8 769.35 L1570 769.85 L1569.2 769.37 L1568.4 767.83 L1567.6 771.07 L1566.8 770.15 L1566 767.19 L1565.2 769.37 L1564.4 772.15 L1563.6 771.18 L1562.8 771.14 L1562 775.38 L1561.2 775.62 L1560.4 776.26 L1559.6 778.61 L1558.8 779.22 L1558 779.5 L1557.2 783.87 L1556.4 785.26 L1555.6 784.36 L1554.8 786.07 L1554 791.11 L1553.2 788.97 L1552.4 791.17 L1551.6 793.71 L1550.8 796.6 L1550 797.77 L1549.2 796.7 L1548.4 797.11 L1547.6 798.31 L1546.8 797.85 L1546 799.2 L1545.2 799.17 L1544.4 796.48 L1543.6 799.08 L1542.8 801.05 L1542 806.56 L1541.2 800.18 L1540.4 801.81 L1539.6 800.59 L1538.8 800.92 L1538 799.43 L1537.2 798.06 L1536.4 798.65 L1535.6 799.38 L1534.8 797.36 L1534 795.65 L1533.2 793.29 L1532.4 795.72 L1531.6 793.87 L1530.8 794.54 L1530 793.44 L1529.2 792.75 L1528.4 794.15 L1527.6 796.6 L1526.8 788.16 L1526 790.11 L1525.2 789.17 L1524.4 790.6 L1523.6 786.6 L1522.8 786.91 L1522 785.38 L1521.2 785.6 L1520.4 785.14 L1519.6 788.81 L1518.8 787.53 L1518 786.56 L1517.2 784.22 L1516.4 784.66 L1515.6 783.11 L1514.8 784.19 L1514 785.93 L1513.2 786.87 L1512.4 784.71 L1511.6 785.72 L1510.8 785.07 L1510 789.2 L1509.2 785.8 L1508.4 785.76 L1507.6 788.23 L1506.8 785.26 L1506 787.21 L1505.2 785.13 L1504.4 786.22 L1503.6 787.67 L1502.8 786.14 L1502 788.63 L1501.2 786.15 L1500.4 789.58 L1499.6 785.21 L1498.8 789.58 L1498 787.75 L1497.2 787.5 L1496.4 790.97 L1495.6 795.55 L1494.8 788.67 L1494 789.14 L1493.2 788.85 L1492.4 789.06 L1491.6 793.91 L1490.8 791.23 L1490 793.54 L1489.2 790.92 L1488.4 793.99 L1487.6 794.51 L1486.8 792.59 L1486 795.55 L1485.2 795.24 L1484.4 794.3 L1483.6 796.31 L1482.8 795.99 L1482 794.36 L1481.2 797.07 L1480.4 792.46 L1479.6 796.38 L1478.8 793.87 L1478 793.67 L1477.2 795.91 L1476.4 797.5 L1475.6 795.09 L1474.8 797.74 L1474 793.45 L1473.2 795.04 L1472.4 793.85 L1471.6 795.41 L1470.8 797.31 L1470 798.73 L1469.2 795.31 L1468.4 796.71 L1467.6 802.59 L1466.8 800.15 L1466 798.63 L1465.2 797.71 L1464.4 795.65 L1463.6 793.9 L1462.8 796.05 L1462 795.67 L1461.2 796.64 L1460.4 793.93 L1459.6 792.86 L1458.8 797.55 L1458 797.28 L1457.2 794.41 L1456.4 793.2 L1455.6 795.92 L1454.8 791.55 L1454 793.62 L1453.2 793.69 L1452.4 793.63 L1451.6 792.47 L1450.8 792.87 L1450 792.34 L1449.2 792.09 L1448.4 793.61 L1447.6 791.78 L1446.8 790.26 L1446 788.44 L1445.2 788.14 L1444.4 793.63 L1443.6 787.68 L1442.8 789.3 L1442 789.78 L1441.2 790.85 L1440.4 788.61 L1439.6 789.95 L1438.8 788.41 L1438 788.18 L1437.2 792.41 L1436.4 791.11 L1435.6 791.9 L1434.8 791.76 L1434 791.75 L1433.2 788.85 L1432.4 788.75 L1431.6 788.78 L1430.8 789.9 L1430 792.05 L1429.2 790.76 L1428.4 789.24 L1427.6 792.11 L1426.8 793.69 L1426 794.17 L1425.2 790.29 L1424.4 793.63 L1423.6 792.13 L1422.8 791.16 L1422 794.35 L1421.2 793.26 L1420.4 796.28 L1419.6 791.3 L1418.8 793.2 L1418 794.11 L1417.2 794.8 L1416.4 791.96 L1415.6 792.56 L1414.8 793.71 L1414 793.75 L1413.2 798.05 L1412.4 794.81 L1411.6 796.37 L1410.8 800.2 L1410 798.19 L1409.2 794.85 L1408.4 794.79 L1407.6 794.58 L1406.8 800.16 L1406 799.62 L1405.2 795.57 L1404.4 798.15 L1403.6 800.15 L1402.8 799.77 L1402 799.16 L1401.2 796.31 L1400.4 799.96 L1399.6 800.76 L1398.8 798.27 L1398 798.94 L1397.2 799.28 L1396.4 798.06 L1395.6 800.09 L1394.8 798.2 L1394 798.93 L1393.2 798.66 L1392.4 801.53 L1391.6 801.04 L1390.8 800.62 L1390 798.66 L1389.2 798.73 L1388.4 801.11 L1387.6 797.92 L1386.8 796.85 L1386 797.99 L1385.2 797.93 L1384.4 799.46 L1383.6 796.76 L1382.8 799.85 L1382 798.44 L1381.2 796.56 L1380.4 799.1 L1379.6 801.17 L1378.8 799.21 L1378 796.85 L1377.2 796.49 L1376.4 799.66 L1375.6 799.77 L1374.8 800.08 L1374 800.94 L1373.2 800.2 L1372.4 798.69 L1371.6 799.04 L1370.8 797.59 L1370 800.1 L1369.2 797.15 L1368.75 707 L966 707Z" fill="#ff0000"/>
<path d="M966.4 624.5 L968 623 L970 625.5 L971.5 623.5 L972.5 626 L973 622Z" fill="#ff0000"/>
<path d="M962.4 543.5 L964.7 543.5 L965.2 592 L966.4 605 L968.2 620 L970.5 624 L972.5 624.5 L973.5 621 L974 707 L962.4 707Z" fill="#ff0000"/>
<path d="M965.9 560 L966.3 592 L967.5 606 L968.8 621" fill="none" stroke="#2020ff" stroke-width="1.1" stroke-linejoin="round" stroke-dasharray="4,4"/>
<rect x="959.2" y="559" width="1.3" height="148" fill="#ff0000" stroke="none" stroke-width="1"/>
<rect x="960.4" y="650" width="2.2" height="57" fill="#ff0000" stroke="none" stroke-width="1"/>
<line x1="961.2" y1="644" x2="961.2" y2="657" stroke="#3030ff" stroke-width="1.2"/>
<rect x="959.5" y="707" width="409.25" height="164" fill="#fff" stroke="none" stroke-width="1"/>
<line x1="1020.5" y1="721.75" x2="1020.5" y2="871" stroke="#b0b0b0" stroke-width="0.9" stroke-dasharray="1.2,1.6"/>
<line x1="1080.5" y1="721.75" x2="1080.5" y2="871" stroke="#b0b0b0" stroke-width="0.9" stroke-dasharray="1.2,1.6"/>
<line x1="1140.5" y1="721.75" x2="1140.5" y2="871" stroke="#b0b0b0" stroke-width="0.9" stroke-dasharray="1.2,1.6"/>
<line x1="1200.5" y1="721.75" x2="1200.5" y2="871" stroke="#b0b0b0" stroke-width="0.9" stroke-dasharray="1.2,1.6"/>
<line x1="1261.5" y1="721.75" x2="1261.5" y2="871" stroke="#b0b0b0" stroke-width="0.9" stroke-dasharray="1.2,1.6"/>
<line x1="1321.5" y1="721.75" x2="1321.5" y2="871" stroke="#b0b0b0" stroke-width="0.9" stroke-dasharray="1.2,1.6"/>
<line x1="986.75" y1="740.5" x2="1327.6" y2="740.5" stroke="#b0b0b0" stroke-width="0.9" stroke-dasharray="1.2,1.6"/>
<line x1="986.75" y1="760.5" x2="1327.6" y2="760.5" stroke="#b0b0b0" stroke-width="0.9" stroke-dasharray="1.2,1.6"/>
<line x1="986.75" y1="779.5" x2="1327.6" y2="779.5" stroke="#b0b0b0" stroke-width="0.9" stroke-dasharray="1.2,1.6"/>
<line x1="986.75" y1="798.5" x2="1327.6" y2="798.5" stroke="#b0b0b0" stroke-width="0.9" stroke-dasharray="1.2,1.6"/>
<line x1="986.75" y1="817.5" x2="1327.6" y2="817.5" stroke="#b0b0b0" stroke-width="0.9" stroke-dasharray="1.2,1.6"/>
<line x1="986.75" y1="836.5" x2="1327.6" y2="836.5" stroke="#b0b0b0" stroke-width="0.9" stroke-dasharray="1.2,1.6"/>
<line x1="986.75" y1="855.5" x2="1327.6" y2="855.5" stroke="#b0b0b0" stroke-width="0.9" stroke-dasharray="1.2,1.6"/>
<path d="M987.25 779.43 L988.25 781.91 L989.25 784.88 L990.25 787.93 L991.25 789.01 L992.25 791.37 L993.25 794.1 L994.25 797.81 L995.25 798.8 L996.25 802.67 L997.25 804.91 L998.25 806.05 L999.25 809.37 L1000.25 811.47 L1001.25 813.64 L1002.25 817.23 L1003.25 817.17 L1004.25 819.03 L1005.25 823.17 L1006.25 823.72 L1007.25 824.96 L1008.25 826.89 L1009.25 828.47 L1010.25 831.25 L1011.25 830.7 L1012.25 831.81 L1013.25 833.64 L1014.25 834.36 L1015.25 835.99 L1016.25 836.22 L1017.25 835.41 L1018.25 835.25 L1019.25 836.8 L1020.25 837.05 L1021.25 834.48 L1022.25 835.74 L1023.25 835.48 L1024.25 834.22 L1025.25 832.3 L1026.25 832.67 L1027.25 831.34 L1028.25 828.76 L1029.25 828.4 L1030.25 825.83 L1031.25 823.73 L1032.25 822.65 L1033.25 820.76 L1034.25 818.93 L1035.25 817.46 L1036.25 815.76 L1037.25 813.84 L1038.25 811.59 L1039.25 809.29 L1040.25 806.42 L1041.25 802.85 L1042.25 800.1 L1043.25 798.72 L1044.25 796.08 L1045.25 793.94 L1046.25 790.11 L1047.25 787.94 L1048.25 787.32 L1049.25 784.22 L1050.25 782.18 L1051.25 778.53 L1052.25 777.13 L1053.25 776.3 L1054.25 773.72 L1055.25 772.68 L1056.25 769.01 L1057.25 767.99 L1058.25 767.29 L1059.25 765.04 L1060.25 764.6 L1061.25 762.92 L1062.25 760.87 L1063.25 759.98 L1064.25 761.41 L1065.25 758.79 L1066.25 758.58 L1067.25 758.68 L1068.25 759.51 L1069.25 759.93 L1070.25 759.25 L1071.25 759.7 L1072.25 760.94 L1073.25 760.41 L1074.25 761.48 L1075.25 763.05 L1076.25 764.23 L1077.25 764.06 L1078.25 765.64 L1079.25 767.23 L1080.25 770.28 L1081.25 771.96 L1082.25 774.49 L1083.25 775.96 L1084.25 776.78 L1085.25 780.14 L1086.25 782.87 L1087.25 783.62 L1088.25 785.13 L1089.25 788.38 L1090.25 790.56 L1091.25 792.74 L1092.25 794.87 L1093.25 797.52 L1094.25 801.75 L1095.25 802.23 L1096.25 806 L1097.25 807.4 L1098.25 809.71 L1099.25 813.5 L1100.25 814.47 L1101.25 816.34 L1102.25 819.07 L1103.25 821.63 L1104.25 823.11 L1105.25 825.7 L1106.25 826.27 L1107.25 828.12 L1108.25 830.01 L1109.25 830.7 L1110.25 832.48 L1111.25 832.9 L1112.25 832.98 L1113.25 833.69 L1114.25 835.86 L1115.25 836.19 L1116.25 836.94 L1117.25 836.45 L1118.25 836.15 L1119.25 834.96 L1120.25 836.26 L1121.25 833.99 L1122.25 834.07 L1123.25 832.58 L1124.25 832.2 L1125.25 830.93 L1126.25 829.98 L1127.25 829.3 L1128.25 827.4 L1129.25 825.07 L1130.25 824.62 L1131.25 822.68 L1132.25 820.96 L1133.25 817.03 L1134.25 816.31 L1135.25 814.8 L1136.25 811.01 L1137.25 808.57 L1138.25 807.67 L1139.25 804.19 L1140.25 801.86 L1141.25 800.41 L1142.25 796.91 L1143.25 794.02 L1144.25 791.61 L1145.25 789.51 L1146.25 787.96 L1147.25 784.82 L1148.25 783.49 L1149.25 779.56 L1150.25 777.83 L1151.25 776.63 L1152.25 774.28 L1153.25 772.41 L1154.25 771.65 L1155.25 768.37 L1156.25 766.55 L1157.25 764.74 L1158.25 764.48 L1159.25 762.84 L1160.25 762.2 L1161.25 760.16 L1162.25 759.38 L1163.25 759.67 L1164.25 760.11 L1165.25 758.7 L1166.25 760.01 L1167.25 759.21 L1168.25 758.94 L1169.25 760.15 L1170.25 759.32 L1171.25 760.83 L1172.25 762.18 L1173.25 762.36 L1174.25 762.89 L1175.25 763.55 L1176.25 766.03 L1177.25 766.57 L1178.25 768.6 L1179.25 770.71 L1180.25 773.47 L1181.25 774.74 L1182.25 776.38 L1183.25 779.29 L1184.25 780.14 L1185.25 782.57 L1186.25 785.56 L1187.25 787.62 L1188.25 789.21 L1189.25 792.08 L1190.25 795.52 L1191.25 796.57 L1192.25 800.14 L1193.25 801.01 L1194.25 805.61 L1195.25 807.36 L1196.25 808.86 L1197.25 812.75 L1198.25 814.56 L1199.25 814.98 L1200.25 817.55 L1201.25 820.16 L1202.25 823.31 L1203.25 823.09 L1204.25 824.6 L1205.25 826.85 L1206.25 827.7 L1207.25 829.94 L1208.25 831.48 L1209.25 832.34 L1210.25 832.58 L1211.25 833.1 L1212.25 835.63 L1213.25 835.27 L1214.25 835.71 L1215.25 835.9 L1216.25 836.44 L1217.25 836.84 L1218.25 836.39 L1219.25 835.72 L1220.25 834.21 L1221.25 833.07 L1222.25 832 L1223.25 832.82 L1224.25 829.73 L1225.25 829.66 L1226.25 829.04 L1227.25 826.08 L1228.25 824.57 L1229.25 822.85 L1230.25 822.23 L1231.25 819.62 L1232.25 817.92 L1233.25 813.84 L1234.25 813.28 L1235.25 810.33 L1236.25 807.87 L1237.25 806.48 L1238.25 803.88 L1239.25 801.86 L1240.25 798.99 L1241.25 796.95 L1242.25 793.34 L1243.25 791.22 L1244.25 789.36 L1245.25 786.19 L1246.25 783.11 L1247.25 781.91 L1248.25 780.39 L1249.25 778.26 L1250.25 774.42 L1251.25 773.07 L1252.25 770.84 L1253.25 769.36 L1254.25 769.2 L1255.25 766.38 L1256.25 764.72 L1257.25 763.36 L1258.25 762.63 L1259.25 762.19 L1260.25 760.56 L1261.25 759.49 L1262.25 759.05 L1263.25 758.74 L1264.25 760.05 L1265.25 758.21 L1266.25 759.69 L1267.25 758.37 L1268.25 760.39 L1269.25 759.68 L1270.25 761.61 L1271.25 761.62 L1272.25 761.76 L1273.25 762.93 L1274.25 765.89 L1275.25 766.67 L1276.25 768.06 L1277.25 769.38 L1278.25 771.96 L1279.25 773.32 L1280.25 774.27 L1281.25 777.61 L1282.25 779.06 L1283.25 782.54 L1284.25 784.1 L1285.25 786.96 L1286.25 787.77 L1287.25 791.58 L1288.25 793.78 L1289.25 796.81 L1290.25 799.34 L1291.25 801 L1292.25 803.53 L1293.25 806.37 L1294.25 807.54 L1295.25 810.55 L1296.25 813.42 L1297.25 815.18 L1298.25 817.21 L1299.25 820.03 L1300.25 822.3 L1301.25 822.47 L1302.25 823.81 L1303.25 826.78 L1304.25 827.22 L1305.25 830.62 L1306.25 830.73 L1307.25 832.04 L1308.25 833.74 L1309.25 834.75 L1310.25 833.74 L1311.25 835.06 L1312.25 834.84 L1313.25 835.78 L1314.25 835.11 L1315.25 836.86 L1316.25 835.41 L1317.25 835.14 L1318.25 835.86 L1319.25 835.02 L1320.25 833.05 L1321.25 832.49 L1322.25 831.78 L1323.25 829.41 L1324.25 827.92 L1325.25 828.16 L1326.25 824.87" fill="none" stroke="#5a5aff" stroke-width="0.9" stroke-linejoin="round" stroke-opacity="0.85"/>
<path d="M987.25 780.02 L988.25 782.53 L989.25 784.99 L990.25 788.71 L991.25 790.07 L992.25 792.96 L993.25 793.85 L994.25 797.22 L995.25 800.42 L996.25 802.03 L997.25 805.41 L998.25 807.59 L999.25 808.66 L1000.25 810.03 L1001.25 814.04 L1002.25 814.66 L1003.25 816.44 L1004.25 820.14 L1005.25 822.3 L1006.25 824.07 L1007.25 826.04 L1008.25 825.81 L1009.25 826.97 L1010.25 828.4 L1011.25 831.66 L1012.25 830.65 L1013.25 831.69 L1014.25 832.14 L1015.25 832.85 L1016.25 833.32 L1017.25 834.41 L1018.25 834.15 L1019.25 834.54 L1020.25 835.91 L1021.25 833.82 L1022.25 834.95 L1023.25 834.2 L1024.25 833.08 L1025.25 832.24 L1026.25 831.71 L1027.25 830.14 L1028.25 828.01 L1029.25 826.86 L1030.25 825.14 L1031.25 823.88 L1032.25 823.55 L1033.25 820.37 L1034.25 817.58 L1035.25 816.54 L1036.25 815.25 L1037.25 812.2 L1038.25 810.59 L1039.25 806.85 L1040.25 804.46 L1041.25 803.55 L1042.25 799.7 L1043.25 797.92 L1044.25 795.73 L1045.25 792.88 L1046.25 790.14 L1047.25 787.72 L1048.25 787.68 L1049.25 784.78 L1050.25 783.2 L1051.25 779.95 L1052.25 778.98 L1053.25 776.77 L1054.25 774.27 L1055.25 772.23 L1056.25 770.48 L1057.25 768.2 L1058.25 767.08 L1059.25 766.55 L1060.25 764.05 L1061.25 764.52 L1062.25 762.74 L1063.25 762.14 L1064.25 761.99 L1065.25 761.04 L1066.25 759.44 L1067.25 759.47 L1068.25 758.8 L1069.25 758.94 L1070.25 761.39 L1071.25 760.91 L1072.25 762.34 L1073.25 762.56 L1074.25 762.27 L1075.25 764.8 L1076.25 765.79 L1077.25 765.91 L1078.25 766.37 L1079.25 768.42 L1080.25 769.66 L1081.25 771.85 L1082.25 772.98 L1083.25 776.41 L1084.25 779.04 L1085.25 779.28 L1086.25 782.79 L1087.25 784.53 L1088.25 786.55 L1089.25 789.88 L1090.25 790.96 L1091.25 794.39 L1092.25 794.89 L1093.25 799.51 L1094.25 800.02 L1095.25 801.97 L1096.25 806.43 L1097.25 808.36 L1098.25 810.53 L1099.25 812.97 L1100.25 814.2 L1101.25 815.67 L1102.25 818.18 L1103.25 821.63 L1104.25 823.54 L1105.25 823.47 L1106.25 825.61 L1107.25 827.15 L1108.25 829.63 L1109.25 828.74 L1110.25 831.85 L1111.25 831.47 L1112.25 833.03 L1113.25 832.74 L1114.25 833.2 L1115.25 835.53 L1116.25 834.89 L1117.25 836.13 L1118.25 835.83 L1119.25 835.37 L1120.25 833.4 L1121.25 834.15 L1122.25 834.47 L1123.25 832.51 L1124.25 830.54 L1125.25 829.75 L1126.25 830.48 L1127.25 829.12 L1128.25 825.92 L1129.25 824.51 L1130.25 823.78 L1131.25 821.5 L1132.25 818.84 L1133.25 818.78 L1134.25 815.84 L1135.25 813.1 L1136.25 810.08 L1137.25 809 L1138.25 807.28 L1139.25 803.57 L1140.25 800.98 L1141.25 800.13 L1142.25 798.21 L1143.25 794.52 L1144.25 792.37 L1145.25 790.4 L1146.25 787.79 L1147.25 784.57 L1148.25 782.68 L1149.25 780.33 L1150.25 778.2 L1151.25 775.9 L1152.25 774.67 L1153.25 772.39 L1154.25 772.14 L1155.25 769.22 L1156.25 769.21 L1157.25 767.42 L1158.25 764.82 L1159.25 763.38 L1160.25 763.35 L1161.25 762.22 L1162.25 761.62 L1163.25 760.03 L1164.25 760.55 L1165.25 760.79 L1166.25 759.89 L1167.25 759.43 L1168.25 761.19 L1169.25 759.99 L1170.25 762.12 L1171.25 761.99 L1172.25 761.09 L1173.25 763.05 L1174.25 763.37 L1175.25 766.07 L1176.25 766.49 L1177.25 767.11 L1178.25 770.73 L1179.25 772.02 L1180.25 773.32 L1181.25 775.09 L1182.25 775.86 L1183.25 780.08 L1184.25 780.56 L1185.25 783.28 L1186.25 785.43 L1187.25 787.68 L1188.25 788.92 L1189.25 793.38 L1190.25 794.79 L1191.25 796.95 L1192.25 800.46 L1193.25 802.84 L1194.25 804.86 L1195.25 807.65 L1196.25 808.61 L1197.25 810.28 L1198.25 813.06 L1199.25 815.8 L1200.25 818.3 L1201.25 820.15 L1202.25 821.79 L1203.25 823.51 L1204.25 825.35 L1205.25 826.7 L1206.25 826.81 L1207.25 829.42 L1208.25 829.97 L1209.25 830.55 L1210.25 832.78 L1211.25 834.11 L1212.25 833.41 L1213.25 834.83 L1214.25 835.07 L1215.25 835.39 L1216.25 835.89 L1217.25 835.35 L1218.25 833.61 L1219.25 834.48 L1220.25 833.27 L1221.25 832.72 L1222.25 832.48 L1223.25 830.28 L1224.25 830.23 L1225.25 829.71 L1226.25 826.25 L1227.25 826.59 L1228.25 824.62 L1229.25 822.15 L1230.25 821.18 L1231.25 817.6 L1232.25 815.78 L1233.25 815.69 L1234.25 812.63 L1235.25 809.31 L1236.25 806.94 L1237.25 805.38 L1238.25 803.27 L1239.25 801.96 L1240.25 797.64 L1241.25 796.33 L1242.25 793.48 L1243.25 791.39 L1244.25 789.97 L1245.25 785.68 L1246.25 785.14 L1247.25 782.68 L1248.25 779.41 L1249.25 776.98 L1250.25 776.49 L1251.25 774.83 L1252.25 771.8 L1253.25 769.59 L1254.25 768.99 L1255.25 767.78 L1256.25 765.67 L1257.25 764.56 L1258.25 762.72 L1259.25 761.85 L1260.25 761.22 L1261.25 761.83 L1262.25 759.78 L1263.25 759.58 L1264.25 759.99 L1265.25 759.3 L1266.25 759.45 L1267.25 760.87 L1268.25 760.05 L1269.25 761.36 L1270.25 760.89 L1271.25 762.76 L1272.25 764.15 L1273.25 764.65 L1274.25 765.27 L1275.25 766.25 L1276.25 768.32 L1277.25 770.24 L1278.25 771.21 L1279.25 773.81 L1280.25 775.92 L1281.25 776.85 L1282.25 780.37 L1283.25 783.21 L1284.25 784.82 L1285.25 786.48 L1286.25 789.7 L1287.25 792.32 L1288.25 794.7 L1289.25 797.09 L1290.25 799.03 L1291.25 801.85 L1292.25 803.79 L1293.25 805.09 L1294.25 806.95 L1295.25 810.08 L1296.25 812.82 L1297.25 813.94 L1298.25 816.26 L1299.25 817.61 L1300.25 819.44 L1301.25 821.81 L1302.25 824.96 L1303.25 824.7 L1304.25 826.43 L1305.25 828.42 L1306.25 831.05 L1307.25 830.38 L1308.25 830.96 L1309.25 831.83 L1310.25 833.26 L1311.25 833.01 L1312.25 835.02 L1313.25 833.83 L1314.25 834.25 L1315.25 833.94 L1316.25 834.21 L1317.25 833.44 L1318.25 833.13 L1319.25 832.56 L1320.25 831.87 L1321.25 831.9 L1322.25 830.2 L1323.25 828.61 L1324.25 826.81 L1325.25 827.4 L1326.25 825.8" fill="none" stroke="#ff5a5a" stroke-width="0.9" stroke-linejoin="round" stroke-opacity="0.85"/>
<rect x="986.75" y="721.75" width="340.85" height="149.25" fill="none" stroke="#8a8a8a" stroke-width="1.1"/>
<rect x="958.3" y="542.75" width="774.7" height="328.25" fill="none" stroke="#000" stroke-width="2.6"/>
<line x1="1035.5" y1="542.75" x2="1035.5" y2="551.75" stroke="#000" stroke-width="2.4"/>
<line x1="1113" y1="542.75" x2="1113" y2="551.75" stroke="#000" stroke-width="2.4"/>
<line x1="1190.5" y1="542.75" x2="1190.5" y2="551.75" stroke="#000" stroke-width="2.4"/>
<line x1="1268" y1="542.75" x2="1268" y2="551.75" stroke="#000" stroke-width="2.4"/>
<line x1="1345.5" y1="542.75" x2="1345.5" y2="551.75" stroke="#000" stroke-width="2.4"/>
<line x1="1423" y1="542.75" x2="1423" y2="551.75" stroke="#000" stroke-width="2.4"/>
<line x1="1423" y1="871" x2="1423" y2="862" stroke="#000" stroke-width="2.4"/>
<line x1="1500.5" y1="542.75" x2="1500.5" y2="551.75" stroke="#000" stroke-width="2.4"/>
<line x1="1500.5" y1="871" x2="1500.5" y2="862" stroke="#000" stroke-width="2.4"/>
<line x1="1578" y1="542.75" x2="1578" y2="551.75" stroke="#000" stroke-width="2.4"/>
<line x1="1578" y1="871" x2="1578" y2="862" stroke="#000" stroke-width="2.4"/>
<line x1="1655.5" y1="542.75" x2="1655.5" y2="551.75" stroke="#000" stroke-width="2.4"/>
<line x1="1655.5" y1="871" x2="1655.5" y2="862" stroke="#000" stroke-width="2.4"/>
<line x1="958.3" y1="624.75" x2="967.3" y2="624.75" stroke="#000" stroke-width="2.4"/>
<line x1="958.3" y1="707" x2="967.3" y2="707" stroke="#000" stroke-width="2.4"/>
<line x1="958.3" y1="789.25" x2="967.3" y2="789.25" stroke="#000" stroke-width="2.4"/>
<ellipse cx="1352.6" cy="702.9" rx="17.6" ry="97.8" fill="none" stroke="#000" stroke-width="3.4"/>
<line x1="988.5" y1="721" x2="1351" y2="605.5" stroke="#000" stroke-width="2.6" stroke-dasharray="17,9"/>
<line x1="1352" y1="802" x2="1328.8" y2="874.2" stroke="#000" stroke-width="3.6" stroke-dasharray="16,8"/>
<circle cx="987.5" cy="721.7" r="2" fill="#000"/>
<circle cx="1328.8" cy="874.6" r="2" fill="#000"/>
<rect x="1605.25" y="548.75" width="123" height="61.25" fill="#fff" stroke="#000" stroke-width="2.6"/>
<line x1="1611" y1="564.5" x2="1641.5" y2="564.5" stroke="#0000ff" stroke-width="3"/>
<line x1="1611" y1="592.5" x2="1641.5" y2="592.5" stroke="#ff0000" stroke-width="3"/>
<text transform="translate(1662.75 568) scale(1 1.06)" font-size="16">with PI</text>
<text transform="translate(1653.25 597.5) scale(1 1.06)" font-size="16">with SMC</text>
<text transform="translate(947.5 550.5) scale(1 1.08)" font-size="24.1" text-anchor="end">2</text>
<text transform="translate(947.5 632.3) scale(1 1.08)" font-size="24.1" text-anchor="end">1</text>
<text transform="translate(947.5 713.8) scale(1 1.08)" font-size="24.1" text-anchor="end">0</text>
<text transform="translate(947.5 797.5) scale(1 1.08)" font-size="24.1" text-anchor="end">-1</text>
<text transform="translate(947.5 877.5) scale(1 1.08)" font-size="24.1" text-anchor="end">-2</text>
<text transform="translate(967.5 901) scale(1 1.08)" font-size="24.1" text-anchor="middle">0</text>
<text transform="translate(1042.5 901) scale(1 1.08)" font-size="24.1" text-anchor="middle">2</text>
<text transform="translate(1118.75 901) scale(1 1.08)" font-size="24.1" text-anchor="middle">4</text>
<text transform="translate(1194.5 901) scale(1 1.08)" font-size="24.1" text-anchor="middle">6</text>
<text transform="translate(1270 901) scale(1 1.08)" font-size="24.1" text-anchor="middle">8</text>
<text transform="translate(1349 901) scale(1 1.08)" font-size="24.1" text-anchor="middle">10</text>
<text transform="translate(1423.5 901) scale(1 1.08)" font-size="24.1" text-anchor="middle">12</text>
<text transform="translate(1499.75 901) scale(1 1.08)" font-size="24.1" text-anchor="middle">14</text>
<text transform="translate(1575.25 901) scale(1 1.08)" font-size="24.1" text-anchor="middle">16</text>
<text transform="translate(1651 901) scale(1 1.08)" font-size="24.1" text-anchor="middle">18</text>
<text transform="translate(1720.25 901) scale(1 1.08)" font-size="24.1" text-anchor="middle">20</text>
<text transform="translate(1300 927.5) scale(1 1.08)" font-size="24.1" textLength="102" lengthAdjust="spacingAndGlyphs">Time (sec)</text>
<text transform="translate(1081.3 532.5) scale(1 1.08)" font-size="24.1" textLength="542.5" lengthAdjust="spacingAndGlyphs">Current behavior of phase-A (on the base of 1.5 MW, 575 V)</text>
<text transform="translate(912,708) rotate(-90)" text-anchor="middle" font-size="24">I<tspan font-size="16.5" dy="4">a</tspan><tspan dy="-4"> (pu)</tspan></text>
<line x1="175.5" y1="1059.5" x2="175.5" y2="1383.5" stroke="#a8a8a8" stroke-width="0.8" stroke-dasharray="2.5,2.5"/>
<line x1="247.5" y1="1059.5" x2="247.5" y2="1383.5" stroke="#a8a8a8" stroke-width="0.8" stroke-dasharray="2.5,2.5"/>
<line x1="319.5" y1="1059.5" x2="319.5" y2="1383.5" stroke="#a8a8a8" stroke-width="0.8" stroke-dasharray="2.5,2.5"/>
<line x1="391.5" y1="1059.5" x2="391.5" y2="1383.5" stroke="#a8a8a8" stroke-width="0.8" stroke-dasharray="2.5,2.5"/>
<line x1="462.5" y1="1059.5" x2="462.5" y2="1383.5" stroke="#a8a8a8" stroke-width="0.8" stroke-dasharray="2.5,2.5"/>
<line x1="534.5" y1="1059.5" x2="534.5" y2="1383.5" stroke="#a8a8a8" stroke-width="0.8" stroke-dasharray="2.5,2.5"/>
<line x1="606.5" y1="1059.5" x2="606.5" y2="1383.5" stroke="#a8a8a8" stroke-width="0.8" stroke-dasharray="2.5,2.5"/>
<line x1="678.5" y1="1059.5" x2="678.5" y2="1383.5" stroke="#a8a8a8" stroke-width="0.8" stroke-dasharray="2.5,2.5"/>
<line x1="749.5" y1="1059.5" x2="749.5" y2="1383.5" stroke="#a8a8a8" stroke-width="0.8" stroke-dasharray="2.5,2.5"/>
<path d="M107.3 1133.23 L108.1 1132.59 L108.9 1132.09 L109.7 1131.74 L110.5 1132.12 L111.3 1134.27 L112.1 1131.73 L112.9 1134.06 L113.7 1132.23 L114.5 1132.45 L115.3 1131.72 L116.1 1133.14 L116.9 1134.39 L117.7 1133.08 L118.5 1132.34 L119.3 1131.66 L120.1 1132.32 L120.9 1132.03 L121.7 1131.34 L122.5 1132.26 L123.3 1133.57 L124.1 1131.55 L124.9 1131.59 L125.7 1133.49 L126.5 1132.62 L127.3 1132.27 L128.1 1132.15 L128.9 1131.56 L129.7 1131.41 L130.5 1133.89 L131.3 1132.53 L132.1 1131.52 L132.9 1132.48 L133.7 1132.56 L134.5 1133.69 L135.3 1133.87 L136.1 1131.41 L136.9 1132.14 L137.7 1133.83 L138.5 1133.9 L139.3 1132.79 L140.1 1134.37 L140.9 1132.1 L141.7 1132.56 L142.5 1132.12 L143.3 1132.02 L144.1 1132.15 L144.9 1131.22 L145.7 1130.98 L146.5 1133.9 L147.3 1133.44 L148.1 1133.83 L148.9 1132.22 L149.7 1133.57 L150.5 1133.92 L151.3 1131.59 L152.1 1132.73 L152.9 1133.66 L153.7 1133.83 L154.5 1131.69 L155.3 1131.23 L156.1 1130.44 L156.9 1133.12 L157.7 1134.34 L158.5 1133.9 L159.3 1131.34 L160.1 1132.1 L160.9 1131.55 L161.7 1131.35 L162.5 1132.62 L163.3 1134.35 L164.1 1131.53 L164.9 1132.94 L165.7 1131.55 L166.5 1133.52 L167.3 1133.58 L168.1 1133.94 L168.9 1133.59 L169.7 1133.89 L170.5 1134.44 L171.3 1131.44 L172.1 1133.28 L172.9 1131.39 L173.7 1132.7 L174.5 1133.11 L175.3 1133.21 L176.1 1133.52 L176.9 1131.81 L177.7 1134.1 L178.5 1133.38 L179.3 1132.75 L180.1 1131.46 L180.9 1134.14 L181.7 1130.3 L182.5 1131.75 L183.3 1131.57 L184.1 1131.75 L184.9 1132.25 L185.7 1131.75 L186.5 1132.71 L187.3 1132.29 L188.1 1133.69 L188.9 1134.3 L189.7 1131.57 L190.5 1133.65 L191.3 1134.38 L192.1 1132.17 L192.9 1132.11 L193.7 1133.18 L194.5 1134.03 L195.3 1133.86 L196.1 1131.98 L196.9 1131.24 L197.7 1131.44 L198.5 1131.81 L199.3 1133.7 L200.1 1132.53 L200.9 1131.38 L201.7 1132.01 L202.5 1131.64 L203.3 1133.01 L204.1 1132.74 L204.9 1133.76 L205.7 1132.77 L206.5 1132.02 L207.3 1131.85 L208.1 1131.38 L208.9 1132.26 L209.7 1131.69 L210.5 1134.43 L211.3 1131.25 L212.1 1133.41 L212.9 1133.37 L213.7 1131.84 L214.5 1131.88 L215.3 1131.79 L216.1 1131.51 L216.9 1133.52 L217.7 1131.46 L218.5 1132.16 L219.3 1132.22 L220.1 1134.12 L220.9 1134.2 L221.7 1131.42 L222.5 1134.11 L223.3 1134 L224.1 1132.68 L224.9 1132.19 L225.7 1133.65 L226.5 1132.18 L227.3 1131.79 L228.1 1133.78 L228.9 1133.57 L229.7 1132.94 L230.5 1132.18 L231.3 1131.54 L232.1 1132.81 L232.9 1131.58 L233.7 1133.34 L234.5 1131.8 L235.3 1130.34 L236.1 1132.74 L236.9 1132.31 L237.7 1133.6 L238.5 1133.13 L239.3 1130.79 L240.1 1133.78 L240.9 1131.91 L241.7 1131.84 L242.5 1133.77 L243.3 1131.3 L244.1 1131.99 L244.9 1132.48 L245.7 1131.45 L246.5 1131.75 L247.3 1131.29 L248.1 1134.21 L248.9 1131.79 L249.7 1131.54 L250.5 1133.53 L251.3 1131.68 L252.1 1131.91 L252.9 1132.76 L253.7 1132.9 L254.5 1131.4 L255.3 1133.31 L256.1 1133.2 L256.9 1134.18 L257.7 1133.72 L258.5 1131.34 L259.3 1131.89 L260.1 1131.92 L260.9 1133.47 L261.7 1133.51 L262.5 1132.92 L263.3 1134.2 L264.1 1132.23 L264.9 1132.65 L265.7 1134.35 L266.5 1133.17 L267.3 1133.86 L268.1 1132.65 L268.9 1133.36 L269.7 1132.48 L270.5 1132.09 L271.3 1134.32 L272.1 1134.18 L272.9 1131.84 L273.7 1133.11 L274.5 1131.42 L275.3 1132.22 L276.1 1133.89 L276.9 1133.75 L277.7 1132.67 L278.5 1130.13 L279.3 1132.79 L280.1 1134.11 L280.9 1131.26 L281.7 1133.38 L282.5 1134.38 L283.3 1133.2 L284.1 1131.29 L284.9 1132.91 L285.7 1134.12 L286.5 1134.22 L287.3 1133 L288.1 1132.51 L288.9 1132.37 L289.7 1132.94 L290.5 1131.34 L291.3 1133.05 L292.1 1132.95 L292.9 1134.2 L293.7 1133.96 L294.5 1133.74 L295.3 1132.06 L296.1 1132.93 L296.9 1132.96 L297.7 1133.48 L298.5 1129.8 L299.3 1132.98 L300.1 1132.73 L300.9 1129.51 L301.7 1131.73 L302.5 1131.33 L303.3 1132.06 L304.1 1132.85 L304.9 1132.03 L305.7 1131.03 L306.5 1133.59 L307.3 1134.07 L308.1 1133.79 L308.9 1132.31 L309.7 1131.4 L310.5 1132.52 L311.3 1131.64 L312.1 1133.91 L312.9 1133.29 L313.7 1133.72 L314.5 1132.51 L315.3 1134.33 L316.1 1131.54 L316.9 1132.5 L317.7 1132.76 L318.5 1131.49 L319.3 1129.47 L320.1 1132.44 L320.9 1132.47 L321.7 1133.75 L322.5 1131.57 L323.3 1133.28 L324.1 1130.58 L324.9 1132 L325.7 1132.64 L326.5 1133.35 L327.3 1131.22 L328.1 1133.26 L328.9 1133.35 L329.7 1131.81 L330.5 1132.08 L331.3 1133.14 L332.1 1130.64 L332.9 1132.99 L333.7 1131.63 L334.5 1131.79 L335.3 1131.82 L336.1 1133.54 L336.9 1132.58 L337.7 1132.84 L338.5 1132.92 L339.3 1132.37 L340.1 1132.35 L340.9 1133.6 L341.7 1132.63 L342.5 1133.15 L343.3 1131.78 L344.1 1133.12 L344.9 1131.27 L345.7 1132.62 L346.5 1133.87 L347.3 1131.23 L348.1 1134.07 L348.9 1133.05 L349.7 1131.34 L350.5 1131.36 L351.3 1132.67 L352.1 1131.64 L352.9 1131.44 L353.7 1133.9 L354.5 1133.22 L355.3 1133.68 L356.1 1131.25 L356.9 1134.09 L357.7 1131.81 L358.5 1132.08 L359.3 1131.4 L360.1 1133.06 L360.9 1132.09 L361.7 1131.49 L362.5 1132.03 L363.3 1131.82 L364.1 1132.8 L364.9 1133.56 L365.7 1132.02 L366.5 1132.57 L367.3 1133.86 L368.1 1131.31 L368.9 1133.95 L369.7 1132.64 L370.5 1134.1 L371.3 1132.08 L372.1 1134.37 L372.9 1132.9 L373.7 1131.46 L374.5 1132.3 L375.3 1131.73 L376.1 1132.31 L376.9 1133.16 L377.7 1133.68 L378.5 1131.81 L379.3 1133.54 L380.1 1132.58 L380.9 1134.41 L381.7 1132.53 L382.5 1134.26 L383.3 1131.91 L384.1 1132.58 L384.9 1134.14 L385.7 1134.43 L386.5 1132.11 L387.3 1133.54 L388.1 1131.32 L388.9 1131.78 L389.7 1131.88 L390.5 1132.82 L391.3 1131.89 L392.1 1132.73 L392.9 1132.86 L393.7 1131.23 L394.5 1134.41 L395.3 1132.73 L396.1 1131.53 L396.9 1132.37 L397.7 1131.32 L398.5 1134.19 L399.3 1131.4 L400.1 1131.79 L400.9 1133.39 L401.7 1132.43 L402.5 1131.9 L403.3 1132.39 L404.1 1133.34 L404.9 1133.14 L405.7 1133.53 L406.5 1133.41 L407.3 1131.46 L408.1 1134.44 L408.9 1132.3 L409.7 1131.38 L410.5 1132.83 L411.3 1131.26 L412.1 1131.96 L412.9 1131.93 L413.7 1132.09 L414.5 1134.31 L415.3 1130.81 L416.1 1134.23 L416.9 1131.67 L417.7 1132.69 L418.5 1132.11 L419.3 1134.05 L420.1 1131.47 L420.9 1131.93 L421.7 1132.68 L422.5 1132.19 L423.3 1132.74 L424.1 1131.43 L424.9 1132.68 L425.7 1132.99 L426.5 1132.07 L427.3 1132.2 L428.1 1131.69 L428.9 1132.31 L429.7 1131.8 L430.5 1132.18 L431.3 1133.13 L432.1 1134.08 L432.9 1131.01 L433.7 1132.01 L434.5 1132.13 L435.3 1134.35 L436.1 1132.89 L436.9 1133.11 L437.7 1132.55 L438.5 1131.78 L439.3 1131 L440.1 1132.93 L440.9 1134.33 L441.7 1133.6 L442.5 1134.24 L443.3 1131.85 L444.1 1133.13 L444.9 1132.45 L445.7 1132.98 L446.5 1132.62 L447.3 1133.09 L448.1 1133.84 L448.9 1133.72 L449.7 1132.06 L450.5 1132.41 L451.3 1133.93 L452.1 1131.68 L452.9 1131.44 L453.7 1134.38 L454.5 1132.01 L455.3 1131.37 L456.1 1132.54 L456.9 1131.49 L457.7 1134.37 L458.5 1132.64 L459.3 1134.08 L460.1 1131.79 L460.9 1133.95 L461.7 1131.57 L462.5 1133.08 L463.3 1134.16 L464.1 1131.92 L464.9 1131.36 L465.7 1131.77 L466.5 1131.74 L467.3 1134.16 L468.1 1134.41 L468.9 1132.4 L469.7 1133.06 L470.5 1131.3 L471.3 1133.97 L472.1 1134.33 L472.9 1132.12 L473.7 1134.44 L474.5 1131.92 L475.3 1134.09 L476.1 1134.04 L476.9 1131.91 L477.7 1133.79 L478.5 1132.43 L479.3 1133.47 L480.1 1132.59 L480.9 1134.18 L481.7 1133.9 L482.5 1134.22 L483.3 1131.96 L484.1 1132.48 L484.9 1132.93 L485.7 1132.62 L486.5 1131.58 L487.3 1131.46 L488.1 1131.47 L488.9 1131.94 L489.7 1132.09 L490.5 1133.28 L491.3 1132.88 L492.1 1132.26 L492.9 1134.28 L493.7 1133.38 L494.5 1132.09 L495.3 1132.26 L496.1 1134.29 L496.9 1132.39 L497.7 1132.43 L498.5 1132.13 L499.3 1134.26 L500.1 1132.04 L500.9 1133.96 L501.7 1133.58 L502.5 1131.99 L503.3 1132.49 L504.1 1129.28 L504.9 1132.81 L505.7 1132.26 L506.5 1134.13 L507.3 1133.31 L508.1 1133.92 L508.9 1133.4 L509.7 1132.07 L510.5 1131.95 L511.3 1133.64 L512.1 1134.07 L512.9 1132.7 L513.7 1132.32 L514.5 1131.44 L515.3 1132.1 L516.1 1131.57 L516.9 1129.63 L517.7 1133.31 L518.5 1132.12 L519.3 1132.84 L520.1 1132.45 L520.9 1132.25 L521.7 1131.37 L522.5 1132.34 L523.3 1131.84 L524.1 1133.84 L524.9 1132.02 L525.7 1132.6 L526.5 1133.02 L527.3 1134.27 L528.1 1132.93 L528.9 1133.54 L529.7 1131.6 L530.5 1131.92 L531.3 1129.96 L532.1 1131.9 L532.9 1132.89 L533.7 1133.88 L534.5 1133.51 L535.3 1133.54 L536.1 1131.87 L536.9 1132.14 L537.7 1133.38 L538.5 1129.22 L539.3 1131.65 L540.1 1134.42 L540.9 1134.1 L541.7 1131.93 L542.5 1132.84 L543.3 1134.4 L544.1 1130.62 L544.9 1132.08 L545.7 1133.48 L546.5 1133.05 L547.3 1132.3 L548.1 1131.5 L548.9 1133.62 L549.7 1132.11 L550.5 1134.2 L551.3 1132.57 L552.1 1129.86 L552.9 1132.68 L553.7 1131.72 L554.5 1133.87 L555.3 1133.47 L556.1 1133.13 L556.9 1133.26 L557.7 1134.14 L558.5 1132.03 L559.3 1132.13 L560.1 1133.83 L560.9 1133.2 L561.7 1131.26 L562.5 1131.54 L563.3 1132.55 L564.1 1132.19 L564.9 1132.38 L565.7 1133.03 L566.5 1132.07 L567.3 1134.12 L568.1 1132.87 L568.9 1133.48 L569.7 1132.42 L570.5 1133.97 L571.3 1131.47 L572.1 1132.63 L572.9 1134.1 L573.7 1132.53 L574.5 1133.44 L575.3 1132.12 L576.1 1131.63 L576.9 1132.27 L577.7 1131.88 L578.5 1131.91 L579.3 1132.03 L580.1 1133.75 L580.9 1132.75 L581.7 1132.18 L582.5 1131.74 L583.3 1132.94 L584.1 1132.3 L584.9 1132.93 L585.7 1131.67 L586.5 1133.68 L587.3 1132.99 L588.1 1131.89 L588.9 1134.44 L589.7 1131.76 L590.5 1131.96 L591.3 1134.02 L592.1 1131.98 L592.9 1131.79 L593.7 1132.14 L594.5 1131.47 L595.3 1133.99 L596.1 1132.99 L596.9 1132.25 L597.7 1133.05 L598.5 1133.63 L599.3 1132.17 L600.1 1132.62 L600.9 1133.23 L601.7 1131.28 L602.5 1131.26 L603.3 1132.35 L604.1 1132.23 L604.9 1132.36 L605.7 1131.31 L606.5 1132.39 L607.3 1131.39 L608.1 1132.36 L608.9 1134.3 L609.7 1131.61 L610.5 1132.36 L611.3 1132.56 L612.1 1133.74 L612.9 1133.01 L613.7 1131.99 L614.5 1131.56 L615.3 1132.69 L616.1 1133.69 L616.9 1133.28 L617.7 1132.76 L618.5 1134.11 L619.3 1132.34 L620.1 1129.2 L620.9 1133 L621.7 1130.92 L622.5 1133.36 L623.3 1131.78 L624.1 1132.05 L624.9 1131.66 L625.7 1131.25 L626.5 1131.85 L627.3 1132.2 L628.1 1133.79 L628.9 1132.82 L629.7 1132.08 L630.5 1132.13 L631.3 1132.12 L632.1 1133.85 L632.9 1131.62 L633.7 1134.12 L634.5 1131.58 L635.3 1131.82 L636.1 1132.07 L636.9 1133.89 L637.7 1132.57 L638.5 1134.3 L639.3 1133.45 L640.1 1131.99 L640.9 1131.65 L641.7 1133.99 L642.5 1133.89 L643.3 1133.78 L644.1 1132.8 L644.9 1133 L645.7 1134.35 L646.5 1133.85 L647.3 1131.28 L648.1 1131.38 L648.9 1134.39 L649.7 1134.09 L650.5 1132.07 L651.3 1134.34 L652.1 1133.02 L652.9 1134.13 L653.7 1132.83 L654.5 1133.3 L655.3 1133.62 L656.1 1131.36 L656.9 1133.82 L657.7 1132.24 L658.5 1133.51 L659.3 1131.65 L660.1 1131.81 L660.9 1132.67 L661.7 1132.25 L662.5 1134.46 L663.3 1133.46 L664.1 1134.37 L664.9 1132.65 L665.7 1132.23 L666.5 1133.7 L667.3 1131.94 L668.1 1132.71 L668.9 1132.89 L669.7 1131.54 L670.5 1131.78 L671.3 1133.59 L672.1 1131.4 L672.9 1132.3 L673.7 1132.87 L674.5 1132.56 L675.3 1134.44 L676.1 1133.7 L676.9 1131.71 L677.7 1132.8 L678.5 1132.64 L679.3 1133.63 L680.1 1132.6 L680.9 1133.57 L681.7 1133.84 L682.5 1132.32 L683.3 1132.59 L684.1 1132.79 L684.9 1131.31 L685.7 1132.22 L686.5 1134.11 L687.3 1132.62 L688.1 1133.06 L688.9 1133.33 L689.7 1133.68 L690.5 1133.83 L691.3 1131.86 L692.1 1131.42 L692.9 1133.54 L693.7 1132.25 L694.5 1131.65 L695.3 1133.63 L696.1 1131.45 L696.9 1129.87 L697.7 1131.87 L698.5 1134.43 L699.3 1131.9 L700.1 1132.42 L700.9 1134.34 L701.7 1132.83 L702.5 1131.74 L703.3 1131.49 L704.1 1131.75 L704.9 1133.11 L705.7 1131.88 L706.5 1131.89 L707.3 1131.55 L708.1 1132.28 L708.9 1132.25 L709.7 1134.27 L710.5 1131.51 L711.3 1133.94 L712.1 1132.12 L712.9 1133.07 L713.7 1132.03 L714.5 1131.6 L715.3 1134.45 L716.1 1132.72 L716.9 1133.82 L717.7 1134.34 L718.5 1132.22 L719.3 1131.84 L720.1 1131.94 L720.9 1131.18 L721.7 1133.29 L722.5 1133.79 L723.3 1132.37 L724.1 1132.15 L724.9 1133.06 L725.7 1133 L726.5 1131.77 L727.3 1131.65 L728.1 1133.57 L728.9 1131.52 L729.7 1132.87 L730.5 1133.79 L731.3 1133.64 L732.1 1134.1 L732.9 1132.17 L733.7 1131.32 L734.5 1132.35 L735.3 1132.62 L736.1 1131.55 L736.9 1131.6 L737.7 1134.06 L738.5 1133.7 L739.3 1133.89 L740.1 1132.89 L740.9 1133.6 L741.7 1133.66 L742.5 1133.3 L743.3 1131.32 L744.1 1131.34 L744.9 1131.73 L745.7 1132.99 L746.5 1131.72 L747.3 1132.88 L748.1 1131.92 L748.9 1131.58 L749.7 1132.94 L750.5 1134 L751.3 1133.34 L752.1 1131.84 L752.9 1132.53 L753.7 1132.69 L754.5 1131.83 L755.3 1131.49 L756.1 1134.09 L756.9 1134.36 L757.7 1133.63 L758.5 1133.85 L759.3 1133.35 L760.1 1131.28 L760.9 1133.37 L761.7 1132.86 L762.5 1134.39 L763.3 1132.85 L764.1 1134.41 L764.9 1134.32 L765.7 1133.11 L766.5 1133.75 L767.3 1132.09 L768.1 1133.98 L768.9 1133.57 L769.7 1131.59 L770.5 1133.5 L771.3 1131.87 L772.1 1131.58 L772.9 1133.93 L773.7 1133.24 L774.5 1130.86 L775.3 1133.52 L776.1 1133.45 L776.9 1134.37 L777.7 1132.35 L778.5 1132.67 L779.3 1132.26 L780.1 1134.01 L780.9 1133.2 L781.7 1131.85 L782.5 1133.47 L783.3 1132.39 L784.1 1131.26 L784.9 1133.36 L785.7 1133.94 L786.5 1131.55 L787.3 1134.37 L788.1 1133.84 L788.9 1130.38 L789.7 1132.48 L790.5 1130.72 L791.3 1131.66 L792.1 1131.74 L792.9 1132.8 L793.7 1133.18 L794.5 1133.06 L795.3 1134.2 L796.1 1131.85 L796.9 1134.26 L797.7 1132.84 L798.5 1134.42 L799.3 1132.38 L800.1 1133.02 L800.9 1133.35 L801.7 1134.2 L802.5 1133.62 L803.3 1131.8 L804.1 1132.37 L804.9 1132.96 L805.7 1130.6 L806.5 1133.84 L807.3 1132.98 L808.1 1134.4 L808.9 1130.13 L809.7 1131.65 L810.5 1132.8 L811.3 1132.87 L812.1 1132.06 L812.9 1133.57 L813.7 1131.74 L814.5 1133.38 L815.3 1131.62 L816.1 1131.07 L816.9 1132.41 L817.7 1132.53 L818.5 1133.2 L819.3 1134.39 L820.1 1133.33 L820.9 1133.05 L820.9 1308.94 L820.1 1309.17 L819.3 1311.85 L818.5 1309.38 L817.7 1310.27 L816.9 1310.74 L816.1 1309.55 L815.3 1309.15 L814.5 1311.44 L813.7 1311.68 L812.9 1310.7 L812.1 1311.16 L811.3 1310.07 L810.5 1310.53 L809.7 1311.69 L808.9 1311.9 L808.1 1309.46 L807.3 1309.48 L806.5 1310.63 L805.7 1310.33 L804.9 1310.71 L804.1 1311.38 L803.3 1311.48 L802.5 1309.66 L801.7 1310.07 L800.9 1308.77 L800.1 1310.04 L799.3 1310.4 L798.5 1311.86 L797.7 1310.52 L796.9 1309.63 L796.1 1310.4 L795.3 1310.18 L794.5 1312.31 L793.7 1310.95 L792.9 1310.17 L792.1 1308.93 L791.3 1309.59 L790.5 1311.09 L789.7 1308.88 L788.9 1311.74 L788.1 1308.79 L787.3 1312.03 L786.5 1310.5 L785.7 1309.12 L784.9 1310.2 L784.1 1310.34 L783.3 1310.92 L782.5 1310.35 L781.7 1311.36 L780.9 1311.36 L780.1 1311.83 L779.3 1308.81 L778.5 1309.97 L777.7 1309.25 L776.9 1310.77 L776.1 1310.07 L775.3 1311.07 L774.5 1310.75 L773.7 1309.86 L772.9 1310.98 L772.1 1310.68 L771.3 1311.73 L770.5 1309.71 L769.7 1308.85 L768.9 1309.85 L768.1 1312.17 L767.3 1310.48 L766.5 1308.84 L765.7 1309.61 L764.9 1309.99 L764.1 1310.2 L763.3 1308.8 L762.5 1313.11 L761.7 1311.35 L760.9 1311.59 L760.1 1308.94 L759.3 1308.93 L758.5 1310.98 L757.7 1311.16 L756.9 1311.08 L756.1 1311.93 L755.3 1311.73 L754.5 1309.3 L753.7 1309.78 L752.9 1309.74 L752.1 1310.24 L751.3 1308.91 L750.5 1313.07 L749.7 1309.07 L748.9 1311.98 L748.1 1311.86 L747.3 1311.68 L746.5 1311.51 L745.7 1311.79 L744.9 1311.41 L744.1 1309.96 L743.3 1311.74 L742.5 1311.85 L741.7 1311.8 L740.9 1311.11 L740.1 1311.25 L739.3 1311.65 L738.5 1309.72 L737.7 1308.77 L736.9 1310.42 L736.1 1309.75 L735.3 1311.43 L734.5 1309.49 L733.7 1310.52 L732.9 1310.08 L732.1 1310.76 L731.3 1310.22 L730.5 1309.97 L729.7 1309.84 L728.9 1308.87 L728.1 1310.13 L727.3 1311.83 L726.5 1311.15 L725.7 1311.83 L724.9 1310.02 L724.1 1313.4 L723.3 1309.8 L722.5 1309.05 L721.7 1310.92 L720.9 1308.78 L720.1 1311.22 L719.3 1310.19 L718.5 1310.54 L717.7 1310.78 L716.9 1310.73 L716.1 1311.58 L715.3 1310.74 L714.5 1311.63 L713.7 1310.29 L712.9 1311.15 L712.1 1311.19 L711.3 1311.36 L710.5 1309.53 L709.7 1310.56 L708.9 1310.42 L708.1 1308.78 L707.3 1311.76 L706.5 1308.99 L705.7 1309.96 L704.9 1311.63 L704.1 1311.84 L703.3 1310.08 L702.5 1310.52 L701.7 1311.76 L700.9 1311.25 L700.1 1311.19 L699.3 1311.8 L698.5 1311.94 L697.7 1311.9 L696.9 1309.84 L696.1 1312.38 L695.3 1310.53 L694.5 1310.86 L693.7 1309.81 L692.9 1309.96 L692.1 1309.56 L691.3 1309.98 L690.5 1308.99 L689.7 1309.7 L688.9 1310.8 L688.1 1309.17 L687.3 1310.07 L686.5 1311.65 L685.7 1310.77 L684.9 1310.61 L684.1 1312.64 L683.3 1310.15 L682.5 1311.55 L681.7 1310.31 L680.9 1309.23 L680.1 1311.49 L679.3 1309.04 L678.5 1311.44 L677.7 1309.05 L676.9 1311.77 L676.1 1309.03 L675.3 1310.57 L674.5 1310.98 L673.7 1308.74 L672.9 1310.27 L672.1 1309.36 L671.3 1310.68 L670.5 1311.28 L669.7 1308.74 L668.9 1311.24 L668.1 1310.07 L667.3 1310.33 L666.5 1309.53 L665.7 1309.73 L664.9 1313.08 L664.1 1309.83 L663.3 1311.01 L662.5 1310.02 L661.7 1310.71 L660.9 1309.51 L660.1 1308.88 L659.3 1310.47 L658.5 1311.76 L657.7 1310.15 L656.9 1311.46 L656.1 1310.73 L655.3 1310.78 L654.5 1310.18 L653.7 1309.79 L652.9 1311.37 L652.1 1311.68 L651.3 1310.05 L650.5 1310.12 L649.7 1309.5 L648.9 1311.7 L648.1 1310.66 L647.3 1310.12 L646.5 1310.44 L645.7 1311.39 L644.9 1309.91 L644.1 1311.6 L643.3 1310.1 L642.5 1311.38 L641.7 1311.72 L640.9 1311.79 L640.1 1309.01 L639.3 1311.98 L638.5 1311.54 L637.7 1309.66 L636.9 1309.68 L636.1 1310.31 L635.3 1311.87 L634.5 1311.87 L633.7 1311.71 L632.9 1310.01 L632.1 1310.19 L631.3 1310.42 L630.5 1311.24 L629.7 1311.87 L628.9 1308.82 L628.1 1310.8 L627.3 1309.18 L626.5 1311.1 L625.7 1310.45 L624.9 1310.48 L624.1 1310.7 L623.3 1310.47 L622.5 1309.27 L621.7 1310.47 L620.9 1309.74 L620.1 1309.59 L619.3 1310.5 L618.5 1309.32 L617.7 1311.08 L616.9 1310.85 L616.1 1311.65 L615.3 1311.78 L614.5 1310.37 L613.7 1311.4 L612.9 1311.64 L612.1 1310.16 L611.3 1308.89 L610.5 1309.11 L609.7 1311.98 L608.9 1311.64 L608.1 1311.89 L607.3 1312.77 L606.5 1309.03 L605.7 1310.08 L604.9 1311.28 L604.1 1309.21 L603.3 1309.91 L602.5 1309.56 L601.7 1311.79 L600.9 1310.42 L600.1 1308.88 L599.3 1309.38 L598.5 1310.53 L597.7 1311.72 L596.9 1311.88 L596.1 1310.81 L595.3 1309.86 L594.5 1310.65 L593.7 1310.66 L592.9 1312.74 L592.1 1309.48 L591.3 1309.63 L590.5 1310.04 L589.7 1309.8 L588.9 1310.27 L588.1 1311.02 L587.3 1309.55 L586.5 1309.42 L585.7 1308.86 L584.9 1311.18 L584.1 1311.76 L583.3 1310.3 L582.5 1310.6 L581.7 1310.75 L580.9 1309.1 L580.1 1309.04 L579.3 1310.78 L578.5 1308.86 L577.7 1311.12 L576.9 1311.35 L576.1 1311.95 L575.3 1310.97 L574.5 1311.84 L573.7 1311.03 L572.9 1309.72 L572.1 1310.87 L571.3 1309.58 L570.5 1310.39 L569.7 1309.79 L568.9 1309.48 L568.1 1309.07 L567.3 1310.02 L566.5 1311.12 L565.7 1310.99 L564.9 1311.25 L564.1 1310.15 L563.3 1311.85 L562.5 1311.21 L561.7 1309.12 L560.9 1310.15 L560.1 1311.54 L559.3 1312.27 L558.5 1309.93 L557.7 1310.61 L556.9 1311.08 L556.1 1309.18 L555.3 1311.7 L554.5 1310.8 L553.7 1311.43 L552.9 1308.95 L552.1 1311.19 L551.3 1310.72 L550.5 1310.9 L549.7 1309.08 L548.9 1309.67 L548.1 1311.44 L547.3 1309.39 L546.5 1311.83 L545.7 1311.03 L544.9 1310.03 L544.1 1309.44 L543.3 1308.8 L542.5 1309.03 L541.7 1310.56 L540.9 1308.91 L540.1 1311.71 L539.3 1312.31 L538.5 1311.86 L537.7 1310.38 L536.9 1310.47 L536.1 1310.46 L535.3 1308.77 L534.5 1309.09 L533.7 1310.63 L532.9 1311.55 L532.1 1310.28 L531.3 1311.98 L530.5 1311.02 L529.7 1311.31 L528.9 1308.9 L528.1 1309.34 L527.3 1309.64 L526.5 1310.6 L525.7 1311.86 L524.9 1311.85 L524.1 1308.81 L523.3 1310.08 L522.5 1309.75 L521.7 1309.08 L520.9 1310.39 L520.1 1309.5 L519.3 1310.3 L518.5 1310.95 L517.7 1310.15 L516.9 1310.81 L516.1 1309.09 L515.3 1310.48 L514.5 1311.55 L513.7 1310.97 L512.9 1311.81 L512.1 1310.04 L511.3 1313.34 L510.5 1308.83 L509.7 1311.4 L508.9 1310.93 L508.1 1309.27 L507.3 1311.22 L506.5 1311.75 L505.7 1312.43 L504.9 1310.15 L504.1 1311.81 L503.3 1309.27 L502.5 1311.11 L501.7 1310.85 L500.9 1311.76 L500.1 1310.35 L499.3 1311.04 L498.5 1310.8 L497.7 1310.05 L496.9 1309.21 L496.1 1309.37 L495.3 1311.39 L494.5 1310.91 L493.7 1311.13 L492.9 1311.64 L492.1 1309.06 L491.3 1312.99 L490.5 1310.55 L489.7 1310.15 L488.9 1309.27 L488.1 1309.48 L487.3 1311.13 L486.5 1311.81 L485.7 1311.74 L484.9 1312.76 L484.1 1311.77 L483.3 1308.8 L482.5 1309.91 L481.7 1310.81 L480.9 1311.88 L480.1 1309.84 L479.3 1311.25 L478.5 1308.74 L477.7 1309.08 L476.9 1309.97 L476.1 1310.89 L475.3 1311.9 L474.5 1309.79 L473.7 1313.55 L472.9 1311.54 L472.1 1311 L471.3 1308.76 L470.5 1309.98 L469.7 1310.54 L468.9 1310.23 L468.1 1311.03 L467.3 1310.52 L466.5 1310.76 L465.7 1309.44 L464.9 1311.49 L464.1 1309.94 L463.3 1309.52 L462.5 1311.83 L461.7 1310.04 L460.9 1311.46 L460.1 1312.48 L459.3 1311.98 L458.5 1311.52 L457.7 1310.54 L456.9 1309.41 L456.1 1311.26 L455.3 1309.14 L454.5 1311.09 L453.7 1309.65 L452.9 1309.31 L452.1 1311.55 L451.3 1309.64 L450.5 1311.82 L449.7 1309.13 L448.9 1311.59 L448.1 1311.78 L447.3 1308.76 L446.5 1309.09 L445.7 1309.53 L444.9 1310.73 L444.1 1311.55 L443.3 1311.1 L442.5 1310.47 L441.7 1311.81 L440.9 1308.93 L440.1 1310.96 L439.3 1310.7 L438.5 1308.94 L437.7 1310.23 L436.9 1309.63 L436.1 1310.69 L435.3 1311.3 L434.5 1311.97 L433.7 1310.41 L432.9 1311.51 L432.1 1310.88 L431.3 1309.08 L430.5 1309.84 L429.7 1310.63 L428.9 1309.75 L428.1 1310.65 L427.3 1311.52 L426.5 1311.85 L425.7 1310.57 L424.9 1310.91 L424.1 1311.3 L423.3 1310.3 L422.5 1309.62 L421.7 1310.73 L420.9 1309.39 L420.1 1311.04 L419.3 1309.48 L418.5 1310.31 L417.7 1310.85 L416.9 1310.19 L416.1 1309.36 L415.3 1309.44 L414.5 1309.21 L413.7 1311.57 L412.9 1308.84 L412.1 1309.42 L411.3 1311.49 L410.5 1309.16 L409.7 1309.02 L408.9 1310.06 L408.1 1311.02 L407.3 1310.22 L406.5 1309.95 L405.7 1310.42 L404.9 1311.94 L404.1 1310.22 L403.3 1309.36 L402.5 1311.34 L401.7 1311.51 L400.9 1309.58 L400.1 1310.64 L399.3 1310.79 L398.5 1309.97 L397.7 1309.23 L396.9 1311.5 L396.1 1310.71 L395.3 1309.1 L394.5 1310.39 L393.7 1311.36 L392.9 1311.93 L392.1 1313.28 L391.3 1309.72 L390.5 1310.72 L389.7 1310.99 L388.9 1311.79 L388.1 1309.1 L387.3 1311.31 L386.5 1308.78 L385.7 1311.71 L384.9 1311.27 L384.1 1308.88 L383.3 1309.01 L382.5 1310.64 L381.7 1310.1 L380.9 1309.84 L380.1 1310.5 L379.3 1311.83 L378.5 1309.81 L377.7 1309.84 L376.9 1308.97 L376.1 1309.03 L375.3 1309.7 L374.5 1311.44 L373.7 1310.44 L372.9 1309 L372.1 1310.44 L371.3 1309.2 L370.5 1310.58 L369.7 1310.72 L368.9 1311.43 L368.1 1311.28 L367.3 1311.98 L366.5 1310.88 L365.7 1309.93 L364.9 1309.43 L364.1 1309.21 L363.3 1310.1 L362.5 1310.01 L361.7 1309.05 L360.9 1308.78 L360.1 1311.47 L359.3 1309.54 L358.5 1311.86 L357.7 1310.62 L356.9 1308.86 L356.1 1309.27 L355.3 1310.81 L354.5 1308.78 L353.7 1310.95 L352.9 1308.81 L352.1 1311.59 L351.3 1310.9 L350.5 1310.36 L349.7 1311.43 L348.9 1309.88 L348.1 1310.98 L347.3 1309.81 L346.5 1309.62 L345.7 1309.88 L344.9 1310.73 L344.1 1310.85 L343.3 1310 L342.5 1309.25 L341.7 1311.02 L340.9 1309.46 L340.1 1310.42 L339.3 1311.93 L338.5 1310.51 L337.7 1309.07 L336.9 1309.46 L336.1 1309.68 L335.3 1309.43 L334.5 1310.64 L333.7 1309.84 L332.9 1311.48 L332.1 1309.22 L331.3 1310.21 L330.5 1309.72 L329.7 1308.8 L328.9 1309.68 L328.1 1311.72 L327.3 1310.3 L326.5 1309.14 L325.7 1309.06 L324.9 1310.8 L324.1 1311.32 L323.3 1311.39 L322.5 1311.05 L321.7 1309.96 L320.9 1310.06 L320.1 1310.86 L319.3 1310.34 L318.5 1309.09 L317.7 1310.23 L316.9 1309.39 L316.1 1310.86 L315.3 1309.89 L314.5 1311.26 L313.7 1309.01 L312.9 1308.76 L312.1 1311.05 L311.3 1311.73 L310.5 1310.97 L309.7 1311.52 L308.9 1310.44 L308.1 1310.19 L307.3 1308.75 L306.5 1309.86 L305.7 1310.47 L304.9 1310.86 L304.1 1309.84 L303.3 1311.59 L302.5 1310.24 L301.7 1308.75 L300.9 1310.32 L300.1 1311.72 L299.3 1310.01 L298.5 1310 L297.7 1310.71 L296.9 1309.55 L296.1 1311.39 L295.3 1310.77 L294.5 1311.18 L293.7 1309.51 L292.9 1310.63 L292.1 1310.67 L291.3 1309.09 L290.5 1313.52 L289.7 1309.6 L288.9 1309.73 L288.1 1309.8 L287.3 1311.97 L286.5 1309.71 L285.7 1310.12 L284.9 1311.44 L284.1 1310.83 L283.3 1310.12 L282.5 1310.01 L281.7 1311.49 L280.9 1309.42 L280.1 1308.86 L279.3 1310.62 L278.5 1309.63 L277.7 1311.26 L276.9 1309.97 L276.1 1310.25 L275.3 1310.48 L274.5 1310.35 L273.7 1309.48 L272.9 1309.46 L272.1 1310.45 L271.3 1309.22 L270.5 1311.22 L269.7 1310.49 L268.9 1309.27 L268.1 1311.85 L267.3 1310.37 L266.5 1309.79 L265.7 1311.81 L264.9 1309.83 L264.1 1310.18 L263.3 1309.97 L262.5 1311.17 L261.7 1313.22 L260.9 1311.94 L260.1 1311.84 L259.3 1310.09 L258.5 1310.17 L257.7 1308.81 L256.9 1308.91 L256.1 1313.92 L255.3 1310.57 L254.5 1309.96 L253.7 1309.55 L252.9 1311.15 L252.1 1309.8 L251.3 1309.82 L250.5 1310.81 L249.7 1311.77 L248.9 1309.41 L248.1 1309.45 L247.3 1310.23 L246.5 1310.69 L245.7 1310.04 L244.9 1311.58 L244.1 1309.24 L243.3 1311.73 L242.5 1311.28 L241.7 1309.11 L240.9 1311.76 L240.1 1310.79 L239.3 1311.4 L238.5 1310.07 L237.7 1310.45 L236.9 1310.47 L236.1 1309.51 L235.3 1311.82 L234.5 1309.17 L233.7 1311.33 L232.9 1311.82 L232.1 1311.59 L231.3 1309.88 L230.5 1309.71 L229.7 1310.01 L228.9 1309.33 L228.1 1310.63 L227.3 1308.87 L226.5 1310.87 L225.7 1309.93 L224.9 1311.14 L224.1 1309.23 L223.3 1311.65 L222.5 1309.1 L221.7 1310.89 L220.9 1311.69 L220.1 1308.95 L219.3 1310.04 L218.5 1311.45 L217.7 1311.29 L216.9 1311.4 L216.1 1311.27 L215.3 1311.94 L214.5 1311.19 L213.7 1311.58 L212.9 1310.91 L212.1 1311.61 L211.3 1310.97 L210.5 1308.78 L209.7 1310.72 L208.9 1311.19 L208.1 1309.09 L207.3 1311.25 L206.5 1309.82 L205.7 1308.84 L204.9 1310.82 L204.1 1309.61 L203.3 1311.83 L202.5 1311.2 L201.7 1310.81 L200.9 1311.01 L200.1 1310.43 L199.3 1309.9 L198.5 1311.79 L197.7 1311.56 L196.9 1312.36 L196.1 1311.25 L195.3 1311.8 L194.5 1310.72 L193.7 1309.08 L192.9 1311.95 L192.1 1308.76 L191.3 1310.04 L190.5 1310.87 L189.7 1310.24 L188.9 1311.33 L188.1 1311.56 L187.3 1310.19 L186.5 1310.1 L185.7 1308.92 L184.9 1308.85 L184.1 1311.65 L183.3 1310.03 L182.5 1310.03 L181.7 1309.54 L180.9 1310.06 L180.1 1310.37 L179.3 1310.91 L178.5 1310.41 L177.7 1309.58 L176.9 1309.49 L176.1 1311.53 L175.3 1310.31 L174.5 1310.29 L173.7 1310.69 L172.9 1309.34 L172.1 1309.21 L171.3 1313.24 L170.5 1309.01 L169.7 1309.22 L168.9 1311.34 L168.1 1309 L167.3 1309.03 L166.5 1311.93 L165.7 1310.4 L164.9 1311.84 L164.1 1310.48 L163.3 1312.99 L162.5 1310.14 L161.7 1313.54 L160.9 1310.97 L160.1 1312.39 L159.3 1310.76 L158.5 1309.03 L157.7 1309.7 L156.9 1310.2 L156.1 1309.5 L155.3 1310.05 L154.5 1309.04 L153.7 1309.65 L152.9 1311.18 L152.1 1310.98 L151.3 1309.56 L150.5 1310.27 L149.7 1311.27 L148.9 1311.7 L148.1 1311.9 L147.3 1309.75 L146.5 1309.03 L145.7 1309.88 L144.9 1311.18 L144.1 1312.03 L143.3 1311.51 L142.5 1309.33 L141.7 1310.33 L140.9 1309.34 L140.1 1311.48 L139.3 1310.86 L138.5 1309.46 L137.7 1309.79 L136.9 1308.83 L136.1 1308.92 L135.3 1308.97 L134.5 1310.67 L133.7 1311.33 L132.9 1311.56 L132.1 1309.23 L131.3 1310.95 L130.5 1312.52 L129.7 1310.4 L128.9 1308.84 L128.1 1310.35 L127.3 1311.97 L126.5 1309.81 L125.7 1311.48 L124.9 1311.11 L124.1 1311.74 L123.3 1310.96 L122.5 1310.2 L121.7 1310.16 L120.9 1310.1 L120.1 1311.62 L119.3 1311.18 L118.5 1309.29 L117.7 1310.49 L116.9 1310.23 L116.1 1310.34 L115.3 1309.21 L114.5 1309.33 L113.7 1308.91 L112.9 1309.14 L112.1 1311.09 L111.3 1308.85 L110.5 1310.86 L109.7 1309.24 L108.9 1311.27 L108.1 1310.53 L107.3 1309.28Z" fill="#0000ff"/>
<path d="M107.3 1132.12 L108.1 1132.67 L108.9 1134.77 L109.7 1132.76 L110.5 1130.28 L111.3 1134.36 L112.1 1132.12 L112.9 1133.13 L113.7 1132.18 L114.5 1132.03 L115.3 1134.54 L116.1 1133.67 L116.9 1132.76 L117.7 1134.34 L118.5 1133.06 L119.3 1133.36 L120.1 1131.81 L120.9 1133.58 L121.7 1134.07 L122.5 1131.95 L123.3 1133.1 L124.1 1132.3 L124.9 1131.64 L125.7 1134.83 L126.5 1134 L127.3 1133.39 L128.1 1133.24 L128.9 1133.9 L129.7 1132.39 L130.5 1134.86 L131.3 1132.02 L132.1 1130.61 L132.9 1132.38 L133.7 1134.01 L134.5 1133.12 L135.3 1131.64 L136.1 1134.47 L136.9 1134.12 L137.7 1134.12 L138.5 1132.7 L139.3 1133.01 L140.1 1133.2 L140.9 1132.5 L141.7 1133.77 L142.5 1133.41 L143.3 1131.87 L144.1 1134.7 L144.9 1131.86 L145.7 1134.17 L146.5 1131.67 L147.3 1133.49 L148.1 1132.54 L148.9 1132.99 L149.7 1133.24 L150.5 1134.61 L151.3 1134.1 L152.1 1132.94 L152.9 1133.17 L153.7 1134.09 L154.5 1133.84 L155.3 1131.63 L156.1 1134.01 L156.9 1133.67 L157.7 1132.88 L158.5 1133.9 L159.3 1134.49 L160.1 1132.9 L160.9 1134.01 L161.7 1134.57 L162.5 1132.8 L163.3 1133.3 L164.1 1133.1 L164.9 1134.45 L165.7 1132.08 L166.5 1134.53 L167.3 1132.85 L168.1 1131.7 L168.9 1133.79 L169.7 1132.24 L170.5 1132.04 L171.3 1133.37 L172.1 1134.79 L172.9 1131.73 L173.7 1131.68 L174.5 1131.72 L175.3 1134.51 L176.1 1132.9 L176.9 1134.04 L177.7 1133.12 L178.5 1132.07 L179.3 1132.12 L180.1 1133.54 L180.9 1133.5 L181.7 1132.87 L182.5 1133.47 L183.3 1133.43 L184.1 1132.28 L184.9 1132.81 L185.7 1132.68 L186.5 1133.33 L187.3 1132.82 L188.1 1134.07 L188.9 1132.37 L189.7 1131.76 L190.5 1132.12 L191.3 1131.66 L192.1 1132.88 L192.9 1133.09 L193.7 1134.03 L194.5 1133.18 L195.3 1133.98 L196.1 1134.12 L196.9 1133.11 L197.7 1131.93 L198.5 1132.38 L199.3 1132.42 L200.1 1132.44 L200.9 1134.15 L201.7 1132.66 L202.5 1134.45 L203.3 1131.47 L204.1 1134.7 L204.9 1132.4 L205.7 1134 L206.5 1133.73 L207.3 1132.42 L208.1 1134.46 L208.9 1132.6 L209.7 1132.44 L210.5 1133.76 L211.3 1133.58 L212.1 1132.83 L212.9 1132.92 L213.7 1133.74 L214.5 1133.76 L215.3 1131.75 L216.1 1133.45 L216.9 1132.25 L217.7 1132.5 L218.5 1134.58 L219.3 1132.89 L220.1 1134.28 L220.9 1132.01 L221.7 1134.59 L222.5 1132.63 L223.3 1134.56 L224.1 1132.98 L224.9 1132.45 L225.7 1134.05 L226.5 1133.13 L227.3 1133.3 L228.1 1133.95 L228.9 1132.99 L229.7 1133.07 L230.5 1133.27 L231.3 1133.44 L232.1 1133.32 L232.9 1134.69 L233.7 1131.64 L234.5 1132.3 L235.3 1133.43 L236.1 1132.85 L236.9 1134.19 L237.7 1134.3 L238.5 1133.92 L239.3 1133.39 L240.1 1132.84 L240.9 1133.1 L241.7 1134.63 L242.5 1133.02 L243.3 1132.6 L244.1 1133.55 L244.9 1134.57 L245.7 1131.78 L246.5 1134.74 L247.3 1131.9 L248.1 1132.43 L248.9 1132.08 L249.7 1131.8 L250.5 1133.85 L251.3 1133.2 L252.1 1133.53 L252.9 1132.84 L253.7 1131.86 L254.5 1131.71 L255.3 1133.08 L256.1 1131.91 L256.9 1133.25 L257.7 1132.16 L258.5 1133.62 L259.3 1132.06 L260.1 1131.84 L260.9 1133.9 L261.7 1134.38 L262.5 1133.1 L263.3 1132.6 L264.1 1134.72 L264.9 1133.61 L265.7 1132.04 L266.5 1132.03 L267.3 1132.52 L268.1 1133.34 L268.9 1132.76 L269.7 1133.63 L270.5 1131.87 L271.3 1131.63 L272.1 1132.04 L272.9 1134.72 L273.7 1134.39 L274.5 1132.2 L275.3 1131.91 L276.1 1132.08 L276.9 1134.35 L277.7 1132.79 L278.5 1134.22 L279.3 1133.01 L280.1 1131.69 L280.9 1132.64 L281.7 1133.26 L282.5 1132.9 L283.3 1132.67 L284.1 1132.83 L284.9 1133.44 L285.7 1132.44 L286.5 1131.72 L287.3 1134.03 L288.1 1132.45 L288.9 1134.41 L289.7 1131.69 L290.5 1131 L291.3 1132.69 L292.1 1134.51 L292.9 1133.05 L293.7 1131.92 L294.5 1131.8 L295.3 1134.43 L296.1 1131.8 L296.9 1132.33 L297.7 1134.76 L298.5 1130.42 L299.3 1133.7 L300.1 1132.12 L300.9 1131.02 L301.7 1131.17 L302.5 1132.05 L303.3 1134.86 L304.1 1134.05 L304.9 1132.3 L305.7 1134.7 L306.5 1133.32 L307.3 1133.23 L308.1 1132.05 L308.9 1134.67 L309.7 1133.28 L310.5 1134.65 L311.3 1133.81 L312.1 1131.2 L312.9 1132.37 L313.7 1134.12 L314.5 1134.56 L315.3 1134.37 L316.1 1132.77 L316.9 1132.96 L317.7 1133.72 L318.5 1132.53 L319.3 1132.99 L320.1 1134.51 L320.9 1133 L321.7 1132.21 L322.5 1132.18 L323.3 1133.86 L324.1 1133.03 L324.9 1134.77 L325.7 1133.76 L326.5 1132.9 L327.3 1132.68 L328.1 1133.43 L328.9 1133.47 L329.7 1131.74 L330.5 1134.18 L331.3 1134.84 L332.1 1132.58 L332.9 1134.63 L333.7 1132.07 L334.5 1133.51 L335.3 1132.27 L336.1 1134.58 L336.9 1133.17 L337.7 1133.79 L338.5 1133.21 L339.3 1132.21 L340.1 1134.23 L340.9 1134.29 L341.7 1132.4 L342.5 1132.81 L343.3 1133.3 L344.1 1134.68 L344.9 1134.68 L345.7 1132.09 L346.5 1133.07 L347.3 1132.24 L348.1 1134.12 L348.9 1132.55 L349.7 1133.45 L350.5 1133.66 L351.3 1132.93 L352.1 1132.67 L352.9 1131.93 L353.7 1134.41 L354.5 1133.59 L355.3 1133.64 L356.1 1132.18 L356.9 1132.77 L357.7 1134.28 L358.5 1134.13 L359.3 1134.54 L360.1 1134.74 L360.9 1133.64 L361.7 1132.24 L362.5 1132.67 L363.3 1132.44 L364.1 1132.24 L364.9 1131.79 L365.7 1133.63 L366.5 1132.27 L367.3 1132.03 L368.1 1132.11 L368.9 1131.93 L369.7 1134.15 L370.5 1133.24 L371.3 1134.77 L372.1 1132.3 L372.9 1132.61 L373.7 1134.23 L374.5 1132.51 L375.3 1132.87 L376.1 1134.51 L376.9 1134.08 L377.7 1134.09 L378.5 1134.65 L379.3 1133.07 L380.1 1131.68 L380.9 1133.75 L381.7 1132.48 L382.5 1132.23 L383.3 1132.61 L384.1 1133.38 L384.9 1134.73 L385.7 1133.11 L386.5 1133.71 L387.3 1134.46 L388.1 1131.97 L388.9 1133.25 L389.7 1131.04 L390.5 1132.22 L391.3 1133.48 L392.1 1133.72 L392.9 1130.24 L393.7 1132.66 L394.5 1132.17 L395.3 1133.62 L396.1 1131.79 L396.9 1133.15 L397.7 1134.5 L398.5 1133.04 L399.3 1131.64 L400.1 1134.47 L400.9 1131.76 L401.7 1132.42 L402.5 1132.56 L403.3 1133.22 L404.1 1130.96 L404.9 1133.08 L405.7 1131.62 L406.5 1129.83 L407.3 1132.66 L408.1 1132.79 L408.9 1131.61 L409.7 1133.82 L410.5 1131.96 L411.3 1133.08 L412.1 1133.24 L412.9 1132.73 L413.7 1133.04 L414.5 1133 L415.3 1132.79 L416.1 1131.76 L416.9 1133.76 L417.7 1134.2 L418.5 1132.49 L419.3 1133.66 L420.1 1134 L420.9 1133.62 L421.7 1134.35 L422.5 1132.39 L423.3 1131.57 L424.1 1134.17 L424.9 1132 L425.7 1132.12 L426.5 1132.39 L427.3 1134.23 L428.1 1132.39 L428.9 1134.48 L429.7 1133.77 L430.5 1133.22 L431.3 1133.79 L432.1 1133.19 L432.9 1131.65 L433.7 1132.18 L434.5 1132.22 L435.3 1132.97 L436.1 1134.78 L436.9 1132.35 L437.7 1134.31 L438.5 1134.39 L439.3 1133.75 L440.1 1133.54 L440.9 1132.14 L441.7 1132.72 L442.5 1131.91 L443.3 1132.53 L444.1 1134.24 L444.9 1131.71 L445.7 1132.58 L446.5 1132.29 L447.3 1133.63 L448.1 1132.26 L448.9 1133.74 L449.7 1134.21 L450.5 1134.42 L451.3 1132.69 L452.1 1132.54 L452.9 1131.85 L453.7 1133.32 L454.5 1132.77 L455.3 1133.13 L456.1 1134.3 L456.9 1131.63 L457.7 1131.75 L458.5 1134.52 L459.3 1133.1 L460.1 1133.35 L460.9 1133.38 L461.7 1132.3 L462.5 1132.09 L463.3 1134.58 L464.1 1133.82 L464.9 1132.42 L465.7 1134.83 L466.5 1133.87 L467.3 1132.58 L468.1 1133.91 L468.9 1134.37 L469.7 1133.08 L470.5 1134.16 L471.3 1134.6 L472.1 1134.67 L472.9 1134.38 L473.7 1134.2 L474.5 1132.24 L475.3 1134.68 L476.1 1133.58 L476.9 1134.72 L477.7 1129.56 L478.5 1132.37 L479.3 1133.5 L480.1 1131.93 L480.9 1133.12 L481.7 1133.12 L482.5 1134.13 L483.3 1133.14 L484.1 1133.97 L484.9 1132.24 L485.7 1134.82 L486.5 1130.78 L487.3 1134.16 L488.1 1133.93 L488.9 1132.93 L489.7 1134.4 L490.5 1134.67 L491.3 1132.84 L492.1 1131.81 L492.9 1133.52 L493.7 1133.33 L494.5 1132.25 L495.3 1133.06 L496.1 1132.77 L496.9 1134.25 L497.7 1132.03 L498.5 1133.05 L499.3 1129.48 L500.1 1131.62 L500.9 1134.2 L501.7 1133.63 L502.5 1133.2 L503.3 1133.34 L504.1 1133.52 L504.9 1134.02 L505.7 1134.37 L506.5 1133.25 L507.3 1132.2 L508.1 1134.32 L508.9 1133.28 L509.7 1132.62 L510.5 1132.39 L511.3 1131.34 L512.1 1132.7 L512.9 1134.84 L513.7 1133.97 L514.5 1132.68 L515.3 1134.55 L516.1 1132.22 L516.9 1133.55 L517.7 1132.65 L518.5 1131.48 L519.3 1134.31 L520.1 1133.03 L520.9 1134.73 L521.7 1133.14 L522.5 1130.78 L523.3 1132.96 L524.1 1134.62 L524.9 1133.6 L525.7 1134.41 L526.5 1130.64 L527.3 1132.37 L528.1 1134.77 L528.9 1133.71 L529.7 1131.22 L530.5 1134.6 L531.3 1132.47 L532.1 1133.7 L532.9 1133.41 L533.7 1134.56 L534.5 1133.92 L535.3 1131.93 L536.1 1133.63 L536.9 1134.66 L537.7 1134.62 L538.5 1132.94 L539.3 1131.79 L540.1 1133.8 L540.9 1131.71 L541.7 1134.21 L542.5 1133.92 L543.3 1134.08 L544.1 1134.5 L544.9 1132.66 L545.7 1132.57 L546.5 1132.21 L547.3 1132.81 L548.1 1129.9 L548.9 1133.22 L549.7 1132.3 L550.5 1130.93 L551.3 1130.38 L552.1 1132.43 L552.9 1133.21 L553.7 1133.42 L554.5 1133.24 L555.3 1133.52 L556.1 1134.41 L556.9 1133.3 L557.7 1133.83 L558.5 1132.11 L559.3 1131.68 L560.1 1133.05 L560.9 1134.27 L561.7 1134.23 L562.5 1134.2 L563.3 1132.04 L564.1 1134.02 L564.9 1132.93 L565.7 1132.12 L566.5 1133.9 L567.3 1134.48 L568.1 1133.21 L568.9 1134.26 L569.7 1131.62 L570.5 1133.85 L571.3 1134.83 L572.1 1133.23 L572.9 1132.14 L573.7 1133.92 L574.5 1133.38 L575.3 1134.5 L576.1 1133.68 L576.9 1133.09 L577.7 1132.43 L578.5 1133.74 L579.3 1132.35 L580.1 1133.73 L580.9 1134.41 L581.7 1133.95 L582.5 1133.93 L583.3 1130.32 L584.1 1131.65 L584.9 1134.06 L585.7 1132.67 L586.5 1133.52 L587.3 1134.56 L588.1 1133.67 L588.9 1132.49 L589.7 1132.4 L590.5 1134.18 L591.3 1132.99 L592.1 1132.41 L592.9 1134.46 L593.7 1134.21 L594.5 1134.35 L595.3 1134.05 L596.1 1133.58 L596.9 1132.74 L597.7 1134.44 L598.5 1132.22 L599.3 1134.64 L600.1 1133.85 L600.9 1132.42 L601.7 1131.56 L602.5 1132.83 L603.3 1131.83 L604.1 1133.62 L604.9 1132.62 L605.7 1132.34 L606.5 1133.89 L607.3 1131.72 L608.1 1134.5 L608.9 1131.7 L609.7 1132.07 L610.5 1132.39 L611.3 1133.87 L612.1 1132.83 L612.9 1134.6 L613.7 1133.86 L614.5 1133.13 L615.3 1130.96 L616.1 1133.62 L616.9 1133.86 L617.7 1132.57 L618.5 1133.17 L619.3 1134.45 L620.1 1130.4 L620.9 1131.89 L621.7 1133.03 L622.5 1133 L623.3 1134.72 L624.1 1133.62 L624.9 1133.07 L625.7 1133.82 L626.5 1134.61 L627.3 1134.28 L628.1 1134.64 L628.9 1133.8 L629.7 1133.04 L630.5 1132.95 L631.3 1131.95 L632.1 1134.11 L632.9 1130.18 L633.7 1134.53 L634.5 1134.67 L635.3 1131.96 L636.1 1131.47 L636.9 1134.62 L637.7 1134.1 L638.5 1132.59 L639.3 1134.62 L640.1 1134.36 L640.9 1133.13 L641.7 1134.01 L642.5 1132.19 L643.3 1133.2 L644.1 1132.67 L644.9 1133.4 L645.7 1132.26 L646.5 1131.68 L647.3 1132.82 L648.1 1132.07 L648.9 1134.45 L649.7 1134.73 L650.5 1132.2 L651.3 1134.31 L652.1 1130.5 L652.9 1133.53 L653.7 1134.42 L654.5 1132.82 L655.3 1132.33 L656.1 1131.91 L656.9 1133.83 L657.7 1134.68 L658.5 1131.62 L659.3 1134 L660.1 1134.15 L660.9 1132.14 L661.7 1132.25 L662.5 1131.79 L663.3 1131.66 L664.1 1132.71 L664.9 1134.86 L665.7 1132.54 L666.5 1134.79 L667.3 1132.12 L668.1 1131.81 L668.9 1134.42 L669.7 1131.75 L670.5 1132.62 L671.3 1132.96 L672.1 1134.45 L672.9 1133.6 L673.7 1131.88 L674.5 1131.83 L675.3 1131.68 L676.1 1132.79 L676.9 1133.43 L677.7 1132.49 L678.5 1133.64 L679.3 1132.06 L680.1 1134.63 L680.9 1131.37 L681.7 1133.09 L682.5 1132.88 L683.3 1134.33 L684.1 1134.2 L684.9 1132.5 L685.7 1134.7 L686.5 1133.7 L687.3 1132.92 L688.1 1131.87 L688.9 1133.28 L689.7 1134.27 L690.5 1134.01 L691.3 1134.67 L692.1 1133.11 L692.9 1132.14 L693.7 1132.05 L694.5 1134.61 L695.3 1131.95 L696.1 1134.48 L696.9 1131.71 L697.7 1131.66 L698.5 1132.16 L699.3 1134.65 L700.1 1133.97 L700.9 1132.85 L701.7 1134.39 L702.5 1131.87 L703.3 1133.13 L704.1 1133.29 L704.9 1134.4 L705.7 1133.79 L706.5 1129.97 L707.3 1133.27 L708.1 1134.43 L708.9 1133.99 L709.7 1134.18 L710.5 1132.05 L711.3 1133.86 L712.1 1131.55 L712.9 1134.06 L713.7 1133.98 L714.5 1133.56 L715.3 1132.04 L716.1 1131.97 L716.9 1133.61 L717.7 1132.09 L718.5 1131.64 L719.3 1132.77 L720.1 1132.26 L720.9 1133.49 L721.7 1133.35 L722.5 1134.53 L723.3 1133.65 L724.1 1132.11 L724.9 1134.02 L725.7 1134.38 L726.5 1132.26 L727.3 1132.53 L728.1 1133.51 L728.9 1133.01 L729.7 1133.13 L730.5 1133.22 L731.3 1133.97 L732.1 1132.39 L732.9 1134.58 L733.7 1132.31 L734.5 1132.11 L735.3 1129.64 L736.1 1133.63 L736.9 1134.42 L737.7 1131.93 L738.5 1132.34 L739.3 1132.14 L740.1 1132.39 L740.9 1132.81 L741.7 1134.74 L742.5 1132.16 L743.3 1134.06 L744.1 1133.62 L744.9 1133.9 L745.7 1133.77 L746.5 1131.94 L747.3 1131.89 L748.1 1134.44 L748.9 1133.68 L749.7 1134.04 L750.5 1132.72 L751.3 1133.51 L752.1 1134.37 L752.9 1132.72 L753.7 1134.42 L754.5 1134.48 L755.3 1134.22 L756.1 1132.58 L756.9 1134.19 L757.7 1131.93 L758.5 1134.57 L759.3 1134.04 L760.1 1132.94 L760.9 1132.27 L761.7 1134.72 L762.5 1133.71 L763.3 1134.56 L764.1 1131.75 L764.9 1132.27 L765.7 1130.32 L766.5 1132.95 L767.3 1133.63 L768.1 1132.15 L768.9 1134.5 L769.7 1133.85 L770.5 1133 L771.3 1133.77 L772.1 1134.06 L772.9 1132.15 L773.7 1134.36 L774.5 1134.62 L775.3 1134.7 L776.1 1134.1 L776.9 1132.09 L777.7 1132.75 L778.5 1133.4 L779.3 1133.22 L780.1 1133.15 L780.9 1132.86 L781.7 1134.5 L782.5 1132.17 L783.3 1132.19 L784.1 1132.53 L784.9 1131.85 L785.7 1132.54 L786.5 1132.15 L787.3 1132.73 L788.1 1130.87 L788.9 1133.22 L789.7 1132.5 L790.5 1132 L791.3 1131.9 L792.1 1131.72 L792.9 1132.6 L793.7 1132.08 L794.5 1134.21 L795.3 1132.69 L796.1 1133.23 L796.9 1133.72 L797.7 1133.51 L798.5 1132.12 L799.3 1132.69 L800.1 1133.94 L800.9 1133.91 L801.7 1134.53 L802.5 1132.46 L803.3 1132.28 L804.1 1133.61 L804.9 1132.46 L805.7 1132.04 L806.5 1132.77 L807.3 1132.35 L808.1 1132.65 L808.9 1133.64 L809.7 1132.97 L810.5 1134.36 L811.3 1132.87 L812.1 1133.7 L812.9 1133.04 L813.7 1134.57 L814.5 1133.7 L815.3 1131.63 L816.1 1133.42 L816.9 1131.76 L817.7 1131.8 L818.5 1131.91 L819.3 1131.24 L820.1 1131.79 L820.9 1133.21 L820.9 1310.84 L820.1 1311.43 L819.3 1308.96 L818.5 1309.55 L817.7 1310.09 L816.9 1309.37 L816.1 1310.32 L815.3 1313.14 L814.5 1310.77 L813.7 1309.03 L812.9 1309.68 L812.1 1309.36 L811.3 1309.92 L810.5 1311.65 L809.7 1309.41 L808.9 1310.14 L808.1 1308.9 L807.3 1309.29 L806.5 1310.11 L805.7 1311.29 L804.9 1310.35 L804.1 1311.5 L803.3 1310.49 L802.5 1309.1 L801.7 1310.73 L800.9 1308.44 L800.1 1311.06 L799.3 1310.77 L798.5 1310.38 L797.7 1311.06 L796.9 1310.18 L796.1 1309.38 L795.3 1310.44 L794.5 1309.28 L793.7 1311.37 L792.9 1309.3 L792.1 1308.77 L791.3 1309.22 L790.5 1309.58 L789.7 1309.59 L788.9 1308.91 L788.1 1311.05 L787.3 1308.77 L786.5 1310.84 L785.7 1309.68 L784.9 1309.82 L784.1 1310.31 L783.3 1308.79 L782.5 1309.28 L781.7 1309.05 L780.9 1310.46 L780.1 1309.81 L779.3 1310.51 L778.5 1310.34 L777.7 1309.67 L776.9 1308.72 L776.1 1310.93 L775.3 1310.42 L774.5 1309.12 L773.7 1311.1 L772.9 1313.1 L772.1 1310.53 L771.3 1312.21 L770.5 1311.5 L769.7 1310.53 L768.9 1308.48 L768.1 1308.76 L767.3 1308.43 L766.5 1310.53 L765.7 1308.85 L764.9 1310.92 L764.1 1309.58 L763.3 1308.93 L762.5 1310.35 L761.7 1310.49 L760.9 1312.57 L760.1 1308.46 L759.3 1311.54 L758.5 1310.68 L757.7 1310.5 L756.9 1311.04 L756.1 1308.46 L755.3 1310.03 L754.5 1308.68 L753.7 1308.67 L752.9 1309.21 L752.1 1310.38 L751.3 1310.11 L750.5 1308.4 L749.7 1308.49 L748.9 1308.46 L748.1 1310.25 L747.3 1309.07 L746.5 1308.95 L745.7 1311.56 L744.9 1310.69 L744.1 1308.88 L743.3 1309.45 L742.5 1310.53 L741.7 1310.33 L740.9 1311.46 L740.1 1312.3 L739.3 1310.8 L738.5 1310.38 L737.7 1309.36 L736.9 1309.66 L736.1 1308.51 L735.3 1309.96 L734.5 1311.14 L733.7 1309.18 L732.9 1310.75 L732.1 1310.54 L731.3 1309.17 L730.5 1311.06 L729.7 1311.27 L728.9 1310.69 L728.1 1308.45 L727.3 1311.57 L726.5 1310.48 L725.7 1311.25 L724.9 1311.23 L724.1 1310.41 L723.3 1310.31 L722.5 1310.48 L721.7 1311.01 L720.9 1309.46 L720.1 1311.47 L719.3 1308.36 L718.5 1313.04 L717.7 1310.53 L716.9 1310.19 L716.1 1310.57 L715.3 1309.47 L714.5 1310.26 L713.7 1309.97 L712.9 1311.31 L712.1 1311.03 L711.3 1308.77 L710.5 1310 L709.7 1310.74 L708.9 1310.43 L708.1 1309.77 L707.3 1308.65 L706.5 1309.32 L705.7 1310.75 L704.9 1312.75 L704.1 1308.46 L703.3 1309.67 L702.5 1308.66 L701.7 1310.79 L700.9 1309.69 L700.1 1311.17 L699.3 1309.62 L698.5 1311.29 L697.7 1311.57 L696.9 1308.74 L696.1 1308.89 L695.3 1310.53 L694.5 1310.65 L693.7 1311.19 L692.9 1309.69 L692.1 1310.25 L691.3 1311.33 L690.5 1309.07 L689.7 1309.53 L688.9 1308.63 L688.1 1309.33 L687.3 1308.42 L686.5 1309.29 L685.7 1311.06 L684.9 1309.25 L684.1 1310.59 L683.3 1308.84 L682.5 1308.43 L681.7 1308.64 L680.9 1309.55 L680.1 1309.29 L679.3 1310.56 L678.5 1308.66 L677.7 1311.2 L676.9 1309.62 L676.1 1309.78 L675.3 1312.93 L674.5 1310.75 L673.7 1309.05 L672.9 1312.93 L672.1 1311.41 L671.3 1309.33 L670.5 1310.89 L669.7 1308.9 L668.9 1311.41 L668.1 1308.66 L667.3 1311.45 L666.5 1311.31 L665.7 1311.07 L664.9 1308.99 L664.1 1309.04 L663.3 1309.93 L662.5 1310.16 L661.7 1313 L660.9 1308.91 L660.1 1310.92 L659.3 1313.73 L658.5 1308.66 L657.7 1310.05 L656.9 1311.24 L656.1 1309.59 L655.3 1310.1 L654.5 1310.91 L653.7 1311.2 L652.9 1308.53 L652.1 1309.13 L651.3 1308.94 L650.5 1308.43 L649.7 1308.88 L648.9 1311.02 L648.1 1311.26 L647.3 1310.22 L646.5 1311 L645.7 1308.37 L644.9 1309.14 L644.1 1312.53 L643.3 1309.49 L642.5 1308.46 L641.7 1308.85 L640.9 1309.01 L640.1 1309.85 L639.3 1310.86 L638.5 1309.37 L637.7 1309.36 L636.9 1309.74 L636.1 1308.77 L635.3 1310.61 L634.5 1312.88 L633.7 1309.11 L632.9 1311.09 L632.1 1311.06 L631.3 1310.13 L630.5 1310.84 L629.7 1310.35 L628.9 1308.36 L628.1 1309.25 L627.3 1311.52 L626.5 1309.96 L625.7 1310.67 L624.9 1310.74 L624.1 1311.35 L623.3 1309.13 L622.5 1309.07 L621.7 1309.16 L620.9 1309.5 L620.1 1310.95 L619.3 1309.21 L618.5 1310.67 L617.7 1308.87 L616.9 1310.74 L616.1 1309.8 L615.3 1310.7 L614.5 1310.39 L613.7 1308.99 L612.9 1310.33 L612.1 1309.68 L611.3 1310.89 L610.5 1311 L609.7 1309.52 L608.9 1311.36 L608.1 1310.26 L607.3 1311.43 L606.5 1309.99 L605.7 1311.08 L604.9 1310.28 L604.1 1309.35 L603.3 1310.77 L602.5 1309.67 L601.7 1309.76 L600.9 1311.55 L600.1 1308.78 L599.3 1310.7 L598.5 1309.7 L597.7 1312.23 L596.9 1308.34 L596.1 1310.6 L595.3 1311.26 L594.5 1309.22 L593.7 1308.76 L592.9 1312.09 L592.1 1310.88 L591.3 1309.91 L590.5 1311.02 L589.7 1309.04 L588.9 1309.82 L588.1 1311.28 L587.3 1309.24 L586.5 1310.39 L585.7 1310.21 L584.9 1311.02 L584.1 1308.75 L583.3 1310.88 L582.5 1311.12 L581.7 1309.38 L580.9 1309.86 L580.1 1310.39 L579.3 1310.96 L578.5 1309.76 L577.7 1311.57 L576.9 1308.67 L576.1 1308.47 L575.3 1310.85 L574.5 1310.82 L573.7 1310.08 L572.9 1310.45 L572.1 1310.55 L571.3 1310.98 L570.5 1308.51 L569.7 1309.92 L568.9 1310.58 L568.1 1308.78 L567.3 1308.93 L566.5 1308.61 L565.7 1310.97 L564.9 1310.24 L564.1 1310.05 L563.3 1309.39 L562.5 1311.2 L561.7 1309.59 L560.9 1311.23 L560.1 1309.09 L559.3 1308.9 L558.5 1310.53 L557.7 1310.96 L556.9 1309.75 L556.1 1309.81 L555.3 1308.71 L554.5 1308.41 L553.7 1310.84 L552.9 1310.22 L552.1 1310.36 L551.3 1310.53 L550.5 1310.47 L549.7 1311.24 L548.9 1310.58 L548.1 1309.89 L547.3 1310.47 L546.5 1309.66 L545.7 1309.28 L544.9 1311.42 L544.1 1310.25 L543.3 1310.98 L542.5 1309.93 L541.7 1311.46 L540.9 1309.37 L540.1 1310.98 L539.3 1310.35 L538.5 1308.68 L537.7 1309.13 L536.9 1309.7 L536.1 1309.31 L535.3 1310.19 L534.5 1308.61 L533.7 1309.39 L532.9 1310.52 L532.1 1308.76 L531.3 1309.43 L530.5 1310.64 L529.7 1310.92 L528.9 1309.73 L528.1 1311.55 L527.3 1309.62 L526.5 1311.05 L525.7 1310.68 L524.9 1309.41 L524.1 1309.11 L523.3 1310.65 L522.5 1309.35 L521.7 1311.34 L520.9 1311.15 L520.1 1308.64 L519.3 1309.74 L518.5 1310.15 L517.7 1310.45 L516.9 1311.54 L516.1 1309.62 L515.3 1308.96 L514.5 1311.28 L513.7 1308.39 L512.9 1308.37 L512.1 1309.9 L511.3 1309.54 L510.5 1311.07 L509.7 1311.4 L508.9 1310.09 L508.1 1308.88 L507.3 1310.41 L506.5 1310.55 L505.7 1309.57 L504.9 1310.21 L504.1 1309.05 L503.3 1311.3 L502.5 1308.65 L501.7 1309.5 L500.9 1310.12 L500.1 1309.12 L499.3 1311.45 L498.5 1311.15 L497.7 1310.8 L496.9 1310.52 L496.1 1312.84 L495.3 1309.12 L494.5 1310.16 L493.7 1309.31 L492.9 1309.55 L492.1 1310.88 L491.3 1309.94 L490.5 1311.19 L489.7 1309.05 L488.9 1309.37 L488.1 1310.71 L487.3 1308.52 L486.5 1309.64 L485.7 1310.12 L484.9 1310.82 L484.1 1310.69 L483.3 1309.14 L482.5 1310.52 L481.7 1310.69 L480.9 1309.46 L480.1 1310.55 L479.3 1309.57 L478.5 1311.51 L477.7 1308.44 L476.9 1308.54 L476.1 1310.75 L475.3 1310.95 L474.5 1310 L473.7 1308.63 L472.9 1310.02 L472.1 1309.97 L471.3 1311.99 L470.5 1310.78 L469.7 1310.08 L468.9 1310.3 L468.1 1309.04 L467.3 1308.71 L466.5 1309.96 L465.7 1310.87 L464.9 1309.31 L464.1 1309.18 L463.3 1308.93 L462.5 1311.02 L461.7 1310.79 L460.9 1308.94 L460.1 1308.7 L459.3 1311.38 L458.5 1309.26 L457.7 1312.56 L456.9 1309.94 L456.1 1308.9 L455.3 1311.37 L454.5 1308.62 L453.7 1311.46 L452.9 1311.37 L452.1 1312.17 L451.3 1311.41 L450.5 1310.24 L449.7 1311.36 L448.9 1309.17 L448.1 1309.27 L447.3 1310.99 L446.5 1308.73 L445.7 1309.47 L444.9 1309.27 L444.1 1310.14 L443.3 1310.58 L442.5 1309.48 L441.7 1309.35 L440.9 1309.01 L440.1 1311.32 L439.3 1308.83 L438.5 1308.44 L437.7 1310.34 L436.9 1310.67 L436.1 1311.47 L435.3 1310.69 L434.5 1310.52 L433.7 1310.63 L432.9 1309.3 L432.1 1310.32 L431.3 1309.82 L430.5 1308.48 L429.7 1310.78 L428.9 1309.61 L428.1 1311.54 L427.3 1308.57 L426.5 1309.63 L425.7 1311.2 L424.9 1309.86 L424.1 1308.5 L423.3 1309.97 L422.5 1310 L421.7 1310.21 L420.9 1309.14 L420.1 1308.65 L419.3 1309.37 L418.5 1311.5 L417.7 1309.35 L416.9 1309.76 L416.1 1310.94 L415.3 1310.37 L414.5 1310.82 L413.7 1309.99 L412.9 1310.3 L412.1 1311.39 L411.3 1309.32 L410.5 1309.15 L409.7 1309.46 L408.9 1308.83 L408.1 1311.47 L407.3 1311.18 L406.5 1310.42 L405.7 1310.04 L404.9 1308.61 L404.1 1309.53 L403.3 1308.99 L402.5 1310.4 L401.7 1311.22 L400.9 1311.08 L400.1 1309.8 L399.3 1311.31 L398.5 1309.18 L397.7 1309.95 L396.9 1310.44 L396.1 1310.81 L395.3 1310.3 L394.5 1310.86 L393.7 1308.8 L392.9 1309.51 L392.1 1309.22 L391.3 1311.59 L390.5 1309.33 L389.7 1311 L388.9 1310.02 L388.1 1311.49 L387.3 1311.22 L386.5 1311.14 L385.7 1310.78 L384.9 1310.01 L384.1 1308.48 L383.3 1312.85 L382.5 1310.86 L381.7 1308.48 L380.9 1310.37 L380.1 1308.39 L379.3 1309.86 L378.5 1309.98 L377.7 1312.86 L376.9 1309.73 L376.1 1311.52 L375.3 1310.91 L374.5 1308.69 L373.7 1311.04 L372.9 1310.62 L372.1 1309.26 L371.3 1311.06 L370.5 1311.56 L369.7 1309.6 L368.9 1309.75 L368.1 1310.81 L367.3 1308.67 L366.5 1309.14 L365.7 1311.47 L364.9 1309.83 L364.1 1311.04 L363.3 1310.07 L362.5 1309.77 L361.7 1309.75 L360.9 1311.03 L360.1 1310.82 L359.3 1311.04 L358.5 1308.58 L357.7 1311.41 L356.9 1309.51 L356.1 1310.56 L355.3 1310.97 L354.5 1311.38 L353.7 1311.47 L352.9 1309.42 L352.1 1310.68 L351.3 1310.66 L350.5 1309.66 L349.7 1310.03 L348.9 1308.89 L348.1 1311.25 L347.3 1309.38 L346.5 1311.24 L345.7 1309.98 L344.9 1308.58 L344.1 1309.34 L343.3 1309.32 L342.5 1311.14 L341.7 1311.33 L340.9 1309.94 L340.1 1310.8 L339.3 1309.1 L338.5 1309.47 L337.7 1309.99 L336.9 1309.34 L336.1 1309.12 L335.3 1311.03 L334.5 1308.4 L333.7 1310.19 L332.9 1310.71 L332.1 1311.04 L331.3 1308.9 L330.5 1309.16 L329.7 1311.01 L328.9 1310.53 L328.1 1310.78 L327.3 1310.48 L326.5 1308.84 L325.7 1310.67 L324.9 1309.03 L324.1 1308.79 L323.3 1308.35 L322.5 1308.92 L321.7 1312.68 L320.9 1311.07 L320.1 1309.53 L319.3 1310.46 L318.5 1310.28 L317.7 1310.77 L316.9 1309.4 L316.1 1310.97 L315.3 1308.55 L314.5 1310.49 L313.7 1309.8 L312.9 1309.03 L312.1 1311.1 L311.3 1310.05 L310.5 1310.39 L309.7 1310.05 L308.9 1309.64 L308.1 1309.82 L307.3 1308.47 L306.5 1310 L305.7 1310.04 L304.9 1309.38 L304.1 1310.51 L303.3 1308.8 L302.5 1308.81 L301.7 1309.01 L300.9 1309.12 L300.1 1310.48 L299.3 1308.95 L298.5 1310.1 L297.7 1309.77 L296.9 1309.66 L296.1 1310.74 L295.3 1310.51 L294.5 1312.09 L293.7 1309.66 L292.9 1311.06 L292.1 1308.42 L291.3 1311 L290.5 1309.81 L289.7 1310.94 L288.9 1311.12 L288.1 1308.71 L287.3 1309.9 L286.5 1311.3 L285.7 1308.76 L284.9 1311.43 L284.1 1310.43 L283.3 1310.47 L282.5 1310.4 L281.7 1309.26 L280.9 1308.49 L280.1 1309.22 L279.3 1311.55 L278.5 1309.9 L277.7 1309.15 L276.9 1309.45 L276.1 1311.26 L275.3 1309.83 L274.5 1310.34 L273.7 1310.17 L272.9 1309.29 L272.1 1310.58 L271.3 1311.28 L270.5 1310.38 L269.7 1310.66 L268.9 1311.1 L268.1 1309.43 L267.3 1310.46 L266.5 1310.04 L265.7 1310.25 L264.9 1311 L264.1 1310.62 L263.3 1309.09 L262.5 1309.38 L261.7 1309.45 L260.9 1311.57 L260.1 1310.99 L259.3 1310.9 L258.5 1309.98 L257.7 1309.12 L256.9 1309.98 L256.1 1308.72 L255.3 1308.64 L254.5 1309.11 L253.7 1310.6 L252.9 1308.99 L252.1 1309.51 L251.3 1310.47 L250.5 1311.48 L249.7 1310.12 L248.9 1310.58 L248.1 1309.41 L247.3 1310.23 L246.5 1309.86 L245.7 1310.51 L244.9 1311.04 L244.1 1309.38 L243.3 1309.96 L242.5 1308.74 L241.7 1309.33 L240.9 1311.28 L240.1 1311.36 L239.3 1311.33 L238.5 1310.63 L237.7 1309.79 L236.9 1310.48 L236.1 1310.73 L235.3 1311.54 L234.5 1310.03 L233.7 1310.81 L232.9 1310.16 L232.1 1311.16 L231.3 1308.5 L230.5 1310.2 L229.7 1308.74 L228.9 1309.22 L228.1 1308.96 L227.3 1311.5 L226.5 1308.93 L225.7 1308.96 L224.9 1310.61 L224.1 1310.06 L223.3 1310.58 L222.5 1309.93 L221.7 1309.92 L220.9 1311.54 L220.1 1310.92 L219.3 1308.43 L218.5 1309.12 L217.7 1311.1 L216.9 1309.9 L216.1 1311.46 L215.3 1311.02 L214.5 1311 L213.7 1309.54 L212.9 1311.52 L212.1 1310.84 L211.3 1308.58 L210.5 1310.53 L209.7 1310.99 L208.9 1308.88 L208.1 1310.16 L207.3 1309.35 L206.5 1310.87 L205.7 1310.08 L204.9 1310.77 L204.1 1309.02 L203.3 1308.77 L202.5 1308.42 L201.7 1308.87 L200.9 1308.43 L200.1 1310.29 L199.3 1311.43 L198.5 1308.35 L197.7 1310.59 L196.9 1309 L196.1 1311.62 L195.3 1310.09 L194.5 1309.92 L193.7 1310.4 L192.9 1310.75 L192.1 1309.97 L191.3 1311.41 L190.5 1310.93 L189.7 1308.5 L188.9 1309.71 L188.1 1308.35 L187.3 1310.59 L186.5 1308.57 L185.7 1309.58 L184.9 1310.99 L184.1 1308.61 L183.3 1309.87 L182.5 1310.46 L181.7 1310.81 L180.9 1310.53 L180.1 1309.29 L179.3 1309.31 L178.5 1309.4 L177.7 1310.74 L176.9 1308.34 L176.1 1309.58 L175.3 1310.7 L174.5 1311.46 L173.7 1311.38 L172.9 1310.41 L172.1 1309.4 L171.3 1310.91 L170.5 1309.06 L169.7 1310.89 L168.9 1310.94 L168.1 1312.98 L167.3 1311.35 L166.5 1311.2 L165.7 1309.02 L164.9 1311.25 L164.1 1310.22 L163.3 1311.2 L162.5 1310.74 L161.7 1311.11 L160.9 1311.27 L160.1 1308.99 L159.3 1310.13 L158.5 1311.38 L157.7 1312.44 L156.9 1311.04 L156.1 1311.19 L155.3 1308.57 L154.5 1308.57 L153.7 1310.51 L152.9 1309 L152.1 1309.69 L151.3 1311.22 L150.5 1310.26 L149.7 1308.84 L148.9 1312.18 L148.1 1309.3 L147.3 1311.56 L146.5 1310.88 L145.7 1308.52 L144.9 1308.87 L144.1 1311.04 L143.3 1311.13 L142.5 1309.24 L141.7 1309.14 L140.9 1312.5 L140.1 1309.71 L139.3 1310.88 L138.5 1308.76 L137.7 1311.7 L136.9 1308.56 L136.1 1309.43 L135.3 1309.75 L134.5 1308.99 L133.7 1309.71 L132.9 1309.88 L132.1 1308.56 L131.3 1311.47 L130.5 1308.4 L129.7 1310.86 L128.9 1310.31 L128.1 1311.29 L127.3 1311.17 L126.5 1308.7 L125.7 1310.54 L124.9 1311.48 L124.1 1308.54 L123.3 1308.69 L122.5 1309.05 L121.7 1309.19 L120.9 1309.82 L120.1 1309.35 L119.3 1309.2 L118.5 1311.07 L117.7 1311.54 L116.9 1308.89 L116.1 1309.2 L115.3 1310.4 L114.5 1309.84 L113.7 1311.13 L112.9 1309.56 L112.1 1310.95 L111.3 1309.66 L110.5 1310.6 L109.7 1309.05 L108.9 1310.46 L108.1 1308.62 L107.3 1309.06Z" fill="#ff0000"/>
<line x1="107.4" y1="1302.66" x2="107.4" y2="1322.11" stroke="#ff0000" stroke-width="1.6"/>
<rect x="523.75" y="1196.25" width="330" height="196" fill="#fff" stroke="none" stroke-width="1"/>
<line x1="576.5" y1="1212" x2="576.5" y2="1382.5" stroke="#b8b8b8" stroke-width="0.9" stroke-dasharray="1.2,1.6"/>
<line x1="599.5" y1="1212" x2="599.5" y2="1382.5" stroke="#b8b8b8" stroke-width="0.9" stroke-dasharray="1.2,1.6"/>
<line x1="622.5" y1="1212" x2="622.5" y2="1382.5" stroke="#b8b8b8" stroke-width="0.9" stroke-dasharray="1.2,1.6"/>
<line x1="646.5" y1="1212" x2="646.5" y2="1382.5" stroke="#b8b8b8" stroke-width="0.9" stroke-dasharray="1.2,1.6"/>
<line x1="669.5" y1="1212" x2="669.5" y2="1382.5" stroke="#b8b8b8" stroke-width="0.9" stroke-dasharray="1.2,1.6"/>
<line x1="693.5" y1="1212" x2="693.5" y2="1382.5" stroke="#b8b8b8" stroke-width="0.9" stroke-dasharray="1.2,1.6"/>
<line x1="717.5" y1="1212" x2="717.5" y2="1382.5" stroke="#b8b8b8" stroke-width="0.9" stroke-dasharray="1.2,1.6"/>
<line x1="740.5" y1="1212" x2="740.5" y2="1382.5" stroke="#b8b8b8" stroke-width="0.9" stroke-dasharray="1.2,1.6"/>
<line x1="764.5" y1="1212" x2="764.5" y2="1382.5" stroke="#b8b8b8" stroke-width="0.9" stroke-dasharray="1.2,1.6"/>
<line x1="787.5" y1="1212" x2="787.5" y2="1382.5" stroke="#b8b8b8" stroke-width="0.9" stroke-dasharray="1.2,1.6"/>
<line x1="810.5" y1="1212" x2="810.5" y2="1382.5" stroke="#b8b8b8" stroke-width="0.9" stroke-dasharray="1.2,1.6"/>
<line x1="566.25" y1="1232.5" x2="819.5" y2="1232.5" stroke="#a0a0a0" stroke-width="0.9" stroke-dasharray="1.2,1.6"/>
<line x1="566.25" y1="1254.5" x2="819.5" y2="1254.5" stroke="#a0a0a0" stroke-width="0.9" stroke-dasharray="1.2,1.6"/>
<line x1="566.25" y1="1320.5" x2="819.5" y2="1320.5" stroke="#a0a0a0" stroke-width="0.9" stroke-dasharray="1.2,1.6"/>
<line x1="566.25" y1="1364.5" x2="819.5" y2="1364.5" stroke="#a0a0a0" stroke-width="0.9" stroke-dasharray="1.2,1.6"/>
<path d="M566.75 1339.27 L567.75 1338.32 L568.75 1335.91 L569.75 1335.25 L570.75 1331.86 L571.75 1330.07 L572.75 1328.19 L573.75 1324.31 L574.75 1322.46 L575.75 1318.85 L576.75 1315.21 L577.75 1312 L578.75 1308.45 L579.75 1304.47 L580.75 1302.17 L581.75 1297.4 L582.75 1294.98 L583.75 1291.16 L584.75 1286.01 L585.75 1283.05 L586.75 1280.15 L587.75 1277.62 L588.75 1273.27 L589.75 1271.23 L590.75 1267.99 L591.75 1266.28 L592.75 1264.23 L593.75 1261.8 L594.75 1258.79 L595.75 1258.31 L596.75 1256.32 L597.75 1256.04 L598.75 1254.5 L599.75 1254.86 L600.75 1254.79 L601.75 1254.52 L602.75 1254.87 L603.75 1255.49 L604.75 1255.95 L605.75 1256.3 L606.75 1259.38 L607.75 1260.05 L608.75 1261.12 L609.75 1264.15 L610.75 1266.53 L611.75 1268.73 L612.75 1273.06 L613.75 1274.35 L614.75 1279.06 L615.75 1281.62 L616.75 1284.25 L617.75 1288.07 L618.75 1291.78 L619.75 1294.68 L620.75 1299.55 L621.75 1302.91 L622.75 1307.13 L623.75 1310.33 L624.75 1313.67 L625.75 1317.43 L626.75 1320.52 L627.75 1323.03 L628.75 1325.74 L629.75 1328.46 L630.75 1331.59 L631.75 1334.16 L632.75 1336.09 L633.75 1337.98 L634.75 1337.99 L635.75 1340.14 L636.75 1340.56 L637.75 1342.38 L638.75 1342.9 L639.75 1343.1 L640.75 1343.65 L641.75 1342.06 L642.75 1342.45 L643.75 1341.26 L644.75 1339.34 L645.75 1339.43 L646.75 1335.88 L647.75 1334.75 L648.75 1332.7 L649.75 1330.41 L650.75 1328.57 L651.75 1324.91 L652.75 1322.6 L653.75 1318.29 L654.75 1315.41 L655.75 1311.37 L656.75 1308.9 L657.75 1304.95 L658.75 1302.11 L659.75 1297.18 L660.75 1294.3 L661.75 1291.73 L662.75 1286.33 L663.75 1284.19 L664.75 1280.88 L665.75 1277.75 L666.75 1274.33 L667.75 1271.28 L668.75 1269.44 L669.75 1265.52 L670.75 1264.01 L671.75 1261.81 L672.75 1260.04 L673.75 1257.9 L674.75 1255.6 L675.75 1256.01 L676.75 1254.19 L677.75 1254.65 L678.75 1254.8 L679.75 1254.4 L680.75 1253.97 L681.75 1255.49 L682.75 1255.43 L683.75 1256.46 L684.75 1258.39 L685.75 1260.25 L686.75 1262.25 L687.75 1264.16 L688.75 1266.27 L689.75 1269.54 L690.75 1271.5 L691.75 1275.03 L692.75 1276.95 L693.75 1280.45 L694.75 1285.28 L695.75 1287.43 L696.75 1291.35 L697.75 1294.19 L698.75 1299.2 L699.75 1301.91 L700.75 1304.91 L701.75 1308.87 L702.75 1313.62 L703.75 1316.62 L704.75 1318.35 L705.75 1323.34 L706.75 1324.52 L707.75 1328.11 L708.75 1330.79 L709.75 1333.65 L710.75 1334.51 L711.75 1337.78 L712.75 1338.33 L713.75 1340.65 L714.75 1342.15 L715.75 1342.32 L716.75 1341.7 L717.75 1343.3 L718.75 1342.83 L719.75 1343.11 L720.75 1342.63 L721.75 1340.41 L722.75 1340.18 L723.75 1338.91 L724.75 1337.8 L725.75 1335.25 L726.75 1333.09 L727.75 1331.01 L728.75 1327.2 L729.75 1325.81 L730.75 1322.3 L731.75 1319.29 L732.75 1315.09 L733.75 1312.47 L734.75 1308.79 L735.75 1304.87 L736.75 1302.78 L737.75 1299 L738.75 1294.64 L739.75 1290.32 L740.75 1288.62 L741.75 1283.44 L742.75 1280.87 L743.75 1277.75 L744.75 1275.23 L745.75 1271.88 L746.75 1269 L747.75 1266.23 L748.75 1264.78 L749.75 1262.32 L750.75 1259.47 L751.75 1258.68 L752.75 1257.59 L753.75 1255.53 L754.75 1253.87 L755.75 1253.26 L756.75 1254.77 L757.75 1253.25 L758.75 1254.73 L759.75 1254.09 L760.75 1255 L761.75 1256.01 L762.75 1258.73 L763.75 1258.94 L764.75 1261.62 L765.75 1264.45 L766.75 1266.26 L767.75 1267.81 L768.75 1270.6 L769.75 1275.18 L770.75 1277.22 L771.75 1280.02 L772.75 1284.26 L773.75 1288.22 L774.75 1290.77 L775.75 1293.99 L776.75 1297.68 L777.75 1301.84 L778.75 1306.02 L779.75 1308.14 L780.75 1312.94 L781.75 1316.14 L782.75 1319.14 L783.75 1321.9 L784.75 1324.16 L785.75 1327.88 L786.75 1330.29 L787.75 1333.22 L788.75 1334.15 L789.75 1336.28 L790.75 1337.66 L791.75 1340.02 L792.75 1340.31 L793.75 1342.13 L794.75 1342.53 L795.75 1342.62 L796.75 1342.35 L797.75 1343.54 L798.75 1342.1 L799.75 1340.5 L800.75 1340.33 L801.75 1339.31 L802.75 1337.11 L803.75 1336.01 L804.75 1333.76 L805.75 1331.08 L806.75 1327.2 L807.75 1325.18 L808.75 1322.46 L809.75 1318.68 L810.75 1316.11 L811.75 1313.1 L812.75 1309.83 L813.75 1306.33 L814.75 1302.75 L815.75 1298.27 L816.75 1295.31 L817.75 1291.52 L818.75 1288.52" fill="none" stroke="#5a5aff" stroke-width="0.9" stroke-linejoin="round" stroke-opacity="0.85"/>
<path d="M566.75 1340.18 L567.75 1336.88 L568.75 1336.52 L569.75 1334.09 L570.75 1332.82 L571.75 1329.36 L572.75 1327.78 L573.75 1323.48 L574.75 1322.2 L575.75 1317.94 L576.75 1314.26 L577.75 1311.25 L578.75 1308.4 L579.75 1303.73 L580.75 1300.92 L581.75 1296.63 L582.75 1293.21 L583.75 1289.91 L584.75 1286.57 L585.75 1283.28 L586.75 1281 L587.75 1277.11 L588.75 1274.96 L589.75 1272.16 L590.75 1269.45 L591.75 1267.05 L592.75 1264 L593.75 1262.11 L594.75 1260.69 L595.75 1258.43 L596.75 1256.29 L597.75 1255.98 L598.75 1255.21 L599.75 1254 L600.75 1253.6 L601.75 1253.84 L602.75 1255.21 L603.75 1256.06 L604.75 1256.65 L605.75 1257.36 L606.75 1258 L607.75 1259.65 L608.75 1262.89 L609.75 1264.8 L610.75 1267.04 L611.75 1269.06 L612.75 1271.74 L613.75 1274.8 L614.75 1277.78 L615.75 1281.94 L616.75 1284.69 L617.75 1288.6 L618.75 1291.82 L619.75 1295.58 L620.75 1299.51 L621.75 1303.11 L622.75 1305.36 L623.75 1310.44 L624.75 1313.61 L625.75 1316.83 L626.75 1319.28 L627.75 1323.32 L628.75 1325.92 L629.75 1327.49 L630.75 1330.9 L631.75 1333.54 L632.75 1335.44 L633.75 1337.58 L634.75 1338.45 L635.75 1340.08 L636.75 1339.96 L637.75 1341.94 L638.75 1341.43 L639.75 1342.83 L640.75 1343.14 L641.75 1341.76 L642.75 1340.54 L643.75 1339.6 L644.75 1339.39 L645.75 1337.24 L646.75 1336.73 L647.75 1334.55 L648.75 1332.17 L649.75 1330.14 L650.75 1326.52 L651.75 1324.36 L652.75 1320.61 L653.75 1318.53 L654.75 1315.8 L655.75 1311.2 L656.75 1308.86 L657.75 1306 L658.75 1301.14 L659.75 1297.37 L660.75 1293.93 L661.75 1291.58 L662.75 1286.62 L663.75 1284.62 L664.75 1280.29 L665.75 1278.1 L666.75 1275.31 L667.75 1272.34 L668.75 1268.31 L669.75 1266.49 L670.75 1263.7 L671.75 1262.72 L672.75 1259.69 L673.75 1257.82 L674.75 1256.94 L675.75 1255.21 L676.75 1254.66 L677.75 1255.08 L678.75 1254.08 L679.75 1253.82 L680.75 1255.63 L681.75 1254.88 L682.75 1256.82 L683.75 1257.75 L684.75 1258.9 L685.75 1260.76 L686.75 1262.53 L687.75 1265.2 L688.75 1267.27 L689.75 1268.99 L690.75 1272.52 L691.75 1275.15 L692.75 1279.06 L693.75 1280.65 L694.75 1284.64 L695.75 1289.07 L696.75 1290.75 L697.75 1295.58 L698.75 1299.47 L699.75 1302.42 L700.75 1304.83 L701.75 1309.73 L702.75 1312.09 L703.75 1315.91 L704.75 1319.69 L705.75 1321.74 L706.75 1324.5 L707.75 1326.98 L708.75 1329.97 L709.75 1331.82 L710.75 1335.12 L711.75 1337.27 L712.75 1337.35 L713.75 1339.67 L714.75 1341.3 L715.75 1342.1 L716.75 1341.63 L717.75 1342.43 L718.75 1342.72 L719.75 1342.1 L720.75 1342.48 L721.75 1341.44 L722.75 1340.42 L723.75 1337.34 L724.75 1335.48 L725.75 1334.71 L726.75 1332.55 L727.75 1329.57 L728.75 1326.97 L729.75 1325.31 L730.75 1322.41 L731.75 1317.77 L732.75 1314.79 L733.75 1312.67 L734.75 1308.68 L735.75 1304.67 L736.75 1302.75 L737.75 1297.97 L738.75 1293.93 L739.75 1291.09 L740.75 1287.61 L741.75 1284.69 L742.75 1281.62 L743.75 1277.06 L744.75 1274.78 L745.75 1272.73 L746.75 1269.16 L747.75 1267.41 L748.75 1265.09 L749.75 1262.78 L750.75 1260.58 L751.75 1257.86 L752.75 1258.22 L753.75 1255.74 L754.75 1254.9 L755.75 1254.73 L756.75 1254.51 L757.75 1254.98 L758.75 1254.8 L759.75 1256.13 L760.75 1256.7 L761.75 1257.55 L762.75 1258.19 L763.75 1260.55 L764.75 1262.17 L765.75 1264.81 L766.75 1266.19 L767.75 1269.77 L768.75 1272.35 L769.75 1274.19 L770.75 1278.77 L771.75 1281.06 L772.75 1284.28 L773.75 1287.47 L774.75 1291.04 L775.75 1295.38 L776.75 1299.16 L777.75 1301.79 L778.75 1305.43 L779.75 1308.77 L780.75 1311.48 L781.75 1316.32 L782.75 1318.59 L783.75 1320.87 L784.75 1324.2 L785.75 1327.08 L786.75 1330.61 L787.75 1331.75 L788.75 1333.84 L789.75 1337.24 L790.75 1337.7 L791.75 1340.35 L792.75 1339.64 L793.75 1340.66 L794.75 1341.48 L795.75 1342.14 L796.75 1342.45 L797.75 1341.76 L798.75 1342.48 L799.75 1341.6 L800.75 1339.75 L801.75 1339.21 L802.75 1337.33 L803.75 1335.68 L804.75 1332.79 L805.75 1329.5 L806.75 1327.88 L807.75 1324.11 L808.75 1321.93 L809.75 1320.05 L810.75 1315.66 L811.75 1312.94 L812.75 1310.08 L813.75 1306.13 L814.75 1301.97 L815.75 1298.69 L816.75 1294.37 L817.75 1292.18 L818.75 1288.44" fill="none" stroke="#ff6a6a" stroke-width="0.9" stroke-linejoin="round" stroke-opacity="0.85"/>
<rect x="566.25" y="1212" width="253.25" height="170.5" fill="none" stroke="#909090" stroke-width="1"/>
<path d="M523.75 1383.5 L104 1383.5 L104 1059.5 L821.5 1059.5 L821.5 1196.25" fill="none" stroke="#000" stroke-width="2.6"/>
<rect x="102.3" y="1140.04" width="4.6" height="163.12" fill="#ff0000" stroke="none" stroke-width="1"/>
<line x1="105.9" y1="1141.35" x2="105.9" y2="1175.4" stroke="#ffffff" stroke-width="0.9"/>
<line x1="105.9" y1="1271.86" x2="105.9" y2="1300.23" stroke="#ffe0e0" stroke-width="0.9"/>
<line x1="102.3" y1="1140.54" x2="106.5" y2="1140.54" stroke="#000" stroke-width="2"/>
<line x1="102.3" y1="1302.66" x2="106.5" y2="1302.66" stroke="#000" stroke-width="2"/>
<line x1="104.5" y1="1301.85" x2="106.5" y2="1301.85" stroke="#0000ff" stroke-width="1.2"/>
<line x1="175.75" y1="1059.5" x2="175.75" y2="1068.5" stroke="#000" stroke-width="2.4"/>
<line x1="175.75" y1="1383.5" x2="175.75" y2="1373.5" stroke="#000" stroke-width="2.4"/>
<line x1="247.5" y1="1059.5" x2="247.5" y2="1068.5" stroke="#000" stroke-width="2.4"/>
<line x1="247.5" y1="1383.5" x2="247.5" y2="1373.5" stroke="#000" stroke-width="2.4"/>
<line x1="319.25" y1="1059.5" x2="319.25" y2="1068.5" stroke="#000" stroke-width="2.4"/>
<line x1="319.25" y1="1383.5" x2="319.25" y2="1373.5" stroke="#000" stroke-width="2.4"/>
<line x1="391" y1="1059.5" x2="391" y2="1068.5" stroke="#000" stroke-width="2.4"/>
<line x1="391" y1="1383.5" x2="391" y2="1373.5" stroke="#000" stroke-width="2.4"/>
<line x1="462.75" y1="1059.5" x2="462.75" y2="1068.5" stroke="#000" stroke-width="2.4"/>
<line x1="462.75" y1="1383.5" x2="462.75" y2="1373.5" stroke="#000" stroke-width="2.4"/>
<line x1="534.5" y1="1059.5" x2="534.5" y2="1068.5" stroke="#000" stroke-width="2.4"/>
<line x1="606.25" y1="1059.5" x2="606.25" y2="1068.5" stroke="#000" stroke-width="2.4"/>
<line x1="678" y1="1059.5" x2="678" y2="1068.5" stroke="#000" stroke-width="2.4"/>
<line x1="749.75" y1="1059.5" x2="749.75" y2="1068.5" stroke="#000" stroke-width="2.4"/>
<ellipse cx="473.75" cy="1224" rx="19.2" ry="115.5" fill="none" stroke="#000" stroke-width="3.6"/>
<line x1="476" y1="1108.5" x2="832.5" y2="1212.5" stroke="#000" stroke-width="2.6" stroke-dasharray="16,9"/>
<line x1="478" y1="1341" x2="570" y2="1391" stroke="#000" stroke-width="2.8" stroke-dasharray="16,9"/>
<rect x="703.75" y="1065.75" width="113.75" height="63.75" fill="#fff" stroke="#000" stroke-width="2.6"/>
<line x1="708.75" y1="1082.5" x2="737.5" y2="1082.5" stroke="#0000ff" stroke-width="3"/>
<line x1="708.75" y1="1111.25" x2="740" y2="1111.25" stroke="#ff0000" stroke-width="3"/>
<text transform="translate(748.75 1083) scale(1 1.06)" font-size="16">with PI</text>
<text transform="translate(738.75 1114.25) scale(1 1.06)" font-size="16">with SMC</text>
<text transform="translate(91.5 1067.5) scale(1 1.1)" font-size="22.4" text-anchor="end">2</text>
<text transform="translate(91.5 1147.5) scale(1 1.1)" font-size="22.4" text-anchor="end">1</text>
<text transform="translate(91.5 1228.5) scale(1 1.1)" font-size="22.4" text-anchor="end">0</text>
<text transform="translate(91.5 1309.5) scale(1 1.1)" font-size="22.4" text-anchor="end">-1</text>
<text transform="translate(91.5 1390) scale(1 1.1)" font-size="22.4" text-anchor="end">-2</text>
<text transform="translate(107.5 1411.3) scale(1 1.1)" font-size="22.4" text-anchor="middle">0</text>
<text transform="translate(177 1411.3) scale(1 1.1)" font-size="22.4" text-anchor="middle">2</text>
<text transform="translate(248.75 1411.3) scale(1 1.1)" font-size="22.4" text-anchor="middle">4</text>
<text transform="translate(319.5 1411.3) scale(1 1.1)" font-size="22.4" text-anchor="middle">6</text>
<text transform="translate(390.5 1411.3) scale(1 1.1)" font-size="22.4" text-anchor="middle">8</text>
<text transform="translate(463.75 1411.3) scale(1 1.1)" font-size="22.4" text-anchor="middle">10</text>
<text transform="translate(533.75 1411.3) scale(1 1.1)" font-size="22.4" text-anchor="middle">12</text>
<text transform="translate(605 1411.3) scale(1 1.1)" font-size="22.4" text-anchor="middle">14</text>
<text transform="translate(676.25 1411.3) scale(1 1.1)" font-size="22.4" text-anchor="middle">16</text>
<text transform="translate(746.25 1411.3) scale(1 1.1)" font-size="22.4" text-anchor="middle">18</text>
<text transform="translate(811.75 1411.3) scale(1 1.1)" font-size="22.4" text-anchor="middle">20</text>
<text transform="translate(419.8 1438.8) scale(1 1.1)" font-size="22.4" textLength="94" lengthAdjust="spacingAndGlyphs">Time (sec)</text>
<text transform="translate(248.3 1045) scale(1 1.1)" font-size="22.4" textLength="424.7" lengthAdjust="spacingAndGlyphs">Voltage profile of phase- (on the base of 575 V)</text>
<text transform="translate(55.5,1221) rotate(-90)" text-anchor="middle" font-size="22.4">V<tspan font-size="15" dy="4">a</tspan><tspan dy="-4"> (pu)</tspan></text>
<line x1="1056.5" y1="1059.25" x2="1056.5" y2="1374.25" stroke="#7a7a7a" stroke-width="1" stroke-dasharray="2.5,2.3"/>
<line x1="1133.5" y1="1059.25" x2="1133.5" y2="1374.25" stroke="#7a7a7a" stroke-width="1" stroke-dasharray="2.5,2.3"/>
<line x1="1211.5" y1="1059.25" x2="1211.5" y2="1374.25" stroke="#7a7a7a" stroke-width="1" stroke-dasharray="2.5,2.3"/>
<line x1="1288.5" y1="1059.25" x2="1288.5" y2="1374.25" stroke="#7a7a7a" stroke-width="1" stroke-dasharray="2.5,2.3"/>
<line x1="1366.5" y1="1059.25" x2="1366.5" y2="1374.25" stroke="#7a7a7a" stroke-width="1" stroke-dasharray="2.5,2.3"/>
<line x1="1444.5" y1="1059.25" x2="1444.5" y2="1374.25" stroke="#7a7a7a" stroke-width="1" stroke-dasharray="2.5,2.3"/>
<line x1="1521.5" y1="1059.25" x2="1521.5" y2="1374.25" stroke="#7a7a7a" stroke-width="1" stroke-dasharray="2.5,2.3"/>
<line x1="1599.5" y1="1059.25" x2="1599.5" y2="1374.25" stroke="#7a7a7a" stroke-width="1" stroke-dasharray="2.5,2.3"/>
<line x1="1676.5" y1="1059.25" x2="1676.5" y2="1374.25" stroke="#7a7a7a" stroke-width="1" stroke-dasharray="2.5,2.3"/>
<line x1="978.5" y1="1097.5" x2="1754.5" y2="1097.5" stroke="#7a7a7a" stroke-width="1" stroke-dasharray="2.5,2.3"/>
<line x1="978.5" y1="1137.5" x2="1754.5" y2="1137.5" stroke="#7a7a7a" stroke-width="1" stroke-dasharray="2.5,2.3"/>
<line x1="978.5" y1="1176.5" x2="1754.5" y2="1176.5" stroke="#7a7a7a" stroke-width="1" stroke-dasharray="2.5,2.3"/>
<line x1="978.5" y1="1216.5" x2="1754.5" y2="1216.5" stroke="#7a7a7a" stroke-width="1" stroke-dasharray="2.5,2.3"/>
<line x1="978.5" y1="1255.5" x2="1754.5" y2="1255.5" stroke="#7a7a7a" stroke-width="1" stroke-dasharray="2.5,2.3"/>
<line x1="978.5" y1="1294.5" x2="1754.5" y2="1294.5" stroke="#7a7a7a" stroke-width="1" stroke-dasharray="2.5,2.3"/>
<line x1="978.5" y1="1334.5" x2="1754.5" y2="1334.5" stroke="#7a7a7a" stroke-width="1" stroke-dasharray="2.5,2.3"/>
<path d="M978.7 1357 L978.7 1106 L979.6 1106 L980.2 1200 L981 1178 L982.5 1186 L983.5 1073 L984.2 1120 L984.8 1150 L986 1154" fill="none" stroke="#0000ff" stroke-width="1.6" stroke-linejoin="round"/>
<path d="M986.93 1147.55 L987.43 1147.23 L987.93 1147.49 L988.43 1145.52 L988.93 1145.02 L989.43 1145.64 L989.93 1144.52 L990.43 1143.64 L990.93 1143.28 L991.43 1142.55 L991.93 1141.56 L992.43 1142.46 L992.93 1142.74 L993.43 1141.63 L993.93 1140.97 L994.43 1139.57 L994.93 1139.36 L995.43 1137.97 L995.93 1139.19 L996.43 1137.34 L996.93 1136.78 L997.43 1138.31 L997.93 1135.88 L998.43 1137.32 L998.93 1135.81 L999.43 1135.87 L999.93 1135.13 L1000.43 1133.47 L1000.93 1134.77 L1001.43 1133.12 L1001.93 1133.29 L1002.43 1132.2 L1002.93 1131.74 L1003.43 1132.44 L1003.93 1131.16 L1004.43 1132.06 L1004.93 1133.26 L1005.43 1133.51 L1005.93 1131.6 L1006.43 1130.48 L1006.93 1131.03 L1007.43 1130.03 L1007.93 1130.34 L1008.43 1131.42 L1008.93 1131.28 L1009.43 1129.41 L1009.93 1130.66 L1010.43 1130.35 L1010.93 1130.17 L1011.43 1129.28 L1011.93 1129.95 L1012.43 1128.97 L1012.93 1130.61 L1013.43 1130.38 L1013.93 1130.2 L1014.43 1129.42 L1014.93 1130.93 L1015.43 1129.03 L1015.93 1128.39 L1016.43 1128.75 L1016.93 1130.21 L1017.43 1127.79 L1017.93 1129.44 L1018.43 1129.8 L1018.93 1129.38 L1019.43 1128.05 L1019.93 1127.84 L1020.43 1128.93 L1020.93 1128.29 L1021.43 1128.41 L1021.93 1126.36 L1022.43 1127.5 L1022.93 1127.73 L1023.43 1126.08 L1023.93 1125.85 L1024.43 1127.61 L1024.93 1126.66 L1025.43 1126.07 L1025.93 1126.18 L1026.43 1125.39 L1026.93 1125.26 L1027.43 1124.75 L1027.93 1125.55 L1028.43 1124.71 L1028.93 1126.89 L1029.43 1126.99 L1029.93 1125.84 L1030.43 1124.28 L1030.93 1125.75 L1031.43 1124.37 L1031.93 1124.97 L1032.43 1124.2 L1032.93 1125.26 L1033.43 1123.96 L1033.93 1124.54 L1034.43 1124.37 L1034.93 1125.04 L1035.43 1126.4 L1035.93 1125.32 L1036.43 1125.9 L1036.93 1125.7 L1037.43 1125.1 L1037.93 1123.68 L1038.43 1123.63 L1038.93 1123.84 L1039.43 1124.97 L1039.93 1124.43 L1040.43 1126.19 L1040.93 1123.99 L1041.43 1123.78 L1041.93 1125.3 L1042.43 1125.19 L1042.93 1123.53 L1043.43 1124.41 L1043.93 1124.71 L1044.43 1125.85 L1044.93 1125.73 L1045.43 1126.02 L1045.93 1125.02 L1046.43 1126.23 L1046.93 1124.84 L1047.43 1124.31 L1047.93 1123.88 L1048.43 1125.97 L1048.93 1125.44 L1049.43 1125.35 L1049.93 1126.46 L1050.43 1125.44 L1050.93 1124.5 L1051.43 1125.68 L1051.93 1126.4 L1052.43 1124.19 L1052.93 1126.51 L1053.43 1124.96 L1053.93 1124.09 L1054.43 1125.31 L1054.93 1126.16 L1055.43 1125.33 L1055.93 1124.7 L1056.43 1126.23 L1056.93 1124.27 L1057.43 1126.01 L1057.93 1125.11 L1058.43 1125.9 L1058.93 1125.61 L1059.43 1124.96 L1059.93 1124.76 L1060.43 1126.63 L1060.93 1125.57 L1061.43 1125.07 L1061.93 1126.02 L1062.43 1126.57 L1062.93 1124.55 L1063.43 1125.68 L1063.93 1124.78 L1064.43 1126.64 L1064.93 1124.49 L1065.43 1126.87 L1065.93 1126.07 L1066.43 1125.96 L1066.93 1126.04 L1067.43 1125.28 L1067.93 1125.82 L1068.43 1124.99 L1068.93 1125.57 L1069.43 1126.31 L1069.93 1126.38 L1070.43 1125.54 L1070.93 1126.43 L1071.43 1126.96 L1071.93 1126.96 L1072.43 1124.66 L1072.93 1126.17 L1073.43 1125.19 L1073.93 1127.14 L1074.43 1126.45 L1074.93 1126.04 L1075.43 1126.57 L1075.93 1126.3 L1076.43 1125.43 L1076.93 1127.59 L1077.43 1125.08 L1077.93 1125.1 L1078.43 1125.97 L1078.93 1125.63 L1079.43 1126.46 L1079.93 1127.34 L1080.43 1126.84 L1080.93 1128.76 L1081.43 1127.02 L1081.93 1129.05 L1082.43 1129.36 L1082.93 1128.26 L1083.43 1129.22 L1083.93 1127.2 L1084.43 1129.93 L1084.93 1128.6 L1085.43 1128.42 L1085.93 1130.29 L1086.43 1128.85 L1086.93 1128.04 L1087.43 1127.97 L1087.93 1130.41 L1088.43 1128.67 L1088.93 1130.15 L1089.43 1128.61 L1089.93 1130.91 L1090.43 1131.48 L1090.93 1129.78 L1091.43 1131.16 L1091.93 1131.57 L1092.43 1129.67 L1092.93 1130.48 L1093.43 1132.14 L1093.93 1132.09 L1094.43 1131 L1094.93 1131.03 L1095.43 1129.52 L1095.93 1132.02 L1096.43 1132.43 L1096.93 1131.33 L1097.43 1130.39 L1097.93 1130.12 L1098.43 1131.69 L1098.93 1131.91 L1099.43 1131.65 L1099.93 1132.41 L1100.43 1130.03 L1100.93 1129.97 L1101.43 1130.28 L1101.93 1130.92 L1102.43 1130.16 L1102.93 1130.75 L1103.43 1130.67 L1103.93 1132.5 L1104.43 1131.66 L1104.93 1130.69 L1105.43 1131.62 L1105.93 1130.58 L1106.43 1133.09 L1106.93 1130.42 L1107.43 1130.88 L1107.93 1131.89 L1108.43 1132.88 L1108.93 1132.18 L1109.43 1130.64 L1109.93 1132.09 L1110.43 1132.5 L1110.93 1133.11 L1111.43 1132.25 L1111.93 1131.11 L1112.43 1132.87 L1112.93 1132.51 L1113.43 1133.11 L1113.93 1131.06 L1114.43 1133 L1114.93 1131.95 L1115.43 1131.2 L1115.93 1131.32 L1116.43 1130.88 L1116.93 1133.3 L1117.43 1131.06 L1117.93 1132.56 L1118.43 1131.44 L1118.93 1131.46 L1119.43 1131.79 L1119.93 1133.3 L1120.43 1130.98 L1120.93 1131.98 L1121.43 1131.82 L1121.93 1132.32 L1122.43 1132.75 L1122.93 1133.51 L1123.43 1132.84 L1123.93 1133.52 L1124.43 1133.63 L1124.93 1133.45 L1125.43 1131.11 L1125.93 1131.25 L1126.43 1132.66 L1126.93 1131.7 L1127.43 1132.22 L1127.93 1132.75 L1128.43 1132.78 L1128.93 1133.51 L1129.43 1133.55 L1129.93 1131.91 L1130.43 1133 L1130.93 1132.73 L1131.43 1132.67 L1131.93 1133.54 L1132.43 1133.53 L1132.93 1133.53 L1133.43 1132.58 L1133.93 1131.71 L1134.43 1133.23 L1134.93 1132.26 L1135.43 1132.45 L1135.93 1131.84 L1136.43 1131.78 L1136.93 1132.91 L1137.43 1134.48 L1137.93 1133.46 L1138.43 1132.4 L1138.93 1134.51 L1139.43 1132.26 L1139.93 1133.72 L1140.43 1131.93 L1140.93 1134.61 L1141.43 1134.5 L1141.93 1134.3 L1142.43 1132.96 L1142.93 1133.2 L1143.43 1133.37 L1143.93 1134.68 L1144.43 1133.69 L1144.93 1132.72 L1145.43 1134.74 L1145.93 1133.32 L1146.43 1134.29 L1146.93 1134.97 L1147.43 1134.51 L1147.93 1132.61 L1148.43 1134.74 L1148.93 1133.7 L1149.43 1135.39 L1149.93 1133.58 L1150.43 1133.04 L1150.93 1132.92 L1151.43 1135.62 L1151.93 1133.98 L1152.43 1132.79 L1152.93 1134.32 L1153.43 1135.75 L1153.93 1133.57 L1154.43 1135.78 L1154.93 1136.05 L1155.43 1133.74 L1155.93 1133.82 L1156.43 1133.69 L1156.93 1133.62 L1157.43 1133.38 L1157.93 1134.1 L1158.43 1135.91 L1158.93 1134.87 L1159.43 1134.86 L1159.93 1135.55 L1160.43 1134.15 L1160.93 1136.13 L1161.43 1134.61 L1161.93 1135.48 L1162.43 1134.64 L1162.93 1134.82 L1163.43 1134.55 L1163.93 1135.34 L1164.43 1135.53 L1164.93 1134.58 L1165.43 1136.85 L1165.93 1135.41 L1166.43 1136.49 L1166.93 1135.1 L1167.43 1134.72 L1167.93 1137.58 L1168.43 1135.43 L1168.93 1134.8 L1169.43 1137.61 L1169.93 1136.16 L1170.43 1134.96 L1170.93 1136.91 L1171.43 1136.06 L1171.93 1138.01 L1172.43 1137.61 L1172.93 1137.19 L1173.43 1137.36 L1173.93 1136.26 L1174.43 1138.1 L1174.93 1138.19 L1175.43 1136.17 L1175.93 1135.62 L1176.43 1135.69 L1176.93 1137.12 L1177.43 1137.43 L1177.93 1138.02 L1178.43 1138.36 L1178.93 1136.82 L1179.43 1137.04 L1179.93 1136.93 L1180.43 1138.49 L1180.93 1136.46 L1181.43 1136.23 L1181.93 1136.47 L1182.43 1138.69 L1182.93 1136.47 L1183.43 1138.99 L1183.93 1136.8 L1184.43 1137.22 L1184.93 1136.69 L1185.43 1139.12 L1185.93 1136.49 L1186.43 1136.8 L1186.93 1138.46 L1187.43 1137.91 L1187.93 1137.71 L1188.43 1137.99 L1188.93 1139.4 L1189.43 1137.27 L1189.93 1138.59 L1190.43 1137.65 L1190.93 1138.63 L1191.43 1138.41 L1191.93 1138.6 L1192.43 1138.41 L1192.93 1137.62 L1193.43 1138.29 L1193.93 1140 L1194.43 1139.07 L1194.93 1138.38 L1195.43 1138.43 L1195.93 1140.37 L1196.43 1138.85 L1196.93 1141.2 L1197.43 1140.04 L1197.93 1138.75 L1198.43 1139.6 L1198.93 1140.6 L1199.43 1141.78 L1199.93 1141.66 L1200.43 1139.69 L1200.93 1140.92 L1201.43 1140.89 L1201.93 1141.9 L1202.43 1139.87 L1202.93 1140.98 L1203.43 1141.25 L1203.93 1141.05 L1204.43 1141.09 L1204.93 1139.81 L1205.43 1140.36 L1205.93 1142.78 L1206.43 1140.91 L1206.93 1142.96 L1207.43 1140.18 L1207.93 1140.24 L1208.43 1142.86 L1208.93 1141.25 L1209.43 1143 L1209.93 1140.51 L1210.43 1142.41 L1210.93 1143.15 L1211.43 1141.53 L1211.93 1143.36 L1212.43 1143.04 L1212.93 1143.43 L1213.43 1142.11 L1213.93 1141.62 L1214.43 1142.28 L1214.93 1142.15 L1215.43 1141.97 L1215.93 1144 L1216.43 1141.9 L1216.93 1143.33 L1217.43 1142.89 L1217.93 1142.96 L1218.43 1143.1 L1218.93 1143.14 L1219.43 1144.55 L1219.93 1143.78 L1220.43 1144.22 L1220.93 1142.6 L1221.43 1143.42 L1221.93 1144.1 L1222.43 1144.05 L1222.93 1144.45 L1223.43 1142.14 L1223.93 1142.35 L1224.43 1144.5 L1224.93 1143.26 L1225.43 1142.75 L1225.93 1143.4 L1226.43 1142.58 L1226.93 1144.28 L1227.43 1143.3 L1227.93 1144.53 L1228.43 1143.45 L1228.93 1145.01 L1229.43 1142.12 L1229.93 1144.59 L1230.43 1142.3 L1230.93 1143.47 L1231.43 1142.7 L1231.93 1143.21 L1232.43 1144.68 L1232.93 1142.69 L1233.43 1143.21 L1233.93 1143.6 L1234.43 1142.31 L1234.93 1143.56 L1235.43 1142.92 L1235.93 1144.94 L1236.43 1144.73 L1236.93 1143.56 L1237.43 1144.81 L1237.93 1142.29 L1238.43 1142.11 L1238.93 1143.3 L1239.43 1144.79 L1239.93 1144.85 L1240.43 1145.13 L1240.93 1144.66 L1241.43 1143.49 L1241.93 1144.67 L1242.43 1144.7 L1242.93 1143.99 L1243.43 1145.06 L1243.93 1144.9 L1244.43 1143.34 L1244.93 1143.06 L1245.43 1143.66 L1245.93 1145.46 L1246.43 1144.44 L1246.93 1144.25 L1247.43 1145.63 L1247.93 1144.06 L1248.43 1144.37 L1248.93 1144.11 L1249.43 1146.53 L1249.93 1144.64 L1250.43 1145.16 L1250.93 1145.75 L1251.43 1144.72 L1251.93 1146.93 L1252.43 1146.71 L1252.93 1144.67 L1253.43 1144.89 L1253.93 1146.98 L1254.43 1145.12 L1254.93 1145.64 L1255.43 1147.03 L1255.93 1145.38 L1256.43 1146.08 L1256.93 1145.69 L1257.43 1146.52 L1257.93 1146.55 L1258.43 1146.65 L1258.93 1144.82 L1259.43 1145.95 L1259.93 1144.54 L1260.43 1146.81 L1260.93 1144.65 L1261.43 1145.35 L1261.93 1144.35 L1262.43 1145.22 L1262.93 1144.35 L1263.43 1143.52 L1263.93 1143.31 L1264.43 1145.33 L1264.93 1143.81 L1265.43 1143.44 L1265.93 1145.05 L1266.43 1145.28 L1266.93 1143.5 L1267.43 1144.32 L1267.93 1145.23 L1268.43 1145.01 L1268.93 1143.72 L1269.43 1144.29 L1269.93 1143.91 L1270.43 1144.3 L1270.93 1144.71 L1271.43 1142.42 L1271.93 1142.84 L1272.43 1144.41 L1272.93 1142.26 L1273.43 1142.2 L1273.93 1143.68 L1274.43 1142.02 L1274.93 1142.7 L1275.43 1141.01 L1275.93 1143.6 L1276.43 1142.29 L1276.93 1140.59 L1277.43 1140.66 L1277.93 1140.39 L1278.43 1141.6 L1278.93 1141.95 L1279.43 1141.46 L1279.93 1141.86 L1280.43 1142.06 L1280.93 1140.92 L1281.43 1140.85 L1281.93 1141.16 L1282.43 1141.27 L1282.93 1141.73 L1283.43 1140.91 L1283.93 1140.21 L1284.43 1140.89 L1284.93 1141.31 L1285.43 1140.66 L1285.93 1139.79 L1286.43 1140.35 L1286.93 1140.39 L1287.43 1139.36 L1287.93 1141.38 L1288.43 1138.89 L1288.93 1141.31 L1289.43 1139.4 L1289.93 1139.59 L1290.43 1141.32 L1290.93 1139.89 L1291.43 1140.36 L1291.93 1138.7 L1292.43 1139.96 L1292.93 1140.24 L1293.43 1140.12 L1293.93 1139.55 L1294.43 1138.65 L1294.93 1138.66 L1295.43 1138.86 L1295.93 1140.72 L1296.43 1139.64 L1296.93 1141.13 L1297.43 1140.63 L1297.93 1139.81 L1298.43 1140.22 L1298.93 1140.43 L1299.43 1140.78 L1299.93 1138.34 L1300.43 1139.32 L1300.93 1138.2 L1301.43 1140.01 L1301.93 1139.1 L1302.43 1139.99 L1302.93 1137.71 L1303.43 1139.81 L1303.93 1137.48 L1304.43 1137.18 L1304.93 1137.65 L1305.43 1137.62 L1305.93 1136.8 L1306.43 1138.93 L1306.93 1139.18 L1307.43 1138.09 L1307.93 1137.54 L1308.43 1137.14 L1308.93 1136.69 L1309.43 1137.14 L1309.93 1137.22 L1310.43 1137.79 L1310.93 1136.57 L1311.43 1136.53 L1311.93 1137.8 L1312.43 1137.33 L1312.93 1135.37 L1313.43 1136.49 L1313.93 1136 L1314.43 1135.69 L1314.93 1136.49 L1315.43 1135.53 L1315.93 1136.4 L1316.43 1135.28 L1316.93 1135.59 L1317.43 1135.35 L1317.93 1136.79 L1318.43 1135.47 L1318.93 1137.39 L1319.43 1135.65 L1319.93 1135.37 L1320.43 1135.4 L1320.93 1137.74 L1321.43 1137.04 L1321.93 1136.77 L1322.43 1135.87 L1322.93 1137.79 L1323.43 1136.44 L1323.93 1138.59 L1324.43 1138.13 L1324.93 1137.95 L1325.43 1137.29 L1325.93 1138.75 L1326.43 1137.94 L1326.93 1137.32 L1327.43 1138.28 L1327.93 1138.5 L1328.43 1138.99 L1328.93 1138.39 L1329.43 1138.47 L1329.93 1136.94 L1330.43 1138.91 L1330.93 1137.98 L1331.43 1137.03 L1331.93 1138.92 L1332.43 1136.68 L1332.93 1137.87 L1333.43 1138.99 L1333.93 1138.94 L1334.43 1137.39 L1334.93 1138.74 L1335.43 1138.67 L1335.93 1137.06 L1336.43 1136.21 L1336.93 1136.05 L1337.43 1138.45 L1337.93 1135.66 L1338.43 1137.04 L1338.93 1136.69 L1339.43 1135.88 L1339.93 1136.21 L1340.43 1135.44 L1340.93 1136.03 L1341.43 1137.03 L1341.93 1135.73 L1342.43 1136.32 L1342.93 1135.4 L1343.43 1137.06 L1343.93 1136.46 L1344.43 1137.16 L1344.93 1135.72 L1345.43 1135.1 L1345.93 1137.57 L1346.43 1135.04 L1346.93 1136.35 L1347.43 1136.88 L1347.93 1136.43 L1348.43 1134.71 L1348.93 1137.59 L1349.43 1137.32 L1349.93 1135.14 L1350.43 1136.1 L1350.93 1137.02 L1351.43 1135.02 L1351.93 1135.55 L1352.43 1137.45 L1352.93 1136.21 L1353.43 1137.17 L1353.93 1136.63 L1354.43 1136.88 L1354.93 1135.61 L1355.43 1136.97 L1355.93 1134.91 L1356.43 1135.76 L1356.93 1137.83 L1357.43 1137.56 L1357.93 1135.34 L1358.43 1137.08 L1358.93 1138.1 L1359.43 1137.74 L1359.93 1137.92 L1360.43 1135.75 L1360.93 1137.64 L1361.43 1137.24 L1361.93 1135.64 L1362.43 1136.22 L1362.93 1138.12 L1363.43 1135.95 L1363.93 1137.22 L1364.43 1136.4 L1364.93 1138.63 L1365.43 1137.93 L1365.93 1137.15 L1366.43 1136.62 L1366.93 1137.88 L1367.43 1137.99 L1367.93 1137.4 L1368.43 1136.9 L1368.93 1135.87 L1369.43 1135.81 L1369.93 1134.58 L1370.43 1134.19 L1370.93 1134.57 L1371.43 1134.6 L1371.93 1132.66 L1372.43 1133.5 L1372.93 1133.01 L1373.43 1134.23 L1373.93 1132.02 L1374.43 1132.95 L1374.93 1132.95 L1375.43 1132.63 L1375.93 1131.41 L1376.43 1132 L1376.93 1131.63 L1377.43 1128.49 L1377.93 1128.61 L1378.43 1129.63 L1378.93 1128.75 L1379.43 1127.7 L1379.93 1127.17 L1380.43 1128.41 L1380.93 1125.79 L1381.43 1128.17 L1381.93 1125.23 L1382.43 1126.29 L1382.93 1126.22 L1383.43 1127.32 L1383.93 1125.46 L1384.43 1125.91 L1384.93 1124.72 L1385.43 1125.54 L1385.93 1124.45 L1386.43 1124.05 L1386.93 1125.86 L1387.43 1126.34 L1387.93 1125.49 L1388.43 1126.78 L1388.93 1124.48 L1389.43 1126.18 L1389.93 1125.5 L1390.43 1126.01 L1390.93 1125.78 L1391.43 1125.53 L1391.93 1126.42 L1392.43 1126.61 L1392.93 1126.01 L1393.43 1125 L1393.93 1127.25 L1394.43 1124.82 L1394.93 1124.95 L1395.43 1126.29 L1395.93 1126.03 L1396.43 1126.86 L1396.93 1125.24 L1397.43 1126.86 L1397.93 1125.33 L1398.43 1126.49 L1398.93 1127.75 L1399.43 1126.38 L1399.93 1126.67 L1400.43 1127.62 L1400.93 1126.44 L1401.43 1127.73 L1401.93 1126.53 L1402.43 1128.28 L1402.93 1127.35 L1403.43 1128.08 L1403.93 1129.04 L1404.43 1128.16 L1404.93 1128.27 L1405.43 1128.6 L1405.93 1129.38 L1406.43 1126.87 L1406.93 1127.1 L1407.43 1128.39 L1407.93 1128.73 L1408.43 1126.35 L1408.93 1127.48 L1409.43 1127.05 L1409.93 1126.58 L1410.43 1127.74 L1410.93 1126.93 L1411.43 1126.86 L1411.93 1128.61 L1412.43 1126.93 L1412.93 1127.4 L1413.43 1128.54 L1413.93 1127.98 L1414.43 1126.48 L1414.93 1126.03 L1415.43 1125.97 L1415.93 1127.55 L1416.43 1125.69 L1416.93 1127.52 L1417.43 1127.45 L1417.93 1125.2 L1418.43 1127.57 L1418.93 1127.12 L1419.43 1125.3 L1419.93 1125.45 L1420.43 1127.02 L1420.93 1127.15 L1421.43 1125.79 L1421.93 1127.55 L1422.43 1127.8 L1422.93 1126.06 L1423.43 1126.76 L1423.93 1126.26 L1424.43 1125.95 L1424.93 1127.61 L1425.43 1126.33 L1425.93 1127.34 L1426.43 1127.17 L1426.93 1126.42 L1427.43 1126 L1427.93 1127.93 L1428.43 1128.61 L1428.93 1128.38 L1429.43 1128.67 L1429.93 1127.62 L1430.43 1127.74 L1430.93 1128.04 L1431.43 1127.85 L1431.93 1129.07 L1432.43 1128.37 L1432.93 1126.76 L1433.43 1126.76 L1433.93 1126.82 L1434.43 1127.48 L1434.93 1127.94 L1435.43 1128.73 L1435.93 1128.65 L1436.43 1128.84 L1436.93 1129.43 L1437.43 1128.34 L1437.93 1127.77 L1438.43 1127.94 L1438.93 1127.58 L1439.43 1128 L1439.93 1127.67 L1440.43 1128.69 L1440.93 1129.3 L1441.43 1129.88 L1441.93 1128.36 L1442.43 1130.02 L1442.93 1130.24 L1443.43 1128.47 L1443.93 1130.51 L1444.43 1129.68 L1444.93 1130.28 L1445.43 1130.92 L1445.93 1128.95 L1446.43 1129.12 L1446.93 1129.04 L1447.43 1130.88 L1447.93 1129.88 L1448.43 1128.94 L1448.93 1128.96 L1449.43 1128.98 L1449.93 1129.74 L1450.43 1131.65 L1450.93 1131.64 L1451.43 1130.74 L1451.93 1129.85 L1452.43 1130.75 L1452.93 1130.74 L1453.43 1129.54 L1453.93 1130.86 L1454.43 1130.33 L1454.93 1130.29 L1455.43 1131.42 L1455.93 1131.9 L1456.43 1130.56 L1456.93 1130.39 L1457.43 1131.27 L1457.93 1132.41 L1458.43 1131.86 L1458.93 1132.85 L1459.43 1130.63 L1459.93 1130.82 L1460.43 1130.35 L1460.93 1131.42 L1461.43 1131.62 L1461.93 1131.97 L1462.43 1131.98 L1462.93 1132.48 L1463.43 1133.34 L1463.93 1130.79 L1464.43 1133.1 L1464.93 1131.88 L1465.43 1132.96 L1465.93 1131.75 L1466.43 1131.34 L1466.93 1132.54 L1467.43 1133.38 L1467.93 1130.95 L1468.43 1130.92 L1468.93 1133.47 L1469.43 1132.15 L1469.93 1130.78 L1470.43 1132.42 L1470.93 1133.66 L1471.43 1132.32 L1471.93 1132.7 L1472.43 1131.26 L1472.93 1132.97 L1473.43 1132.61 L1473.93 1133.07 L1474.43 1131.12 L1474.93 1131.49 L1475.43 1132.58 L1475.93 1132.7 L1476.43 1133.31 L1476.93 1131.77 L1477.43 1132.38 L1477.93 1134.07 L1478.43 1133.74 L1478.93 1132.15 L1479.43 1133.14 L1479.93 1131.71 L1480.43 1133.14 L1480.93 1133.51 L1481.43 1134.19 L1481.93 1133.56 L1482.43 1132.42 L1482.93 1133.89 L1483.43 1131.78 L1483.93 1134.37 L1484.43 1134.43 L1484.93 1134.31 L1485.43 1132.42 L1485.93 1133.9 L1486.43 1132.49 L1486.93 1132.6 L1487.43 1134.72 L1487.93 1132.01 L1488.43 1132.36 L1488.93 1134.43 L1489.43 1134.12 L1489.93 1134.38 L1490.43 1133.01 L1490.93 1133.39 L1491.43 1135.03 L1491.93 1134.3 L1492.43 1134.95 L1492.93 1132.72 L1493.43 1132.95 L1493.93 1133.72 L1494.43 1134.6 L1494.93 1135.12 L1495.43 1134.92 L1495.93 1133.07 L1496.43 1133.22 L1496.93 1135.29 L1497.43 1135.29 L1497.93 1135.11 L1498.43 1135.31 L1498.93 1133.7 L1499.43 1133.38 L1499.93 1133.34 L1500.43 1134.43 L1500.93 1134.46 L1501.43 1133.93 L1501.93 1134.88 L1502.43 1135.39 L1502.93 1135.77 L1503.43 1133.32 L1503.93 1134.19 L1504.43 1134.56 L1504.93 1136.19 L1505.43 1135.37 L1505.93 1134.82 L1506.43 1134.91 L1506.93 1134.11 L1507.43 1133.69 L1507.93 1134.82 L1508.43 1135.91 L1508.93 1133.57 L1509.43 1136.32 L1509.93 1133.47 L1510.43 1133.74 L1510.93 1133.96 L1511.43 1135.77 L1511.93 1134.24 L1512.43 1135.8 L1512.93 1136.34 L1513.43 1134.07 L1513.93 1135.11 L1514.43 1133.93 L1514.93 1135.96 L1515.43 1136.61 L1515.93 1134.26 L1516.43 1134.34 L1516.93 1135.58 L1517.43 1134.45 L1517.93 1134.07 L1518.43 1135.84 L1518.93 1134.03 L1519.43 1134.48 L1519.93 1135.23 L1520.43 1134.24 L1520.93 1135.37 L1521.43 1134.64 L1521.93 1136.87 L1522.43 1136.46 L1522.93 1136.59 L1523.43 1136.97 L1523.93 1135.77 L1524.43 1135.28 L1524.93 1134.6 L1525.43 1136.46 L1525.93 1137 L1526.43 1135.75 L1526.93 1137.31 L1527.43 1135.8 L1527.93 1136.92 L1528.43 1137.32 L1528.93 1135.72 L1529.43 1137.98 L1529.93 1136.15 L1530.43 1137.51 L1530.93 1136.76 L1531.43 1137.18 L1531.93 1136.93 L1532.43 1136.26 L1532.93 1138.34 L1533.43 1137.16 L1533.93 1138.5 L1534.43 1137.34 L1534.93 1138.7 L1535.43 1138.17 L1535.93 1138.71 L1536.43 1139.41 L1536.93 1137.28 L1537.43 1138.63 L1537.93 1137.55 L1538.43 1138.12 L1538.93 1137.65 L1539.43 1138.06 L1539.93 1137.07 L1540.43 1138.28 L1540.93 1137.43 L1541.43 1137.24 L1541.93 1138.01 L1542.43 1139.23 L1542.93 1138.6 L1543.43 1139.9 L1543.93 1139.58 L1544.43 1139.05 L1544.93 1137.19 L1545.43 1139.45 L1545.93 1137.65 L1546.43 1140.13 L1546.93 1137.22 L1547.43 1139.18 L1547.93 1139.71 L1548.43 1139.08 L1548.93 1139.26 L1549.43 1139.84 L1549.93 1139.37 L1550.43 1138.25 L1550.93 1137.85 L1551.43 1137.69 L1551.93 1138.94 L1552.43 1138.82 L1552.93 1139.15 L1553.43 1139.02 L1553.93 1139.85 L1554.43 1139.93 L1554.93 1137.53 L1555.43 1138.74 L1555.93 1139.35 L1556.43 1139.52 L1556.93 1139.67 L1557.43 1138.12 L1557.93 1137.3 L1558.43 1139.62 L1558.93 1136.93 L1559.43 1136.72 L1559.93 1136.97 L1560.43 1137.27 L1560.93 1138.87 L1561.43 1139.58 L1561.93 1138.88 L1562.43 1137.95 L1562.93 1139.05 L1563.43 1138.09 L1563.93 1137.98 L1564.43 1139.78 L1564.93 1139.43 L1565.43 1139.81 L1565.93 1139.24 L1566.43 1138.52 L1566.93 1141.19 L1567.43 1139.76 L1567.93 1139.56 L1568.43 1139.38 L1568.93 1141.3 L1569.43 1139.73 L1569.93 1140.65 L1570.43 1142.67 L1570.93 1141.68 L1571.43 1143.23 L1571.93 1142.67 L1572.43 1140.84 L1572.93 1142.75 L1573.43 1141.78 L1573.93 1143.28 L1574.43 1144.29 L1574.93 1143.3 L1575.43 1142.44 L1575.93 1144.47 L1576.43 1143.17 L1576.93 1142.43 L1577.43 1143.8 L1577.93 1145.3 L1578.43 1143.03 L1578.93 1143.76 L1579.43 1144.53 L1579.93 1144.15 L1580.43 1146.45 L1580.93 1146.41 L1581.43 1144.3 L1581.93 1147.04 L1582.43 1144.36 L1582.93 1145.7 L1583.43 1145.27 L1583.93 1145.94 L1584.43 1146.02 L1584.93 1144.85 L1585.43 1147.08 L1585.93 1145.48 L1586.43 1147.64 L1586.93 1147.04 L1587.43 1147.6 L1587.93 1147.03 L1588.43 1146.37 L1588.93 1145.69 L1589.43 1147.13 L1589.93 1146.1 L1590.43 1146.26 L1590.93 1148.07 L1591.43 1147.41 L1591.93 1147.16 L1592.43 1147.52 L1592.93 1147.46 L1593.43 1147.03 L1593.93 1146.03 L1594.43 1147 L1594.93 1147.78 L1595.43 1146.91 L1595.93 1147.37 L1596.43 1145.52 L1596.93 1145.92 L1597.43 1146.95 L1597.93 1147.12 L1598.43 1147.97 L1598.93 1147 L1599.43 1146.05 L1599.93 1147.36 L1600.43 1147.27 L1600.93 1148.02 L1601.43 1145.95 L1601.93 1145.94 L1602.43 1145.84 L1602.93 1148.06 L1603.43 1147.18 L1603.93 1146.68 L1604.43 1147.21 L1604.93 1148.57 L1605.43 1147.06 L1605.93 1146.4 L1606.43 1148.37 L1606.93 1147.95 L1607.43 1148.52 L1607.93 1148.72 L1608.43 1149.01 L1608.93 1147.02 L1609.43 1146.66 L1609.93 1146.87 L1610.43 1147.51 L1610.93 1147.18 L1611.43 1146.81 L1611.93 1148.6 L1612.43 1146.18 L1612.93 1146.97 L1613.43 1145.79 L1613.93 1147.38 L1614.43 1146.54 L1614.93 1147.62 L1615.43 1146.08 L1615.93 1147.53 L1616.43 1145.26 L1616.93 1146 L1617.43 1147.7 L1617.93 1146.64 L1618.43 1145.23 L1618.93 1145.16 L1619.43 1145.66 L1619.93 1147.88 L1620.43 1145.23 L1620.93 1146.35 L1621.43 1145.05 L1621.93 1145.89 L1622.43 1147.67 L1622.93 1145.79 L1623.43 1145.56 L1623.93 1144.81 L1624.43 1145.35 L1624.93 1147.67 L1625.43 1145.31 L1625.93 1146.6 L1626.43 1147.04 L1626.93 1147.18 L1627.43 1145.73 L1627.93 1146.71 L1628.43 1146.26 L1628.93 1145.45 L1629.43 1146.24 L1629.93 1146.88 L1630.43 1146.62 L1630.93 1146.95 L1631.43 1146.77 L1631.93 1146.51 L1632.43 1146.52 L1632.93 1146.27 L1633.43 1147.13 L1633.93 1145.49 L1634.43 1144.32 L1634.93 1144.94 L1635.43 1144.47 L1635.93 1144.01 L1636.43 1144.99 L1636.93 1145.76 L1637.43 1145.09 L1637.93 1145.38 L1638.43 1145.24 L1638.93 1145.12 L1639.43 1145.54 L1639.93 1144.6 L1640.43 1145.52 L1640.93 1143.51 L1641.43 1144.34 L1641.93 1145.35 L1642.43 1145.26 L1642.93 1142.86 L1643.43 1144.38 L1643.93 1143.5 L1644.43 1143.73 L1644.93 1143.74 L1645.43 1142.99 L1645.93 1144.29 L1646.43 1142.36 L1646.93 1142.56 L1647.43 1143.11 L1647.93 1143.47 L1648.43 1143.62 L1648.93 1144.54 L1649.43 1143.12 L1649.93 1142.71 L1650.43 1142.5 L1650.93 1143.77 L1651.43 1143.49 L1651.93 1141.63 L1652.43 1141.06 L1652.93 1143.04 L1653.43 1141.07 L1653.93 1142.85 L1654.43 1143.64 L1654.93 1143.4 L1655.43 1141.57 L1655.93 1142.49 L1656.43 1142.86 L1656.93 1142.31 L1657.43 1141.12 L1657.93 1140.35 L1658.43 1141.68 L1658.93 1142.29 L1659.43 1142.56 L1659.93 1140.02 L1660.43 1140.43 L1660.93 1142.06 L1661.43 1140.47 L1661.93 1141.33 L1662.43 1141.97 L1662.93 1142.28 L1663.43 1139.62 L1663.93 1140.85 L1664.43 1139.55 L1664.93 1140.57 L1665.43 1139.28 L1665.93 1141.03 L1666.43 1141.67 L1666.93 1141.58 L1667.43 1140.22 L1667.93 1141.67 L1668.43 1139.33 L1668.93 1140.76 L1669.43 1139.17 L1669.93 1140.88 L1670.43 1138.4 L1670.93 1139.71 L1671.43 1138.15 L1671.93 1138.01 L1672.43 1139.12 L1672.93 1139.04 L1673.43 1137.68 L1673.93 1138.14 L1674.43 1139.34 L1674.93 1139.36 L1675.43 1138.6 L1675.93 1137.61 L1676.43 1137.82 L1676.93 1138.22 L1677.43 1137.83 L1677.93 1136.78 L1678.43 1136.86 L1678.93 1138.4 L1679.43 1139.25 L1679.93 1136.72 L1680.43 1136.89 L1680.93 1136.56 L1681.43 1139.18 L1681.93 1137.62 L1682.43 1136.52 L1682.93 1138.16 L1683.43 1137.41 L1683.93 1137.33 L1684.43 1136.8 L1684.93 1138.31 L1685.43 1137.76 L1685.93 1137.58 L1686.43 1136.66 L1686.93 1136.34 L1687.43 1135.92 L1687.93 1136.17 L1688.43 1137.18 L1688.93 1137.47 L1689.43 1136.76 L1689.93 1136.15 L1690.43 1137.93 L1690.93 1135.72 L1691.43 1137.38 L1691.93 1137.91 L1692.43 1137.03 L1692.93 1136.31 L1693.43 1136.39 L1693.93 1136.77 L1694.43 1137.22 L1694.93 1135.67 L1695.43 1137.66 L1695.93 1136.3 L1696.43 1136.14 L1696.93 1136.87 L1697.43 1137.68 L1697.93 1136.3 L1698.43 1137.05 L1698.93 1136.46 L1699.43 1137.63 L1699.93 1136.68 L1700.43 1136.3 L1700.93 1136.21 L1701.43 1134.7 L1701.93 1136.75 L1702.43 1134.68 L1702.93 1137.29 L1703.43 1134.34 L1703.93 1137.04 L1704.43 1137.06 L1704.93 1134.22 L1705.43 1136.64 L1705.93 1134.04 L1706.43 1135.9 L1706.93 1136.37 L1707.43 1135.21 L1707.93 1135.42 L1708.43 1135.45 L1708.93 1135.45 L1709.43 1134.88 L1709.93 1133.64 L1710.43 1135.41 L1710.93 1134.92 L1711.43 1135.09 L1711.93 1134.6 L1712.43 1133.97 L1712.93 1135.48 L1713.43 1133.51 L1713.93 1135.93 L1714.43 1134.72 L1714.93 1133.5 L1715.43 1134.13 L1715.93 1133.53 L1716.43 1133.38 L1716.93 1134.39 L1717.43 1134.77 L1717.93 1135.77 L1718.43 1136.16 L1718.93 1133.58 L1719.43 1133.48 L1719.93 1135.28 L1720.43 1136.19 L1720.93 1134.63 L1721.43 1135.33 L1721.93 1133.54 L1722.43 1134 L1722.93 1133.43 L1723.43 1134.7 L1723.93 1133.26 L1724.43 1134.5 L1724.93 1134.58 L1725.43 1133.62 L1725.93 1134.59 L1726.43 1133.39 L1726.93 1133.53 L1727.43 1134.47 L1727.93 1134.07 L1728.43 1134.37 L1728.93 1135.18 L1729.43 1134.32 L1729.93 1133.55 L1730.43 1134.26 L1730.93 1133.69 L1731.43 1136.13 L1731.93 1136.14 L1732.43 1135.94 L1732.93 1134.73 L1733.43 1135.68 L1733.93 1134.24 L1734.43 1135.89 L1734.93 1136.09 L1735.43 1134.84 L1735.93 1134.68 L1736.43 1135.97 L1736.93 1134.61 L1737.43 1135.81 L1737.93 1134.3 L1738.43 1135.74 L1738.93 1135.45 L1739.43 1135.94 L1739.93 1134.51 L1740.43 1133.96 L1740.93 1134.09 L1741.43 1133.88 L1741.93 1134.45 L1742.43 1135.74 L1742.93 1133.69 L1743.43 1135.72 L1743.93 1135.67 L1744.43 1135.32 L1744.93 1136.44 L1745.43 1136.1 L1745.93 1134.55 L1746.43 1136.53 L1746.93 1134.93 L1747.43 1135.59 L1747.93 1135.43 L1748.43 1134.45 L1748.93 1135.04 L1749.43 1136.07 L1749.93 1136.63 L1750.43 1135.15 L1750.93 1133.84 L1751.43 1134.43 L1751.93 1133.87 L1752.43 1136.25 L1752.93 1134.97 L1753.43 1135.67" fill="none" stroke="#0000ff" stroke-width="1.9" stroke-linejoin="round"/>
<path d="M978.7 1357 L978.7 1108 L979.6 1108 L980.2 1205 L981 1180 L982.5 1190 L983.5 1086 L984.2 1130 L984.8 1155 L985.8 1160 L986.2 1150" fill="none" stroke="#ff0000" stroke-width="1.7" stroke-linejoin="round"/>
<path d="M985.8 1151.72 L986.3 1147.76 L986.8 1146.5 L987.3 1142.58 L987.8 1140.64 L988.3 1139.47 L988.8 1136.68 L989.3 1135.26 L989.8 1133.06 L990.3 1133.06 L990.8 1131.81 L991.3 1129.21 L991.8 1128.14 L992.3 1127.89 L992.8 1127.19 L993.3 1126.96 L993.8 1125.56 L994.3 1125.46 L994.8 1124.2 L995.3 1123.85 L995.8 1123.22 L996.3 1123.7 L996.8 1123.39 L997.3 1123.18 L997.8 1123.46 L998.3 1122.06 L998.8 1121.87 L999.3 1121.85 L999.8 1122.51 L1000.3 1121.16 L1000.8 1120.94 L1001.3 1121.02 L1001.8 1121.34 L1002.3 1120.45 L1002.8 1120.13 L1003.3 1121.02 L1003.8 1120.62 L1004.3 1120.53 L1004.8 1119.42 L1005.3 1119.76 L1005.8 1119.41 L1006.3 1119.82 L1006.8 1120.73 L1007.3 1120.83 L1007.8 1120.53 L1008.3 1119.63 L1008.8 1119.95 L1009.3 1120.52 L1009.8 1119.5 L1010.3 1119.58 L1010.8 1120.14 L1011.3 1119.46 L1011.8 1119.7 L1012.3 1119.49 L1012.8 1120.33 L1013.3 1119.79 L1013.8 1119.04 L1014.3 1118.9 L1014.8 1120.04 L1015.3 1119.11 L1015.8 1120.13 L1016.3 1119.36 L1016.8 1119.96 L1017.3 1119.68 L1017.8 1120.3 L1018.3 1119.42 L1018.8 1119.99 L1019.3 1120.52 L1019.8 1119.88 L1020.3 1121.28 L1020.8 1121.36 L1021.3 1121.4 L1021.8 1121.42 L1022.3 1121.51 L1022.8 1120.92 L1023.3 1121.47 L1023.8 1120.76 L1024.3 1120.21 L1024.8 1121.81 L1025.3 1121.84 L1025.8 1120.69 L1026.3 1120.92 L1026.8 1120.68 L1027.3 1121.54 L1027.8 1120.56 L1028.3 1121.7 L1028.8 1120.28 L1029.3 1120.91 L1029.8 1121.55 L1030.3 1120.97 L1030.8 1120.3 L1031.3 1120.06 L1031.8 1121.18 L1032.3 1120.04 L1032.8 1120.36 L1033.3 1120.89 L1033.8 1120.31 L1034.3 1119.78 L1034.8 1121.1 L1035.3 1120.94 L1035.8 1120.71 L1036.3 1119.77 L1036.8 1120.45 L1037.3 1121.3 L1037.8 1120.5 L1038.3 1120.05 L1038.8 1121.29 L1039.3 1120.25 L1039.8 1120.6 L1040.3 1119.98 L1040.8 1121.27 L1041.3 1120.99 L1041.8 1120.76 L1042.3 1120.74 L1042.8 1120.51 L1043.3 1120.78 L1043.8 1120.92 L1044.3 1120.1 L1044.8 1121.4 L1045.3 1121.54 L1045.8 1120.3 L1046.3 1120.56 L1046.8 1121.67 L1047.3 1121.08 L1047.8 1120.78 L1048.3 1121.85 L1048.8 1122.44 L1049.3 1121.39 L1049.8 1121.9 L1050.3 1121.92 L1050.8 1122.03 L1051.3 1122.2 L1051.8 1122.89 L1052.3 1122.91 L1052.8 1123.07 L1053.3 1122.83 L1053.8 1123.08 L1054.3 1123.19 L1054.8 1123.29 L1055.3 1123.31 L1055.8 1123.55 L1056.3 1122.41 L1056.8 1122.71 L1057.3 1123.68 L1057.8 1123.37 L1058.3 1123.11 L1058.8 1123.94 L1059.3 1123.21 L1059.8 1124.27 L1060.3 1123.53 L1060.8 1124.65 L1061.3 1123.6 L1061.8 1124.78 L1062.3 1123.64 L1062.8 1124.46 L1063.3 1123.29 L1063.8 1123.93 L1064.3 1123.65 L1064.8 1124.53 L1065.3 1124.22 L1065.8 1123.92 L1066.3 1123.06 L1066.8 1123.74 L1067.3 1123.18 L1067.8 1122.87 L1068.3 1123.9 L1068.8 1123.55 L1069.3 1124.31 L1069.8 1123.94 L1070.3 1122.37 L1070.8 1123.83 L1071.3 1122.91 L1071.8 1123.55 L1072.3 1122.13 L1072.8 1122.25 L1073.3 1122.52 L1073.8 1121.63 L1074.3 1121.85 L1074.8 1121.74 L1075.3 1121.82 L1075.8 1122.3 L1076.3 1122.37 L1076.8 1123.26 L1077.3 1122.38 L1077.8 1122.71 L1078.3 1123.22 L1078.8 1123.22 L1079.3 1124.43 L1079.8 1125.22 L1080.3 1125.71 L1080.8 1127.57 L1081.3 1127.99 L1081.8 1130.52 L1082.3 1132.06 L1082.8 1132.71 L1083.3 1133.16 L1083.8 1134.14 L1084.3 1134.93 L1084.8 1136.06 L1085.3 1138.13 L1085.8 1138.82 L1086.3 1139.79 L1086.8 1139.64 L1087.3 1140.66 L1087.8 1141.56 L1088.3 1142 L1088.8 1142.45 L1089.3 1141.75 L1089.8 1143.86 L1090.3 1143.43 L1090.8 1143.18 L1091.3 1143.5 L1091.8 1144.5 L1092.3 1144.97 L1092.8 1143.52 L1093.3 1143.96 L1093.8 1143.76 L1094.3 1144.91 L1094.8 1144.88 L1095.3 1144.93 L1095.8 1144.15 L1096.3 1144.52 L1096.8 1145.3 L1097.3 1144.23 L1097.8 1143.92 L1098.3 1143.84 L1098.8 1144.78 L1099.3 1143.65 L1099.8 1144.38 L1100.3 1144.08 L1100.8 1144.33 L1101.3 1142.84 L1101.8 1143.16 L1102.3 1144.22 L1102.8 1143.27 L1103.3 1142.41 L1103.8 1142.33 L1104.3 1142.34 L1104.8 1143.06 L1105.3 1142.31 L1105.8 1141.76 L1106.3 1141.9 L1106.8 1142.7 L1107.3 1142.38 L1107.8 1141.75 L1108.3 1141.16 L1108.8 1140.64 L1109.3 1140.43 L1109.8 1141.56 L1110.3 1140.8 L1110.8 1139.41 L1111.3 1140.46 L1111.8 1140.39 L1112.3 1139.02 L1112.8 1139.51 L1113.3 1138.09 L1113.8 1137.7 L1114.3 1137.39 L1114.8 1137.14 L1115.3 1136.48 L1115.8 1135.8 L1116.3 1135.12 L1116.8 1135.11 L1117.3 1135.22 L1117.8 1135.4 L1118.3 1134.78 L1118.8 1134.14 L1119.3 1133.68 L1119.8 1132.98 L1120.3 1133.69 L1120.8 1133.64 L1121.3 1132.61 L1121.8 1133.11 L1122.3 1133.07 L1122.8 1132 L1123.3 1131.19 L1123.8 1132.52 L1124.3 1131.78 L1124.8 1130.86 L1125.3 1131.69 L1125.8 1131.62 L1126.3 1131.51 L1126.8 1131.48 L1127.3 1131.23 L1127.8 1130.27 L1128.3 1131.78 L1128.8 1131.34 L1129.3 1131.71 L1129.8 1131.11 L1130.3 1131.44 L1130.8 1131.12 L1131.3 1131.68 L1131.8 1130.57 L1132.3 1131.09 L1132.8 1132 L1133.3 1131.37 L1133.8 1131.81 L1134.3 1131.64 L1134.8 1132.55 L1135.3 1131.54 L1135.8 1132.04 L1136.3 1131.81 L1136.8 1132.02 L1137.3 1132.81 L1137.8 1134.02 L1138.3 1132.87 L1138.8 1133.94 L1139.3 1134.44 L1139.8 1134.67 L1140.3 1133.77 L1140.8 1134.06 L1141.3 1135.64 L1141.8 1135.07 L1142.3 1136.4 L1142.8 1136.52 L1143.3 1137.44 L1143.8 1136.75 L1144.3 1137.84 L1144.8 1137.03 L1145.3 1137.58 L1145.8 1138.13 L1146.3 1138.46 L1146.8 1139.13 L1147.3 1139.03 L1147.8 1139.12 L1148.3 1140.15 L1148.8 1140.58 L1149.3 1141.56 L1149.8 1141.53 L1150.3 1141.73 L1150.8 1141.7 L1151.3 1143.01 L1151.8 1143.69 L1152.3 1142.6 L1152.8 1143.37 L1153.3 1144.57 L1153.8 1144.02 L1154.3 1144.03 L1154.8 1144.64 L1155.3 1146.28 L1155.8 1145.07 L1156.3 1145.26 L1156.8 1146.56 L1157.3 1145.85 L1157.8 1147.3 L1158.3 1146.54 L1158.8 1147.12 L1159.3 1147.38 L1159.8 1148.3 L1160.3 1148.56 L1160.8 1147.47 L1161.3 1147.79 L1161.8 1147.61 L1162.3 1147.89 L1162.8 1149.33 L1163.3 1148.41 L1163.8 1149.08 L1164.3 1149.3 L1164.8 1149 L1165.3 1148.76 L1165.8 1148.81 L1166.3 1149.39 L1166.8 1150.61 L1167.3 1149.5 L1167.8 1149.6 L1168.3 1150.7 L1168.8 1150.51 L1169.3 1148.79 L1169.8 1149.77 L1170.3 1148.89 L1170.8 1148.57 L1171.3 1148.92 L1171.8 1147.08 L1172.3 1147.64 L1172.8 1147.88 L1173.3 1147.65 L1173.8 1146.96 L1174.3 1146.06 L1174.8 1145.31 L1175.3 1146.21 L1175.8 1144.17 L1176.3 1144.05 L1176.8 1144.05 L1177.3 1144.96 L1177.8 1143.61 L1178.3 1144.17 L1178.8 1142.41 L1179.3 1142.47 L1179.8 1142.14 L1180.3 1141.36 L1180.8 1142.45 L1181.3 1142.18 L1181.8 1141.6 L1182.3 1140.81 L1182.8 1141.13 L1183.3 1141.02 L1183.8 1140.02 L1184.3 1140.08 L1184.8 1139.08 L1185.3 1140.53 L1185.8 1138.77 L1186.3 1138.88 L1186.8 1140 L1187.3 1138.33 L1187.8 1138.44 L1188.3 1138.76 L1188.8 1139.68 L1189.3 1139.37 L1189.8 1138.06 L1190.3 1138.79 L1190.8 1137.93 L1191.3 1138.15 L1191.8 1138.91 L1192.3 1137.67 L1192.8 1137.71 L1193.3 1138.83 L1193.8 1137.54 L1194.3 1137.28 L1194.8 1138.04 L1195.3 1137.67 L1195.8 1137.71 L1196.3 1137.49 L1196.8 1138.31 L1197.3 1138.82 L1197.8 1137.43 L1198.3 1137.45 L1198.8 1137.3 L1199.3 1138.19 L1199.8 1137.39 L1200.3 1137.61 L1200.8 1138.82 L1201.3 1139.05 L1201.8 1138.42 L1202.3 1139.24 L1202.8 1138.13 L1203.3 1139.01 L1203.8 1139.18 L1204.3 1139.11 L1204.8 1138.76 L1205.3 1138.6 L1205.8 1138.78 L1206.3 1140.03 L1206.8 1140.08 L1207.3 1140 L1207.8 1140.59 L1208.3 1139.52 L1208.8 1141.15 L1209.3 1141.06 L1209.8 1141.4 L1210.3 1140.85 L1210.8 1142.48 L1211.3 1141.66 L1211.8 1142.1 L1212.3 1143.65 L1212.8 1143.2 L1213.3 1143.87 L1213.8 1144.41 L1214.3 1144.84 L1214.8 1144.56 L1215.3 1144.3 L1215.8 1145.27 L1216.3 1144.9 L1216.8 1145.72 L1217.3 1145.3 L1217.8 1147.13 L1218.3 1146.35 L1218.8 1147.19 L1219.3 1147.28 L1219.8 1147.12 L1220.3 1147.3 L1220.8 1146.88 L1221.3 1148.63 L1221.8 1147.41 L1222.3 1147.88 L1222.8 1148.6 L1223.3 1148.29 L1223.8 1149.29 L1224.3 1149.67 L1224.8 1149.09 L1225.3 1150.03 L1225.8 1148.67 L1226.3 1149.5 L1226.8 1150.09 L1227.3 1148.36 L1227.8 1149.41 L1228.3 1149.17 L1228.8 1149.31 L1229.3 1148.91 L1229.8 1149.12 L1230.3 1147.9 L1230.8 1148.2 L1231.3 1146.97 L1231.8 1146.72 L1232.3 1147.77 L1232.8 1146.73 L1233.3 1147.06 L1233.8 1145.62 L1234.3 1146.17 L1234.8 1146.39 L1235.3 1145.87 L1235.8 1144.94 L1236.3 1143.39 L1236.8 1143.75 L1237.3 1143.73 L1237.8 1143.01 L1238.3 1143.1 L1238.8 1142.01 L1239.3 1142.4 L1239.8 1141.91 L1240.3 1141.39 L1240.8 1140.41 L1241.3 1140.4 L1241.8 1140.01 L1242.3 1138.93 L1242.8 1138.71 L1243.3 1139.23 L1243.8 1138.13 L1244.3 1139.18 L1244.8 1137.3 L1245.3 1137.24 L1245.8 1137.32 L1246.3 1136.77 L1246.8 1136.81 L1247.3 1136.97 L1247.8 1138.07 L1248.3 1136.95 L1248.8 1137.2 L1249.3 1136.34 L1249.8 1136.81 L1250.3 1137.75 L1250.8 1137.72 L1251.3 1136.93 L1251.8 1137.46 L1252.3 1137.6 L1252.8 1136.77 L1253.3 1136.66 L1253.8 1137.69 L1254.3 1136.5 L1254.8 1137.46 L1255.3 1136.56 L1255.8 1137.87 L1256.3 1137.89 L1256.8 1136.8 L1257.3 1136.42 L1257.8 1138.09 L1258.3 1137.43 L1258.8 1137.95 L1259.3 1137.13 L1259.8 1137.68 L1260.3 1136.88 L1260.8 1137.03 L1261.3 1138.03 L1261.8 1137 L1262.3 1137.05 L1262.8 1137.86 L1263.3 1136.94 L1263.8 1138.09 L1264.3 1138.05 L1264.8 1137.32 L1265.3 1137.56 L1265.8 1137.47 L1266.3 1135.98 L1266.8 1136.27 L1267.3 1136.25 L1267.8 1136.71 L1268.3 1135.19 L1268.8 1136.37 L1269.3 1135.37 L1269.8 1135.77 L1270.3 1134.56 L1270.8 1134.29 L1271.3 1133.98 L1271.8 1133.75 L1272.3 1134.64 L1272.8 1133.34 L1273.3 1133.17 L1273.8 1133.24 L1274.3 1132.29 L1274.8 1132.68 L1275.3 1132.72 L1275.8 1132.48 L1276.3 1132.3 L1276.8 1130.9 L1277.3 1130.65 L1277.8 1130.78 L1278.3 1130.43 L1278.8 1131.08 L1279.3 1129.56 L1279.8 1129.9 L1280.3 1128.91 L1280.8 1129.57 L1281.3 1129.23 L1281.8 1129.18 L1282.3 1128.53 L1282.8 1129.42 L1283.3 1128.86 L1283.8 1129.31 L1284.3 1128.68 L1284.8 1129.23 L1285.3 1128.86 L1285.8 1128.59 L1286.3 1129.58 L1286.8 1129.02 L1287.3 1130.29 L1287.8 1130.38 L1288.3 1131.45 L1288.8 1130.12 L1289.3 1131.89 L1289.8 1131.97 L1290.3 1131.75 L1290.8 1132.48 L1291.3 1133.97 L1291.8 1133.76 L1292.3 1134.38 L1292.8 1134.43 L1293.3 1135.83 L1293.8 1136 L1294.3 1135.37 L1294.8 1135.55 L1295.3 1136.16 L1295.8 1136.66 L1296.3 1136.93 L1296.8 1137.56 L1297.3 1137.1 L1297.8 1137.26 L1298.3 1138.09 L1298.8 1137.59 L1299.3 1139.05 L1299.8 1138.14 L1300.3 1138.12 L1300.8 1139.15 L1301.3 1139.06 L1301.8 1139.84 L1302.3 1139.78 L1302.8 1139.84 L1303.3 1139.98 L1303.8 1140.16 L1304.3 1139.32 L1304.8 1139.06 L1305.3 1138.97 L1305.8 1139.52 L1306.3 1140.72 L1306.8 1140.57 L1307.3 1140.54 L1307.8 1139.46 L1308.3 1139.35 L1308.8 1139.63 L1309.3 1139.17 L1309.8 1139.22 L1310.3 1140.48 L1310.8 1139.95 L1311.3 1139.94 L1311.8 1139.74 L1312.3 1139.23 L1312.8 1139.41 L1313.3 1140.8 L1313.8 1140.66 L1314.3 1139.83 L1314.8 1141.2 L1315.3 1141.15 L1315.8 1140.65 L1316.3 1141.64 L1316.8 1140.73 L1317.3 1141.18 L1317.8 1140.91 L1318.3 1140.93 L1318.8 1141.41 L1319.3 1141.03 L1319.8 1141.16 L1320.3 1142.45 L1320.8 1142.52 L1321.3 1142.14 L1321.8 1142.33 L1322.3 1141.6 L1322.8 1141.81 L1323.3 1141.8 L1323.8 1141.87 L1324.3 1143.13 L1324.8 1142.48 L1325.3 1143.81 L1325.8 1143.82 L1326.3 1142.65 L1326.8 1143.5 L1327.3 1144.07 L1327.8 1142.89 L1328.3 1142.95 L1328.8 1144.36 L1329.3 1144.29 L1329.8 1143.21 L1330.3 1143.98 L1330.8 1143.52 L1331.3 1144.56 L1331.8 1143.88 L1332.3 1143.8 L1332.8 1142.7 L1333.3 1143.18 L1333.8 1143.98 L1334.3 1143.53 L1334.8 1143.42 L1335.3 1142.4 L1335.8 1143.32 L1336.3 1142.51 L1336.8 1141.83 L1337.3 1141.92 L1337.8 1141.64 L1338.3 1141.81 L1338.8 1140.87 L1339.3 1141.46 L1339.8 1140.55 L1340.3 1140.56 L1340.8 1140.02 L1341.3 1139.86 L1341.8 1140.8 L1342.3 1139.94 L1342.8 1140.21 L1343.3 1139.54 L1343.8 1138.28 L1344.3 1138.12 L1344.8 1137.99 L1345.3 1137.69 L1345.8 1138.04 L1346.3 1137.33 L1346.8 1137.13 L1347.3 1136.46 L1347.8 1136.54 L1348.3 1137.05 L1348.8 1137.12 L1349.3 1135.7 L1349.8 1135.43 L1350.3 1136.8 L1350.8 1136.12 L1351.3 1134.84 L1351.8 1135.58 L1352.3 1135 L1352.8 1136.27 L1353.3 1136.07 L1353.8 1136.04 L1354.3 1134.84 L1354.8 1134.68 L1355.3 1134.5 L1355.8 1135.45 L1356.3 1134.56 L1356.8 1134.4 L1357.3 1134.27 L1357.8 1134.89 L1358.3 1133.91 L1358.8 1133.8 L1359.3 1134.01 L1359.8 1135.08 L1360.3 1133.48 L1360.8 1134.48 L1361.3 1133.93 L1361.8 1132.72 L1362.3 1134.2 L1362.8 1132.98 L1363.3 1134.35 L1363.8 1133.23 L1364.3 1133.27 L1364.8 1133.39 L1365.3 1133.89 L1365.8 1131.84 L1366.3 1132.38 L1366.8 1131.63 L1367.3 1130.28 L1367.8 1130.6 L1368.3 1130.22 L1368.8 1128.53 L1369.3 1127.62 L1369.8 1128.23 L1370.3 1127.44 L1370.8 1126.87 L1371.3 1126.67 L1371.8 1125.77 L1372.3 1125.77 L1372.8 1125.48 L1373.3 1125.24 L1373.8 1125.19 L1374.3 1124.59 L1374.8 1125.11 L1375.3 1124.73 L1375.8 1123.02 L1376.3 1123.1 L1376.8 1122.74 L1377.3 1123.92 L1377.8 1123.87 L1378.3 1123.85 L1378.8 1122.7 L1379.3 1123.71 L1379.8 1122.09 L1380.3 1122.07 L1380.8 1122.52 L1381.3 1123.04 L1381.8 1123.07 L1382.3 1122.72 L1382.8 1121.38 L1383.3 1122.43 L1383.8 1122.14 L1384.3 1122.24 L1384.8 1122.57 L1385.3 1121.55 L1385.8 1121.75 L1386.3 1121.63 L1386.8 1122.12 L1387.3 1122.3 L1387.8 1121.8 L1388.3 1121.61 L1388.8 1121.46 L1389.3 1121.91 L1389.8 1122.51 L1390.3 1120.86 L1390.8 1121.52 L1391.3 1122.1 L1391.8 1121.64 L1392.3 1121.48 L1392.8 1122.88 L1393.3 1121.53 L1393.8 1122.8 L1394.3 1122.78 L1394.8 1122.85 L1395.3 1122.99 L1395.8 1123.87 L1396.3 1122.32 L1396.8 1123.62 L1397.3 1124.24 L1397.8 1123 L1398.3 1123.9 L1398.8 1123.42 L1399.3 1125.06 L1399.8 1124 L1400.3 1125.57 L1400.8 1125.36 L1401.3 1125.04 L1401.8 1126.11 L1402.3 1125.95 L1402.8 1126.32 L1403.3 1126.82 L1403.8 1127.34 L1404.3 1126.93 L1404.8 1126.65 L1405.3 1128.1 L1405.8 1127.02 L1406.3 1127.68 L1406.8 1127.88 L1407.3 1127.69 L1407.8 1127.33 L1408.3 1126.65 L1408.8 1126.55 L1409.3 1126.74 L1409.8 1126.27 L1410.3 1126.14 L1410.8 1125.03 L1411.3 1125.87 L1411.8 1125.13 L1412.3 1124.15 L1412.8 1124.39 L1413.3 1125.38 L1413.8 1125.08 L1414.3 1124.65 L1414.8 1123.58 L1415.3 1124.96 L1415.8 1123.48 L1416.3 1124.54 L1416.8 1123.69 L1417.3 1124.12 L1417.8 1123.42 L1418.3 1123.8 L1418.8 1122.89 L1419.3 1123.16 L1419.8 1123.3 L1420.3 1123.26 L1420.8 1123.52 L1421.3 1123.47 L1421.8 1122.22 L1422.3 1123.64 L1422.8 1123.67 L1423.3 1122.84 L1423.8 1123.05 L1424.3 1123.94 L1424.8 1122.83 L1425.3 1122.65 L1425.8 1123.59 L1426.3 1123.86 L1426.8 1123.62 L1427.3 1124.19 L1427.8 1125.66 L1428.3 1126.04 L1428.8 1126.08 L1429.3 1126.86 L1429.8 1127.97 L1430.3 1128.25 L1430.8 1129.21 L1431.3 1128.82 L1431.8 1129.54 L1432.3 1130.74 L1432.8 1130.68 L1433.3 1130.98 L1433.8 1132.71 L1434.3 1132.47 L1434.8 1133.01 L1435.3 1134.12 L1435.8 1134.56 L1436.3 1134.63 L1436.8 1134.66 L1437.3 1135.31 L1437.8 1134.56 L1438.3 1136.33 L1438.8 1135.11 L1439.3 1136.59 L1439.8 1137.45 L1440.3 1137.34 L1440.8 1137.56 L1441.3 1137.5 L1441.8 1136.98 L1442.3 1138.61 L1442.8 1138.69 L1443.3 1137.98 L1443.8 1138.34 L1444.3 1138.55 L1444.8 1139.8 L1445.3 1139.87 L1445.8 1139.37 L1446.3 1140.41 L1446.8 1140 L1447.3 1140.13 L1447.8 1139.81 L1448.3 1139.84 L1448.8 1141.24 L1449.3 1141.27 L1449.8 1140.34 L1450.3 1141.61 L1450.8 1140.83 L1451.3 1141.67 L1451.8 1141.75 L1452.3 1142.14 L1452.8 1141.28 L1453.3 1140.89 L1453.8 1142.43 L1454.3 1141.6 L1454.8 1141.84 L1455.3 1141.55 L1455.8 1142.78 L1456.3 1141.87 L1456.8 1142.38 L1457.3 1141.2 L1457.8 1141.79 L1458.3 1141.87 L1458.8 1142.55 L1459.3 1141.32 L1459.8 1142.24 L1460.3 1142.01 L1460.8 1141.6 L1461.3 1141.6 L1461.8 1141.33 L1462.3 1141.44 L1462.8 1140.1 L1463.3 1141.18 L1463.8 1140.54 L1464.3 1140.78 L1464.8 1139.48 L1465.3 1139.39 L1465.8 1139.61 L1466.3 1140.23 L1466.8 1140.26 L1467.3 1138.6 L1467.8 1138.4 L1468.3 1139.37 L1468.8 1138.88 L1469.3 1138.49 L1469.8 1137.58 L1470.3 1137.07 L1470.8 1136.93 L1471.3 1137.83 L1471.8 1137.75 L1472.3 1136.78 L1472.8 1136.59 L1473.3 1136.22 L1473.8 1135.22 L1474.3 1136.28 L1474.8 1135.14 L1475.3 1135.89 L1475.8 1134.71 L1476.3 1133.64 L1476.8 1133.55 L1477.3 1133.51 L1477.8 1133.44 L1478.3 1134.33 L1478.8 1132.84 L1479.3 1133.57 L1479.8 1133.22 L1480.3 1132.28 L1480.8 1132.9 L1481.3 1131.84 L1481.8 1132.68 L1482.3 1131.75 L1482.8 1131.72 L1483.3 1132.08 L1483.8 1131.13 L1484.3 1130.72 L1484.8 1130.4 L1485.3 1131.45 L1485.8 1130.93 L1486.3 1129.94 L1486.8 1130.01 L1487.3 1129.43 L1487.8 1129.8 L1488.3 1130 L1488.8 1129.41 L1489.3 1129.73 L1489.8 1129.42 L1490.3 1130.68 L1490.8 1131.03 L1491.3 1129.62 L1491.8 1131.12 L1492.3 1130.79 L1492.8 1131.61 L1493.3 1130.27 L1493.8 1130.78 L1494.3 1132.26 L1494.8 1131.31 L1495.3 1132.13 L1495.8 1131.62 L1496.3 1132.99 L1496.8 1132.61 L1497.3 1132.86 L1497.8 1133.71 L1498.3 1133.67 L1498.8 1133.76 L1499.3 1134.49 L1499.8 1134.8 L1500.3 1133.31 L1500.8 1135 L1501.3 1133.9 L1501.8 1134.65 L1502.3 1134.93 L1502.8 1135.12 L1503.3 1135.81 L1503.8 1136.91 L1504.3 1137.36 L1504.8 1137.13 L1505.3 1138.26 L1505.8 1137.82 L1506.3 1139.21 L1506.8 1138.64 L1507.3 1139.38 L1507.8 1139.42 L1508.3 1139.06 L1508.8 1139.75 L1509.3 1139.77 L1509.8 1141.63 L1510.3 1140.96 L1510.8 1141.41 L1511.3 1142.33 L1511.8 1142.69 L1512.3 1142.96 L1512.8 1142.16 L1513.3 1143.88 L1513.8 1144.02 L1514.3 1144.26 L1514.8 1143.9 L1515.3 1144.62 L1515.8 1145.16 L1516.3 1144.94 L1516.8 1145.58 L1517.3 1145.06 L1517.8 1146.99 L1518.3 1146.58 L1518.8 1146.59 L1519.3 1147.73 L1519.8 1146.69 L1520.3 1147.96 L1520.8 1148.23 L1521.3 1148.59 L1521.8 1147.64 L1522.3 1148.74 L1522.8 1148.08 L1523.3 1149.73 L1523.8 1149.72 L1524.3 1149.81 L1524.8 1149.51 L1525.3 1149.89 L1525.8 1148.72 L1526.3 1148.43 L1526.8 1150.01 L1527.3 1148.52 L1527.8 1148.32 L1528.3 1148.71 L1528.8 1150 L1529.3 1149.49 L1529.8 1148.04 L1530.3 1149.27 L1530.8 1148.93 L1531.3 1148.66 L1531.8 1148.05 L1532.3 1148.96 L1532.8 1148.94 L1533.3 1147.07 L1533.8 1146.96 L1534.3 1148.14 L1534.8 1146.56 L1535.3 1146.68 L1535.8 1146.55 L1536.3 1147.18 L1536.8 1146.66 L1537.3 1145.62 L1537.8 1145.72 L1538.3 1144.48 L1538.8 1144.78 L1539.3 1144.43 L1539.8 1143.83 L1540.3 1144.04 L1540.8 1143.78 L1541.3 1142.86 L1541.8 1142.85 L1542.3 1140.9 L1542.8 1140.12 L1543.3 1140.73 L1543.8 1140.3 L1544.3 1139.98 L1544.8 1137.88 L1545.3 1138.51 L1545.8 1137.55 L1546.3 1135.98 L1546.8 1135.39 L1547.3 1134.54 L1547.8 1134.32 L1548.3 1134.6 L1548.8 1132.81 L1549.3 1132.25 L1549.8 1132.08 L1550.3 1131.15 L1550.8 1129.74 L1551.3 1129.89 L1551.8 1128.97 L1552.3 1127.23 L1552.8 1126.28 L1553.3 1126.83 L1553.8 1126.33 L1554.3 1125.9 L1554.8 1125.73 L1555.3 1124.28 L1555.8 1125.35 L1556.3 1124.52 L1556.8 1124.63 L1557.3 1124.01 L1557.8 1122.97 L1558.3 1122.91 L1558.8 1123.65 L1559.3 1123.04 L1559.8 1123.04 L1560.3 1122.95 L1560.8 1123.15 L1561.3 1123.21 L1561.8 1123.46 L1562.3 1124.02 L1562.8 1124.3 L1563.3 1123.53 L1563.8 1123.05 L1564.3 1124.85 L1564.8 1124.56 L1565.3 1125.61 L1565.8 1125.72 L1566.3 1127.15 L1566.8 1128.39 L1567.3 1129.01 L1567.8 1131.43 L1568.3 1132.28 L1568.8 1133.81 L1569.3 1136.43 L1569.8 1138.42 L1570.3 1139.43 L1570.8 1140.66 L1571.3 1142.29 L1571.8 1144.72 L1572.3 1145.59 L1572.8 1147.52 L1573.3 1149.31 L1573.8 1150.38 L1574.3 1151.44 L1574.8 1152.4 L1575.3 1154.23 L1575.8 1155.43 L1576.3 1156.31 L1576.8 1158.53 L1577.3 1159.23 L1577.8 1160.11 L1578.3 1161.38 L1578.8 1163.46 L1579.3 1163.69 L1579.8 1164.65 L1580.3 1165.97 L1580.8 1167.11 L1581.3 1168.74 L1581.8 1170.15 L1582.3 1169.7 L1582.8 1171.24 L1583.3 1171.23 L1583.8 1173.08 L1584.3 1173.52 L1584.8 1174.08 L1585.3 1175.07 L1585.8 1174.57 L1586.3 1174.39 L1586.8 1175.35 L1587.3 1174.5 L1587.8 1174.69 L1588.3 1174.37 L1588.8 1174.13 L1589.3 1172.06 L1589.8 1171.93 L1590.3 1171.14 L1590.8 1169.76 L1591.3 1168.97 L1591.8 1168.05 L1592.3 1167.8 L1592.8 1166.96 L1593.3 1165.45 L1593.8 1164.51 L1594.3 1162.87 L1594.8 1160.65 L1595.3 1158.98 L1595.8 1157.72 L1596.3 1156.56 L1596.8 1154.38 L1597.3 1153.41 L1597.8 1151.09 L1598.3 1148.99 L1598.8 1148.71 L1599.3 1146.73 L1599.8 1144.12 L1600.3 1144.12 L1600.8 1142.37 L1601.3 1139.39 L1601.8 1138.86 L1602.3 1137.43 L1602.8 1134.52 L1603.3 1133.18 L1603.8 1132.6 L1604.3 1130.57 L1604.8 1129.91 L1605.3 1128.81 L1605.8 1126.91 L1606.3 1127.24 L1606.8 1125.34 L1607.3 1126.32 L1607.8 1125.14 L1608.3 1124.94 L1608.8 1123.5 L1609.3 1123.28 L1609.8 1123.92 L1610.3 1123.52 L1610.8 1123.21 L1611.3 1124.09 L1611.8 1124.48 L1612.3 1123.1 L1612.8 1123.39 L1613.3 1124.17 L1613.8 1122.28 L1614.3 1122.53 L1614.8 1123.74 L1615.3 1122.84 L1615.8 1121.83 L1616.3 1122.61 L1616.8 1122.92 L1617.3 1123.01 L1617.8 1123 L1618.3 1121.57 L1618.8 1121.14 L1619.3 1121.53 L1619.8 1122.65 L1620.3 1121.44 L1620.8 1121.3 L1621.3 1121.98 L1621.8 1122.35 L1622.3 1123.24 L1622.8 1122.73 L1623.3 1122.22 L1623.8 1123.85 L1624.3 1124.88 L1624.8 1124.47 L1625.3 1125.31 L1625.8 1126.98 L1626.3 1128.02 L1626.8 1128.42 L1627.3 1131.11 L1627.8 1131.43 L1628.3 1131.9 L1628.8 1134.2 L1629.3 1136.03 L1629.8 1137.17 L1630.3 1137.07 L1630.8 1138.6 L1631.3 1141.37 L1631.8 1141.92 L1632.3 1142.49 L1632.8 1143.92 L1633.3 1143.8 L1633.8 1144.13 L1634.3 1143.9 L1634.8 1144.82 L1635.3 1144.86 L1635.8 1144.96 L1636.3 1144.02 L1636.8 1143.4 L1637.3 1143.43 L1637.8 1143.98 L1638.3 1143.9 L1638.8 1142.43 L1639.3 1142.84 L1639.8 1141.55 L1640.3 1141.07 L1640.8 1140.91 L1641.3 1141.05 L1641.8 1140.08 L1642.3 1139.78 L1642.8 1137.75 L1643.3 1136.66 L1643.8 1136.23 L1644.3 1135.08 L1644.8 1134.86 L1645.3 1133.64 L1645.8 1133.13 L1646.3 1132.56 L1646.8 1131.8 L1647.3 1131.95 L1647.8 1131.51 L1648.3 1130.69 L1648.8 1129.93 L1649.3 1129.56 L1649.8 1128.31 L1650.3 1127.73 L1650.8 1128.55 L1651.3 1128.18 L1651.8 1126.43 L1652.3 1125.82 L1652.8 1126.28 L1653.3 1126.44 L1653.8 1126.25 L1654.3 1124.76 L1654.8 1124.53 L1655.3 1125.36 L1655.8 1124.43 L1656.3 1123.92 L1656.8 1124.81 L1657.3 1124.13 L1657.8 1124.55 L1658.3 1123.94 L1658.8 1124.04 L1659.3 1123.36 L1659.8 1124.51 L1660.3 1123.5 L1660.8 1124.46 L1661.3 1124.5 L1661.8 1125.25 L1662.3 1124.45 L1662.8 1124.63 L1663.3 1125.56 L1663.8 1126.51 L1664.3 1126.32 L1664.8 1125.91 L1665.3 1126.36 L1665.8 1127.77 L1666.3 1126.94 L1666.8 1128.78 L1667.3 1128.33 L1667.8 1128.57 L1668.3 1129.03 L1668.8 1130.32 L1669.3 1130.1 L1669.8 1132.07 L1670.3 1132.71 L1670.8 1132.88 L1671.3 1133.36 L1671.8 1134.09 L1672.3 1135.32 L1672.8 1136.27 L1673.3 1136.56 L1673.8 1137.44 L1674.3 1139.56 L1674.8 1140.57 L1675.3 1140.51 L1675.8 1141.77 L1676.3 1141.88 L1676.8 1143.38 L1677.3 1144.67 L1677.8 1144.89 L1678.3 1144.95 L1678.8 1145.33 L1679.3 1146.19 L1679.8 1147.77 L1680.3 1148.22 L1680.8 1147.76 L1681.3 1149.2 L1681.8 1150.27 L1682.3 1150.58 L1682.8 1150.03 L1683.3 1152.01 L1683.8 1151.85 L1684.3 1152.64 L1684.8 1152.17 L1685.3 1153.28 L1685.8 1153.17 L1686.3 1152.88 L1686.8 1153.92 L1687.3 1154.68 L1687.8 1154.71 L1688.3 1154.82 L1688.8 1154.15 L1689.3 1154.73 L1689.8 1153.77 L1690.3 1154.09 L1690.8 1154.5 L1691.3 1153.83 L1691.8 1153.32 L1692.3 1152.9 L1692.8 1153.15 L1693.3 1153.99 L1693.8 1152.43 L1694.3 1153.3 L1694.8 1152.17 L1695.3 1151.4 L1695.8 1151.53 L1696.3 1150.93 L1696.8 1149.57 L1697.3 1149.86 L1697.8 1149.35 L1698.3 1149.02 L1698.8 1148.49 L1699.3 1147.78 L1699.8 1146.8 L1700.3 1146.08 L1700.8 1145.76 L1701.3 1144.68 L1701.8 1144.48 L1702.3 1142.78 L1702.8 1142.26 L1703.3 1142.03 L1703.8 1140.97 L1704.3 1140.45 L1704.8 1139.46 L1705.3 1138.96 L1705.8 1137.27 L1706.3 1136.92 L1706.8 1136.76 L1707.3 1134.69 L1707.8 1134.53 L1708.3 1133.6 L1708.8 1133.65 L1709.3 1132.36 L1709.8 1131.42 L1710.3 1130.93 L1710.8 1131.58 L1711.3 1130.48 L1711.8 1129.96 L1712.3 1128.73 L1712.8 1128.88 L1713.3 1127.39 L1713.8 1127.41 L1714.3 1126.17 L1714.8 1125.67 L1715.3 1125.72 L1715.8 1126.47 L1716.3 1125.49 L1716.8 1124.4 L1717.3 1123.9 L1717.8 1124.5 L1718.3 1123.7 L1718.8 1124.66 L1719.3 1122.96 L1719.8 1124.1 L1720.3 1123.24 L1720.8 1122.56 L1721.3 1123.08 L1721.8 1123.7 L1722.3 1122.16 L1722.8 1122.24 L1723.3 1123.9 L1723.8 1123.51 L1724.3 1123.8 L1724.8 1123.86 L1725.3 1123.23 L1725.8 1123.99 L1726.3 1124.55 L1726.8 1125.13 L1727.3 1124.34 L1727.8 1124.68 L1728.3 1126.57 L1728.8 1125.85 L1729.3 1127.04 L1729.8 1128.35 L1730.3 1128.46 L1730.8 1128.82 L1731.3 1128.87 L1731.8 1129.75 L1732.3 1129.56 L1732.8 1130.3 L1733.3 1132.46 L1733.8 1133.14 L1734.3 1132.8 L1734.8 1133.95 L1735.3 1135.01 L1735.8 1135.54 L1736.3 1136.64 L1736.8 1137.46 L1737.3 1138.93 L1737.8 1139.78 L1738.3 1138.86 L1738.8 1141.13 L1739.3 1141.03 L1739.8 1141.93 L1740.3 1141.87 L1740.8 1142.85 L1741.3 1143.74 L1741.8 1144.52 L1742.3 1145 L1742.8 1146.37 L1743.3 1145.61 L1743.8 1146.06 L1744.3 1147.55 L1744.8 1147.28 L1745.3 1148.49 L1745.8 1147.57 L1746.3 1148.83 L1746.8 1149.83 L1747.3 1149.73 L1747.8 1148.92 L1748.3 1150.88 L1748.8 1150.71 L1749.3 1150.96 L1749.8 1152.05 L1750.3 1151.54 L1750.8 1152.54 L1751.3 1152.12 L1751.8 1153.23 L1752.3 1152.89 L1752.8 1152.73 L1753.3 1153.57 L1753.8 1153.63" fill="none" stroke="#ff0000" stroke-width="2.2" stroke-linejoin="round"/>
<rect x="978.5" y="1059.5" width="776" height="315" fill="none" stroke="#999" stroke-width="1.2"/>
<rect x="1627.75" y="1063.75" width="122.5" height="45.5" fill="#fff" stroke="#808080" stroke-width="1"/>
<line x1="1633.5" y1="1075" x2="1662.75" y2="1075" stroke="#b4b4ff" stroke-width="1"/>
<line x1="1633.5" y1="1097" x2="1662.75" y2="1097" stroke="#ff0000" stroke-width="2"/>
<text transform="translate(1682.75 1078.75) scale(1 1.06)" font-size="15.8">with PI</text>
<text transform="translate(1677.75 1102.5) scale(1 1.06)" font-size="15.8">with SMC</text>
<text transform="translate(973 1065.5) scale(1 1.12)" font-size="22.2" text-anchor="end">2.5</text>
<text transform="translate(973 1104.5) scale(1 1.12)" font-size="22.2" text-anchor="end">2</text>
<text transform="translate(973 1143.7) scale(1 1.12)" font-size="22.2" text-anchor="end">1.5</text>
<text transform="translate(973 1183) scale(1 1.12)" font-size="22.2" text-anchor="end">1</text>
<text transform="translate(973 1222.3) scale(1 1.12)" font-size="22.2" text-anchor="end">0.5</text>
<text transform="translate(973 1261.3) scale(1 1.12)" font-size="22.2" text-anchor="end">0</text>
<text transform="translate(973 1300.8) scale(1 1.12)" font-size="22.2" text-anchor="end">-0.5</text>
<text transform="translate(973 1340) scale(1 1.12)" font-size="22.2" text-anchor="end">-1</text>
<text transform="translate(968.5 1377.5) scale(1 1.12)" font-size="22.2" text-anchor="end">-1.5</text>
<text transform="translate(979.25 1402.2) scale(1 1.12)" font-size="22.2" text-anchor="middle">0</text>
<text transform="translate(1056.25 1402.2) scale(1 1.12)" font-size="22.2" text-anchor="middle">2</text>
<text transform="translate(1134.25 1402.2) scale(1 1.12)" font-size="22.2" text-anchor="middle">4</text>
<text transform="translate(1212 1402.2) scale(1 1.12)" font-size="22.2" text-anchor="middle">6</text>
<text transform="translate(1289.7 1402.2) scale(1 1.12)" font-size="22.2" text-anchor="middle">8</text>
<text transform="translate(1367 1402.2) scale(1 1.12)" font-size="22.2" text-anchor="middle">10</text>
<text transform="translate(1445.7 1402.2) scale(1 1.12)" font-size="22.2" text-anchor="middle">12</text>
<text transform="translate(1523.9 1402.2) scale(1 1.12)" font-size="22.2" text-anchor="middle">14</text>
<text transform="translate(1601.1 1402.2) scale(1 1.12)" font-size="22.2" text-anchor="middle">16</text>
<text transform="translate(1678.3 1402.2) scale(1 1.12)" font-size="22.2" text-anchor="middle">18</text>
<text transform="translate(1751.4 1402.2) scale(1 1.12)" font-size="22.2" text-anchor="middle">20</text>
<text transform="translate(1331 1418) scale(1 1.12)" font-size="22.2" textLength="93.6" lengthAdjust="spacingAndGlyphs">Time (sec)</text>
<text transform="translate(1271.7 1047.5) scale(1 1.12)" font-size="22.2" textLength="269.3" lengthAdjust="spacingAndGlyphs">Active Power Behavior (MW)</text>
<text transform="translate(933,1214.1) rotate(-90)" text-anchor="middle" font-size="22.2" textLength="73.6" lengthAdjust="spacingAndGlyphs">P (MW)</text>
<line x1="175.5" y1="1548" x2="175.5" y2="1850.5" stroke="#7a7a7a" stroke-width="1" stroke-dasharray="2.5,2.3"/>
<line x1="246.5" y1="1548" x2="246.5" y2="1850.5" stroke="#7a7a7a" stroke-width="1" stroke-dasharray="2.5,2.3"/>
<line x1="317.5" y1="1548" x2="317.5" y2="1850.5" stroke="#7a7a7a" stroke-width="1" stroke-dasharray="2.5,2.3"/>
<line x1="388.5" y1="1548" x2="388.5" y2="1850.5" stroke="#7a7a7a" stroke-width="1" stroke-dasharray="2.5,2.3"/>
<line x1="459.5" y1="1548" x2="459.5" y2="1850.5" stroke="#7a7a7a" stroke-width="1" stroke-dasharray="2.5,2.3"/>
<line x1="530.5" y1="1548" x2="530.5" y2="1850.5" stroke="#7a7a7a" stroke-width="1" stroke-dasharray="2.5,2.3"/>
<line x1="601.5" y1="1548" x2="601.5" y2="1850.5" stroke="#7a7a7a" stroke-width="1" stroke-dasharray="2.5,2.3"/>
<line x1="672.5" y1="1548" x2="672.5" y2="1850.5" stroke="#7a7a7a" stroke-width="1" stroke-dasharray="2.5,2.3"/>
<line x1="743.5" y1="1548" x2="743.5" y2="1850.5" stroke="#7a7a7a" stroke-width="1" stroke-dasharray="2.5,2.3"/>
<line x1="104.5" y1="1598.5" x2="814.5" y2="1598.5" stroke="#7a7a7a" stroke-width="1" stroke-dasharray="2.5,2.3"/>
<line x1="104.5" y1="1648.5" x2="814.5" y2="1648.5" stroke="#7a7a7a" stroke-width="1" stroke-dasharray="2.5,2.3"/>
<line x1="104.5" y1="1698.5" x2="814.5" y2="1698.5" stroke="#7a7a7a" stroke-width="1" stroke-dasharray="2.5,2.3"/>
<line x1="104.5" y1="1749.5" x2="814.5" y2="1749.5" stroke="#7a7a7a" stroke-width="1" stroke-dasharray="2.5,2.3"/>
<line x1="104.5" y1="1799.5" x2="814.5" y2="1799.5" stroke="#7a7a7a" stroke-width="1" stroke-dasharray="2.5,2.3"/>
<path d="M104.72 1816 L105.16 1697.3 L105.6 1648.71 L106.04 1647.61 L107.15 1643.74 L108.03 1644.29 L108.8 1645.4 L109.13 1692.88 L109.58 1677.42 L110.24 1642.08 L111.01 1637.67" fill="none" stroke="#0000ff" stroke-width="1.6" stroke-linejoin="round"/>
<path d="M111 1636.61 L111.5 1638.2 L112 1635.8 L112.5 1640.69 L113 1640.33 L113.5 1641.52 L114 1638.49 L114.5 1638.54 L115 1638.2 L115.5 1639.16 L116 1638.68 L116.5 1642.05 L117 1640.83 L117.5 1643.17 L118 1643.18 L118.5 1641.53 L119 1640.94 L119.5 1642 L120 1640.76 L120.5 1643.82 L121 1641.92 L121.5 1641.92 L122 1645.52 L122.5 1643.62 L123 1646.14 L123.5 1646.47 L124 1645.18 L124.5 1643.43 L125 1643.11 L125.5 1643.71 L126 1646.1 L126.5 1645.2 L127 1644.35 L127.5 1643.18 L128 1644.83 L128.5 1645.14 L129 1643.76 L129.5 1644.7 L130 1645.01 L130.5 1645.66 L131 1646.12 L131.5 1646.54 L132 1647.93 L132.5 1645.46 L133 1644.62 L133.5 1645.66 L134 1645.33 L134.5 1647.06 L135 1646.67 L135.5 1646.02 L136 1645.04 L136.5 1648.12 L137 1647.6 L137.5 1647.65 L138 1648.07 L138.5 1648.82 L139 1645.1 L139.5 1645.86 L140 1647.21 L140.5 1648.3 L141 1647.44 L141.5 1647.49 L142 1646.62 L142.5 1646.36 L143 1649.3 L143.5 1649.84 L144 1647.65 L144.5 1647.53 L145 1646 L145.5 1648.21 L146 1646.45 L146.5 1648.38 L147 1646.81 L147.5 1647.7 L148 1649.56 L148.5 1647.04 L149 1648.08 L149.5 1647.11 L150 1647.9 L150.5 1649.68 L151 1647.97 L151.5 1650.16 L152 1647.62 L152.5 1647.85 L153 1648.75 L153.5 1648.1 L154 1648.9 L154.5 1647.16 L155 1645.9 L155.5 1647.8 L156 1646.16 L156.5 1647.02 L157 1648.64 L157.5 1649.08 L158 1650.1 L158.5 1649.05 L159 1648.49 L159.5 1647.53 L160 1648.15 L160.5 1647.29 L161 1646.45 L161.5 1648.44 L162 1648.89 L162.5 1647.41 L163 1649.41 L163.5 1648.45 L164 1647.45 L164.5 1649.95 L165 1646.14 L165.5 1647.28 L166 1647.52 L166.5 1649.15 L167 1647.22 L167.5 1650.58 L168 1646.55 L168.5 1648.15 L169 1648.24 L169.5 1649.51 L170 1647.26 L170.5 1646.84 L171 1649.52 L171.5 1649.72 L172 1648.75 L172.5 1650.26 L173 1647.93 L173.5 1648.18 L174 1648.41 L174.5 1646.71 L175 1649.93 L175.5 1646.41 L176 1646.49 L176.5 1650.32 L177 1648.21 L177.5 1646.81 L178 1650.22 L178.5 1647.02 L179 1648.23 L179.5 1646.21 L180 1646.81 L180.5 1648.37 L181 1649.38 L181.5 1646.75 L182 1649.66 L182.5 1649.12 L183 1649.25 L183.5 1650.6 L184 1648.37 L184.5 1646.19 L185 1646.42 L185.5 1650.17 L186 1646.67 L186.5 1647.43 L187 1649.17 L187.5 1649.56 L188 1649.64 L188.5 1648.75 L189 1647.68 L189.5 1650.32 L190 1646.26 L190.5 1647.36 L191 1650.72 L191.5 1647.04 L192 1650.05 L192.5 1648.95 L193 1649.09 L193.5 1649.09 L194 1648.25 L194.5 1650.05 L195 1646.46 L195.5 1647.5 L196 1649.73 L196.5 1649.58 L197 1649.14 L197.5 1649.36 L198 1647.54 L198.5 1648.95 L199 1648.81 L199.5 1649.94 L200 1647.25 L200.5 1647.49 L201 1647.67 L201.5 1647.14 L202 1649.54 L202.5 1648.45 L203 1646.5 L203.5 1650.3 L204 1648.6 L204.5 1649.98 L205 1649.62 L205.5 1648.02 L206 1647.67 L206.5 1648.72 L207 1650.52 L207.5 1649.88 L208 1650.6 L208.5 1648.83 L209 1648.7 L209.5 1647.58 L210 1648.72 L210.5 1648.76 L211 1649.7 L211.5 1650.05 L212 1650.34 L212.5 1647.36 L213 1649.17 L213.5 1646.5 L214 1647.49 L214.5 1648.98 L215 1646.2 L215.5 1650.17 L216 1648.68 L216.5 1647.3 L217 1648.14 L217.5 1649.66 L218 1646.62 L218.5 1650.39 L219 1649.22 L219.5 1648.63 L220 1647.08 L220.5 1649.07 L221 1647.22 L221.5 1646.52 L222 1650.12 L222.5 1647.81 L223 1649.74 L223.5 1648.42 L224 1648.79 L224.5 1647.98 L225 1649.97 L225.5 1649.79 L226 1647.98 L226.5 1648.76 L227 1647.46 L227.5 1650.39 L228 1648.3 L228.5 1648.96 L229 1648.84 L229.5 1646.65 L230 1647.73 L230.5 1649.78 L231 1648.91 L231.5 1647.33 L232 1646.96 L232.5 1650.19 L233 1649.94 L233.5 1650.27 L234 1647.01 L234.5 1648.72 L235 1648.21 L235.5 1648.16 L236 1647.86 L236.5 1649.15 L237 1648.83 L237.5 1646.54 L238 1646.38 L238.5 1647.01 L239 1649.93 L239.5 1650.16 L240 1649.29 L240.5 1647.89 L241 1648.65 L241.5 1649.15 L242 1646.99 L242.5 1650.61 L243 1650.42 L243.5 1646.36 L244 1647.37 L244.5 1647.46 L245 1650.16 L245.5 1650.38 L246 1650.54 L246.5 1648.17 L247 1648.7 L247.5 1647.11 L248 1646.34 L248.5 1649.13 L249 1648.72 L249.5 1650.23 L250 1650.44 L250.5 1648.67 L251 1646.46 L251.5 1648.82 L252 1650.48 L252.5 1648.39 L253 1649.17 L253.5 1648.56 L254 1648.26 L254.5 1648.14 L255 1647.27 L255.5 1648.26 L256 1649.86 L256.5 1649.61 L257 1646.34 L257.5 1647.2 L258 1646.53 L258.5 1646.62 L259 1646.24 L259.5 1649.54 L260 1647.13 L260.5 1649.24 L261 1650.02 L261.5 1646.91 L262 1647.33 L262.5 1646.74 L263 1646.81 L263.5 1650.72 L264 1650.24 L264.5 1650.66 L265 1647.05 L265.5 1648.16 L266 1648.75 L266.5 1646.5 L267 1649.18 L267.5 1650.22 L268 1650.47 L268.5 1650.18 L269 1647.6 L269.5 1649.89 L270 1647.14 L270.5 1648.32 L271 1646.54 L271.5 1646.64 L272 1646.57 L272.5 1647.84 L273 1649.62 L273.5 1648.77 L274 1646.97 L274.5 1647.53 L275 1647.87 L275.5 1646.73 L276 1646.95 L276.5 1650.55 L277 1649.79 L277.5 1649.34 L278 1646.62 L278.5 1648.55 L279 1649.83 L279.5 1649.98 L280 1647.21 L280.5 1647.94 L281 1649.01 L281.5 1646.89 L282 1648.97 L282.5 1646.55 L283 1649.95 L283.5 1647.23 L284 1647.87 L284.5 1649.42 L285 1648.95 L285.5 1650.75 L286 1649.24 L286.5 1647.42 L287 1646.84 L287.5 1649.78 L288 1649.53 L288.5 1647.09 L289 1649.97 L289.5 1647.94 L290 1647.04 L290.5 1646.9 L291 1648.24 L291.5 1649.82 L292 1648.6 L292.5 1647.59 L293 1649.16 L293.5 1646.29 L294 1649.58 L294.5 1649.35 L295 1648.31 L295.5 1646.51 L296 1648.06 L296.5 1650.36 L297 1650.49 L297.5 1649.69 L298 1649.44 L298.5 1650.72 L299 1647.45 L299.5 1650.25 L300 1650.41 L300.5 1650.04 L301 1647.27 L301.5 1649.18 L302 1646.35 L302.5 1647.28 L303 1650.05 L303.5 1646.86 L304 1649.17 L304.5 1647.11 L305 1650.66 L305.5 1650.49 L306 1650.64 L306.5 1648.91 L307 1650.79 L307.5 1646.9 L308 1648.87 L308.5 1646.67 L309 1648.95 L309.5 1650.75 L310 1649.57 L310.5 1649.84 L311 1650.36 L311.5 1650.2 L312 1649.03 L312.5 1649.76 L313 1646.91 L313.5 1647.35 L314 1649.52 L314.5 1649.53 L315 1648.04 L315.5 1648.36 L316 1647.75 L316.5 1649.86 L317 1648.26 L317.5 1647.71 L318 1647.22 L318.5 1648.31 L319 1650.27 L319.5 1647.32 L320 1646.36 L320.5 1647.86 L321 1647.83 L321.5 1650.33 L322 1648.66 L322.5 1648.82 L323 1647.59 L323.5 1648.06 L324 1648.58 L324.5 1648.47 L325 1648.37 L325.5 1650.63 L326 1648.95 L326.5 1647.82 L327 1649.57 L327.5 1646.87 L328 1646.73 L328.5 1647.99 L329 1648.64 L329.5 1649.07 L330 1646.73 L330.5 1649.18 L331 1650.5 L331.5 1647.33 L332 1648.01 L332.5 1648.54 L333 1649.84 L333.5 1650.11 L334 1649.18 L334.5 1648.8 L335 1647.06 L335.5 1648.6 L336 1646.57 L336.5 1646.36 L337 1646.81 L337.5 1650.13 L338 1647.41 L338.5 1646.92 L339 1649.71 L339.5 1648.21 L340 1646.76 L340.5 1649.2 L341 1650.66 L341.5 1646.3 L342 1650.68 L342.5 1648.77 L343 1649.61 L343.5 1648.99 L344 1648.08 L344.5 1647.8 L345 1649.63 L345.5 1648.23 L346 1649.55 L346.5 1648.88 L347 1650 L347.5 1648.19 L348 1647.63 L348.5 1647.92 L349 1648.75 L349.5 1649.48 L350 1648.92 L350.5 1646.43 L351 1650.76 L351.5 1648.21 L352 1646.7 L352.5 1649.78 L353 1646.86 L353.5 1646.22 L354 1650.27 L354.5 1648.71 L355 1649.01 L355.5 1647.98 L356 1646.62 L356.5 1650.41 L357 1646.32 L357.5 1647.91 L358 1649.68 L358.5 1649.39 L359 1646.89 L359.5 1647.97 L360 1647.25 L360.5 1647.7 L361 1647.13 L361.5 1646.65 L362 1650.14 L362.5 1650.11 L363 1648.01 L363.5 1647.24 L364 1649.69 L364.5 1648.74 L365 1650.22 L365.5 1648.64 L366 1648.2 L366.5 1649.15 L367 1649.76 L367.5 1650.69 L368 1649.17 L368.5 1648.55 L369 1648.51 L369.5 1647.21 L370 1646.99 L370.5 1649.52 L371 1648.3 L371.5 1647.83 L372 1648.47 L372.5 1647.06 L373 1646.51 L373.5 1647.49 L374 1648.48 L374.5 1648.47 L375 1649.83 L375.5 1647.7 L376 1649.31 L376.5 1647.52 L377 1650.74 L377.5 1649.36 L378 1648.36 L378.5 1648.03 L379 1648.78 L379.5 1646.96 L380 1649.22 L380.5 1650.32 L381 1649.83 L381.5 1646.92 L382 1649.27 L382.5 1647.09 L383 1649.94 L383.5 1647.98 L384 1648.28 L384.5 1648.11 L385 1649.55 L385.5 1650.11 L386 1647.34 L386.5 1650.53 L387 1647.24 L387.5 1646.37 L388 1649.91 L388.5 1650.42 L389 1646.96 L389.5 1646.24 L390 1647.66 L390.5 1646.41 L391 1650.39 L391.5 1647.66 L392 1646.2 L392.5 1648.7 L393 1647.83 L393.5 1646.66 L394 1646.37 L394.5 1648.21 L395 1648.69 L395.5 1650.59 L396 1648.89 L396.5 1650.34 L397 1648.03 L397.5 1650.18 L398 1647 L398.5 1649.97 L399 1648.15 L399.5 1648.69 L400 1649.98 L400.5 1646.73 L401 1648.96 L401.5 1648.6 L402 1648.51 L402.5 1647.26 L403 1650.43 L403.5 1647.81 L404 1648.77 L404.5 1647.21 L405 1646.81 L405.5 1647.78 L406 1646.43 L406.5 1650.77 L407 1646.89 L407.5 1647.22 L408 1648.3 L408.5 1647.87 L409 1647.47 L409.5 1646.28 L410 1647.05 L410.5 1649.86 L411 1647.63 L411.5 1649.76 L412 1649.21 L412.5 1650.52 L413 1646.99 L413.5 1648.86 L414 1646.49 L414.5 1647.87 L415 1649.8 L415.5 1648.34 L416 1650.6 L416.5 1649.7 L417 1646.54 L417.5 1648.74 L418 1647.47 L418.5 1646.28 L419 1649.39 L419.5 1649.76 L420 1646.95 L420.5 1650.15 L421 1649.93 L421.5 1648.97 L422 1648.64 L422.5 1648.58 L423 1650.16 L423.5 1649.97 L424 1647.72 L424.5 1649.5 L425 1647.01 L425.5 1650.48 L426 1649.84 L426.5 1650.03 L427 1650.24 L427.5 1647.01 L428 1649.22 L428.5 1649.48 L429 1649.23 L429.5 1649.44 L430 1650.06 L430.5 1648.8 L431 1649.52 L431.5 1646.41 L432 1649.3 L432.5 1649.13 L433 1650.35 L433.5 1648.57 L434 1647.53 L434.5 1650.59 L435 1647.26 L435.5 1648.87 L436 1649.66 L436.5 1650.8 L437 1647.89 L437.5 1649.74 L438 1649.67 L438.5 1646.73 L439 1650.46 L439.5 1646.56 L440 1650.28 L440.5 1650.17 L441 1648.52 L441.5 1649.87 L442 1646.63 L442.5 1646.36 L443 1647.55 L443.5 1647.28 L444 1648.41 L444.5 1650.45 L445 1649 L445.5 1649.22 L446 1649.18 L446.5 1646.28 L447 1648.78 L447.5 1648.1 L448 1647.79 L448.5 1647.52 L449 1647.96 L449.5 1648.72 L450 1648.75 L450.5 1646.86 L451 1646.71 L451.5 1649.63 L452 1647.8 L452.5 1649.94 L453 1647.69 L453.5 1648.24 L454 1649.43 L454.5 1647.83 L455 1648.85 L455.5 1650.72 L456 1646.54 L456.5 1649.36 L457 1649.73 L457.5 1650.59 L458 1650.58 L458.5 1647.56 L459 1647.79 L459.5 1648.32 L460 1649.23 L460.5 1647.31 L461 1647.39 L461.5 1647.96 L462 1647.76 L462.5 1648.34 L463 1648.32 L463.5 1649.32 L464 1649.77 L464.5 1649.31 L465 1649.79 L465.5 1646.49 L466 1649.62 L466.5 1648.21 L467 1648.66 L467.5 1649.48 L468 1648.47 L468.5 1647.21 L469 1648.85 L469.5 1647.57 L470 1648.01 L470.5 1649.01 L471 1648.64 L471.5 1647.05 L472 1648.06 L472.5 1646.31 L473 1648.09 L473.5 1650.57 L474 1649.35 L474.5 1647.12 L475 1648.84 L475.5 1649.21 L476 1649.37 L476.5 1649.13 L477 1646.71 L477.5 1650.18 L478 1650.25 L478.5 1646.83 L479 1649.07 L479.5 1646.45 L480 1646.82 L480.5 1649.17 L481 1649.23 L481.5 1648.87 L482 1648.25 L482.5 1650.63 L483 1650.8 L483.5 1647.23 L484 1648.5 L484.5 1647.78 L485 1647.23 L485.5 1650.31 L486 1650.73 L486.5 1646.66 L487 1647.78 L487.5 1650.5 L488 1650.37 L488.5 1649.57 L489 1648.52 L489.5 1649.6 L490 1649.89 L490.5 1649.1 L491 1650.11 L491.5 1650.67 L492 1646.85 L492.5 1646.88 L493 1649 L493.5 1648.02 L494 1649.68 L494.5 1650.21 L495 1647.31 L495.5 1646.78 L496 1647.23 L496.5 1646.42 L497 1649.44 L497.5 1648.78 L498 1648.69 L498.5 1650.73 L499 1647.15 L499.5 1650.46 L500 1649.86 L500.5 1648.17 L501 1647.11 L501.5 1650.76 L502 1650.45 L502.5 1647.08 L503 1649.56 L503.5 1648.45 L504 1648.96 L504.5 1649.42 L505 1650.33 L505.5 1646.86 L506 1649.66 L506.5 1647.23 L507 1646.85 L507.5 1646.44 L508 1646.69 L508.5 1648.33 L509 1648.85 L509.5 1649.12 L510 1647.73 L510.5 1649.16 L511 1650.34 L511.5 1648.68 L512 1648.16 L512.5 1646.29 L513 1647.08 L513.5 1650.45 L514 1649.18 L514.5 1648.85 L515 1648.38 L515.5 1648.2 L516 1647.47 L516.5 1650.21 L517 1646.4 L517.5 1647.03 L518 1648.36 L518.5 1648.99 L519 1648.85 L519.5 1650.18 L520 1649.32 L520.5 1648.73 L521 1649.29 L521.5 1647.13 L522 1648.94 L522.5 1648.74 L523 1650 L523.5 1650.11 L524 1650.11 L524.5 1647.7 L525 1649.63 L525.5 1650.28 L526 1648.57 L526.5 1647.57 L527 1649.89 L527.5 1648.95 L528 1646.87 L528.5 1649.99 L529 1649.15 L529.5 1647.76 L530 1646.31 L530.5 1650.32 L531 1648.18 L531.5 1646.51 L532 1646.39 L532.5 1647.35 L533 1648.3 L533.5 1649.35 L534 1647.74 L534.5 1649.47 L535 1648.38 L535.5 1647.66 L536 1649 L536.5 1647.04 L537 1650.34 L537.5 1646.3 L538 1649.55 L538.5 1650.77 L539 1649.17 L539.5 1649.82 L540 1650.52 L540.5 1647.01 L541 1646.33 L541.5 1649.27 L542 1650 L542.5 1647.61 L543 1649.48 L543.5 1647.65 L544 1646.42 L544.5 1648.41 L545 1648.78 L545.5 1647.86 L546 1646.76 L546.5 1649.75 L547 1649.82 L547.5 1648.67 L548 1648.53 L548.5 1646.81 L549 1648.19 L549.5 1649.1 L550 1650.13 L550.5 1649.69 L551 1650.14 L551.5 1647.14 L552 1648.87 L552.5 1646.47 L553 1648.39 L553.5 1647.46 L554 1646.3 L554.5 1646.78 L555 1649.48 L555.5 1647.89 L556 1648.64 L556.5 1646.82 L557 1648.49 L557.5 1647.32 L558 1650.29 L558.5 1647.92 L559 1649.18 L559.5 1647.43 L560 1649.56 L560.5 1649.52 L561 1649.26 L561.5 1646.22 L562 1649.35 L562.5 1650.31 L563 1650.78 L563.5 1649.3 L564 1646.31 L564.5 1650.09 L565 1650.05 L565.5 1648.53 L566 1647.65 L566.5 1648.12 L567 1649.49 L567.5 1650.36 L568 1650.05 L568.5 1650.45 L569 1647.67 L569.5 1650.25 L570 1646.33 L570.5 1647.4 L571 1650.49 L571.5 1649.74 L572 1647.44 L572.5 1647.32 L573 1649.5 L573.5 1650.24 L574 1648.35 L574.5 1649.65 L575 1647.57 L575.5 1650.51 L576 1646.79 L576.5 1647.57 L577 1649.48 L577.5 1646.59 L578 1648.39 L578.5 1648.46 L579 1648.69 L579.5 1648.75 L580 1648.73 L580.5 1650.2 L581 1649.55 L581.5 1649.68 L582 1648.81 L582.5 1649.69 L583 1647.96 L583.5 1649.19 L584 1650.33 L584.5 1648.44 L585 1649.16 L585.5 1647.87 L586 1649.42 L586.5 1646.55 L587 1648.2 L587.5 1649.16 L588 1649.09 L588.5 1647.44 L589 1647.61 L589.5 1648.43 L590 1648.69 L590.5 1650.31 L591 1650.35 L591.5 1648.75 L592 1647.08 L592.5 1649.81 L593 1647.46 L593.5 1647.93 L594 1648.32 L594.5 1646.2 L595 1648.12 L595.5 1650.76 L596 1646.37 L596.5 1647.2 L597 1648.82 L597.5 1650.76 L598 1650.11 L598.5 1646.78 L599 1650.27 L599.5 1646.34 L600 1647.68 L600.5 1648.5 L601 1649.61 L601.5 1648.39 L602 1647.49 L602.5 1647.15 L603 1649.96 L603.5 1647.77 L604 1648.64 L604.5 1648.51 L605 1649.33 L605.5 1646.68 L606 1648.57 L606.5 1649.87 L607 1646.53 L607.5 1648.77 L608 1648.29 L608.5 1649.53 L609 1649.3 L609.5 1647.66 L610 1649.46 L610.5 1648.52 L611 1647.85 L611.5 1649.84 L612 1647.02 L612.5 1646.22 L613 1648.21 L613.5 1648.34 L614 1646.68 L614.5 1646.47 L615 1649.54 L615.5 1650.16 L616 1646.3 L616.5 1650.32 L617 1646.28 L617.5 1649.5 L618 1649.19 L618.5 1647.35 L619 1649.62 L619.5 1646.91 L620 1649.66 L620.5 1647.94 L621 1649.09 L621.5 1647.06 L622 1646.67 L622.5 1650.32 L623 1648.43 L623.5 1647.47 L624 1646.66 L624.5 1646.64 L625 1648.02 L625.5 1646.56 L626 1646.71 L626.5 1648.45 L627 1649.4 L627.5 1648.02 L628 1650.47 L628.5 1648.31 L629 1648.59 L629.5 1649.15 L630 1648.6 L630.5 1649.94 L631 1647.23 L631.5 1647.55 L632 1648.48 L632.5 1649.96 L633 1650.55 L633.5 1647.78 L634 1649.68 L634.5 1647.88 L635 1647.18 L635.5 1650.2 L636 1649.98 L636.5 1648.45 L637 1646.79 L637.5 1648.14 L638 1646.76 L638.5 1648.19 L639 1650.26 L639.5 1646.43 L640 1650.34 L640.5 1647.81 L641 1650.05 L641.5 1647.42 L642 1648.13 L642.5 1647.06 L643 1650.31 L643.5 1647.64 L644 1650.52 L644.5 1650.69 L645 1650.38 L645.5 1646.92 L646 1649.34 L646.5 1650.58 L647 1650.12 L647.5 1648.93 L648 1647.6 L648.5 1648.77 L649 1648.36 L649.5 1649.92 L650 1649.9 L650.5 1646.95 L651 1649.61 L651.5 1649.55 L652 1649.4 L652.5 1649.3 L653 1647.03 L653.5 1648.43 L654 1648.36 L654.5 1647.96 L655 1648.64 L655.5 1647.23 L656 1650.77 L656.5 1647.9 L657 1650.64 L657.5 1647.45 L658 1649.02 L658.5 1648.65 L659 1647.52 L659.5 1647.75 L660 1649.84 L660.5 1648.82 L661 1648.17 L661.5 1647.27 L662 1650.13 L662.5 1648.79 L663 1650.15 L663.5 1648.03 L664 1647.45 L664.5 1647.8 L665 1646.26 L665.5 1648.53 L666 1647.39 L666.5 1649.46 L667 1646.38 L667.5 1648.76 L668 1649.52 L668.5 1649.13 L669 1646.27 L669.5 1647.75 L670 1647.7 L670.5 1646.7 L671 1650.73 L671.5 1650.76 L672 1649.11 L672.5 1649.87 L673 1648.82 L673.5 1649.28 L674 1648.55 L674.5 1647.01 L675 1650.54 L675.5 1647.13 L676 1649 L676.5 1650.69 L677 1650.76 L677.5 1647.84 L678 1649.07 L678.5 1647.81 L679 1647.17 L679.5 1649.84 L680 1649.55 L680.5 1649.3 L681 1650.17 L681.5 1648.35 L682 1647.49 L682.5 1649.79 L683 1647.14 L683.5 1649.82 L684 1650.06 L684.5 1647.74 L685 1647.29 L685.5 1650.57 L686 1648.4 L686.5 1649.1 L687 1649.44 L687.5 1649.5 L688 1647.92 L688.5 1649.22 L689 1646.92 L689.5 1650.59 L690 1650.08 L690.5 1646.2 L691 1647.74 L691.5 1649.37 L692 1648.51 L692.5 1650.2 L693 1647.78 L693.5 1647.21 L694 1647.3 L694.5 1647.96 L695 1646.9 L695.5 1647.11 L696 1648.4 L696.5 1650.44 L697 1648.62 L697.5 1647.74 L698 1648.72 L698.5 1650.64 L699 1648.94 L699.5 1646.36 L700 1648.3 L700.5 1649.81 L701 1646.78 L701.5 1646.25 L702 1650.01 L702.5 1646.94 L703 1648.84 L703.5 1647.23 L704 1647.24 L704.5 1648.81 L705 1647.77 L705.5 1646.71 L706 1648.22 L706.5 1646.21 L707 1648.95 L707.5 1650.67 L708 1646.82 L708.5 1650.73 L709 1647.87 L709.5 1649.46 L710 1647.13 L710.5 1649.17 L711 1648.79 L711.5 1647.48 L712 1650.41 L712.5 1647.96 L713 1650.33 L713.5 1648.96 L714 1650.68 L714.5 1648.2 L715 1650.63 L715.5 1649.37 L716 1650.29 L716.5 1646.81 L717 1650.33 L717.5 1650.7 L718 1649.36 L718.5 1650.19 L719 1648.27 L719.5 1646.55 L720 1649.73 L720.5 1647.43 L721 1648.21 L721.5 1646.73 L722 1647.9 L722.5 1646.43 L723 1646.36 L723.5 1646.84 L724 1650.5 L724.5 1648.86 L725 1650.4 L725.5 1650.52 L726 1650.65 L726.5 1649.26 L727 1650.41 L727.5 1650.12 L728 1646.57 L728.5 1650.07 L729 1649.74 L729.5 1646.67 L730 1649.43 L730.5 1647.59 L731 1647.58 L731.5 1646.82 L732 1646.83 L732.5 1648.08 L733 1650.79 L733.5 1649.29 L734 1648.07 L734.5 1648.77 L735 1647.3 L735.5 1647.23 L736 1650.78 L736.5 1649.18 L737 1647 L737.5 1649.05 L738 1648.6 L738.5 1649.34 L739 1646.56 L739.5 1647.34 L740 1647.72 L740.5 1646.35 L741 1648.72 L741.5 1648.34 L742 1649.11 L742.5 1650.69 L743 1648.17 L743.5 1646.94 L744 1649.77 L744.5 1649.7 L745 1648.65 L745.5 1647.76 L746 1649.84 L746.5 1647.14 L747 1647.85 L747.5 1648.78 L748 1648.2 L748.5 1648.41 L749 1646.68 L749.5 1650.17 L750 1649.02 L750.5 1649.47 L751 1650.79 L751.5 1646.88 L752 1648.37 L752.5 1647.75 L753 1646.94 L753.5 1647.84 L754 1647.74 L754.5 1647.41 L755 1646.63 L755.5 1649.87 L756 1650.43 L756.5 1649.12 L757 1648.89 L757.5 1648.46 L758 1647.74 L758.5 1649.6 L759 1650.69 L759.5 1647.58 L760 1647.96 L760.5 1648.51 L761 1650.5 L761.5 1649.28 L762 1650.79 L762.5 1648.64 L763 1648.23 L763.5 1646.7 L764 1646.95 L764.5 1650.48 L765 1648.72 L765.5 1648.44 L766 1649.93 L766.5 1648.83 L767 1649.79 L767.5 1647.03 L768 1650.69 L768.5 1647.28 L769 1646.46 L769.5 1648.79 L770 1650.27 L770.5 1649.66 L771 1648.02 L771.5 1646.55 L772 1647.6 L772.5 1648.27 L773 1649.78 L773.5 1649.74 L774 1647.8 L774.5 1648.64 L775 1649.41 L775.5 1648.38 L776 1648.75 L776.5 1648.4 L777 1646.95 L777.5 1648 L778 1648.4 L778.5 1648.93 L779 1647.18 L779.5 1649.96 L780 1649.83 L780.5 1646.93 L781 1646.46 L781.5 1647.75 L782 1650.18 L782.5 1649.09 L783 1650.21 L783.5 1647 L784 1650.32 L784.5 1648.78 L785 1646.85 L785.5 1650.65 L786 1647.09 L786.5 1649.53 L787 1646.94 L787.5 1649.18 L788 1650.12 L788.5 1646.83 L789 1648.47 L789.5 1647.61 L790 1647.08 L790.5 1648.72 L791 1649.58 L791.5 1648.42 L792 1649.53 L792.5 1646.27 L793 1647.42 L793.5 1649.28 L794 1647.6 L794.5 1649.34 L795 1647.22 L795.5 1650.08 L796 1649.98 L796.5 1649.52 L797 1646.96 L797.5 1646.35 L798 1647.87 L798.5 1650.36 L799 1648.33 L799.5 1648.17 L800 1649.17 L800.5 1649.29 L801 1646.6 L801.5 1650.28 L802 1649.99 L802.5 1650.23 L803 1647.24 L803.5 1646.57 L804 1649.29 L804.5 1650.65 L805 1649.95 L805.5 1650.21 L806 1648.4 L806.5 1647.8 L807 1648.7 L807.5 1648.24 L808 1647.79 L808.5 1646.52 L809 1649.25 L809.5 1646.85 L810 1648.52 L810.5 1646.85 L811 1649.62 L811.5 1646.38 L812 1649.62 L812.5 1647.06 L813 1646.63 L813.5 1648.8 L814 1646.43" fill="none" stroke="#0000ff" stroke-width="1.5" stroke-linejoin="round"/>
<path d="M104.72 1816 L105.27 1697.3 L105.82 1647.61 L106.37 1643.74 L107.37 1642.64 L108.25 1642.64 L108.91 1642.08 L109.13 1688.46 L109.69 1653.13 L110.46 1632.15 L111.12 1631.04" fill="none" stroke="#ff0000" stroke-width="1.8" stroke-linejoin="round"/>
<path d="M111 1632.02 L111.5 1634.62 L112 1636.93 L112.5 1634.63 L113 1636.04 L113.5 1635.8 L114 1637.89 L114.5 1638.12 L115 1638.19 L115.5 1640.28 L116 1639.49 L116.5 1638.31 L117 1638.85 L117.5 1640.34 L118 1640.95 L118.5 1639.23 L119 1642.14 L119.5 1640.86 L120 1642.6 L120.5 1639.89 L121 1641.17 L121.5 1640.12 L122 1642.13 L122.5 1641.67 L123 1642.32 L123.5 1641.99 L124 1644.99 L124.5 1644.25 L125 1643.2 L125.5 1644.05 L126 1642.86 L126.5 1646.38 L127 1646.39 L127.5 1645.09 L128 1643.41 L128.5 1647.09 L129 1644 L129.5 1643.43 L130 1645.17 L130.5 1645.12 L131 1647.33 L131.5 1644.36 L132 1644.1 L132.5 1645.89 L133 1644.24 L133.5 1647.08 L134 1646.41 L134.5 1648.21 L135 1648.57 L135.5 1645.57 L136 1648.09 L136.5 1646.91 L137 1648.98 L137.5 1645.22 L138 1646.95 L138.5 1649.33 L139 1645.33 L139.5 1646.49 L140 1646.58 L140.5 1646.87 L141 1649.7 L141.5 1646.23 L142 1649.07 L142.5 1646.67 L143 1649.4 L143.5 1646.24 L144 1646.08 L144.5 1650.03 L145 1645.79 L145.5 1648.6 L146 1646.71 L146.5 1648.39 L147 1647.28 L147.5 1648.67 L148 1648.94 L148.5 1649.29 L149 1646.55 L149.5 1649.7 L150 1647.13 L150.5 1648.72 L151 1649.69 L151.5 1649.55 L152 1648.52 L152.5 1648.4 L153 1646.91 L153.5 1650.12 L154 1648.89 L154.5 1649.69 L155 1650.56 L155.5 1649.41 L156 1647.67 L156.5 1648.48 L157 1647.14 L157.5 1647.62 L158 1650.19 L158.5 1649.37 L159 1647.18 L159.5 1648.75 L160 1648.27 L160.5 1650.08 L161 1650.16 L161.5 1648.06 L162 1646.89 L162.5 1647.36 L163 1649.02 L163.5 1648.15 L164 1646.72 L164.5 1649.85 L165 1649.28 L165.5 1648.02 L166 1646.73 L166.5 1648.16 L167 1649.19 L167.5 1646.9 L168 1647.1 L168.5 1646.81 L169 1646.78 L169.5 1649.34 L170 1649.79 L170.5 1649.47 L171 1648.06 L171.5 1648.23 L172 1646.73 L172.5 1650.23 L173 1649.01 L173.5 1647.52 L174 1647.2 L174.5 1647.92 L175 1648.39 L175.5 1649.78 L176 1647.03 L176.5 1650.14 L177 1647.76 L177.5 1647.4 L178 1649.47 L178.5 1647.38 L179 1651.07 L179.5 1649.71 L180 1649.96 L180.5 1649.15 L181 1650.6 L181.5 1650.5 L182 1649.16 L182.5 1647.37 L183 1649.68 L183.5 1651.13 L184 1647.83 L184.5 1649.83 L185 1647.25 L185.5 1650.39 L186 1649.13 L186.5 1649.23 L187 1649.34 L187.5 1649.08 L188 1649.68 L188.5 1649.48 L189 1648.06 L189.5 1650.6 L190 1647.32 L190.5 1650.05 L191 1648.64 L191.5 1647.22 L192 1647.99 L192.5 1648.94 L193 1647.37 L193.5 1649.54 L194 1650.97 L194.5 1649.94 L195 1649.21 L195.5 1649.4 L196 1648.93 L196.5 1650.15 L197 1649.86 L197.5 1649.03 L198 1650.07 L198.5 1649.63 L199 1647.11 L199.5 1647.42 L200 1648.49 L200.5 1648.17 L201 1649.84 L201.5 1648.87 L202 1649.8 L202.5 1649.94 L203 1650.98 L203.5 1649.15 L204 1647.96 L204.5 1651.1 L205 1648.26 L205.5 1650.09 L206 1647.86 L206.5 1648.55 L207 1649.61 L207.5 1650.83 L208 1650.95 L208.5 1651.04 L209 1649.03 L209.5 1650.07 L210 1650.09 L210.5 1649.05 L211 1650.06 L211.5 1648.49 L212 1648.78 L212.5 1648.2 L213 1647.4 L213.5 1650.92 L214 1649.15 L214.5 1649.05 L215 1649.89 L215.5 1648.02 L216 1647.24 L216.5 1649.56 L217 1647.91 L217.5 1647.59 L218 1649.01 L218.5 1648.51 L219 1650.88 L219.5 1648.96 L220 1650.91 L220.5 1650.22 L221 1649.71 L221.5 1649.32 L222 1647.46 L222.5 1650.62 L223 1647.46 L223.5 1650.38 L224 1651.08 L224.5 1650.67 L225 1650.63 L225.5 1650.26 L226 1648.95 L226.5 1650.22 L227 1649.92 L227.5 1649.63 L228 1648.92 L228.5 1649.54 L229 1650.18 L229.5 1647.3 L230 1649.64 L230.5 1650.84 L231 1647.2 L231.5 1651.19 L232 1650.68 L232.5 1648.8 L233 1649.35 L233.5 1648.65 L234 1647.87 L234.5 1648.25 L235 1650.99 L235.5 1647.13 L236 1648.85 L236.5 1648.02 L237 1649.59 L237.5 1650.95 L238 1649.55 L238.5 1647.75 L239 1651.1 L239.5 1648.58 L240 1650.54 L240.5 1650.73 L241 1648.16 L241.5 1647.51 L242 1651.01 L242.5 1650.64 L243 1647.76 L243.5 1650.67 L244 1650.39 L244.5 1647.68 L245 1647.26 L245.5 1649.34 L246 1648.21 L246.5 1647.68 L247 1646.82 L247.5 1648.13 L248 1646.89 L248.5 1647.01 L249 1647.78 L249.5 1649.04 L250 1649.46 L250.5 1648.37 L251 1647.73 L251.5 1649.15 L252 1649.45 L252.5 1648.58 L253 1649 L253.5 1649.43 L254 1651.06 L254.5 1647.23 L255 1650.56 L255.5 1650.34 L256 1648.6 L256.5 1649.6 L257 1650.73 L257.5 1650.24 L258 1650.23 L258.5 1647.18 L259 1647.84 L259.5 1647.47 L260 1651.1 L260.5 1647.75 L261 1648.6 L261.5 1649.95 L262 1650.49 L262.5 1648.02 L263 1650.77 L263.5 1648.29 L264 1650.6 L264.5 1647.45 L265 1650.87 L265.5 1646.96 L266 1650.65 L266.5 1648.5 L267 1649.73 L267.5 1650.34 L268 1650.94 L268.5 1650.74 L269 1650.35 L269.5 1647.25 L270 1651.09 L270.5 1648.65 L271 1647.78 L271.5 1647.98 L272 1650.1 L272.5 1651.2 L273 1649.5 L273.5 1650.77 L274 1649.19 L274.5 1649.15 L275 1647.04 L275.5 1650.08 L276 1650.97 L276.5 1646.98 L277 1649.35 L277.5 1649.18 L278 1646.95 L278.5 1651.06 L279 1649.88 L279.5 1647.24 L280 1651.12 L280.5 1647.44 L281 1649.39 L281.5 1647.53 L282 1647.96 L282.5 1650.99 L283 1650.43 L283.5 1646.87 L284 1650.34 L284.5 1649.64 L285 1650.86 L285.5 1647.05 L286 1648.94 L286.5 1646.93 L287 1649.49 L287.5 1647.9 L288 1651.19 L288.5 1648.5 L289 1651.19 L289.5 1651.09 L290 1650.36 L290.5 1647.48 L291 1651.17 L291.5 1650.58 L292 1650.03 L292.5 1651.08 L293 1649.32 L293.5 1648.91 L294 1650.46 L294.5 1648.49 L295 1648.77 L295.5 1647.46 L296 1650.68 L296.5 1647.01 L297 1648.22 L297.5 1649.11 L298 1649.7 L298.5 1648.01 L299 1650.6 L299.5 1650.13 L300 1647.68 L300.5 1648.99 L301 1650.1 L301.5 1648.85 L302 1648.69 L302.5 1648.83 L303 1647.56 L303.5 1649.85 L304 1649.09 L304.5 1649.99 L305 1648.57 L305.5 1649.37 L306 1650.31 L306.5 1646.9 L307 1647.2 L307.5 1650.03 L308 1648.12 L308.5 1647.38 L309 1648.89 L309.5 1650.69 L310 1647.02 L310.5 1651.01 L311 1649.68 L311.5 1648.44 L312 1647.17 L312.5 1648.11 L313 1648.29 L313.5 1650.63 L314 1649.49 L314.5 1650.63 L315 1649.04 L315.5 1647.75 L316 1649.44 L316.5 1647.37 L317 1649.46 L317.5 1648.29 L318 1646.86 L318.5 1650.31 L319 1646.96 L319.5 1649.49 L320 1647.57 L320.5 1650.86 L321 1649.17 L321.5 1648.86 L322 1649.46 L322.5 1650.99 L323 1649.81 L323.5 1647.05 L324 1650.9 L324.5 1649.54 L325 1650.23 L325.5 1647.83 L326 1648.36 L326.5 1648.85 L327 1647.75 L327.5 1650.2 L328 1648.47 L328.5 1649.16 L329 1650.37 L329.5 1650.01 L330 1646.93 L330.5 1651.1 L331 1647.73 L331.5 1647.59 L332 1648.31 L332.5 1650.45 L333 1649.36 L333.5 1650.56 L334 1649.77 L334.5 1649.57 L335 1648.63 L335.5 1649.32 L336 1647.13 L336.5 1650.87 L337 1650.03 L337.5 1651.13 L338 1650.02 L338.5 1649.5 L339 1647.69 L339.5 1648.13 L340 1649.64 L340.5 1648.11 L341 1647.53 L341.5 1647.04 L342 1650.8 L342.5 1649.91 L343 1647.88 L343.5 1649.18 L344 1650.28 L344.5 1647.67 L345 1647.56 L345.5 1647.32 L346 1648.67 L346.5 1651.16 L347 1648.79 L347.5 1647.6 L348 1648.78 L348.5 1651.08 L349 1650.26 L349.5 1649 L350 1647.76 L350.5 1648.01 L351 1648.45 L351.5 1649.63 L352 1648.32 L352.5 1646.87 L353 1647.19 L353.5 1647.85 L354 1649.38 L354.5 1650.8 L355 1648.59 L355.5 1650.13 L356 1648.52 L356.5 1650.09 L357 1649.7 L357.5 1650.11 L358 1649.44 L358.5 1649.07 L359 1647.24 L359.5 1650.39 L360 1648.73 L360.5 1650.25 L361 1647.57 L361.5 1649.85 L362 1650.77 L362.5 1648.07 L363 1651 L363.5 1647.76 L364 1647.46 L364.5 1647.16 L365 1649.22 L365.5 1650.9 L366 1648.97 L366.5 1651.04 L367 1648.45 L367.5 1648.35 L368 1647.34 L368.5 1650.09 L369 1648.43 L369.5 1650.97 L370 1648.67 L370.5 1648.07 L371 1647.58 L371.5 1647.37 L372 1648.1 L372.5 1649.27 L373 1648.3 L373.5 1649.28 L374 1650.52 L374.5 1648.49 L375 1650.6 L375.5 1650.36 L376 1650.06 L376.5 1649.95 L377 1647.76 L377.5 1648.42 L378 1650.77 L378.5 1648.45 L379 1647.52 L379.5 1647.94 L380 1650.53 L380.5 1647.98 L381 1648.53 L381.5 1648.1 L382 1647.89 L382.5 1650.59 L383 1648.43 L383.5 1649.71 L384 1649.52 L384.5 1649.61 L385 1647.78 L385.5 1647.98 L386 1649.23 L386.5 1648.31 L387 1650.78 L387.5 1647.11 L388 1650.14 L388.5 1649.85 L389 1648.93 L389.5 1649.82 L390 1649.29 L390.5 1647.54 L391 1650.6 L391.5 1647.5 L392 1650.74 L392.5 1649.34 L393 1647.16 L393.5 1650.59 L394 1647.25 L394.5 1649.95 L395 1650.87 L395.5 1647.42 L396 1647.16 L396.5 1647.68 L397 1649.02 L397.5 1650.61 L398 1647.51 L398.5 1650.44 L399 1648.98 L399.5 1648.58 L400 1648.63 L400.5 1649.52 L401 1648.45 L401.5 1649.03 L402 1650.8 L402.5 1648.16 L403 1649.7 L403.5 1650.78 L404 1648.49 L404.5 1650.38 L405 1647.37 L405.5 1648.02 L406 1650.17 L406.5 1651.09 L407 1647.95 L407.5 1650.86 L408 1648.14 L408.5 1647.39 L409 1647.49 L409.5 1647.49 L410 1650.71 L410.5 1650.33 L411 1648.39 L411.5 1649.83 L412 1650.34 L412.5 1647.26 L413 1646.81 L413.5 1649.06 L414 1648.38 L414.5 1647.86 L415 1650.24 L415.5 1648.06 L416 1648.85 L416.5 1650.37 L417 1650.29 L417.5 1649.41 L418 1649.79 L418.5 1649.91 L419 1650.55 L419.5 1647.76 L420 1647.23 L420.5 1647.01 L421 1650.42 L421.5 1647.99 L422 1650.12 L422.5 1648.53 L423 1648.36 L423.5 1649.08 L424 1651.08 L424.5 1650.9 L425 1646.83 L425.5 1647.8 L426 1650.03 L426.5 1650.39 L427 1650.7 L427.5 1649.37 L428 1649.34 L428.5 1650.8 L429 1649.77 L429.5 1649.56 L430 1648.1 L430.5 1650.67 L431 1651.04 L431.5 1646.9 L432 1646.86 L432.5 1647.65 L433 1650.97 L433.5 1650.95 L434 1649.77 L434.5 1648.67 L435 1649.64 L435.5 1651.01 L436 1648 L436.5 1647.2 L437 1651.05 L437.5 1651.19 L438 1649.9 L438.5 1647.32 L439 1648.12 L439.5 1650.16 L440 1648.48 L440.5 1649.63 L441 1651.11 L441.5 1649.02 L442 1648.16 L442.5 1648.63 L443 1650.39 L443.5 1650.98 L444 1648.07 L444.5 1647.57 L445 1648.4 L445.5 1648.1 L446 1648.09 L446.5 1648.51 L447 1650.16 L447.5 1649.64 L448 1651.11 L448.5 1646.82 L449 1649.72 L449.5 1648.77 L450 1648.08 L450.5 1647.26 L451 1647.79 L451.5 1650.48 L452 1648.04 L452.5 1647.34 L453 1649.81 L453.5 1650.71 L454 1647.39 L454.5 1650.52 L455 1649.47 L455.5 1649.56 L456 1649.98 L456.5 1649.21 L457 1648.63 L457.5 1647.99 L458 1650.8 L458.5 1647.73 L459 1647.79 L459.5 1650.93 L460 1650.29 L460.5 1650.13 L461 1647.03 L461.5 1648.72 L462 1651.14 L462.5 1650.98 L463 1650.06 L463.5 1649.53 L464 1647.83 L464.5 1649.69 L465 1648.09 L465.5 1648.42 L466 1649.66 L466.5 1650.08 L467 1649.37 L467.5 1648.35 L468 1649.56 L468.5 1649.95 L469 1647.12 L469.5 1646.87 L470 1648.28 L470.5 1651.13 L471 1647.88 L471.5 1650.8 L472 1648.14 L472.5 1648.16 L473 1649.67 L473.5 1648.97 L474 1648.51 L474.5 1647.42 L475 1648.95 L475.5 1649.07 L476 1648.13 L476.5 1648.02 L477 1650.6 L477.5 1650.56 L478 1648.39 L478.5 1650.39 L479 1648.87 L479.5 1649.96 L480 1648.79 L480.5 1647.69 L481 1649.13 L481.5 1647.15 L482 1650.9 L482.5 1650.98 L483 1648.66 L483.5 1647.03 L484 1649.07 L484.5 1647.4 L485 1649.6 L485.5 1647.26 L486 1650.81 L486.5 1649.61 L487 1650.7 L487.5 1648.36 L488 1647.1 L488.5 1646.85 L489 1649.23 L489.5 1646.91 L490 1650.63 L490.5 1649.01 L491 1649.03 L491.5 1650.39 L492 1648.65 L492.5 1649.02 L493 1647.8 L493.5 1648.43 L494 1648.45 L494.5 1646.81 L495 1651.09 L495.5 1648.04 L496 1648.87 L496.5 1647.85 L497 1651.14 L497.5 1647.26 L498 1649.04 L498.5 1648.51 L499 1650.91 L499.5 1650.03 L500 1648.5 L500.5 1650.66 L501 1649.21 L501.5 1650 L502 1649.9 L502.5 1648.88 L503 1648.43 L503.5 1648.85 L504 1648.01 L504.5 1650.83 L505 1648.05 L505.5 1647.62 L506 1647.18 L506.5 1649.63 L507 1648.42 L507.5 1646.89 L508 1648.24 L508.5 1650.36 L509 1648.64 L509.5 1650.36 L510 1647.78 L510.5 1648.08 L511 1650.45 L511.5 1649.48 L512 1650.12 L512.5 1649.42 L513 1648.17 L513.5 1648.56 L514 1650.54 L514.5 1648.05 L515 1647.78 L515.5 1647.95 L516 1647.96 L516.5 1651 L517 1649.88 L517.5 1647 L518 1649.14 L518.5 1649.89 L519 1649.95 L519.5 1649.44 L520 1647.45 L520.5 1650.19 L521 1649.55 L521.5 1647.12 L522 1648.8 L522.5 1650.51 L523 1648.69 L523.5 1651.13 L524 1648.74 L524.5 1648.39 L525 1648.92 L525.5 1647.81 L526 1648.48 L526.5 1648.46 L527 1647.88 L527.5 1646.99 L528 1648.71 L528.5 1648.01 L529 1649.3 L529.5 1649.8 L530 1647.06 L530.5 1647.55 L531 1649.89 L531.5 1647.25 L532 1647.5 L532.5 1647.13 L533 1648.07 L533.5 1649.77 L534 1649.45 L534.5 1649.7 L535 1649.85 L535.5 1646.88 L536 1648.33 L536.5 1650.76 L537 1647.63 L537.5 1650.86 L538 1647.07 L538.5 1649.46 L539 1648.66 L539.5 1649.58 L540 1649.48 L540.5 1647.62 L541 1650.05 L541.5 1650.33 L542 1650.41 L542.5 1648.99 L543 1650.5 L543.5 1649.8 L544 1650.56 L544.5 1651.11 L545 1650.44 L545.5 1650.78 L546 1650.35 L546.5 1648.59 L547 1647.97 L547.5 1648.97 L548 1649.87 L548.5 1650.34 L549 1647.43 L549.5 1649.62 L550 1649.54 L550.5 1650.04 L551 1648.39 L551.5 1646.99 L552 1648.34 L552.5 1650.07 L553 1650.48 L553.5 1651.03 L554 1651.06 L554.5 1649.03 L555 1648.85 L555.5 1649.1 L556 1651.05 L556.5 1649.85 L557 1650.65 L557.5 1650.5 L558 1646.89 L558.5 1647.66 L559 1648.85 L559.5 1649.01 L560 1647.48 L560.5 1650.18 L561 1650.04 L561.5 1650.6 L562 1650.71 L562.5 1648.39 L563 1650.81 L563.5 1651.02 L564 1650 L564.5 1647.43 L565 1648.8 L565.5 1649.43 L566 1647.4 L566.5 1649.23 L567 1650.78 L567.5 1648.21 L568 1647.21 L568.5 1650.19 L569 1647.84 L569.5 1647.15 L570 1651.03 L570.5 1650.94 L571 1650.28 L571.5 1649.93 L572 1648.77 L572.5 1649.77 L573 1648.27 L573.5 1649.03 L574 1650.25 L574.5 1647.07 L575 1648.49 L575.5 1648.46 L576 1649.16 L576.5 1647.62 L577 1649.5 L577.5 1648.46 L578 1647.74 L578.5 1648.78 L579 1648.85 L579.5 1648.85 L580 1647.57 L580.5 1651.05 L581 1647 L581.5 1650.52 L582 1648.21 L582.5 1647.82 L583 1647.92 L583.5 1651.03 L584 1647.06 L584.5 1649.89 L585 1648.75 L585.5 1650.15 L586 1650.68 L586.5 1650.23 L587 1648.73 L587.5 1649.26 L588 1650.56 L588.5 1650.42 L589 1648.28 L589.5 1651.15 L590 1649 L590.5 1650.86 L591 1650.6 L591.5 1649.43 L592 1650.95 L592.5 1649.88 L593 1646.92 L593.5 1650.65 L594 1650.9 L594.5 1649.6 L595 1651.08 L595.5 1648.74 L596 1649.67 L596.5 1648.97 L597 1650.96 L597.5 1650.98 L598 1650.95 L598.5 1647.15 L599 1649.22 L599.5 1651.11 L600 1649.76 L600.5 1647.97 L601 1647.85 L601.5 1651.05 L602 1647.11 L602.5 1647.74 L603 1650.66 L603.5 1648.82 L604 1650.85 L604.5 1650.3 L605 1650.21 L605.5 1648.48 L606 1649.23 L606.5 1649.57 L607 1648.23 L607.5 1648.26 L608 1649.4 L608.5 1649.9 L609 1649.62 L609.5 1650.21 L610 1650.34 L610.5 1648.71 L611 1650.44 L611.5 1649.71 L612 1650.45 L612.5 1651.1 L613 1650.03 L613.5 1649.86 L614 1650.86 L614.5 1647.91 L615 1647.52 L615.5 1647.45 L616 1648.38 L616.5 1650.7 L617 1648.72 L617.5 1650.67 L618 1650.82 L618.5 1649.63 L619 1648.81 L619.5 1648.15 L620 1650.98 L620.5 1648.58 L621 1650.47 L621.5 1646.89 L622 1649.23 L622.5 1651.02 L623 1647.82 L623.5 1648.33 L624 1647.39 L624.5 1651.01 L625 1648.54 L625.5 1647.48 L626 1648.37 L626.5 1649.86 L627 1650.95 L627.5 1650.9 L628 1647.72 L628.5 1649.73 L629 1648.68 L629.5 1651.2 L630 1650.57 L630.5 1650.43 L631 1648.2 L631.5 1648.67 L632 1648.43 L632.5 1650.02 L633 1647.54 L633.5 1648.24 L634 1649.37 L634.5 1648.45 L635 1647.64 L635.5 1646.84 L636 1647 L636.5 1650.47 L637 1647.26 L637.5 1647.28 L638 1649.86 L638.5 1647.89 L639 1647.48 L639.5 1647.8 L640 1648.03 L640.5 1647.28 L641 1648.95 L641.5 1649.15 L642 1649.18 L642.5 1650.71 L643 1650.25 L643.5 1650.98 L644 1648.16 L644.5 1648.69 L645 1646.96 L645.5 1649.33 L646 1649.91 L646.5 1648.73 L647 1649.16 L647.5 1649.12 L648 1648.03 L648.5 1648.25 L649 1649.01 L649.5 1648.15 L650 1648.18 L650.5 1650.4 L651 1648.87 L651.5 1649.72 L652 1649.81 L652.5 1650.46 L653 1646.88 L653.5 1649.25 L654 1650.66 L654.5 1647.16 L655 1649.18 L655.5 1648.42 L656 1650.7 L656.5 1647.11 L657 1648.88 L657.5 1648.28 L658 1649.45 L658.5 1649.8 L659 1648.97 L659.5 1647.69 L660 1647.24 L660.5 1648.17 L661 1649.89 L661.5 1649.8 L662 1647.68 L662.5 1647.13 L663 1650.28 L663.5 1649.33 L664 1648.47 L664.5 1651 L665 1649.57 L665.5 1648.3 L666 1650.53 L666.5 1647.09 L667 1649.49 L667.5 1648.38 L668 1649.49 L668.5 1649.92 L669 1648.69 L669.5 1649.91 L670 1648.46 L670.5 1647.38 L671 1648.87 L671.5 1647.88 L672 1651.03 L672.5 1649.66 L673 1648.16 L673.5 1650 L674 1647.25 L674.5 1647.3 L675 1651.06 L675.5 1647.04 L676 1650.94 L676.5 1651.04 L677 1650.08 L677.5 1646.88 L678 1647.93 L678.5 1649.15 L679 1648.1 L679.5 1646.99 L680 1649.74 L680.5 1650.29 L681 1648.63 L681.5 1649.17 L682 1649.08 L682.5 1650.16 L683 1647.67 L683.5 1650.9 L684 1648.25 L684.5 1647.46 L685 1648.39 L685.5 1649.47 L686 1647.57 L686.5 1649.08 L687 1648.06 L687.5 1649.5 L688 1649.86 L688.5 1648.06 L689 1648.85 L689.5 1647.67 L690 1647.33 L690.5 1647.56 L691 1649.82 L691.5 1650.33 L692 1649.45 L692.5 1650.74 L693 1651.13 L693.5 1649.72 L694 1650.62 L694.5 1647.52 L695 1649.15 L695.5 1649.47 L696 1649.81 L696.5 1647.86 L697 1650.5 L697.5 1650.55 L698 1648.29 L698.5 1650.03 L699 1650.73 L699.5 1650.88 L700 1647.01 L700.5 1649.94 L701 1650.45 L701.5 1647.88 L702 1650.58 L702.5 1650.36 L703 1647.83 L703.5 1647.81 L704 1646.99 L704.5 1649.89 L705 1649 L705.5 1650.01 L706 1649.97 L706.5 1648.24 L707 1651 L707.5 1649.33 L708 1649.47 L708.5 1649.63 L709 1648.43 L709.5 1649.64 L710 1651.12 L710.5 1648.7 L711 1649.84 L711.5 1649.84 L712 1650.35 L712.5 1650.05 L713 1648.75 L713.5 1647.48 L714 1647.18 L714.5 1649.22 L715 1651.08 L715.5 1648.28 L716 1647.5 L716.5 1649.92 L717 1647.26 L717.5 1647.61 L718 1647.81 L718.5 1648.2 L719 1650.2 L719.5 1647.97 L720 1648.25 L720.5 1649.26 L721 1647.37 L721.5 1650.81 L722 1648.6 L722.5 1648.57 L723 1648.1 L723.5 1651.16 L724 1648.54 L724.5 1648.04 L725 1649.28 L725.5 1650.44 L726 1647.86 L726.5 1650.29 L727 1650.74 L727.5 1647.41 L728 1650.6 L728.5 1647.24 L729 1647.02 L729.5 1648.3 L730 1649.17 L730.5 1649.26 L731 1648.89 L731.5 1648.49 L732 1648.73 L732.5 1647.71 L733 1646.88 L733.5 1651.08 L734 1646.81 L734.5 1648.69 L735 1647.22 L735.5 1647.25 L736 1647.3 L736.5 1647.52 L737 1649.67 L737.5 1649.4 L738 1647 L738.5 1649.73 L739 1646.87 L739.5 1651.11 L740 1651.11 L740.5 1650.44 L741 1651.12 L741.5 1648.88 L742 1649.04 L742.5 1648.33 L743 1647.32 L743.5 1648.29 L744 1649.4 L744.5 1649.55 L745 1648.88 L745.5 1650.96 L746 1649.85 L746.5 1647.93 L747 1647.16 L747.5 1647.86 L748 1648.12 L748.5 1646.86 L749 1649.35 L749.5 1650.12 L750 1647.44 L750.5 1649.14 L751 1648.21 L751.5 1648.55 L752 1650.04 L752.5 1649.72 L753 1646.85 L753.5 1649.05 L754 1650 L754.5 1650.14 L755 1649.46 L755.5 1648.59 L756 1649.17 L756.5 1650.01 L757 1649.16 L757.5 1647.57 L758 1650.73 L758.5 1650.49 L759 1647.7 L759.5 1650.01 L760 1648.88 L760.5 1650.89 L761 1646.81 L761.5 1649.17 L762 1650.13 L762.5 1648.77 L763 1647.56 L763.5 1650.55 L764 1651.03 L764.5 1647.82 L765 1650.36 L765.5 1648 L766 1646.92 L766.5 1648.19 L767 1650.36 L767.5 1648.27 L768 1649.16 L768.5 1651.18 L769 1646.94 L769.5 1651.01 L770 1648.57 L770.5 1650.34 L771 1650.86 L771.5 1651.16 L772 1647.39 L772.5 1650.56 L773 1649.8 L773.5 1647.99 L774 1648.44 L774.5 1648.69 L775 1649.52 L775.5 1651.15 L776 1647 L776.5 1649.97 L777 1647.39 L777.5 1650.72 L778 1647.6 L778.5 1647.24 L779 1647.33 L779.5 1647 L780 1650.05 L780.5 1648.89 L781 1649.41 L781.5 1648.01 L782 1650.66 L782.5 1650.11 L783 1650.21 L783.5 1649.2 L784 1650.26 L784.5 1647.33 L785 1648.12 L785.5 1650.17 L786 1647.32 L786.5 1649.95 L787 1648.83 L787.5 1647.9 L788 1648.14 L788.5 1650.22 L789 1650.43 L789.5 1648.84 L790 1646.89 L790.5 1651.18 L791 1648.47 L791.5 1647.37 L792 1647.1 L792.5 1648.56 L793 1651.01 L793.5 1647.3 L794 1649.72 L794.5 1650.36 L795 1648.46 L795.5 1648.49 L796 1647.62 L796.5 1648.75 L797 1649.22 L797.5 1649.06 L798 1649.11 L798.5 1648.24 L799 1649.79 L799.5 1648.7 L800 1649.92 L800.5 1647.53 L801 1648.02 L801.5 1648.7 L802 1647.99 L802.5 1651.08 L803 1649.44 L803.5 1650.76 L804 1649.82 L804.5 1649.72 L805 1646.92 L805.5 1650.95 L806 1649.39 L806.5 1647.96 L807 1650 L807.5 1649.44 L808 1650.54 L808.5 1647.12 L809 1649.02 L809.5 1649.24 L810 1648.96 L810.5 1647.91 L811 1649.01 L811.5 1649.6 L812 1650.28 L812.5 1647.83 L813 1649.16 L813.5 1650.55 L814 1650.85" fill="none" stroke="#ff0000" stroke-width="1.6" stroke-linejoin="round"/>
<rect x="104.5" y="1548.5" width="710" height="302" fill="none" stroke="#909090" stroke-width="1.2"/>
<rect x="698.9" y="1552.3" width="112.5" height="46.1" fill="#fff" stroke="#808080" stroke-width="1"/>
<line x1="704" y1="1564.8" x2="732.2" y2="1564.8" stroke="#3030ff" stroke-width="1.6"/>
<line x1="704" y1="1585.4" x2="732.2" y2="1585.4" stroke="#ff1010" stroke-width="1.6"/>
<text x="756" y="1566.9" font-size="16">with PI</text>
<text x="743.2" y="1589.8" font-size="16">with SMC</text>
<text transform="translate(97.5 1557) scale(1 1.1)" font-size="23.1" text-anchor="end">2</text>
<text transform="translate(97.5 1605.35) scale(1 1.1)" font-size="23.1" text-anchor="end">1</text>
<text transform="translate(97.5 1655.7) scale(1 1.1)" font-size="23.1" text-anchor="end">0</text>
<text transform="translate(97.5 1706.05) scale(1 1.1)" font-size="23.1" text-anchor="end">-1</text>
<text transform="translate(97.5 1756.4) scale(1 1.1)" font-size="23.1" text-anchor="end">-2</text>
<text transform="translate(97.5 1806.75) scale(1 1.1)" font-size="23.1" text-anchor="end">-3</text>
<text transform="translate(97.5 1857.1) scale(1 1.1)" font-size="23.1" text-anchor="end">-4</text>
<text transform="translate(102.5 1878.5) scale(1 1.1)" font-size="23.1" text-anchor="middle">0</text>
<text transform="translate(172.5 1878.5) scale(1 1.1)" font-size="23.1" text-anchor="middle">2</text>
<text transform="translate(243.75 1878.5) scale(1 1.1)" font-size="23.1" text-anchor="middle">4</text>
<text transform="translate(315 1878.5) scale(1 1.1)" font-size="23.1" text-anchor="middle">6</text>
<text transform="translate(385.75 1878.5) scale(1 1.1)" font-size="23.1" text-anchor="middle">8</text>
<text transform="translate(458.7 1878.5) scale(1 1.1)" font-size="23.1" text-anchor="middle">10</text>
<text transform="translate(529.1 1878.5) scale(1 1.1)" font-size="23.1" text-anchor="middle">12</text>
<text transform="translate(600.5 1878.5) scale(1 1.1)" font-size="23.1" text-anchor="middle">14</text>
<text transform="translate(671.4 1878.5) scale(1 1.1)" font-size="23.1" text-anchor="middle">16</text>
<text transform="translate(742.7 1878.5) scale(1 1.1)" font-size="23.1" text-anchor="middle">18</text>
<text transform="translate(813.1 1878.5) scale(1 1.1)" font-size="23.1" text-anchor="middle">20</text>
<text transform="translate(418.3 1893) scale(1 1.1)" font-size="23.1" textLength="94.7" lengthAdjust="spacingAndGlyphs">Time (sec)</text>
<text transform="translate(309.7 1533.8) scale(1 1.1)" font-size="23.1" textLength="299.3" lengthAdjust="spacingAndGlyphs">Reactive Power Behavior (MVar)</text>
<text transform="translate(65.5,1690.2) rotate(-90)" text-anchor="middle" font-size="23.1" textLength="85" lengthAdjust="spacingAndGlyphs">Q (Mvar)</text>
<line x1="1051.5" y1="1539.5" x2="1051.5" y2="1846.5" stroke="#7a7a7a" stroke-width="1" stroke-dasharray="2.5,2.3"/>
<line x1="1129.5" y1="1539.5" x2="1129.5" y2="1846.5" stroke="#7a7a7a" stroke-width="1" stroke-dasharray="2.5,2.3"/>
<line x1="1207.5" y1="1539.5" x2="1207.5" y2="1846.5" stroke="#7a7a7a" stroke-width="1" stroke-dasharray="2.5,2.3"/>
<line x1="1285.5" y1="1539.5" x2="1285.5" y2="1846.5" stroke="#7a7a7a" stroke-width="1" stroke-dasharray="2.5,2.3"/>
<line x1="1363.5" y1="1539.5" x2="1363.5" y2="1846.5" stroke="#7a7a7a" stroke-width="1" stroke-dasharray="2.5,2.3"/>
<line x1="1441.5" y1="1539.5" x2="1441.5" y2="1846.5" stroke="#7a7a7a" stroke-width="1" stroke-dasharray="2.5,2.3"/>
<line x1="1520.5" y1="1539.5" x2="1520.5" y2="1846.5" stroke="#7a7a7a" stroke-width="1" stroke-dasharray="2.5,2.3"/>
<line x1="1598.5" y1="1539.5" x2="1598.5" y2="1846.5" stroke="#7a7a7a" stroke-width="1" stroke-dasharray="2.5,2.3"/>
<line x1="1676.5" y1="1539.5" x2="1676.5" y2="1846.5" stroke="#7a7a7a" stroke-width="1" stroke-dasharray="2.5,2.3"/>
<line x1="973.25" y1="1590.5" x2="1754.5" y2="1590.5" stroke="#7a7a7a" stroke-width="1" stroke-dasharray="2.5,2.3"/>
<line x1="973.25" y1="1642.5" x2="1754.5" y2="1642.5" stroke="#7a7a7a" stroke-width="1" stroke-dasharray="2.5,2.3"/>
<line x1="973.25" y1="1693.5" x2="1754.5" y2="1693.5" stroke="#7a7a7a" stroke-width="1" stroke-dasharray="2.5,2.3"/>
<line x1="973.25" y1="1744.5" x2="1754.5" y2="1744.5" stroke="#7a7a7a" stroke-width="1" stroke-dasharray="2.5,2.3"/>
<line x1="973.25" y1="1795.5" x2="1754.5" y2="1795.5" stroke="#7a7a7a" stroke-width="1" stroke-dasharray="2.5,2.3"/>
<path d="M974.62 1673.53 V1745.86 M975.32 1673.57 V1746.47 M976.02 1670.63 V1749.16 M976.72 1676.47 V1740.82 M977.42 1675.13 V1738.62 M978.12 1680.09 V1745.6 M978.82 1680.61 V1748.3 M979.52 1684.39 V1742.91 M980.22 1682.16 V1741.73 M980.92 1674.08 V1735.91 M981.62 1677.24 V1744.43 M982.32 1683.22 V1736.58 M983.02 1685.95 V1737.26 M983.72 1686.53 V1741.96 M984.42 1683.11 V1734.85 M985.12 1705.56 V1718.73 M985.82 1705.74 V1719.37 M986.52 1707.22 V1718.75 M987.22 1707.66 V1719.18 M987.92 1706.98 V1720.74 M988.62 1708.02 V1720.56 M989.32 1708.16 V1721.28 M990.02 1709.92 V1720.36 M990.72 1710.39 V1720.68 M991.42 1709.98 V1721.85 M992.12 1710.59 V1721.94 M992.82 1711 V1722.17 M993.52 1710.1 V1723.63 M994.22 1710.13 V1724.11 M994.92 1711.85 V1722.84 M995.62 1712.33 V1722.78 M996.32 1712.33 V1723.16 M997.02 1712.51 V1723.33 M997.72 1711.52 V1724.66 M998.42 1712.43 V1724.09 M999.12 1711.32 V1725.55 M999.82 1713.56 V1723.67 M1000.52 1712.64 V1724.97 M1001.22 1713.71 V1724.31 M1001.92 1712.4 V1726.07 M1002.62 1713.63 V1725.29 M1003.32 1714.17 V1725.23 M1004.02 1713.68 V1726.21 M1004.72 1713.3 V1727.07 M1005.42 1715.38 V1725.47 M1006.12 1715.16 V1726.18 M1006.82 1713.95 V1727.85 M1007.52 1715.21 V1727.04 M1008.22 1716.12 V1726.56 M1008.92 1714.52 V1728.55 M1009.62 1714.67 V1728.77 M1010.32 1715.95 V1727.81 M1011.02 1716.59 V1727.45 M1011.72 1717.07 V1727.21 M1012.42 1715.62 V1728.83 M1013.12 1715.63 V1728.97 M1013.82 1715.78 V1728.97 M1014.52 1715.95 V1728.94 M1015.22 1716.74 V1728.28 M1015.92 1716.94 V1728.2 M1016.62 1716.39 V1728.88 M1017.32 1715.98 V1729.41 M1018.02 1716.73 V1728.78 M1018.72 1716.69 V1728.93 M1019.42 1717.01 V1728.71 M1020.12 1716.13 V1729.69 M1020.82 1715.89 V1730.03 M1021.52 1717.41 V1728.61 M1022.22 1715.98 V1730.13 M1022.92 1716.34 V1729.85 M1023.62 1717.26 V1729.02 M1024.32 1717.62 V1728.73 M1025.02 1716.73 V1729.7 M1025.72 1717.07 V1729.43 M1026.42 1717.01 V1729.57 M1027.12 1716.17 V1730.47 M1027.82 1716.24 V1730.48 M1028.52 1716.86 V1729.91 M1029.22 1717.29 V1729.55 M1029.92 1718.08 V1728.82 M1030.62 1718.31 V1728.65 M1031.32 1716.73 V1730.28 M1032.02 1717.98 V1729.1 M1032.72 1717.09 V1730.04 M1033.42 1717.93 V1729.26 M1034.12 1718.15 V1729.1 M1034.82 1717.17 V1730.13 M1035.52 1718.3 V1729.06 M1036.22 1718.54 V1728.87 M1036.92 1716.58 V1730.88 M1037.62 1717.89 V1729.63 M1038.32 1718 V1729.57 M1039.02 1717.11 V1730.52 M1039.72 1718.38 V1729.31 M1040.42 1717.15 V1730.59 M1041.12 1718.39 V1729.41 M1041.82 1717.36 V1730.51 M1042.52 1717.34 V1730.59 M1043.22 1718.75 V1729.24 M1043.92 1718.19 V1729.87 M1044.62 1717.23 V1730.9 M1045.32 1718.03 V1730.17 M1046.02 1718.2 V1730.08 M1046.72 1719.02 V1729.33 M1047.42 1718.87 V1729.56 M1048.12 1717.21 V1731.3 M1048.82 1717.16 V1731.44 M1049.52 1718.21 V1730.47 M1050.22 1717.95 V1730.83 M1050.92 1719.14 V1729.73 M1051.62 1717.44 V1731.53 M1052.32 1718.18 V1730.9 M1053.02 1718.02 V1731.17 M1053.72 1717.8 V1731.51 M1054.42 1719.19 V1730.24 M1055.12 1718.27 V1731.29 M1055.82 1718.82 V1730.87 M1056.52 1719.25 V1730.57 M1057.22 1719.59 V1730.37 M1057.92 1718.5 V1731.6 M1058.62 1719.71 V1730.54 M1059.32 1719.83 V1730.57 M1060.02 1719.44 V1731.1 M1060.72 1719.42 V1731.28 M1061.42 1719.46 V1731.39 M1062.12 1720.01 V1731 M1062.82 1718.48 V1732.69 M1063.52 1720.44 V1730.89 M1064.22 1719.02 V1732.47 M1064.92 1719.19 V1732.46 M1065.62 1719.91 V1731.9 M1066.32 1720.33 V1731.65 M1067.02 1719.25 V1732.89 M1067.72 1719.53 V1732.77 M1068.42 1720.69 V1731.78 M1069.12 1719.41 V1733.21 M1069.82 1720.01 V1732.78 M1070.52 1721.09 V1731.86 M1071.22 1719.48 V1733.62 M1071.92 1720.83 V1732.42 M1072.62 1721.38 V1732.03 M1073.32 1719.71 V1733.85 M1074.02 1720.22 V1733.49 M1074.72 1720.92 V1732.94 M1075.42 1720.8 V1733.19 M1076.12 1720.96 V1733.16 M1076.82 1721.03 V1733.23 M1077.52 1722 V1732.39 M1078.22 1720.87 V1733.65 M1078.92 1721.54 V1733.1 M1079.62 1722.01 V1732.75 M1080.32 1721.65 V1733.22 M1081.02 1721.61 V1733.36 M1081.72 1722.41 V1732.66 M1082.42 1721.96 V1733.2 M1083.12 1721.95 V1733.3 M1083.82 1722.34 V1732.99 M1084.52 1721.78 V1733.62 M1085.22 1722.61 V1732.86 M1085.92 1721.7 V1733.83 M1086.62 1722.04 V1733.53 M1087.32 1722.17 V1733.45 M1088.02 1721.41 V1734.24 M1088.72 1721.46 V1734.22 M1089.42 1722.58 V1733.12 M1090.12 1722.59 V1733.12 M1090.82 1721.43 V1734.28 M1091.52 1722.05 V1733.65 M1092.22 1722.48 V1733.2 M1092.92 1722.22 V1733.43 M1093.62 1722.21 V1733.41 M1094.32 1722.26 V1733.32 M1095.02 1722.68 V1732.85 M1095.72 1721.99 V1733.49 M1096.42 1720.82 V1734.59 M1097.12 1722.66 V1732.69 M1097.82 1722.57 V1732.7 M1098.52 1722.26 V1732.94 M1099.22 1721.37 V1733.74 M1099.92 1721.79 V1733.22 M1100.62 1720.91 V1734 M1101.32 1720.82 V1733.99 M1102.02 1720.93 V1733.77 M1102.72 1721.24 V1733.34 M1103.42 1720.37 V1734.09 M1104.12 1720.03 V1734.31 M1104.82 1721.81 V1732.4 M1105.52 1721.19 V1732.89 M1106.22 1720.09 V1733.86 M1106.92 1720.5 V1733.31 M1107.62 1720.95 V1732.71 M1108.32 1720.2 V1733.32 M1109.02 1721.08 V1732.3 M1109.72 1719.76 V1733.46 M1110.42 1721.34 V1731.73 M1111.12 1721.22 V1731.7 M1111.82 1719.68 V1733.08 M1112.52 1720.38 V1732.23 M1113.22 1719.54 V1732.91 M1113.92 1719.17 V1733.12 M1114.62 1719.43 V1732.69 M1115.32 1719.58 V1732.38 M1116.02 1720.28 V1731.52 M1116.72 1719.72 V1731.93 M1117.42 1720.22 V1731.26 M1118.12 1718.88 V1732.44 M1118.82 1718.43 V1732.72 M1119.52 1720.41 V1730.59 M1120.22 1719.25 V1731.59 M1120.92 1718.55 V1732.13 M1121.62 1718.18 V1732.35 M1122.32 1719.32 V1731.05 M1123.02 1719.13 V1731.08 M1123.72 1719.36 V1730.7 M1124.42 1719.83 V1730.09 M1125.12 1719.42 V1730.36 M1125.82 1717.72 V1731.91 M1126.52 1718.07 V1731.42 M1127.22 1717.54 V1731.82 M1127.92 1718.31 V1730.92 M1128.62 1719.46 V1729.64 M1129.32 1718.56 V1730.41 M1130.02 1717.51 V1731.34 M1130.72 1718.19 V1730.54 M1131.42 1717.5 V1731.1 M1132.12 1719.19 V1729.28 M1132.82 1718.45 V1729.9 M1133.52 1718.19 V1730.04 M1134.22 1718.08 V1730.03 M1134.92 1718.41 V1729.57 M1135.62 1717.32 V1730.53 M1136.32 1717.16 V1730.57 M1137.02 1717 V1730.6 M1137.72 1717.84 V1729.63 M1138.42 1718.47 V1728.87 M1139.12 1717.42 V1729.79 M1139.82 1716.73 V1730.36 M1140.52 1717.78 V1729.18 M1141.22 1718.27 V1728.57 M1141.92 1717.63 V1729.08 M1142.62 1717.71 V1728.87 M1143.32 1718.21 V1728.24 M1144.02 1716.75 V1729.57 M1144.72 1718.04 V1728.15 M1145.42 1716.28 V1729.78 M1146.12 1715.96 V1729.98 M1146.82 1716.16 V1729.65 M1147.52 1716.19 V1729.5 M1148.22 1716.27 V1729.29 M1148.92 1715.97 V1729.46 M1149.62 1716.45 V1728.85 M1150.32 1716.3 V1728.87 M1151.02 1717.46 V1727.59 M1151.72 1716.45 V1728.48 M1152.42 1715.29 V1729.52 M1153.12 1717.22 V1727.46 M1153.82 1716.43 V1728.13 M1154.52 1715.26 V1729.17 M1155.22 1716.03 V1728.29 M1155.92 1715.14 V1729.05 M1156.62 1715.82 V1728.25 M1157.32 1716.2 V1727.75 M1158.02 1714.87 V1728.97 M1158.72 1716.04 V1727.67 M1159.42 1714.95 V1728.65 M1160.12 1715.22 V1728.26 M1160.82 1714.56 V1728.8 M1161.52 1715.34 V1727.91 M1162.22 1714.95 V1728.19 M1162.92 1716.38 V1726.65 M1163.62 1714.97 V1727.94 M1164.32 1716.34 V1726.46 M1165.02 1715.81 V1726.88 M1165.72 1714.66 V1727.92 M1166.42 1715.66 V1726.82 M1167.12 1715.58 V1726.8 M1167.82 1714.74 V1727.53 M1168.52 1713.97 V1728.21 M1169.22 1715.82 V1726.25 M1169.92 1715.64 V1726.33 M1170.62 1714.61 V1727.27 M1171.32 1714.3 V1727.48 M1172.02 1715.42 V1726.27 M1172.72 1714.42 V1727.18 M1173.42 1715.71 V1725.8 M1174.12 1715.36 V1726.07 M1174.82 1715.33 V1726.01 M1175.52 1714.82 V1726.43 M1176.22 1714.25 V1726.92 M1176.92 1713.5 V1727.59 M1177.62 1714.32 V1726.69 M1178.32 1714.42 V1726.52 M1179.02 1714.34 V1726.51 M1179.72 1715.05 V1725.73 M1180.42 1713.93 V1726.77 M1181.12 1713.78 V1726.85 M1181.82 1713.88 V1726.68 M1182.52 1714.37 V1726.11 M1183.22 1713.54 V1726.87 M1183.92 1715.01 V1725.33 M1184.62 1714.9 V1725.36 M1185.32 1714.1 V1726.09 M1186.02 1714.13 V1725.99 M1186.72 1714.31 V1725.74 M1187.42 1712.89 V1727.09 M1188.12 1713.32 V1726.58 M1188.82 1713.93 V1725.91 M1189.52 1713.52 V1726.25 M1190.22 1714.24 V1725.45 M1190.92 1713.26 V1726.37 M1191.62 1713.15 V1726.4 M1192.32 1714.14 V1725.33 M1193.02 1713.4 V1726.01 M1193.72 1713.48 V1725.85 M1194.42 1713.26 V1726 M1195.12 1714.55 V1724.63 M1195.82 1713.68 V1725.43 M1196.52 1714.43 V1724.61 M1197.22 1713.24 V1725.72 M1197.92 1713.61 V1725.27 M1198.62 1713.15 V1725.65 M1199.32 1714.32 V1724.4 M1200.02 1713.74 V1724.89 M1200.72 1713.44 V1725.11 M1201.42 1712.98 V1725.5 M1202.12 1712.94 V1725.44 M1202.82 1713.58 V1724.72 M1203.52 1712.13 V1726.08 M1204.22 1714 V1724.12 M1204.92 1712.5 V1725.52 M1205.62 1712.27 V1725.66 M1206.32 1711.98 V1725.86 M1207.02 1713.75 V1723.99 M1207.72 1712.7 V1724.93 M1208.42 1713.1 V1724.43 M1209.12 1713.55 V1723.88 M1209.82 1712.48 V1724.84 M1210.52 1711.6 V1725.6 M1211.22 1712.44 V1724.65 M1211.92 1711.5 V1725.47 M1212.62 1713.28 V1723.57 M1213.32 1711.6 V1725.13 M1214.02 1712.49 V1724.11 M1214.72 1712.57 V1723.89 M1215.42 1713.06 V1723.28 M1216.12 1710.96 V1725.24 M1216.82 1711.32 V1724.75 M1217.52 1711.86 V1724.07 M1218.22 1711.96 V1723.83 M1218.92 1710.92 V1724.74 M1219.62 1710.61 V1724.91 M1220.32 1710.62 V1724.76 M1221.02 1712.47 V1722.76 M1221.72 1711.98 V1723.11 M1222.42 1711.74 V1723.21 M1223.12 1711.74 V1723.07 M1223.82 1711.09 V1723.58 M1224.52 1711.72 V1722.8 M1225.22 1712.12 V1722.25 M1225.92 1710.43 V1723.8 M1226.62 1711.7 V1722.39 M1227.32 1710.18 V1723.77 M1228.02 1710.89 V1722.91 M1228.72 1710.55 V1723.12 M1229.42 1709.77 V1723.76 M1230.12 1709.85 V1723.54 M1230.82 1711.33 V1721.93 M1231.52 1711.32 V1721.8 M1232.22 1710.28 V1722.7 M1232.92 1710.08 V1722.78 M1233.62 1709.53 V1723.2 M1234.32 1710.52 V1722.07 M1235.02 1709.35 V1723.13 M1235.72 1709.88 V1722.47 M1236.42 1709.49 V1722.74 M1237.12 1710.67 V1721.44 M1237.82 1710.33 V1721.67 M1238.52 1710.07 V1721.82 M1239.22 1709.72 V1722.07 M1239.92 1710.07 V1721.61 M1240.62 1709.24 V1722.34 M1241.32 1708.99 V1722.49 M1242.02 1710.12 V1721.27 M1242.72 1709.93 V1721.37 M1243.42 1709.18 V1722.03 M1244.12 1708.9 V1722.23 M1244.82 1709.4 V1721.66 M1245.52 1709.84 V1721.14 M1246.22 1709.76 V1721.16 M1246.92 1708.28 V1722.58 M1247.62 1710.27 V1720.53 M1248.32 1708.62 V1722.13 M1249.02 1710.17 V1720.52 M1249.72 1708.57 V1722.07 M1250.42 1709.56 V1721.04 M1251.12 1708.26 V1722.29 M1251.82 1709.82 V1720.69 M1252.52 1709.37 V1721.1 M1253.22 1709.82 V1720.61 M1253.92 1708.68 V1721.72 M1254.62 1708.73 V1721.64 M1255.32 1708.17 V1722.17 M1256.02 1709.55 V1720.76 M1256.72 1709.61 V1720.67 M1257.42 1709.37 V1720.9 M1258.12 1708.84 V1721.41 M1258.82 1709.94 V1720.29 M1259.52 1709.94 V1720.27 M1260.22 1708.6 V1721.61 M1260.92 1708.74 V1721.45 M1261.62 1708.69 V1721.49 M1262.32 1708.09 V1722.08 M1263.02 1708.62 V1721.55 M1263.72 1708.32 V1721.85 M1264.42 1708.05 V1722.11 M1265.12 1708.3 V1721.87 M1265.82 1708.93 V1721.24 M1266.52 1709.15 V1721.03 M1267.22 1708.62 V1721.57 M1267.92 1709.73 V1720.46 M1268.62 1710.02 V1720.18 M1269.32 1709.82 V1720.4 M1270.02 1709.93 V1720.3 M1270.72 1708.48 V1721.76 M1271.42 1709.4 V1720.86 M1272.12 1709.47 V1720.81 M1272.82 1708.42 V1721.88 M1273.52 1709.44 V1720.88 M1274.22 1709.88 V1720.46 M1274.92 1709.52 V1720.84 M1275.62 1709.38 V1721.01 M1276.32 1708.87 V1721.55 M1277.02 1709.03 V1721.41 M1277.72 1708.97 V1721.5 M1278.42 1709.82 V1720.68 M1279.12 1709.39 V1721.15 M1279.82 1708.66 V1721.91 M1280.52 1709.52 V1721.09 M1281.22 1709.43 V1721.2 M1281.92 1709.31 V1721.36 M1282.62 1709.05 V1721.66 M1283.32 1708.45 V1722.3 M1284.02 1709.5 V1721.28 M1284.72 1708.93 V1721.89 M1285.42 1709.53 V1721.33 M1286.12 1710.09 V1720.81 M1286.82 1708.9 V1722.05 M1287.52 1709.82 V1721.18 M1288.22 1709 V1722.05 M1288.92 1710.53 V1720.58 M1289.62 1709.23 V1721.93 M1290.32 1709.55 V1721.68 M1291.02 1709.38 V1721.92 M1291.72 1708.64 V1722.73 M1292.42 1710.23 V1721.21 M1293.12 1710.45 V1721.07 M1293.82 1709.87 V1721.73 M1294.52 1710.05 V1721.63 M1295.22 1708.75 V1723.01 M1295.92 1709.46 V1722.39 M1296.62 1709.08 V1722.86 M1297.32 1709.77 V1722.26 M1298.02 1710.28 V1721.84 M1298.72 1709.49 V1722.72 M1299.42 1710.8 V1721.51 M1300.12 1710.84 V1721.57 M1300.82 1711.06 V1721.44 M1301.52 1710.17 V1722.43 M1302.22 1710.07 V1722.63 M1302.92 1710.34 V1722.46 M1303.62 1710.26 V1722.64 M1304.32 1709.57 V1723.44 M1305.02 1710.56 V1722.54 M1305.72 1709.81 V1723.39 M1306.42 1711.37 V1721.94 M1307.12 1709.81 V1723.6 M1307.82 1709.66 V1723.85 M1308.52 1711.62 V1721.98 M1309.22 1710.74 V1722.96 M1309.92 1710.36 V1723.45 M1310.62 1711.82 V1722.08 M1311.32 1710.04 V1723.95 M1312.02 1710.66 V1723.43 M1312.72 1710.02 V1724.16 M1313.42 1710.49 V1723.78 M1314.12 1712.1 V1722.27 M1314.82 1711.91 V1722.54 M1315.52 1711.33 V1723.21 M1316.22 1711.68 V1722.94 M1316.92 1710.83 V1723.88 M1317.62 1710.71 V1724.07 M1318.32 1711.77 V1723.08 M1319.02 1710.59 V1724.34 M1319.72 1711.73 V1723.27 M1320.42 1712.2 V1722.86 M1321.12 1712.35 V1722.78 M1321.82 1710.8 V1724.39 M1322.52 1710.46 V1724.78 M1323.22 1711.65 V1723.65 M1323.92 1712.26 V1723.08 M1324.62 1711.67 V1723.72 M1325.32 1711.05 V1724.37 M1326.02 1712.12 V1723.34 M1326.72 1712.45 V1723.03 M1327.42 1711.3 V1724.2 M1328.12 1712.73 V1722.78 M1328.82 1712.51 V1723 M1329.52 1711.89 V1723.62 M1330.22 1711.33 V1724.17 M1330.92 1711.89 V1723.6 M1331.62 1711.33 V1724.14 M1332.32 1711.32 V1724.13 M1333.02 1712.17 V1723.25 M1333.72 1711.25 V1724.14 M1334.42 1711.91 V1723.44 M1335.12 1712.5 V1722.81 M1335.82 1711.76 V1723.51 M1336.52 1710.91 V1724.33 M1337.22 1710.68 V1724.51 M1337.92 1712.34 V1722.8 M1338.62 1711.07 V1724.03 M1339.32 1710.81 V1724.24 M1340.02 1711.2 V1723.8 M1340.72 1710.53 V1724.42 M1341.42 1710.84 V1724.06 M1342.12 1710.93 V1723.93 M1342.82 1711.53 V1723.28 M1343.52 1711.02 V1723.74 M1344.22 1711.46 V1723.25 M1344.92 1711.77 V1722.9 M1345.62 1710.38 V1724.24 M1346.32 1711.08 V1723.5 M1347.02 1710.56 V1723.99 M1347.72 1711.44 V1723.08 M1348.42 1710.61 V1723.87 M1349.12 1710.92 V1723.54 M1349.82 1711.93 V1722.5 M1350.52 1710.55 V1723.87 M1351.22 1712.15 V1722.25 M1351.92 1711.65 V1722.74 M1352.62 1711.54 V1722.86 M1353.32 1711.89 V1722.51 M1354.02 1711.32 V1723.08 M1354.72 1710.91 V1723.51 M1355.42 1710.09 V1724.35 M1356.12 1711.34 V1723.14 M1356.82 1711.32 V1723.19 M1357.52 1711.88 V1722.68 M1358.22 1710.71 V1723.91 M1358.92 1710.19 V1724.49 M1359.62 1711.18 V1723.57 M1360.32 1712.21 V1722.62 M1361.02 1711.89 V1723.03 M1361.72 1710.99 V1724.03 M1362.42 1712.16 V1722.97 M1363.12 1712.49 V1722.77 M1363.82 1712.05 V1723.34 M1364.52 1710.72 V1724.81 M1365.22 1712.72 V1722.97 M1365.92 1712.49 V1723.38 M1366.62 1712.46 V1723.59 M1367.32 1711.32 V1724.92 M1368.02 1712.35 V1724.1 M1368.72 1712.5 V1724.16 M1369.42 1711.99 V1724.9 M1370.12 1713 V1724.13 M1370.82 1712.99 V1724.38 M1371.52 1712.25 V1725.38 M1372.22 1711.92 V1725.98 M1372.92 1713.41 V1724.76 M1373.62 1713.13 V1725.31 M1374.32 1712.75 V1725.98 M1375.02 1712.7 V1726.32 M1375.72 1713.79 V1725.53 M1376.42 1713.6 V1726.03 M1377.12 1714.85 V1725.09 M1377.82 1713.39 V1726.87 M1378.52 1714.21 V1726.37 M1379.22 1715.21 V1725.69 M1379.92 1713.92 V1727.3 M1380.62 1714.12 V1727.44 M1381.32 1714.08 V1727.81 M1382.02 1715.47 V1726.75 M1382.72 1714.58 V1727.98 M1383.42 1715.68 V1727.22 M1384.12 1715.1 V1728.14 M1384.82 1715.39 V1728.19 M1385.52 1715.85 V1728.06 M1386.22 1715.69 V1728.55 M1386.92 1716.67 V1727.91 M1387.62 1716.69 V1728.23 M1388.32 1717.55 V1727.7 M1389.02 1717.59 V1728 M1389.72 1716.9 V1729 M1390.42 1716.76 V1729.48 M1391.12 1717.95 V1728.6 M1391.82 1717.66 V1729.21 M1392.52 1716.91 V1730.26 M1393.22 1717.06 V1730.43 M1393.92 1716.82 V1730.96 M1394.62 1718.93 V1729.15 M1395.32 1717.51 V1730.86 M1396.02 1719 V1729.65 M1396.72 1718.73 V1730.19 M1397.42 1718.02 V1731.16 M1398.12 1718.34 V1731.09 M1398.82 1718.07 V1731.61 M1399.52 1718.76 V1731.16 M1400.22 1719.85 V1730.3 M1400.92 1719.53 V1730.84 M1401.62 1719.78 V1730.79 M1402.32 1718.45 V1732.32 M1403.02 1718.63 V1732.32 M1403.72 1718.62 V1732.51 M1404.42 1719.72 V1731.58 M1405.12 1719.35 V1732.12 M1405.82 1719.04 V1732.6 M1406.52 1720.15 V1731.64 M1407.22 1720.74 V1731.21 M1407.92 1719.8 V1732.3 M1408.62 1719.93 V1732.32 M1409.32 1719.31 V1733.09 M1410.02 1719.33 V1733.21 M1410.72 1720.64 V1732.04 M1411.42 1719.47 V1733.34 M1412.12 1721.15 V1731.79 M1412.82 1720.66 V1732.4 M1413.52 1720.98 V1732.21 M1414.22 1720.37 V1732.93 M1414.92 1721.42 V1732 M1415.62 1720.8 V1732.73 M1416.32 1719.89 V1733.75 M1417.02 1721.12 V1732.63 M1417.72 1721.71 V1732.14 M1418.42 1721.08 V1732.86 M1419.12 1720.99 V1733.05 M1419.82 1720.97 V1733.15 M1420.52 1720.11 V1734.1 M1421.22 1721.14 V1733.16 M1421.92 1721.12 V1733.26 M1422.62 1720.47 V1733.99 M1423.32 1721.78 V1732.75 M1424.02 1721.82 V1732.78 M1424.72 1721.63 V1733.04 M1425.42 1720.41 V1734.32 M1426.12 1720.27 V1734.52 M1426.82 1721.85 V1733.01 M1427.52 1721 V1733.9 M1428.22 1721.41 V1733.55 M1428.92 1721.65 V1733.36 M1429.62 1722.04 V1733.02 M1430.32 1721.77 V1733.33 M1431.02 1722.08 V1733.06 M1431.72 1722.39 V1732.79 M1432.42 1720.96 V1734.25 M1433.12 1721.35 V1733.9 M1433.82 1721.23 V1734.04 M1434.52 1722.14 V1733.16 M1435.22 1721.86 V1733.47 M1435.92 1722.14 V1733.21 M1436.62 1721.84 V1733.53 M1437.32 1720.95 V1734.43 M1438.02 1722.33 V1733.07 M1438.72 1720.57 V1734.85 M1439.42 1722.51 V1732.92 M1440.12 1721.52 V1733.91 M1440.82 1721.68 V1733.76 M1441.52 1722.3 V1733.14 M1442.22 1722.58 V1732.86 M1442.92 1721.91 V1733.53 M1443.62 1721.29 V1734.14 M1444.32 1721.95 V1733.46 M1445.02 1720.77 V1734.62 M1445.72 1721.67 V1733.7 M1446.42 1721.53 V1733.81 M1447.12 1722.61 V1732.7 M1447.82 1720.96 V1734.32 M1448.52 1722.34 V1732.89 M1449.22 1721.75 V1733.44 M1449.92 1720.87 V1734.27 M1450.62 1722.31 V1732.78 M1451.32 1721.77 V1733.26 M1452.02 1722.01 V1732.97 M1452.72 1721.63 V1733.29 M1453.42 1720.52 V1734.32 M1454.12 1720.89 V1733.89 M1454.82 1721.63 V1733.07 M1455.52 1721.89 V1732.74 M1456.22 1721.76 V1732.8 M1456.92 1721.83 V1732.65 M1457.62 1721.54 V1732.85 M1458.32 1720.2 V1734.1 M1459.02 1721.26 V1732.96 M1459.72 1720.79 V1733.34 M1460.42 1721.8 V1732.24 M1461.12 1721.22 V1732.72 M1461.82 1721.55 V1732.29 M1462.52 1721.49 V1732.25 M1463.22 1721.47 V1732.18 M1463.92 1720.09 V1733.46 M1464.62 1720.42 V1733.03 M1465.32 1720.15 V1733.19 M1466.02 1720.7 V1732.53 M1466.72 1720.31 V1732.82 M1467.42 1720.16 V1732.87 M1468.12 1721.05 V1731.86 M1468.82 1719.44 V1733.37 M1469.52 1719.61 V1733.09 M1470.22 1720.73 V1731.85 M1470.92 1719.86 V1732.62 M1471.62 1720.23 V1732.14 M1472.32 1720.41 V1731.85 M1473.02 1719.48 V1732.67 M1473.72 1719.35 V1732.69 M1474.42 1719.84 V1732.09 M1475.12 1720.62 V1731.2 M1475.82 1720.74 V1730.97 M1476.52 1719.54 V1732.06 M1477.22 1718.65 V1732.84 M1477.92 1718.8 V1732.59 M1478.62 1720.39 V1730.89 M1479.32 1719.9 V1731.28 M1480.02 1720.49 V1730.58 M1480.72 1719.79 V1731.18 M1481.42 1719.89 V1730.98 M1482.12 1718.82 V1731.95 M1482.82 1720.08 V1730.58 M1483.52 1719.99 V1730.57 M1484.22 1718.66 V1731.79 M1484.92 1719.32 V1731.02 M1485.62 1718.03 V1732.21 M1486.32 1720.04 V1730.08 M1487.02 1719.58 V1730.43 M1487.72 1718.43 V1731.47 M1488.42 1719.87 V1729.92 M1489.12 1719.25 V1730.42 M1489.82 1718.6 V1730.96 M1490.52 1718.98 V1730.46 M1491.22 1718.7 V1730.62 M1491.92 1719.27 V1729.93 M1492.62 1717.69 V1731.39 M1493.32 1718.48 V1730.48 M1494.02 1719.07 V1729.78 M1494.72 1718.38 V1730.34 M1495.42 1717.51 V1731.09 M1496.12 1718.71 V1729.77 M1496.82 1717.7 V1730.65 M1497.52 1718.58 V1729.65 M1498.22 1717.8 V1730.3 M1498.92 1718.63 V1729.35 M1499.62 1717.1 V1730.75 M1500.32 1717.32 V1730.41 M1501.02 1716.91 V1730.69 M1501.72 1717.34 V1730.13 M1502.42 1717.26 V1730.08 M1503.12 1717.93 V1729.29 M1503.82 1717.5 V1729.59 M1504.52 1717.24 V1729.72 M1505.22 1717.33 V1729.5 M1505.92 1717.29 V1729.42 M1506.62 1716.4 V1730.17 M1507.32 1717.23 V1729.22 M1508.02 1716.1 V1730.22 M1508.72 1716.55 V1729.65 M1509.42 1717.19 V1728.88 M1510.12 1715.89 V1730.04 M1510.82 1717.76 V1728.05 M1511.52 1717.22 V1728.46 M1512.22 1716.11 V1729.44 M1512.92 1717.56 V1727.86 M1513.62 1716.44 V1728.86 M1514.32 1717.38 V1727.8 M1515.02 1716.29 V1728.76 M1515.72 1716.16 V1728.77 M1516.42 1715.54 V1729.26 M1517.12 1716.29 V1728.39 M1517.82 1716.96 V1727.59 M1518.52 1717.05 V1727.38 M1519.22 1717.04 V1727.26 M1519.92 1716.86 V1727.33 M1520.62 1715.69 V1728.37 M1521.32 1715.38 V1728.56 M1522.02 1716.02 V1727.8 M1522.72 1715.49 V1728.21 M1523.42 1714.85 V1728.73 M1524.12 1716.53 V1726.93 M1524.82 1715.54 V1727.81 M1525.52 1715.26 V1727.97 M1526.22 1715.74 V1727.37 M1526.92 1714.67 V1728.32 M1527.62 1714.56 V1728.31 M1528.32 1715.05 V1727.71 M1529.02 1714.31 V1728.33 M1529.72 1715.48 V1727.04 M1530.42 1715.57 V1726.84 M1531.12 1714.51 V1727.78 M1531.82 1715.33 V1726.84 M1532.52 1714.94 V1727.11 M1533.22 1714.83 V1727.11 M1533.92 1713.75 V1728.06 M1534.62 1714.48 V1727.22 M1535.32 1714.52 V1727.07 M1536.02 1713.84 V1727.63 M1536.72 1715.33 V1726.02 M1537.42 1714.93 V1726.31 M1538.12 1714.06 V1727.06 M1538.82 1713.88 V1727.11 M1539.52 1714.23 V1726.65 M1540.22 1714.02 V1726.74 M1540.92 1713.29 V1727.35 M1541.62 1714.94 V1725.59 M1542.32 1714.95 V1725.45 M1543.02 1713.96 V1726.32 M1543.72 1713.45 V1726.71 M1544.42 1714.94 V1725.1 M1545.12 1714.6 V1725.32 M1545.82 1714.16 V1725.64 M1546.52 1714.08 V1725.6 M1547.22 1713.95 V1725.61 M1547.92 1714.3 V1725.14 M1548.62 1713.74 V1725.57 M1549.32 1713.08 V1726.11 M1550.02 1712.72 V1726.35 M1550.72 1714.4 V1724.54 M1551.42 1713.42 V1725.4 M1552.12 1714.08 V1724.61 M1552.82 1713.35 V1725.21 M1553.52 1713.96 V1724.48 M1554.22 1713.27 V1725.04 M1554.92 1713.66 V1724.52 M1555.62 1712.17 V1725.88 M1556.32 1713.62 V1724.3 M1557.02 1712.2 V1725.59 M1557.72 1713.68 V1723.98 M1558.42 1713.42 V1724.1 M1559.12 1712.61 V1724.78 M1559.82 1712.1 V1725.15 M1560.52 1713.03 V1724.09 M1561.22 1712.41 V1724.56 M1561.92 1713.13 V1723.69 M1562.62 1711.65 V1725.02 M1563.32 1711.65 V1724.87 M1564.02 1712.49 V1723.88 M1564.72 1711.3 V1724.9 M1565.42 1712.33 V1723.71 M1566.12 1711.89 V1723.99 M1566.82 1711.85 V1723.87 M1567.52 1711.96 V1723.59 M1568.22 1711.85 V1723.53 M1568.92 1710.93 V1724.28 M1569.62 1710.58 V1724.46 M1570.32 1712.4 V1722.48 M1571.02 1712.31 V1722.4 M1571.72 1710.26 V1724.28 M1572.42 1711.36 V1723.01 M1573.12 1711.87 V1722.33 M1573.82 1710.89 V1723.13 M1574.52 1710.25 V1723.6 M1575.22 1711.03 V1722.66 M1575.92 1710.69 V1722.83 M1576.62 1710.78 V1722.57 M1577.32 1710 V1723.18 M1578.02 1710.4 V1722.62 M1578.72 1710.48 V1722.38 M1579.42 1709.85 V1722.84 M1580.12 1711.09 V1721.42 M1580.82 1711.14 V1721.19 M1581.52 1710.48 V1721.66 M1582.22 1709.04 V1722.91 M1582.92 1708.74 V1723 M1583.62 1710.2 V1721.34 M1584.32 1708.76 V1722.58 M1585.02 1710 V1721.13 M1585.72 1709.52 V1721.41 M1586.42 1708.56 V1722.16 M1587.12 1709.21 V1721.31 M1587.82 1708.26 V1722.05 M1588.52 1708.12 V1722 M1589.22 1709.1 V1720.82 M1589.92 1709.33 V1720.41 M1590.62 1707.86 V1721.7 M1591.32 1708.29 V1721.1 M1592.02 1708.96 V1720.27 M1592.72 1708.27 V1720.8 M1593.42 1709.01 V1719.93 M1594.12 1708.72 V1720.08 M1594.82 1708.35 V1720.34 M1595.52 1707.89 V1720.7 M1596.22 1708.1 V1720.4 M1596.92 1708.37 V1720.06 M1597.62 1708.35 V1720.04 M1598.32 1708.5 V1719.85 M1599.02 1709.1 V1719.22 M1599.72 1708.62 V1719.68 M1600.42 1707.21 V1721.07 M1601.12 1707.39 V1720.87 M1601.82 1708.71 V1719.55 M1602.52 1708.6 V1719.65 M1603.22 1707.24 V1721.01 M1603.92 1707 V1721.24 M1604.62 1707.95 V1720.29 M1605.32 1707.49 V1720.75 M1606.02 1707.9 V1720.35 M1606.72 1708.35 V1719.91 M1607.42 1707.31 V1720.96 M1608.12 1708.82 V1719.47 M1608.82 1707.5 V1720.8 M1609.52 1708.49 V1719.83 M1610.22 1707.91 V1720.44 M1610.92 1707.16 V1721.21 M1611.62 1709.09 V1719.3 M1612.32 1707.85 V1720.57 M1613.02 1707.28 V1721.17 M1613.72 1707.85 V1720.64 M1614.42 1709.1 V1719.43 M1615.12 1707.55 V1721.01 M1615.82 1707.24 V1721.36 M1616.52 1707.98 V1720.67 M1617.22 1708.87 V1719.82 M1617.92 1709.2 V1719.54 M1618.62 1708.09 V1720.7 M1619.32 1708.66 V1720.18 M1620.02 1708.4 V1720.49 M1620.72 1707.81 V1721.13 M1621.42 1707.55 V1721.45 M1622.12 1708.15 V1720.91 M1622.82 1709.13 V1719.99 M1623.52 1708.95 V1720.23 M1624.22 1707.7 V1721.54 M1624.92 1709.24 V1720.07 M1625.62 1709.29 V1720.08 M1626.32 1707.62 V1721.81 M1627.02 1708.6 V1720.9 M1627.72 1709.54 V1720.03 M1628.42 1708.45 V1721.19 M1629.12 1708.05 V1721.67 M1629.82 1707.85 V1721.94 M1630.52 1709.88 V1719.98 M1631.22 1708.55 V1721.39 M1631.92 1709.26 V1720.75 M1632.62 1709.86 V1720.23 M1633.32 1708.61 V1721.56 M1634.02 1708.37 V1721.87 M1634.72 1709.33 V1720.99 M1635.42 1709.4 V1720.99 M1636.12 1709.22 V1721.26 M1636.82 1709.05 V1721.51 M1637.52 1708.19 V1722.45 M1638.22 1710.23 V1720.49 M1638.92 1709.34 V1721.47 M1639.62 1709.44 V1721.46 M1640.32 1710.05 V1720.94 M1641.02 1709.09 V1722 M1641.72 1708.61 V1722.58 M1642.42 1710.11 V1721.18 M1643.12 1708.81 V1722.59 M1643.82 1710.34 V1721.17 M1644.52 1710.58 V1721.04 M1645.22 1709.48 V1722.26 M1645.92 1709.52 V1722.33 M1646.62 1709.18 V1722.79 M1647.32 1709.04 V1723.05 M1648.02 1709.65 V1722.56 M1648.72 1709.22 V1723.11 M1649.42 1711.03 V1721.43 M1650.12 1711.21 V1721.38 M1650.82 1709.53 V1723.19 M1651.52 1710.65 V1722.2 M1652.22 1710.57 V1722.4 M1652.92 1709.78 V1723.33 M1653.62 1709.64 V1723.6 M1654.32 1710.02 V1723.36 M1655.02 1711.69 V1721.82 M1655.72 1710.9 V1722.74 M1656.42 1709.76 V1724.02 M1657.12 1711.47 V1722.45 M1657.82 1711.13 V1722.93 M1658.52 1710.27 V1723.92 M1659.22 1711.06 V1723.27 M1659.92 1710.22 V1724.24 M1660.62 1711.22 V1723.38 M1661.32 1710.95 V1723.78 M1662.02 1711.17 V1723.7 M1662.72 1712.21 V1722.8 M1663.42 1712.39 V1722.75 M1664.12 1711.52 V1723.76 M1664.82 1711.9 V1723.51 M1665.52 1711.69 V1723.86 M1666.22 1712.68 V1723 M1666.92 1711.72 V1724.09 M1667.62 1711.31 V1724.63 M1668.32 1711.01 V1725.06 M1669.02 1712.6 V1723.59 M1669.72 1713.04 V1723.28 M1670.42 1711.28 V1725.15 M1671.12 1711.4 V1725.16 M1671.82 1711.66 V1725.02 M1672.52 1712.88 V1723.91 M1673.22 1711.77 V1725.13 M1673.92 1713.03 V1723.99 M1674.62 1712.29 V1724.84 M1675.32 1712.99 V1724.24 M1676.02 1713.34 V1724 M1676.72 1713.07 V1724.37 M1677.42 1711.61 V1725.92 M1678.12 1713.59 V1724.05 M1678.82 1712.71 V1725.03 M1679.52 1713.82 V1724.02 M1680.22 1713.11 V1724.84 M1680.92 1713.3 V1724.74 M1681.62 1712.76 V1725.38 M1682.32 1712.94 V1725.3 M1683.02 1713.32 V1725.02 M1683.72 1713.06 V1725.38 M1684.42 1714.11 V1724.43 M1685.12 1713.31 V1725.33 M1685.82 1714.33 V1724.41 M1686.52 1714.19 V1724.65 M1687.22 1713.41 V1725.52 M1687.92 1712.82 V1726.2 M1688.62 1713.51 V1725.61 M1689.32 1714.32 V1724.9 M1690.02 1713.54 V1725.77 M1690.72 1713.92 V1725.48 M1691.42 1712.67 V1726.83 M1692.12 1713.41 V1726.17 M1692.82 1714.81 V1724.87 M1693.52 1713.69 V1726.08 M1694.22 1713.08 V1726.78 M1694.92 1713.07 V1726.88 M1695.62 1713.12 V1726.92 M1696.32 1713.53 V1726.59 M1697.02 1713 V1727.21 M1697.72 1714.85 V1725.44 M1698.42 1714.32 V1726.04 M1699.12 1713.99 V1726.46 M1699.82 1714.08 V1726.45 M1700.52 1714.13 V1726.48 M1701.22 1713.5 V1727.18 M1701.92 1714.25 V1726.51 M1702.62 1715.35 V1725.49 M1703.32 1714.83 V1726.08 M1704.02 1714.01 V1726.97 M1704.72 1714.1 V1726.95 M1705.42 1714.17 V1726.95 M1706.12 1714.05 V1727.14 M1706.82 1713.77 V1727.48 M1707.52 1714.43 V1726.88 M1708.22 1715.18 V1726.2 M1708.92 1715.61 V1725.82 M1709.62 1713.71 V1727.78 M1710.32 1713.74 V1727.81 M1711.02 1714.29 V1727.31 M1711.72 1714.78 V1726.88 M1712.42 1715.68 V1726.03 M1713.12 1715.31 V1726.44 M1713.82 1715.53 V1726.27 M1714.52 1714.07 V1727.77 M1715.22 1714.89 V1726.99 M1715.92 1715.27 V1726.65 M1716.62 1715.91 V1726.05 M1717.32 1714.44 V1727.55 M1718.02 1715.51 V1726.52 M1718.72 1714.26 V1727.8 M1719.42 1715.47 V1726.61 M1720.12 1714.02 V1728.09 M1720.82 1714.78 V1727.35 M1721.52 1715.18 V1726.97 M1722.22 1715.19 V1726.98 M1722.92 1714.3 V1727.88 M1723.62 1714.77 V1727.43 M1724.32 1715.55 V1726.65 M1725.02 1715.85 V1726.36 M1725.72 1714.59 V1727.63 M1726.42 1715.7 V1726.53 M1727.12 1714.67 V1727.56 M1727.82 1714.98 V1727.25 M1728.52 1714.98 V1727.26 M1729.22 1714.16 V1728.07 M1729.92 1715.28 V1726.95 M1730.62 1714.49 V1727.73 M1731.32 1714.31 V1727.91 M1732.02 1715.02 V1727.19 M1732.72 1715.42 V1726.79 M1733.42 1715.57 V1726.63 M1734.12 1715.93 V1726.26 M1734.82 1715.98 V1726.2 M1735.52 1714.11 V1728.06 M1736.22 1714.17 V1727.99 M1736.92 1715.2 V1726.95 M1737.62 1715.65 V1726.49 M1738.32 1714.91 V1727.21 M1739.02 1715.61 V1726.5 M1739.72 1714.25 V1727.84 M1740.42 1715.96 V1726.12 M1741.12 1715.14 V1726.92 M1741.82 1715.02 V1727.03 M1742.52 1714.2 V1727.85 M1743.22 1715.03 V1727 M1743.92 1715.31 V1726.71 M1744.62 1714.63 V1727.37 M1745.32 1714.92 V1727.08 M1746.02 1713.86 V1728.12 M1746.72 1714.78 V1727.19 M1747.42 1714.04 V1727.92 M1748.12 1713.89 V1728.06 M1748.82 1715.05 V1726.88 M1749.52 1714.51 V1727.42 M1750.22 1714.57 V1727.35 M1750.92 1714.81 V1727.1 M1751.62 1714.11 V1727.8 M1752.32 1715.81 V1726.09 M1753.02 1714.88 V1727.02 M1753.72 1714.92 V1726.98" fill="none" stroke="#3a3aff" stroke-width="0.7" stroke-opacity="0.62"/>
<line x1="973.9" y1="1595.96" x2="973.9" y2="1826.14" stroke="#ff5070" stroke-width="1" stroke-opacity="0.8"/>
<line x1="974.6" y1="1621.54" x2="974.6" y2="1785.22" stroke="#ff6080" stroke-width="0.8" stroke-opacity="0.7"/>
<line x1="973.6" y1="1782.15" x2="973.6" y2="1824.09" stroke="#6060ff" stroke-width="0.9" stroke-opacity="0.8"/>
<line x1="977.2" y1="1734.07" x2="977.2" y2="1764.76" stroke="#6060ff" stroke-width="0.9" stroke-opacity="0.8"/>
<line x1="977.8" y1="1662.46" x2="977.8" y2="1842.51" stroke="#ff5070" stroke-width="0.8" stroke-opacity="0.8"/>
<line x1="975.4" y1="1657.35" x2="975.4" y2="1754.53" stroke="#ff6080" stroke-width="0.8" stroke-opacity="0.6"/>
<path d="M974.62 1678.34 V1745.37 M975.32 1674.28 V1738.7 M976.02 1670.93 V1740.77 M976.72 1673.42 V1748.89 M977.42 1671.05 V1744.9 M978.12 1676.18 V1749.04 M978.82 1680.58 V1738.86 M979.52 1683.74 V1748.61 M980.22 1681.8 V1744.8 M980.92 1680.33 V1742.69 M981.62 1685.18 V1748.81 M982.32 1683.58 V1744.49 M983.02 1681.9 V1740.77 M983.72 1680.28 V1742.05 M984.42 1685.42 V1739.01 M985.12 1720.43 V1735.34 M985.82 1721.14 V1734.93 M986.52 1722.75 V1733.62 M987.22 1722.28 V1734.4 M987.92 1720.9 V1736.08 M988.62 1721.06 V1736.23 M989.32 1722.74 V1734.86 M990.02 1723.08 V1734.8 M990.72 1723.7 V1734.47 M991.42 1723.56 V1734.87 M992.12 1723.8 V1734.87 M992.82 1721.81 V1737.07 M993.52 1721.99 V1737.08 M994.22 1723.47 V1735.77 M994.92 1724.26 V1735.13 M995.62 1722.28 V1737.24 M996.32 1723.02 V1736.62 M997.02 1722.42 V1737.32 M997.72 1723.86 V1735.99 M998.42 1722.62 V1737.32 M999.12 1722.79 V1737.24 M999.82 1723.14 V1736.98 M1000.52 1723.2 V1737.02 M1001.22 1723.17 V1737.14 M1001.92 1723.78 V1736.64 M1002.62 1722.69 V1737.82 M1003.32 1724.71 V1735.91 M1004.02 1724.05 V1736.67 M1004.72 1724.19 V1736.64 M1005.42 1723.98 V1736.95 M1006.12 1723.21 V1737.82 M1006.82 1725.01 V1736.1 M1007.52 1724.28 V1736.93 M1008.22 1724.24 V1737.04 M1008.92 1724.44 V1736.92 M1009.62 1723.93 V1737.49 M1010.32 1723.76 V1737.72 M1011.02 1723.95 V1737.57 M1011.72 1724.25 V1737.31 M1012.42 1724.58 V1737.01 M1013.12 1723.15 V1738.45 M1013.82 1723.56 V1738.06 M1014.52 1723.92 V1737.72 M1015.22 1725.26 V1736.39 M1015.92 1724.56 V1737.1 M1016.62 1723.87 V1737.8 M1017.32 1725.03 V1736.65 M1018.02 1724.49 V1737.2 M1018.72 1724.48 V1737.22 M1019.42 1725.16 V1736.55 M1020.12 1723.55 V1738.17 M1020.82 1723.44 V1738.27 M1021.52 1724.85 V1736.88 M1022.22 1725.12 V1736.61 M1022.92 1724.9 V1736.83 M1023.62 1723.85 V1737.88 M1024.32 1724.99 V1736.74 M1025.02 1723.79 V1737.94 M1025.72 1723.4 V1738.34 M1026.42 1725.29 V1736.45 M1027.12 1723.9 V1737.83 M1027.82 1723.89 V1737.84 M1028.52 1724.06 V1737.66 M1029.22 1723.99 V1737.74 M1029.92 1724.82 V1736.9 M1030.62 1725.17 V1736.55 M1031.32 1723.39 V1738.33 M1032.02 1725.06 V1736.65 M1032.72 1723.38 V1738.33 M1033.42 1723.63 V1738.07 M1034.12 1724.58 V1737.11 M1034.82 1724.36 V1737.33 M1035.52 1724.81 V1736.87 M1036.22 1724.94 V1736.74 M1036.92 1723.61 V1738.06 M1037.62 1725.29 V1736.38 M1038.32 1724.98 V1736.68 M1039.02 1723.22 V1738.44 M1039.72 1724.63 V1737.01 M1040.42 1724.09 V1737.54 M1041.12 1724.02 V1737.61 M1041.82 1723.86 V1737.77 M1042.52 1723.5 V1738.12 M1043.22 1723.6 V1738.01 M1043.92 1724.77 V1736.84 M1044.62 1724.65 V1736.96 M1045.32 1723.15 V1738.45 M1046.02 1723.33 V1738.26 M1046.72 1724.44 V1737.16 M1047.42 1724.77 V1736.82 M1048.12 1724.52 V1737.07 M1048.82 1723.53 V1738.06 M1049.52 1724.9 V1736.69 M1050.22 1725.33 V1736.25 M1050.92 1725.17 V1736.41 M1051.62 1724.94 V1736.64 M1052.32 1723.4 V1738.22 M1053.02 1725.13 V1736.56 M1053.72 1725.21 V1736.59 M1054.42 1723.9 V1738.03 M1055.12 1723.63 V1738.46 M1055.82 1723.53 V1738.75 M1056.52 1723.81 V1738.67 M1057.22 1723.84 V1738.84 M1057.92 1724.17 V1738.74 M1058.62 1724.01 V1739.13 M1059.32 1725.22 V1738.13 M1060.02 1724.4 V1739.17 M1060.72 1726.37 V1737.41 M1061.42 1726.04 V1737.93 M1062.12 1724.54 V1739.61 M1062.82 1725.8 V1738.51 M1063.52 1725.69 V1738.75 M1064.22 1725.3 V1739.24 M1064.92 1726.03 V1738.57 M1065.62 1726.82 V1737.81 M1066.32 1725.01 V1739.6 M1067.02 1726.42 V1738.13 M1067.72 1724.78 V1739.65 M1068.42 1725.47 V1738.79 M1069.12 1725.43 V1738.59 M1069.82 1724.22 V1739.51 M1070.52 1725.49 V1737.87 M1071.22 1724.33 V1738.59 M1071.92 1725.33 V1737.07 M1072.62 1723.7 V1738.1 M1073.32 1724.35 V1736.44 M1074.02 1721.88 V1736.6 M1074.72 1721.2 V1733.94 M1075.42 1718.23 V1732.94 M1076.12 1715.91 V1731.04 M1076.82 1715.59 V1727.25 M1077.52 1713.48 V1725.78 M1078.22 1710.65 V1725.91 M1078.92 1711.15 V1723.93 M1079.62 1711.49 V1722.6 M1080.32 1710.71 V1722.58 M1081.02 1709.97 V1722.68 M1081.72 1709.79 V1722.39 M1082.42 1709.16 V1722.67 M1083.12 1708.85 V1722.76 M1083.82 1710.1 V1721.38 M1084.52 1710.22 V1721.25 M1085.22 1709.9 V1721.64 M1085.92 1708.25 V1723.41 M1086.62 1710.06 V1721.78 M1087.32 1708.9 V1723.17 M1088.02 1709.13 V1723.18 M1088.72 1710.09 V1722.47 M1089.42 1708.93 V1723.88 M1090.12 1709.23 V1723.81 M1090.82 1709.33 V1723.92 M1091.52 1709.13 V1724.35 M1092.22 1710.36 V1723.39 M1092.92 1711.55 V1722.48 M1093.62 1709.68 V1724.66 M1094.32 1711.91 V1722.76 M1095.02 1711.76 V1723.25 M1095.72 1711.55 V1723.83 M1096.42 1711.62 V1724.15 M1097.12 1711.44 V1724.73 M1097.82 1712.77 V1723.81 M1098.52 1712.61 V1724.4 M1099.22 1711.83 V1725.62 M1099.92 1713.09 V1724.81 M1100.62 1713.1 V1725.25 M1101.32 1712.43 V1726.38 M1102.02 1713.01 V1726.27 M1102.72 1712.56 V1727.19 M1103.42 1712.6 V1727.62 M1104.12 1714.95 V1725.74 M1104.82 1714.97 V1726.19 M1105.52 1713.15 V1728.49 M1106.22 1714.73 V1727.36 M1106.92 1714.73 V1727.82 M1107.62 1715.98 V1727.02 M1108.32 1714.25 V1729.19 M1109.02 1715.39 V1728.47 M1109.72 1715.45 V1728.83 M1110.42 1715.2 V1729.49 M1111.12 1715.48 V1729.66 M1111.82 1717.39 V1728.21 M1112.52 1715.63 V1730.45 M1113.22 1716.03 V1730.56 M1113.92 1716.53 V1730.59 M1114.62 1716.45 V1731.21 M1115.32 1716.51 V1731.68 M1116.02 1718.29 V1730.45 M1116.72 1717.34 V1731.97 M1117.42 1718.58 V1731.27 M1118.12 1717.8 V1732.6 M1118.82 1718.63 V1732.3 M1119.52 1718.83 V1732.64 M1120.22 1718.99 V1732.99 M1120.92 1720.39 V1732.09 M1121.62 1720.43 V1732.51 M1122.32 1720.8 V1732.6 M1123.02 1721.14 V1732.67 M1123.72 1720.98 V1733.22 M1124.42 1720.01 V1734.54 M1125.12 1721.4 V1733.45 M1125.82 1721.64 V1733.48 M1126.52 1720.68 V1734.67 M1127.22 1720.89 V1734.63 M1127.92 1721.72 V1733.93 M1128.62 1720.3 V1735.41 M1129.32 1720.75 V1734.97 M1130.02 1721.27 V1734.39 M1130.72 1722.2 V1733.35 M1131.42 1721.12 V1734.26 M1132.12 1721.79 V1733.37 M1132.82 1720.64 V1734.24 M1133.52 1719.9 V1734.67 M1134.22 1721.07 V1733.14 M1134.92 1721.28 V1732.53 M1135.62 1720.01 V1733.36 M1136.32 1719.26 V1733.64 M1137.02 1720.74 V1731.66 M1137.72 1718.73 V1733.14 M1138.42 1718.19 V1733.13 M1139.12 1717.86 V1732.89 M1139.82 1719.22 V1730.94 M1140.52 1719.4 V1730.15 M1141.22 1717.59 V1731.34 M1141.92 1717.83 V1730.48 M1142.62 1716.49 V1731.18 M1143.32 1717.75 V1729.29 M1144.02 1716.14 V1730.26 M1144.72 1715.36 V1730.41 M1145.42 1715.87 V1729.28 M1146.12 1715.56 V1728.97 M1146.82 1716.07 V1727.87 M1147.52 1714.82 V1728.53 M1148.22 1713.83 V1728.95 M1148.92 1714.24 V1728 M1149.62 1713.48 V1728.22 M1150.32 1715.18 V1725.95 M1151.02 1713.96 V1726.56 M1151.72 1714.45 V1725.44 M1152.42 1712.58 V1726.66 M1153.12 1712.46 V1726.11 M1153.82 1711.35 V1726.53 M1154.52 1712.68 V1724.49 M1155.22 1710.61 V1725.85 M1155.92 1710.57 V1725.19 M1156.62 1710.5 V1724.54 M1157.32 1709.83 V1724.5 M1158.02 1709.5 V1724.12 M1158.72 1710.21 V1722.71 M1159.42 1709.74 V1722.51 M1160.12 1708.15 V1723.43 M1160.82 1709.83 V1721.11 M1161.52 1709.59 V1720.73 M1162.22 1707.87 V1721.86 M1162.92 1708.02 V1721.16 M1163.62 1708.31 V1720.35 M1164.32 1708.44 V1719.74 M1165.02 1708.04 V1719.7 M1165.72 1706.7 V1720.66 M1166.42 1706.82 V1720.2 M1167.12 1706.83 V1719.92 M1167.82 1706.38 V1720.15 M1168.52 1705.85 V1720.52 M1169.22 1707.68 V1718.6 M1169.92 1705.79 V1720.46 M1170.62 1707.61 V1718.67 M1171.32 1707.28 V1719.09 M1172.02 1705.97 V1720.54 M1172.72 1707.83 V1718.86 M1173.42 1707.54 V1719.39 M1174.12 1707.02 V1720.18 M1174.82 1706.22 V1721.28 M1175.52 1706.4 V1721.45 M1176.22 1706.59 V1721.63 M1176.92 1707.71 V1720.91 M1177.62 1707.12 V1721.91 M1178.32 1708.1 V1721.37 M1179.02 1708.39 V1721.53 M1179.72 1708.54 V1721.84 M1180.42 1709.23 V1721.62 M1181.12 1708.9 V1722.43 M1181.82 1710.38 V1721.42 M1182.52 1709.8 V1722.47 M1183.22 1709.38 V1723.35 M1183.92 1709.8 V1723.38 M1184.62 1710.79 V1722.82 M1185.32 1710 V1724.02 M1186.02 1711.29 V1723.13 M1186.72 1710.87 V1723.9 M1187.42 1710.12 V1724.99 M1188.12 1710.61 V1724.8 M1188.82 1711.64 V1724.06 M1189.52 1711.09 V1724.91 M1190.22 1711.25 V1725.06 M1190.92 1712.65 V1723.98 M1191.62 1711.38 V1725.56 M1192.32 1711.78 V1725.48 M1193.02 1712.24 V1725.35 M1193.72 1712.05 V1725.86 M1194.42 1713.16 V1725.08 M1195.12 1711.71 V1726.85 M1195.82 1712.38 V1726.5 M1196.52 1712.57 V1726.62 M1197.22 1713.46 V1726.05 M1197.92 1713.9 V1725.9 M1198.62 1714.14 V1725.94 M1199.32 1713.18 V1727.18 M1200.02 1713.39 V1727.24 M1200.72 1712.9 V1727.97 M1201.42 1713.73 V1727.37 M1202.12 1714.62 V1726.69 M1202.82 1715.12 V1726.39 M1203.52 1713.99 V1727.68 M1204.22 1714.79 V1727.03 M1204.92 1715.24 V1726.7 M1205.62 1714.68 V1727.36 M1206.32 1713.97 V1728.14 M1207.02 1714.99 V1727.16 M1207.72 1713.69 V1728.47 M1208.42 1714.48 V1727.67 M1209.12 1715.28 V1726.81 M1209.82 1714.2 V1727.82 M1210.52 1715.4 V1726.51 M1211.22 1714.02 V1727.76 M1211.92 1715.22 V1726.41 M1212.62 1714.94 V1726.5 M1213.32 1714.88 V1726.37 M1214.02 1714.53 V1726.5 M1214.72 1713.09 V1727.71 M1215.42 1712.81 V1727.73 M1216.12 1713.63 V1726.65 M1216.82 1712.86 V1727.14 M1217.52 1712.63 V1727.08 M1218.22 1712.94 V1726.47 M1218.92 1712.26 V1726.84 M1219.62 1711.98 V1726.8 M1220.32 1712.36 V1726.11 M1221.02 1712.59 V1725.55 M1221.72 1712.06 V1725.76 M1222.42 1712.35 V1725.14 M1223.12 1712.39 V1724.77 M1223.82 1711.28 V1725.56 M1224.52 1712.24 V1724.28 M1225.22 1711.96 V1724.25 M1225.92 1711.77 V1724.13 M1226.62 1711.49 V1724.12 M1227.32 1710.06 V1725.26 M1228.02 1710.52 V1724.5 M1228.72 1711.1 V1723.61 M1229.42 1711.56 V1722.8 M1230.12 1710.12 V1723.89 M1230.82 1711.02 V1722.62 M1231.52 1709.9 V1723.36 M1232.22 1710.15 V1722.72 M1232.92 1709.77 V1722.7 M1233.62 1709.56 V1722.51 M1234.32 1710.14 V1721.53 M1235.02 1708.07 V1723.19 M1235.72 1709.46 V1721.39 M1236.42 1708.24 V1722.21 M1237.12 1708.75 V1721.3 M1237.82 1707.67 V1721.99 M1238.52 1708.36 V1720.93 M1239.22 1706.83 V1722.1 M1239.92 1707.85 V1720.72 M1240.62 1708.37 V1719.87 M1241.32 1706.82 V1721.11 M1242.02 1706.75 V1720.87 M1242.72 1706.73 V1720.63 M1243.42 1706.66 V1720.45 M1244.12 1707.88 V1719.01 M1244.82 1706.01 V1720.69 M1245.52 1707.14 V1719.41 M1246.22 1706.49 V1719.93 M1246.92 1706.3 V1720.04 M1247.62 1707.49 V1718.78 M1248.32 1706.7 V1719.53 M1249.02 1706.64 V1719.56 M1249.72 1707.39 V1718.79 M1250.42 1706.87 V1719.31 M1251.12 1706.06 V1720.14 M1251.82 1706.95 V1719.29 M1252.52 1706.29 V1720.01 M1253.22 1707.73 V1718.64 M1253.92 1706.76 V1719.7 M1254.62 1707.07 V1719.5 M1255.32 1705.73 V1720.96 M1256.02 1707.74 V1719.1 M1256.72 1706.02 V1720.98 M1257.42 1707.7 V1719.48 M1258.12 1707.23 V1720.14 M1258.82 1707.58 V1720 M1259.52 1708.06 V1719.75 M1260.22 1708.03 V1720.03 M1260.92 1708.53 V1719.8 M1261.62 1708.91 V1719.7 M1262.32 1707.51 V1721.39 M1263.02 1708.83 V1720.39 M1263.72 1707.58 V1721.98 M1264.42 1709.03 V1720.87 M1265.12 1709.25 V1721.02 M1265.82 1708.43 V1722.23 M1266.52 1709.64 V1721.43 M1267.22 1709.71 V1721.82 M1267.92 1709.6 V1722.42 M1268.62 1710.35 V1722.22 M1269.32 1709.7 V1723.45 M1270.02 1710.15 V1723.61 M1270.72 1710.04 V1724.37 M1271.42 1712.1 V1722.98 M1272.12 1711.56 V1724.23 M1272.82 1711.03 V1725.48 M1273.52 1712.78 V1724.47 M1274.22 1712.19 V1725.81 M1274.92 1712.22 V1726.54 M1275.62 1714.35 V1725.17 M1276.32 1712.51 V1727.79 M1277.02 1713.31 V1727.75 M1277.72 1715.27 V1726.55 M1278.42 1715.53 V1727.04 M1279.12 1715.87 V1727.44 M1279.82 1715.45 V1728.59 M1280.52 1716.8 V1727.94 M1281.22 1715.78 V1729.63 M1281.92 1716.57 V1729.5 M1282.62 1717.52 V1729.15 M1283.32 1716.12 V1731.14 M1284.02 1717.56 V1730.24 M1284.72 1717.36 V1730.94 M1285.42 1718.37 V1730.39 M1286.12 1719.17 V1729.99 M1286.82 1717.8 V1731.74 M1287.52 1717.56 V1732.33 M1288.22 1717.88 V1732.36 M1288.92 1717.97 V1732.59 M1289.62 1719.79 V1731.05 M1290.32 1718.71 V1732.41 M1291.02 1719.87 V1731.51 M1291.72 1719.54 V1732.08 M1292.42 1718.63 V1733.21 M1293.12 1720.1 V1731.94 M1293.82 1720.38 V1731.85 M1294.52 1720.35 V1732.04 M1295.22 1718.67 V1733.88 M1295.92 1718.79 V1733.9 M1296.62 1720.67 V1732.14 M1297.32 1720.3 V1732.62 M1298.02 1719.5 V1733.53 M1298.72 1719.36 V1733.76 M1299.42 1720.11 V1733.08 M1300.12 1720.78 V1732.48 M1300.82 1719.48 V1733.83 M1301.52 1719.14 V1734.22 M1302.22 1721.1 V1732.29 M1302.92 1720.38 V1733.03 M1303.62 1719.34 V1734.09 M1304.32 1720.89 V1732.56 M1305.02 1721.27 V1732.19 M1305.72 1719.52 V1733.93 M1306.42 1720.71 V1732.72 M1307.12 1720.54 V1732.85 M1307.82 1720.1 V1733.25 M1308.52 1719.91 V1733.37 M1309.22 1719.33 V1733.87 M1309.92 1719.13 V1733.97 M1310.62 1719.83 V1733.16 M1311.32 1720.3 V1732.57 M1312.02 1719.37 V1733.37 M1312.72 1719.76 V1732.83 M1313.42 1719.21 V1733.22 M1314.12 1718.99 V1733.29 M1314.82 1719.14 V1732.96 M1315.52 1719.75 V1732.16 M1316.22 1718.59 V1733.13 M1316.92 1719.61 V1731.92 M1317.62 1718.72 V1732.59 M1318.32 1718.07 V1733.03 M1319.02 1718.56 V1732.33 M1319.72 1718.91 V1731.75 M1320.42 1717.62 V1732.81 M1321.12 1718.66 V1731.53 M1321.82 1718.4 V1731.57 M1322.52 1718.23 V1731.49 M1323.22 1718.34 V1731.14 M1323.92 1717.46 V1731.79 M1324.62 1717.51 V1731.49 M1325.32 1717.28 V1731.46 M1326.02 1718.11 V1730.36 M1326.72 1718.33 V1729.83 M1327.42 1717.82 V1730 M1328.12 1717.26 V1730.21 M1328.82 1717.64 V1729.46 M1329.52 1717.31 V1729.41 M1330.22 1716.96 V1729.36 M1330.92 1716.75 V1729.16 M1331.62 1716.64 V1728.85 M1332.32 1716.3 V1728.76 M1333.02 1715.79 V1728.85 M1333.72 1715.15 V1729.07 M1334.42 1715.71 V1728.09 M1335.12 1715.04 V1728.35 M1335.82 1714.41 V1728.58 M1336.52 1714.47 V1728.12 M1337.22 1715.56 V1726.66 M1337.92 1715 V1726.87 M1338.62 1714.56 V1726.97 M1339.32 1714.34 V1726.87 M1340.02 1714.33 V1726.6 M1340.72 1714.87 V1725.8 M1341.42 1712.66 V1727.79 M1342.12 1714.04 V1726.21 M1342.82 1714.53 V1725.57 M1343.52 1713.18 V1726.81 M1344.22 1713.03 V1726.89 M1344.92 1714.14 V1725.75 M1345.62 1714.51 V1725.38 M1346.32 1712.74 V1727.19 M1347.02 1713.18 V1726.82 M1347.72 1713.67 V1726.43 M1348.42 1714.37 V1725.85 M1349.12 1714.2 V1726.17 M1349.82 1713.96 V1726.59 M1350.52 1713.31 V1727.43 M1351.22 1713.91 V1727.05 M1351.92 1714.31 V1726.89 M1352.62 1713.69 V1727.76 M1353.32 1715.11 V1726.62 M1354.02 1714.33 V1727.68 M1354.72 1714.69 V1727.62 M1355.42 1715.77 V1726.85 M1356.12 1715.14 V1727.81 M1356.82 1714.14 V1729.13 M1357.52 1714.77 V1728.84 M1358.22 1714.71 V1729.24 M1358.92 1715.85 V1728.44 M1359.62 1714.8 V1729.84 M1360.32 1717.11 V1727.88 M1361.02 1716.68 V1728.65 M1361.72 1716.45 V1729.23 M1362.42 1716.1 V1729.91 M1363.12 1715.97 V1730.37 M1363.82 1716.75 V1729.92 M1364.52 1716.01 V1730.99 M1365.22 1716.61 V1730.75 M1365.92 1718.08 V1729.65 M1366.62 1717.99 V1730.15 M1367.32 1718.46 V1730.1 M1368.02 1717.56 V1731.43 M1368.72 1718.47 V1730.97 M1369.42 1717.8 V1732.1 M1370.12 1717.97 V1732.4 M1370.82 1719.19 V1731.65 M1371.52 1719.64 V1731.68 M1372.22 1719.62 V1732.18 M1372.92 1720.67 V1731.61 M1373.62 1719.18 V1733.58 M1374.32 1719.88 V1733.35 M1375.02 1720.16 V1733.53 M1375.72 1720.33 V1733.81 M1376.42 1720.63 V1733.95 M1377.12 1720.25 V1734.75 M1377.82 1722.07 V1733.33 M1378.52 1720.35 V1735.44 M1379.22 1720.96 V1735.19 M1379.92 1721.7 V1734.79 M1380.62 1721.32 V1735.48 M1381.32 1721.22 V1735.85 M1382.02 1721.57 V1735.75 M1382.72 1721.65 V1735.88 M1383.42 1723.1 V1734.61 M1384.12 1722.35 V1735.5 M1384.82 1721.56 V1736.41 M1385.52 1723.46 V1734.6 M1386.22 1722.79 V1735.34 M1386.92 1721.71 V1736.48 M1387.62 1722.3 V1735.91 M1388.32 1722.61 V1735.62 M1389.02 1723.32 V1734.89 M1389.72 1722.93 V1735.26 M1390.42 1723.41 V1734.74 M1391.12 1722.05 V1736.04 M1391.82 1723.32 V1734.69 M1392.52 1722.63 V1735.28 M1393.22 1721.76 V1736.06 M1393.92 1721.86 V1735.83 M1394.62 1722.5 V1735.06 M1395.32 1722.84 V1734.58 M1396.02 1722.35 V1734.92 M1396.72 1722.7 V1734.41 M1397.42 1722.1 V1734.84 M1398.12 1722.6 V1734.17 M1398.82 1721.13 V1735.46 M1399.52 1720.76 V1735.64 M1400.22 1722.45 V1733.76 M1400.92 1722.37 V1733.64 M1401.62 1721.32 V1734.49 M1402.32 1720.31 V1735.3 M1403.02 1722.11 V1733.29 M1403.72 1721.99 V1733.2 M1404.42 1721.51 V1733.45 M1405.12 1720.99 V1733.73 M1405.82 1720.2 V1734.26 M1406.52 1720.26 V1733.93 M1407.22 1721.48 V1732.42 M1407.92 1721.08 V1732.53 M1408.62 1720.16 V1733.14 M1409.32 1719.15 V1733.83 M1410.02 1720.68 V1731.97 M1410.72 1720.21 V1732.11 M1411.42 1719.99 V1731.99 M1412.12 1719.15 V1732.48 M1412.82 1718.75 V1732.53 M1413.52 1719.71 V1731.21 M1414.22 1719.22 V1731.34 M1414.92 1719.05 V1731.14 M1415.62 1717.84 V1732 M1416.32 1718.78 V1730.69 M1417.02 1717.61 V1731.5 M1417.72 1718.5 V1730.24 M1418.42 1717.91 V1730.48 M1419.12 1717.54 V1730.49 M1419.82 1717.37 V1730.3 M1420.52 1717.94 V1729.39 M1421.22 1717.73 V1729.26 M1421.92 1716.86 V1729.8 M1422.62 1716.28 V1730.05 M1423.32 1716.86 V1729.14 M1424.02 1716.22 V1729.45 M1424.72 1716.82 V1728.52 M1425.42 1715.48 V1729.53 M1426.12 1715.17 V1729.51 M1426.82 1716.66 V1727.68 M1427.52 1716.05 V1727.95 M1428.22 1715.93 V1727.74 M1428.92 1714.38 V1728.95 M1429.62 1713.96 V1729.03 M1430.32 1714.13 V1728.53 M1431.02 1715.57 V1726.76 M1431.72 1713.92 V1728.07 M1432.42 1715.08 V1726.57 M1433.12 1714.35 V1726.97 M1433.82 1713.87 V1727.12 M1434.52 1713.93 V1726.73 M1435.22 1714.3 V1726.03 M1435.92 1712.74 V1727.27 M1436.62 1713.91 V1725.78 M1437.32 1713.52 V1725.86 M1438.02 1713.66 V1725.4 M1438.72 1713.24 V1725.51 M1439.42 1712.14 V1726.31 M1440.12 1711.63 V1726.52 M1440.82 1713.1 V1724.76 M1441.52 1711.77 V1725.79 M1442.22 1711.89 V1725.39 M1442.92 1711.78 V1725.2 M1443.62 1712.06 V1724.61 M1444.32 1711.11 V1725.22 M1445.02 1712.27 V1723.72 M1445.72 1710.57 V1725.06 M1446.42 1712.07 V1723.21 M1447.12 1711.05 V1723.86 M1447.82 1710.44 V1724.11 M1448.52 1710.81 V1723.37 M1449.22 1710.69 V1723.13 M1449.92 1710.96 V1722.51 M1450.62 1711.05 V1722.07 M1451.32 1709.61 V1723.17 M1452.02 1710.56 V1721.89 M1452.72 1710.11 V1722.04 M1453.42 1710.27 V1721.59 M1454.12 1710.12 V1721.47 M1454.82 1710.05 V1721.29 M1455.52 1708.53 V1722.58 M1456.22 1709.99 V1720.93 M1456.92 1709.99 V1720.76 M1457.62 1709.22 V1721.4 M1458.32 1708.92 V1721.61 M1459.02 1708.73 V1721.75 M1459.72 1709.34 V1721.12 M1460.42 1709.18 V1721.29 M1461.12 1708.81 V1721.74 M1461.82 1709.93 V1720.74 M1462.52 1709.55 V1721.3 M1463.22 1709.08 V1722.02 M1463.92 1708.48 V1722.91 M1464.62 1710.5 V1721.25 M1465.32 1709.47 V1722.67 M1466.02 1710.91 V1721.68 M1466.72 1708.94 V1724.12 M1467.42 1710.24 V1723.34 M1468.12 1710.47 V1723.65 M1468.82 1710.3 V1724.39 M1469.52 1711.6 V1723.68 M1470.22 1710.53 V1725.36 M1470.92 1711.12 V1725.39 M1471.62 1711.59 V1725.55 M1472.32 1712.55 V1725.21 M1473.02 1713.31 V1725.08 M1473.72 1712.01 V1727.01 M1474.42 1714.12 V1725.51 M1475.12 1714.23 V1726.01 M1475.82 1713.05 V1727.77 M1476.52 1713.64 V1727.74 M1477.22 1714.79 V1727.12 M1477.92 1714.12 V1728.29 M1478.62 1715.15 V1727.73 M1479.32 1714.07 V1729.24 M1480.02 1715.53 V1728.16 M1480.72 1714.92 V1729.1 M1481.42 1716.33 V1727.98 M1482.12 1715.93 V1728.66 M1482.82 1716.87 V1728.01 M1483.52 1714.92 V1730.23 M1484.22 1716.38 V1729.04 M1484.92 1716.97 V1728.71 M1485.62 1715.7 V1730.24 M1486.32 1716.19 V1729.99 M1487.02 1715.6 V1730.81 M1487.72 1717.32 V1729.32 M1488.42 1715.79 V1731.05 M1489.12 1715.97 V1731.06 M1489.82 1716.21 V1730.98 M1490.52 1716.17 V1731.18 M1491.22 1718.28 V1729.19 M1491.92 1716.26 V1731.32 M1492.62 1717.6 V1730.06 M1493.32 1718.08 V1729.64 M1494.02 1716.31 V1731.44 M1494.72 1717.68 V1730.07 M1495.42 1717.34 V1730.38 M1496.12 1718.32 V1729.33 M1496.82 1718.22 V1729.34 M1497.52 1718.19 V1729.24 M1498.22 1717.32 V1729.94 M1498.92 1716.43 V1730.62 M1499.62 1717 V1729.81 M1500.32 1716.39 V1730.13 M1501.02 1716.21 V1729.97 M1501.72 1716.4 V1729.36 M1502.42 1715.95 V1729.32 M1503.12 1716.3 V1728.4 M1503.82 1714.71 V1729.36 M1504.52 1715.62 V1727.76 M1505.22 1715.92 V1726.72 M1505.92 1714.25 V1727.6 M1506.62 1715.14 V1725.89 M1507.32 1714.29 V1725.87 M1508.02 1713.34 V1725.95 M1508.72 1711.8 V1726.57 M1509.42 1713.27 V1724.19 M1510.12 1711.77 V1724.76 M1510.82 1711.32 V1724.28 M1511.52 1710.86 V1723.82 M1512.22 1710.53 V1723.23 M1512.92 1709.4 V1723.46 M1513.62 1709.11 V1722.88 M1514.32 1710.01 V1721.13 M1515.02 1708.51 V1721.82 M1515.72 1707.6 V1721.96 M1516.42 1707.9 V1720.94 M1517.12 1708.55 V1719.62 M1517.82 1707.88 V1719.69 M1518.52 1707.58 V1719.45 M1519.22 1707.35 V1719.21 M1519.92 1707.37 V1718.81 M1520.62 1706.74 V1719.12 M1521.32 1706.44 V1719.13 M1522.02 1706.96 V1718.34 M1522.72 1705.46 V1719.61 M1523.42 1706.81 V1718.05 M1524.12 1705.03 V1719.65 M1524.82 1706.6 V1717.92 M1525.52 1704.63 V1719.77 M1526.22 1705.08 V1719.22 M1526.92 1704.96 V1719.27 M1527.62 1706.57 V1717.61 M1528.32 1706 V1718.18 M1529.02 1706.11 V1718.08 M1529.72 1706.12 V1718.13 M1530.42 1705.47 V1718.86 M1531.12 1704.95 V1719.49 M1531.82 1705.1 V1719.48 M1532.52 1705.11 V1719.64 M1533.22 1705.22 V1719.74 M1533.92 1705.81 V1719.39 M1534.62 1706.94 V1718.53 M1535.32 1706.31 V1719.45 M1536.02 1707.49 V1718.61 M1536.72 1705.75 V1720.72 M1537.42 1707.29 V1719.57 M1538.12 1706.53 V1720.77 M1538.82 1707.66 V1720.11 M1539.52 1707.24 V1721.04 M1540.22 1708.59 V1720.24 M1540.92 1707.8 V1721.67 M1541.62 1708.79 V1721.4 M1542.32 1708.22 V1722.76 M1543.02 1708.97 V1722.87 M1543.72 1709.6 V1723.16 M1544.42 1711.44 V1722.3 M1545.12 1710.98 V1723.77 M1545.82 1712.36 V1723.45 M1546.52 1711.12 V1725.79 M1547.22 1711.76 V1726.27 M1547.92 1713.6 V1725.57 M1548.62 1712.72 V1727.61 M1549.32 1713.72 V1727.78 M1550.02 1714.12 V1728.56 M1550.72 1714.91 V1728.94 M1551.42 1717.1 V1727.91 M1552.12 1715.96 V1730.2 M1552.82 1717.64 V1729.64 M1553.52 1717.52 V1730.86 M1554.22 1717.52 V1731.92 M1554.92 1718.84 V1731.62 M1555.62 1719.93 V1731.51 M1556.32 1719.26 V1733.1 M1557.02 1720.64 V1732.59 M1557.72 1719.54 V1734.49 M1558.42 1721.5 V1733.26 M1559.12 1720.12 V1735.29 M1559.82 1722.08 V1733.97 M1560.52 1721.13 V1735.6 M1561.22 1722.06 V1735.37 M1561.92 1721.42 V1736.72 M1562.62 1723 V1735.81 M1563.32 1722.08 V1737.34 M1564.02 1724.04 V1735.91 M1564.72 1723.51 V1736.87 M1565.42 1724.47 V1736.2 M1566.12 1723.81 V1736.99 M1566.82 1724.38 V1736.36 M1567.52 1723.49 V1736.99 M1568.22 1723.14 V1736.83 M1568.92 1722.12 V1737.08 M1569.62 1722.97 V1735.17 M1570.32 1721.44 V1735.32 M1571.02 1720.74 V1734.29 M1571.72 1720.72 V1732.07 M1572.42 1718.64 V1731.34 M1573.12 1715.68 V1731.02 M1573.82 1715.22 V1727.8 M1574.52 1711.96 V1727.07 M1575.22 1710.53 V1724.25 M1575.92 1708.06 V1722.31 M1576.62 1706.11 V1719.76 M1577.32 1704.39 V1716.95 M1578.02 1702.81 V1714.08 M1578.72 1698.83 V1713.73 M1579.42 1698.58 V1709.86 M1580.12 1695.39 V1709.22 M1580.82 1694.1 V1707.03 M1581.52 1692.72 V1705.38 M1582.22 1690.28 V1705.3 M1582.92 1689.24 V1704.39 M1583.62 1689.83 V1702.31 M1584.32 1688.18 V1702.86 M1585.02 1687.94 V1702.37 M1585.72 1689.32 V1700.59 M1586.42 1688.31 V1701.5 M1587.12 1689.36 V1700.63 M1587.82 1688.83 V1701.58 M1588.52 1688.81 V1702.22 M1589.22 1689.04 V1702.79 M1589.92 1690.03 V1702.75 M1590.62 1690.46 V1703.37 M1591.32 1690.81 V1704.17 M1592.02 1690.99 V1705.18 M1592.72 1691.98 V1705.44 M1593.42 1692.2 V1706.72 M1594.12 1694.23 V1706.43 M1594.82 1694.73 V1707.88 M1595.52 1696.82 V1707.93 M1596.22 1696.5 V1710.55 M1596.92 1697.68 V1711.78 M1597.62 1699.77 V1712.21 M1598.32 1701.47 V1713.09 M1599.02 1702.6 V1714.57 M1599.72 1703.41 V1716.37 M1600.42 1703.74 V1718.63 M1601.12 1705.81 V1719.09 M1601.82 1707.88 V1719.46 M1602.52 1708.71 V1721.03 M1603.22 1709.01 V1723.35 M1603.92 1710.51 V1724.66 M1604.62 1713.07 V1725.01 M1605.32 1714.76 V1726.27 M1606.02 1716.24 V1727.67 M1606.72 1717.89 V1728.78 M1607.42 1718.06 V1731.17 M1608.12 1720.26 V1731.23 M1608.82 1719.37 V1734.01 M1609.52 1721.05 V1733.78 M1610.22 1722.02 V1733.78 M1610.92 1722.31 V1734.3 M1611.62 1722.47 V1734.89 M1612.32 1722.76 V1735.28 M1613.02 1722.93 V1735.71 M1613.72 1722.58 V1736.6 M1614.42 1722.77 V1736.89 M1615.12 1724.19 V1735.87 M1615.82 1722.98 V1737.41 M1616.52 1724.9 V1735.76 M1617.22 1724.41 V1736.44 M1617.92 1724.26 V1736.71 M1618.62 1722.94 V1738.09 M1619.32 1722.88 V1738.13 M1620.02 1725.07 V1735.85 M1620.72 1723.27 V1737.49 M1621.42 1724.66 V1735.86 M1622.12 1724.36 V1735.87 M1622.82 1724.27 V1735.58 M1623.52 1723.72 V1735.68 M1624.22 1723.42 V1735.47 M1624.92 1723.42 V1734.88 M1625.62 1721.46 V1736.17 M1626.32 1720.73 V1735.95 M1627.02 1721.84 V1733.49 M1627.72 1720.61 V1733.05 M1628.42 1719.31 V1732.4 M1629.12 1719.34 V1730.21 M1629.82 1716.52 V1730.71 M1630.52 1714.79 V1730.02 M1631.22 1714.85 V1727.51 M1631.92 1713.18 V1726.75 M1632.62 1712.22 V1725.36 M1633.32 1710.07 V1725.3 M1634.02 1710.61 V1722.75 M1634.72 1709.37 V1722.24 M1635.42 1708.95 V1721.22 M1636.12 1708.15 V1720.96 M1636.82 1708.58 V1719.92 M1637.52 1707.81 V1720.54 M1638.22 1707.52 V1720.94 M1638.92 1707.57 V1721.2 M1639.62 1707.27 V1721.97 M1640.32 1709.47 V1720.41 M1641.02 1709.38 V1721.27 M1641.72 1710.11 V1721.44 M1642.42 1709.47 V1723.11 M1643.12 1709.18 V1724.51 M1643.82 1710.35 V1724.55 M1644.52 1712.23 V1723.95 M1645.22 1712.57 V1724.95 M1645.92 1712.33 V1726.56 M1646.62 1712.52 V1727.78 M1647.32 1714.7 V1727.03 M1648.02 1714.31 V1728.85 M1648.72 1715.6 V1728.98 M1649.42 1716.48 V1729.49 M1650.12 1718.19 V1729.13 M1650.82 1716.82 V1731.8 M1651.52 1718.34 V1731.5 M1652.22 1720.06 V1730.93 M1652.92 1719.94 V1732.09 M1653.62 1720.77 V1732.19 M1654.32 1720.97 V1732.82 M1655.02 1721.02 V1733.44 M1655.72 1720.2 V1734.77 M1656.42 1722.16 V1733.17 M1657.12 1721.67 V1733.84 M1657.82 1721.88 V1733.7 M1658.52 1721.27 V1734.29 M1659.22 1720.77 V1734.68 M1659.92 1720.89 V1734.37 M1660.62 1720.8 V1734.2 M1661.32 1720.38 V1734.27 M1662.02 1719.78 V1734.46 M1662.72 1720.2 V1733.56 M1663.42 1719.03 V1734.19 M1664.12 1719.03 V1733.59 M1664.82 1718.7 V1733.28 M1665.52 1718.76 V1732.52 M1666.22 1719.35 V1731.18 M1666.92 1717.91 V1731.84 M1667.62 1718.74 V1730.19 M1668.32 1716.48 V1731.6 M1669.02 1717.28 V1729.91 M1669.72 1716.01 V1730.29 M1670.42 1715.96 V1729.41 M1671.12 1716.68 V1727.75 M1671.82 1715.59 V1727.89 M1672.52 1714.84 V1727.69 M1673.22 1713.19 V1728.38 M1673.92 1714.87 V1725.74 M1674.62 1714.03 V1725.62 M1675.32 1711.85 V1726.86 M1676.02 1712.65 V1725.14 M1676.72 1712.09 V1724.75 M1677.42 1711.98 V1723.72 M1678.12 1711.33 V1723.05 M1678.82 1710.32 V1722.6 M1679.52 1709.89 V1721.43 M1680.22 1708.3 V1721.36 M1680.92 1707.96 V1719.97 M1681.62 1705.94 V1720.24 M1682.32 1704.76 V1719.67 M1683.02 1705.93 V1716.81 M1683.72 1703.12 V1718.01 M1684.42 1703.59 V1716.03 M1685.12 1702.97 V1715.29 M1685.82 1701.04 V1716.03 M1686.52 1700.7 V1715.38 M1687.22 1700.31 V1715.03 M1687.92 1701.65 V1713.21 M1688.62 1701.8 V1712.86 M1689.32 1699.87 V1714.81 M1690.02 1700.67 V1714.23 M1690.72 1700.14 V1715.14 M1691.42 1701.53 V1714.3 M1692.12 1702.41 V1714.12 M1692.82 1703.24 V1714.12 M1693.52 1701.68 V1716.6 M1694.22 1702.32 V1716.98 M1694.92 1703.1 V1717.29 M1695.62 1703.72 V1717.8 M1696.32 1705.48 V1717.21 M1697.02 1704.34 V1719.54 M1697.72 1706.32 V1718.75 M1698.42 1705.71 V1720.53 M1699.12 1707.29 V1720.07 M1699.82 1707.57 V1720.86 M1700.52 1708.98 V1720.53 M1701.22 1708.85 V1721.81 M1701.92 1708.91 V1722.97 M1702.62 1710.69 V1722.45 M1703.32 1709.88 V1724.57 M1704.02 1710.24 V1725.55 M1704.72 1711.82 V1725.34 M1705.42 1713.52 V1725.02 M1706.12 1712.5 V1727.45 M1706.82 1713.23 V1728.12 M1707.52 1714.3 V1728.44 M1708.22 1714.66 V1729.47 M1708.92 1715.84 V1729.64 M1709.62 1716.66 V1730.15 M1710.32 1716.86 V1731.23 M1711.02 1718.58 V1730.75 M1711.72 1717.76 V1732.75 M1712.42 1719.8 V1731.82 M1713.12 1720.7 V1731.96 M1713.82 1720.07 V1733.55 M1714.52 1720.51 V1733.98 M1715.22 1721.92 V1733.34 M1715.92 1722.43 V1733.51 M1716.62 1721.63 V1734.9 M1717.32 1721.05 V1735.99 M1718.02 1721.47 V1735.99 M1718.72 1721.46 V1736.34 M1719.42 1721.85 V1736.21 M1720.12 1723.65 V1734.58 M1720.82 1723.29 V1735.03 M1721.52 1723.69 V1734.64 M1722.22 1721.99 V1736.28 M1722.92 1723.65 V1734.46 M1723.62 1721.84 V1736.03 M1724.32 1722.95 V1734.6 M1725.02 1721.71 V1735.43 M1725.72 1721.08 V1735.58 M1726.42 1722.61 V1733.48 M1727.12 1720.15 V1735.28 M1727.82 1720.7 V1733.99 M1728.52 1721.3 V1732.55 M1729.22 1720.2 V1732.73 M1729.92 1719.55 V1732.39 M1730.62 1718.14 V1732.74 M1731.32 1717.99 V1731.76 M1732.02 1717.6 V1730.96 M1732.72 1716.24 V1731.08 M1733.42 1717.35 V1728.69 M1734.12 1716.82 V1727.91 M1734.82 1715.11 V1728.28 M1735.52 1714.84 V1727.18 M1736.22 1713.03 V1727.61 M1736.92 1713.08 V1726.17 M1737.62 1713.38 V1724.49 M1738.32 1711.54 V1724.95 M1739.02 1709.96 V1725.15 M1739.72 1709.39 V1724.38 M1740.42 1710.18 V1722.27 M1741.12 1709.57 V1721.58 M1741.82 1707.91 V1722 M1742.52 1708.85 V1719.86 M1743.22 1708.31 V1719.25 M1743.92 1707.51 V1718.91 M1744.62 1705.27 V1720.03 M1745.32 1704.79 V1719.4 M1746.02 1704.43 V1718.68 M1746.72 1703.86 V1718.16 M1747.42 1704.62 V1716.32 M1748.12 1704.19 V1715.69 M1748.82 1703.41 V1715.41 M1749.52 1702.65 V1715.11 M1750.22 1701.92 V1714.79 M1750.92 1700.6 V1715.06 M1751.62 1701.84 V1712.76 M1752.32 1700.74 V1712.81 M1753.02 1699.27 V1713.21 M1753.72 1699.06 V1712.36" fill="none" stroke="#ff2a3a" stroke-width="0.7" stroke-opacity="0.5"/>
<rect x="973.5" y="1539.5" width="781" height="307" fill="none" stroke="#999" stroke-width="1.2"/>
<rect x="1626.5" y="1544.5" width="123.75" height="46.25" fill="#fff" stroke="#808080" stroke-width="1"/>
<line x1="1632.75" y1="1556.25" x2="1662" y2="1556.25" stroke="#a0a0ff" stroke-width="1"/>
<line x1="1632.75" y1="1578" x2="1662" y2="1578" stroke="#ffb0b0" stroke-width="1.2"/>
<text transform="translate(1670.25 1558) scale(1 1.06)" font-size="16">with PI</text>
<text transform="translate(1672 1583) scale(1 1.06)" font-size="16">with SMC</text>
<text transform="translate(967.5 1550) scale(1 1.1)" font-size="22.6" text-anchor="end">1</text>
<text transform="translate(967.5 1602.5) scale(1 1.1)" font-size="22.6" text-anchor="end">0.5</text>
<text transform="translate(967.5 1650) scale(1 1.1)" font-size="22.6" text-anchor="end">0</text>
<text transform="translate(967.5 1700.5) scale(1 1.1)" font-size="22.6" text-anchor="end">-0.5</text>
<text transform="translate(967.5 1751.3) scale(1 1.1)" font-size="22.6" text-anchor="end">-1</text>
<text transform="translate(967.5 1802.5) scale(1 1.1)" font-size="22.6" text-anchor="end">-1.5</text>
<text transform="translate(967.5 1853) scale(1 1.1)" font-size="22.6" text-anchor="end">-2</text>
<text transform="translate(977.5 1877) scale(1 1.1)" font-size="22.6" text-anchor="middle">0</text>
<text transform="translate(1054.5 1877) scale(1 1.1)" font-size="22.6" text-anchor="middle">2</text>
<text transform="translate(1133 1877) scale(1 1.1)" font-size="22.6" text-anchor="middle">4</text>
<text transform="translate(1211.25 1877) scale(1 1.1)" font-size="22.6" text-anchor="middle">6</text>
<text transform="translate(1289.5 1877) scale(1 1.1)" font-size="22.6" text-anchor="middle">8</text>
<text transform="translate(1369.5 1877) scale(1 1.1)" font-size="22.6" text-anchor="middle">10</text>
<text transform="translate(1446.7 1877) scale(1 1.1)" font-size="22.6" text-anchor="middle">12</text>
<text transform="translate(1525 1877) scale(1 1.1)" font-size="22.6" text-anchor="middle">14</text>
<text transform="translate(1602.7 1877) scale(1 1.1)" font-size="22.6" text-anchor="middle">16</text>
<text transform="translate(1680.9 1877) scale(1 1.1)" font-size="22.6" text-anchor="middle">18</text>
<text transform="translate(1758.1 1877) scale(1 1.1)" font-size="22.6" text-anchor="middle">20</text>
<text transform="translate(1329.4 1894) scale(1 1.1)" font-size="22.6" textLength="94.2" lengthAdjust="spacingAndGlyphs">Time (sec)</text>
<text transform="translate(1222 1525.5) scale(1 1.1)" font-size="22.6" textLength="299" lengthAdjust="spacingAndGlyphs">Electromagnetic Torque Behavior</text>
<text transform="translate(914,1702.3) rotate(-90)" text-anchor="middle" font-size="22.6">T<tspan font-size="15" dy="4">em</tspan><tspan dy="-4"> (p.u.)</tspan></text>
<text x="-0.5" y="29" font-size="37.5" font-weight="bold" font-family="Liberation Sans, Arial, sans-serif">A</text>
<text x="858" y="28.8" font-size="37.5" font-weight="bold" font-family="Liberation Sans, Arial, sans-serif">B</text>
<text x="1" y="530.3" font-size="37.5" font-weight="bold" font-family="Liberation Sans, Arial, sans-serif">C</text>
<text x="858" y="530.2" font-size="37.5" font-weight="bold" font-family="Liberation Sans, Arial, sans-serif">D</text>
<text x="2.2" y="1061.5" font-size="37.5" font-weight="bold" font-family="Liberation Sans, Arial, sans-serif">E</text>
<text x="858" y="1061.3" font-size="37.5" font-weight="bold" font-family="Liberation Sans, Arial, sans-serif">F</text>
<text x="1.2" y="1536.6" font-size="37.5" font-weight="bold" font-family="Liberation Sans, Arial, sans-serif">G</text>
<text x="858" y="1537" font-size="37.5" font-weight="bold" font-family="Liberation Sans, Arial, sans-serif">H</text>
</svg>
</body></html>
